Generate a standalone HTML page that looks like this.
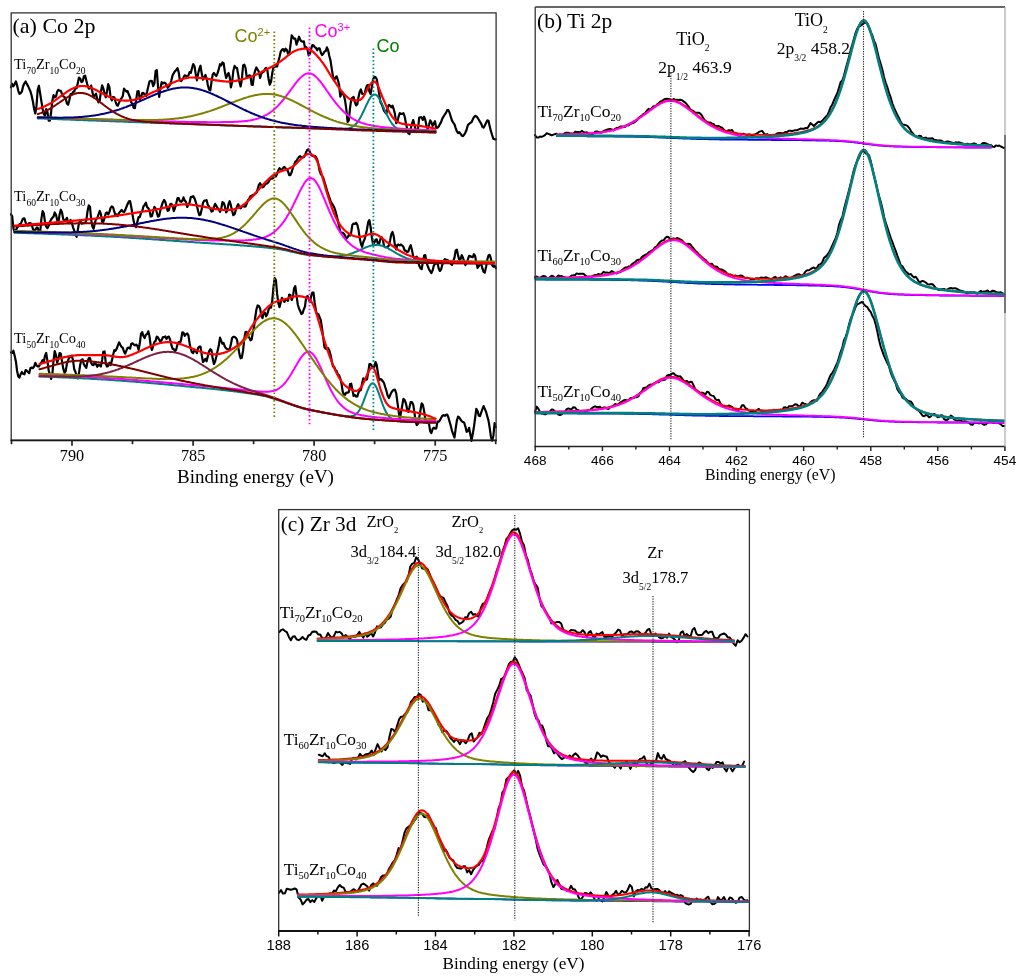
<!DOCTYPE html>
<html><head><meta charset="utf-8"><title>XPS spectra</title>
<style>html,body{margin:0;padding:0;background:#fff;width:1024px;height:980px;overflow:hidden}svg{display:block;will-change:transform}</style>
</head><body>
<svg width="1024" height="980" viewBox="0 0 1024 980">
<rect width="1024" height="980" fill="#fff"/>
<path d="M11,87.4 L12.2,83.7 L13.4,86.3 L14.6,84.3 L15.9,81.4 L17.1,85.4 L18.3,90.8 L19.5,93.8 L20.7,93.2 L21.9,91.5 L23.1,86.2 L24.4,83.3 L25.6,81.5 L26.8,83.9 L28,85.9 L29.2,88.6 L30.4,91.3 L31.7,95.9 L32.9,101.5 L34.1,108.7 L35.3,113.5 L36.5,105.7 L37.7,89.9 L38.9,85.7 L40.2,93.7 L41.4,101.4 L42.6,108.8 L43.8,114 L45,115.8 L46.2,109 L47.4,111.6 L48.7,120.6 L49.9,120.6 L51.1,112.5 L52.3,100.9 L53.5,95.1 L54.7,97.3 L56,96.5 L57.2,91.6 L58.4,89.8 L59.6,90.7 L60.8,90.8 L62,93.8 L63.2,96.1 L64.5,97.1 L65.7,98.4 L66.9,103.4 L68.1,104.6 L69.3,100.2 L70.5,94.2 L71.8,94.4 L73,92.1 L74.2,91.6 L75.4,87.9 L76.6,88.3 L77.8,83 L79,77.5 L80.3,78.8 L81.5,82.1 L82.7,81.3 L83.9,76.3 L85.1,75.6 L86.3,80.6 L87.5,85.2 L88.8,88.6 L90,88.2 L91.2,85.6 L92.4,92.1 L93.6,97.2 L94.8,95.1 L96,93.7 L97.3,99.2 L98.5,102.4 L99.7,100.5 L100.9,91.9 L102.1,85.4 L103.3,88.2 L104.6,93.6 L105.8,97.3 L107,91.7 L108.2,84.2 L109.4,87.1 L110.6,97.3 L111.8,100.4 L113.1,97 L114.3,97.4 L115.5,101.5 L116.7,105 L117.9,105.7 L119.1,102.4 L120.3,100 L121.6,98.2 L122.8,96 L124,88.6 L125.2,90.1 L126.4,91.7 L127.6,91.1 L128.9,94.8 L130.1,97.5 L131.3,102.4 L132.5,104 L133.7,107.9 L134.9,108.1 L136.1,100.2 L137.4,91.4 L138.6,91.2 L139.8,99.3 L141,97.5 L142.2,93 L143.4,92.8 L144.6,94.6 L145.9,96.1 L147.1,91.6 L148.3,86.5 L149.5,81.4 L150.7,80.8 L151.9,81.1 L153.2,86.1 L154.4,83.4 L155.6,71 L156.8,70.1 L158,86.4 L159.2,96.8 L160.4,88.5 L161.7,82.1 L162.9,83.6 L164.1,82.6 L165.3,83 L166.5,84.9 L167.7,87.8 L168.9,86.4 L170.2,84.6 L171.4,80.3 L172.6,75.3 L173.8,73.1 L175,71.2 L176.2,70.1 L177.5,68.1 L178.7,72.2 L179.9,80.6 L181.1,81.1 L182.3,79.4 L183.5,77.6 L184.7,75.3 L186,75.8 L187.2,76.9 L188.4,75.4 L189.6,72.1 L190.8,72.9 L192,68.3 L193.2,64 L194.5,66.2 L195.7,73.9 L196.9,80.3 L198.1,73.8 L199.3,68.9 L200.5,65.7 L201.8,74.1 L203,79.7 L204.2,77.7 L205.4,75 L206.6,78.3 L207.8,84.8 L209,89.6 L210.3,90.4 L211.5,82 L212.7,74.4 L213.9,73 L215.1,74.7 L216.3,76 L217.5,73.4 L218.8,69.2 L220,64.2 L221.2,65.4 L222.4,62.4 L223.6,63.1 L224.8,71.2 L226.1,77.9 L227.3,75.5 L228.5,72.9 L229.7,76.9 L230.9,87.5 L232.1,82.3 L233.3,71 L234.6,65.9 L235.8,67.6 L237,68 L238.2,74.6 L239.4,81.7 L240.6,86.5 L241.8,79.7 L243.1,65.5 L244.3,64.7 L245.5,67.6 L246.7,77 L247.9,76.9 L249.1,75.3 L250.4,75.7 L251.6,84.6 L252.8,85 L254,74.9 L255.2,70.5 L256.4,67.5 L257.6,69.6 L258.9,71.8 L260.1,78 L261.3,73.8 L262.5,72.2 L263.7,71.7 L264.9,68.9 L266.1,67.9 L267.4,70.5 L268.6,79.3 L269.8,84.7 L271,81.8 L272.2,73.3 L273.4,67.7 L274.7,66.8 L275.9,66.4 L277.1,66.5 L278.3,61.6 L279.5,56.9 L280.7,51.7 L281.9,49.7 L283.2,49.1 L284.4,51.4 L285.6,48.7 L286.8,49.8 L288,53.8 L289.2,54.4 L290.4,45.8 L291.7,35.3 L292.9,37.2 L294.1,38.7 L295.3,38.7 L296.5,44.6 L297.7,41.4 L299,36.7 L300.2,39.6 L301.4,41.3 L302.6,41.6 L303.8,41.3 L305,47.7 L306.2,47.1 L307.5,49.5 L308.7,55.5 L309.9,53.7 L311.1,49.1 L312.3,45.1 L313.5,45.4 L314.7,47.1 L316,48 L317.2,50.3 L318.4,48.3 L319.6,48.3 L320.8,52.5 L322,55.1 L323.3,53.8 L324.5,51.5 L325.7,51.2 L326.9,47.4 L328.1,50 L329.3,56 L330.5,60.4 L331.8,69.2 L333,76.5 L334.2,80.3 L335.4,77.5 L336.6,76.3 L337.8,79.8 L339,84.2 L340.3,96.7 L341.5,93.5 L342.7,92.4 L343.9,95.5 L345.1,100.6 L346.3,109.2 L347.6,121.9 L348.8,120.6 L350,108.3 L351.2,99.6 L352.4,97.7 L353.6,97 L354.8,101.8 L356.1,105.4 L357.3,104.3 L358.5,97.2 L359.7,91.8 L360.9,89.4 L362.1,93.7 L363.3,94.2 L364.6,93.7 L365.8,89.1 L367,85.4 L368.2,84.9 L369.4,91.5 L370.6,94.1 L371.9,86.4 L373.1,79.3 L374.3,76.9 L375.5,77 L376.7,79 L377.9,85.7 L379.1,93.4 L380.4,101.9 L381.6,104.3 L382.8,107.2 L384,110.9 L385.2,112.4 L386.4,113.6 L387.6,107.7 L388.9,104.9 L390.1,105.6 L391.3,107.3 L392.5,105.7 L393.7,109.2 L394.9,113.6 L396.2,123.2 L397.4,121.7 L398.6,116.6 L399.8,113.1 L401,113.9 L402.2,113.9 L403.4,113.1 L404.7,116.6 L405.9,123.3 L407.1,128.4 L408.3,133.3 L409.5,134 L410.7,128.8 L411.9,123.9 L413.2,120.1 L414.4,124.8 L415.6,129.4 L416.8,132.1 L418,129 L419.2,117.6 L420.5,117.3 L421.7,117.4 L422.9,119.9 L424.1,116.7 L425.3,120 L426.5,125.8 L427.7,128.8 L429,124.8 L430.2,120.4 L431.4,122.3 L432.6,126 L433.8,123.6 L435,121.2 L436.2,128 L437.5,127.6 L438.7,126.5 L439.9,124.1 L441.1,122.1 L442.3,118.6 L443.5,116.6 L444.8,114.5 L446,112.9 L447.2,110.1 L448.4,110.1 L449.6,112.8 L450.8,116.7 L452,120.6 L453.3,122.7 L454.5,124.4 L455.7,128.1 L456.9,131.4 L458.1,133.1 L459.3,132.2 L460.5,133.6 L461.8,135.7 L463,136.1 L464.2,134.6 L465.4,132.5 L466.6,129.7 L467.8,125.2 L469.1,123.8 L470.3,122.9 L471.5,122.2 L472.7,119.6 L473.9,117.2 L475.1,115.9 L476.3,116.3 L477.6,117.8 L478.8,119.8 L480,121.9 L481.2,123.7 L482.4,126.9 L483.6,127.7 L484.8,125.4 L486.1,122.8 L487.3,120.4 L488.5,120.8 L489.7,126.2 L490.9,131.2 L492.1,135 L493.4,138.8 L494.6,139.3 L495.8,139.3" fill="none" stroke="#000" stroke-width="2.2" stroke-linejoin="round" stroke-linecap="round"/>
<path d="M37.8,118.4 L38.8,118.4 L39.8,118.5 L40.8,118.5 L41.8,118.6 L42.8,118.6 L43.8,118.6 L44.8,118.7 L45.8,118.7 L46.8,118.7 L47.8,118.8 L48.8,118.8 L49.8,118.9 L50.8,118.9 L51.8,118.9 L52.8,119 L53.8,119 L54.8,119.1 L55.8,119.1 L56.8,119.1 L57.8,119.2 L58.8,119.2 L59.8,119.3 L60.8,119.3 L61.8,119.3 L62.8,119.4 L63.8,119.4 L64.8,119.4 L65.8,119.5 L66.8,119.5 L67.8,119.6 L68.8,119.6 L69.8,119.6 L70.8,119.7 L71.8,119.7 L72.8,119.8 L73.8,119.8 L74.8,119.8 L75.8,119.9 L76.8,119.9 L77.8,119.9 L78.8,120 L79.8,120 L80.8,120.1 L81.8,120.1 L82.8,120.1 L83.8,120.2 L84.8,120.2 L85.8,120.3 L86.8,120.3 L87.8,120.3 L88.8,120.4 L89.8,120.4 L90.8,120.4 L91.8,120.5 L92.8,120.5 L93.8,120.6 L94.8,120.6 L95.8,120.6 L96.8,120.7 L97.8,120.7 L98.8,120.7 L99.8,120.8 L100.8,120.8 L101.8,120.9 L102.8,120.9 L103.8,120.9 L104.8,121 L105.8,121 L106.8,121 L107.8,121.1 L108.8,121.1 L109.8,121.2 L110.8,121.2 L111.8,121.2 L112.8,121.3 L113.8,121.3 L114.8,121.3 L115.8,121.4 L116.8,121.4 L117.8,121.5 L118.8,121.5 L119.8,121.5 L120.8,121.6 L121.8,121.6 L122.8,121.6 L123.8,121.7 L124.8,121.7 L125.8,121.8 L126.8,121.8 L127.8,121.8 L128.8,121.9 L129.8,121.9 L130.8,121.9 L131.8,122 L132.8,122 L133.8,122.1 L134.8,122.1 L135.8,122.1 L136.8,122.2 L137.8,122.2 L138.8,122.2 L139.8,122.3 L140.8,122.3 L141.8,122.3 L142.8,122.4 L143.8,122.4 L144.8,122.5 L145.8,122.5 L146.8,122.5 L147.8,122.6 L148.8,122.6 L149.8,122.6 L150.8,122.7 L151.8,122.7 L152.8,122.7 L153.8,122.8 L154.8,122.8 L155.8,122.9 L156.8,122.9 L157.8,122.9 L158.8,123 L159.8,123 L160.8,123 L161.8,123.1 L162.8,123.1 L163.8,123.1 L164.8,123.2 L165.8,123.2 L166.8,123.3 L167.8,123.3 L168.8,123.3 L169.8,123.4 L170.8,123.4 L171.8,123.4 L172.8,123.5 L173.8,123.5 L174.8,123.5 L175.8,123.6 L176.8,123.6 L177.8,123.7 L178.8,123.7 L179.8,123.7 L180.8,123.8 L181.8,123.8 L182.8,123.8 L183.8,123.9 L184.8,123.9 L185.8,123.9 L186.8,124 L187.8,124 L188.8,124.1 L189.8,124.1 L190.8,124.1 L191.8,124.2 L192.8,124.2 L193.8,124.2 L194.8,124.3 L195.8,124.3 L196.8,124.3 L197.8,124.4 L198.8,124.4 L199.8,124.5 L200.8,124.5 L201.8,124.5 L202.8,124.6 L203.8,124.6 L204.8,124.6 L205.8,124.7 L206.8,124.7 L207.8,124.7 L208.8,124.8 L209.8,124.8 L210.8,124.9 L211.8,124.9 L212.8,124.9 L213.8,125 L214.8,125 L215.8,125 L216.8,125.1 L217.8,125.1 L218.8,125.1 L219.8,125.2 L220.8,125.2 L221.8,125.3 L222.8,125.3 L223.8,125.3 L224.8,125.4 L225.8,125.4 L226.8,125.4 L227.8,125.5 L228.8,125.5 L229.8,125.5 L230.8,125.6 L231.8,125.6 L232.8,125.7 L233.8,125.7 L234.8,125.7 L235.8,125.8 L236.8,125.8 L237.8,125.8 L238.8,125.9 L239.8,125.9 L240.8,125.9 L241.8,126 L242.8,126 L243.8,126 L244.8,126.1 L245.8,126.1 L246.8,126.2 L247.8,126.2 L248.8,126.2 L249.8,126.3 L250.8,126.3 L251.8,126.3 L252.8,126.4 L253.8,126.4 L254.8,126.4 L255.8,126.5 L256.8,126.5 L257.8,126.5 L258.8,126.6 L259.8,126.6 L260.8,126.6 L261.8,126.7 L262.8,126.7 L263.8,126.7 L264.8,126.8 L265.8,126.8 L266.8,126.8 L267.8,126.9 L268.8,126.9 L269.8,126.9 L270.8,127 L271.8,127 L272.8,127 L273.8,127.1 L274.8,127.1 L275.8,127.1 L276.8,127.2 L277.8,127.2 L278.8,127.2 L279.8,127.3 L280.8,127.3 L281.8,127.3 L282.8,127.4 L283.8,127.4 L284.8,127.4 L285.8,127.5 L286.8,127.5 L287.8,127.5 L288.8,127.6 L289.8,127.6 L290.8,127.6 L291.8,127.7 L292.8,127.7 L293.8,127.7 L294.8,127.7 L295.8,127.8 L296.8,127.8 L297.8,127.8 L298.8,127.9 L299.8,127.9 L300.8,127.9 L301.8,128 L302.8,128 L303.8,128 L304.8,128.1 L305.8,128.1 L306.8,128.1 L307.8,128.2 L308.8,128.2 L309.8,128.2 L310.8,128.2 L311.8,128.3 L312.8,128.3 L313.8,128.3 L314.8,128.4 L315.8,128.4 L316.8,128.4 L317.8,128.5 L318.8,128.5 L319.8,128.5 L320.8,128.6 L321.8,128.6 L322.8,128.6 L323.8,128.7 L324.8,128.7 L325.8,128.7 L326.8,128.8 L327.8,128.8 L328.8,128.8 L329.8,128.9 L330.8,128.9 L331.8,128.9 L332.8,129 L333.8,129 L334.8,129 L335.8,129 L336.8,129.1 L337.8,129.1 L338.8,129.1 L339.8,129.1 L340.8,129.1 L341.8,129.1 L342.8,129 L343.8,129 L344.8,128.9 L345.8,128.8 L346.8,128.7 L347.8,128.5 L348.8,128.3 L349.8,128 L350.8,127.6 L351.8,127.1 L352.8,126.5 L353.8,125.8 L354.8,125 L355.8,124 L356.8,122.9 L357.8,121.6 L358.8,120.2 L359.8,118.5 L360.8,116.8 L361.8,114.9 L362.8,112.8 L363.8,110.7 L364.8,108.6 L365.8,106.4 L366.8,104.2 L367.8,102.2 L368.8,100.3 L369.8,98.5 L370.8,97 L371.8,95.9 L372.8,95 L373.8,94.5 L374.8,94.4 L375.8,94.7 L376.8,95.4 L377.8,96.5 L378.8,97.9 L379.8,99.5 L380.8,101.4 L381.8,103.5 L382.8,105.6 L383.8,107.9 L384.8,110.1 L385.8,112.3 L386.8,114.5 L387.8,116.5 L388.8,118.4 L389.8,120.2 L390.8,121.8 L391.8,123.3 L392.8,124.6 L393.8,125.7 L394.8,126.7 L395.8,127.5 L396.8,128.3 L397.8,128.9 L398.8,129.4 L399.8,129.8 L400.8,130.1 L401.8,130.4 L402.8,130.6 L403.8,130.8 L404.8,131 L405.8,131.1 L406.8,131.2 L407.8,131.3 L408.8,131.4 L409.8,131.5 L410.8,131.5 L411.8,131.6 L412.8,131.6 L413.8,131.7 L414.8,131.7 L415.8,131.8 L416.8,131.8 L417.8,131.8 L418.8,131.9 L419.8,131.9 L420.8,131.9 L421.8,132 L422.8,132 L423.8,132 L424.8,132.1 L425.8,132.1 L426.8,132.1 L427.8,132.2 L428.8,132.2 L429.8,132.2 L430.8,132.2 L431.8,132.3 L432.8,132.3 L433.8,132.3 L434.8,132.4 L435.5,132.4" fill="none" stroke="#008080" stroke-width="2.0" stroke-linejoin="round" stroke-linecap="round"/>
<path d="M37.8,117.2 L38.8,117.2 L39.8,117.2 L40.8,117.3 L41.8,117.3 L42.8,117.4 L43.8,117.4 L44.8,117.4 L45.8,117.5 L46.8,117.5 L47.8,117.5 L48.8,117.6 L49.8,117.6 L50.8,117.6 L51.8,117.7 L52.8,117.7 L53.8,117.8 L54.8,117.8 L55.8,117.8 L56.8,117.9 L57.8,117.9 L58.8,117.9 L59.8,118 L60.8,118 L61.8,118.1 L62.8,118.1 L63.8,118.1 L64.8,118.2 L65.8,118.2 L66.8,118.2 L67.8,118.3 L68.8,118.3 L69.8,118.3 L70.8,118.4 L71.8,118.4 L72.8,118.5 L73.8,118.5 L74.8,118.5 L75.8,118.6 L76.8,118.6 L77.8,118.6 L78.8,118.7 L79.8,118.7 L80.8,118.7 L81.8,118.8 L82.8,118.8 L83.8,118.8 L84.8,118.9 L85.8,118.9 L86.8,118.9 L87.8,119 L88.8,119 L89.8,119.1 L90.8,119.1 L91.8,119.1 L92.8,119.2 L93.8,119.2 L94.8,119.2 L95.8,119.3 L96.8,119.3 L97.8,119.3 L98.8,119.4 L99.8,119.4 L100.8,119.4 L101.8,119.5 L102.8,119.5 L103.8,119.5 L104.8,119.6 L105.8,119.6 L106.8,119.6 L107.8,119.7 L108.8,119.7 L109.8,119.7 L110.8,119.8 L111.8,119.8 L112.8,119.8 L113.8,119.9 L114.8,119.9 L115.8,119.9 L116.8,120 L117.8,120 L118.8,120 L119.8,120.1 L120.8,120.1 L121.8,120.1 L122.8,120.2 L123.8,120.2 L124.8,120.2 L125.8,120.3 L126.8,120.3 L127.8,120.3 L128.8,120.3 L129.8,120.4 L130.8,120.4 L131.8,120.4 L132.8,120.5 L133.8,120.5 L134.8,120.5 L135.8,120.6 L136.8,120.6 L137.8,120.6 L138.8,120.7 L139.8,120.7 L140.8,120.7 L141.8,120.7 L142.8,120.8 L143.8,120.8 L144.8,120.8 L145.8,120.9 L146.8,120.9 L147.8,120.9 L148.8,120.9 L149.8,121 L150.8,121 L151.8,121 L152.8,121.1 L153.8,121.1 L154.8,121.1 L155.8,121.1 L156.8,121.2 L157.8,121.2 L158.8,121.2 L159.8,121.2 L160.8,121.3 L161.8,121.3 L162.8,121.3 L163.8,121.4 L164.8,121.4 L165.8,121.4 L166.8,121.4 L167.8,121.5 L168.8,121.5 L169.8,121.5 L170.8,121.5 L171.8,121.5 L172.8,121.6 L173.8,121.6 L174.8,121.6 L175.8,121.6 L176.8,121.7 L177.8,121.7 L178.8,121.7 L179.8,121.7 L180.8,121.8 L181.8,121.8 L182.8,121.8 L183.8,121.8 L184.8,121.8 L185.8,121.9 L186.8,121.9 L187.8,121.9 L188.8,121.9 L189.8,121.9 L190.8,121.9 L191.8,122 L192.8,122 L193.8,122 L194.8,122 L195.8,122 L196.8,122 L197.8,122 L198.8,122.1 L199.8,122.1 L200.8,122.1 L201.8,122.1 L202.8,122.1 L203.8,122.1 L204.8,122.1 L205.8,122.1 L206.8,122.1 L207.8,122.2 L208.8,122.2 L209.8,122.2 L210.8,122.2 L211.8,122.2 L212.8,122.2 L213.8,122.2 L214.8,122.2 L215.8,122.2 L216.8,122.2 L217.8,122.2 L218.8,122.2 L219.8,122.2 L220.8,122.2 L221.8,122.1 L222.8,122.1 L223.8,122.1 L224.8,122.1 L225.8,122.1 L226.8,122.1 L227.8,122 L228.8,122 L229.8,122 L230.8,122 L231.8,121.9 L232.8,121.9 L233.8,121.9 L234.8,121.8 L235.8,121.8 L236.8,121.7 L237.8,121.7 L238.8,121.6 L239.8,121.5 L240.8,121.5 L241.8,121.4 L242.8,121.3 L243.8,121.2 L244.8,121.1 L245.8,121 L246.8,120.9 L247.8,120.7 L248.8,120.6 L249.8,120.4 L250.8,120.2 L251.8,120.1 L252.8,119.9 L253.8,119.6 L254.8,119.4 L255.8,119.1 L256.8,118.9 L257.8,118.6 L258.8,118.2 L259.8,117.9 L260.8,117.5 L261.8,117.1 L262.8,116.7 L263.8,116.2 L264.8,115.7 L265.8,115.2 L266.8,114.6 L267.8,114 L268.8,113.4 L269.8,112.7 L270.8,112 L271.8,111.3 L272.8,110.5 L273.8,109.6 L274.8,108.8 L275.8,107.8 L276.8,106.9 L277.8,105.9 L278.8,104.8 L279.8,103.8 L280.8,102.6 L281.8,101.5 L282.8,100.3 L283.8,99.1 L284.8,97.8 L285.8,96.5 L286.8,95.2 L287.8,93.9 L288.8,92.6 L289.8,91.2 L290.8,89.8 L291.8,88.5 L292.8,87.1 L293.8,85.8 L294.8,84.4 L295.8,83.1 L296.8,81.9 L297.8,80.7 L298.8,79.5 L299.8,78.4 L300.8,77.4 L301.8,76.5 L302.8,75.7 L303.8,75 L304.8,74.4 L305.8,73.9 L306.8,73.6 L307.8,73.4 L308.8,73.3 L309.8,73.4 L310.8,73.6 L311.8,73.9 L312.8,74.4 L313.8,75.1 L314.8,75.8 L315.8,76.6 L316.8,77.6 L317.8,78.6 L318.8,79.8 L319.8,81 L320.8,82.2 L321.8,83.5 L322.8,84.9 L323.8,86.3 L324.8,87.7 L325.8,89.1 L326.8,90.6 L327.8,92 L328.8,93.4 L329.8,94.9 L330.8,96.3 L331.8,97.7 L332.8,99 L333.8,100.4 L334.8,101.7 L335.8,103 L336.8,104.2 L337.8,105.4 L338.8,106.6 L339.8,107.7 L340.8,108.8 L341.8,109.8 L342.8,110.8 L343.8,111.8 L344.8,112.7 L345.8,113.6 L346.8,114.5 L347.8,115.3 L348.8,116 L349.8,116.8 L350.8,117.4 L351.8,118.1 L352.8,118.7 L353.8,119.3 L354.8,119.8 L355.8,120.4 L356.8,120.8 L357.8,121.3 L358.8,121.7 L359.8,122.1 L360.8,122.5 L361.8,122.9 L362.8,123.2 L363.8,123.5 L364.8,123.8 L365.8,124.1 L366.8,124.4 L367.8,124.6 L368.8,124.9 L369.8,125.1 L370.8,125.3 L371.8,125.5 L372.8,125.7 L373.8,125.9 L374.8,126 L375.8,126.2 L376.8,126.3 L377.8,126.5 L378.8,126.6 L379.8,126.8 L380.8,126.9 L381.8,127 L382.8,127.1 L383.8,127.2 L384.8,127.3 L385.8,127.4 L386.8,127.5 L387.8,127.6 L388.8,127.7 L389.8,127.8 L390.8,127.9 L391.8,128 L392.8,128.1 L393.8,128.2 L394.8,128.2 L395.8,128.3 L396.8,128.4 L397.8,128.5 L398.8,128.5 L399.8,128.6 L400.8,128.7 L401.8,128.7 L402.8,128.8 L403.8,128.9 L404.8,128.9 L405.8,129 L406.8,129.1 L407.8,129.1 L408.8,129.2 L409.8,129.2 L410.8,129.3 L411.8,129.4 L412.8,129.4 L413.8,129.5 L414.8,129.5 L415.8,129.6 L416.8,129.6 L417.8,129.7 L418.8,129.7 L419.8,129.8 L420.8,129.8 L421.8,129.9 L422.8,129.9 L423.8,130 L424.8,130 L425.8,130 L426.8,130.1 L427.8,130.1 L428.8,130.2 L429.8,130.2 L430.8,130.3 L431.8,130.3 L432.8,130.3 L433.8,130.4 L434.8,130.4 L435.5,130.4" fill="none" stroke="#FF00FF" stroke-width="2.0" stroke-linejoin="round" stroke-linecap="round"/>
<path d="M37.8,117.1 L38.8,117.1 L39.8,117.2 L40.8,117.2 L41.8,117.3 L42.8,117.3 L43.8,117.3 L44.8,117.4 L45.8,117.4 L46.8,117.4 L47.8,117.5 L48.8,117.5 L49.8,117.5 L50.8,117.6 L51.8,117.6 L52.8,117.7 L53.8,117.7 L54.8,117.7 L55.8,117.8 L56.8,117.8 L57.8,117.8 L58.8,117.9 L59.8,117.9 L60.8,117.9 L61.8,118 L62.8,118 L63.8,118 L64.8,118.1 L65.8,118.1 L66.8,118.1 L67.8,118.2 L68.8,118.2 L69.8,118.3 L70.8,118.3 L71.8,118.3 L72.8,118.4 L73.8,118.4 L74.8,118.4 L75.8,118.5 L76.8,118.5 L77.8,118.5 L78.8,118.6 L79.8,118.6 L80.8,118.6 L81.8,118.7 L82.8,118.7 L83.8,118.7 L84.8,118.8 L85.8,118.8 L86.8,118.8 L87.8,118.9 L88.8,118.9 L89.8,118.9 L90.8,119 L91.8,119 L92.8,119 L93.8,119.1 L94.8,119.1 L95.8,119.1 L96.8,119.2 L97.8,119.2 L98.8,119.2 L99.8,119.2 L100.8,119.3 L101.8,119.3 L102.8,119.3 L103.8,119.4 L104.8,119.4 L105.8,119.4 L106.8,119.5 L107.8,119.5 L108.8,119.5 L109.8,119.5 L110.8,119.6 L111.8,119.6 L112.8,119.6 L113.8,119.7 L114.8,119.7 L115.8,119.7 L116.8,119.7 L117.8,119.8 L118.8,119.8 L119.8,119.8 L120.8,119.8 L121.8,119.8 L122.8,119.9 L123.8,119.9 L124.8,119.9 L125.8,119.9 L126.8,120 L127.8,120 L128.8,120 L129.8,120 L130.8,120 L131.8,120 L132.8,120.1 L133.8,120.1 L134.8,120.1 L135.8,120.1 L136.8,120.1 L137.8,120.1 L138.8,120.1 L139.8,120.1 L140.8,120.1 L141.8,120.1 L142.8,120.1 L143.8,120.1 L144.8,120.1 L145.8,120.1 L146.8,120.1 L147.8,120.1 L148.8,120.1 L149.8,120.1 L150.8,120.1 L151.8,120 L152.8,120 L153.8,120 L154.8,120 L155.8,119.9 L156.8,119.9 L157.8,119.9 L158.8,119.8 L159.8,119.8 L160.8,119.8 L161.8,119.7 L162.8,119.7 L163.8,119.6 L164.8,119.5 L165.8,119.5 L166.8,119.4 L167.8,119.3 L168.8,119.3 L169.8,119.2 L170.8,119.1 L171.8,119 L172.8,118.9 L173.8,118.8 L174.8,118.7 L175.8,118.6 L176.8,118.5 L177.8,118.4 L178.8,118.2 L179.8,118.1 L180.8,118 L181.8,117.8 L182.8,117.7 L183.8,117.5 L184.8,117.3 L185.8,117.2 L186.8,117 L187.8,116.8 L188.8,116.6 L189.8,116.4 L190.8,116.2 L191.8,116 L192.8,115.8 L193.8,115.6 L194.8,115.3 L195.8,115.1 L196.8,114.8 L197.8,114.6 L198.8,114.3 L199.8,114.1 L200.8,113.8 L201.8,113.5 L202.8,113.2 L203.8,112.9 L204.8,112.6 L205.8,112.3 L206.8,112 L207.8,111.7 L208.8,111.4 L209.8,111.1 L210.8,110.7 L211.8,110.4 L212.8,110 L213.8,109.7 L214.8,109.3 L215.8,109 L216.8,108.6 L217.8,108.2 L218.8,107.8 L219.8,107.5 L220.8,107.1 L221.8,106.7 L222.8,106.3 L223.8,105.9 L224.8,105.5 L225.8,105.1 L226.8,104.7 L227.8,104.3 L228.8,103.9 L229.8,103.5 L230.8,103.2 L231.8,102.8 L232.8,102.4 L233.8,102 L234.8,101.6 L235.8,101.2 L236.8,100.8 L237.8,100.5 L238.8,100.1 L239.8,99.7 L240.8,99.4 L241.8,99 L242.8,98.7 L243.8,98.3 L244.8,98 L245.8,97.7 L246.8,97.4 L247.8,97.1 L248.8,96.8 L249.8,96.5 L250.8,96.2 L251.8,96 L252.8,95.7 L253.8,95.5 L254.8,95.3 L255.8,95.1 L256.8,94.9 L257.8,94.7 L258.8,94.6 L259.8,94.4 L260.8,94.3 L261.8,94.2 L262.8,94.1 L263.8,94 L264.8,94 L265.8,93.9 L266.8,93.9 L267.8,93.9 L268.8,94 L269.8,94 L270.8,94.1 L271.8,94.2 L272.8,94.3 L273.8,94.4 L274.8,94.6 L275.8,94.8 L276.8,95 L277.8,95.2 L278.8,95.5 L279.8,95.7 L280.8,96 L281.8,96.4 L282.8,96.7 L283.8,97 L284.8,97.4 L285.8,97.8 L286.8,98.2 L287.8,98.6 L288.8,99.1 L289.8,99.5 L290.8,100 L291.8,100.4 L292.8,100.9 L293.8,101.4 L294.8,101.9 L295.8,102.4 L296.8,102.9 L297.8,103.4 L298.8,103.9 L299.8,104.5 L300.8,105 L301.8,105.5 L302.8,106.1 L303.8,106.6 L304.8,107.1 L305.8,107.7 L306.8,108.2 L307.8,108.7 L308.8,109.3 L309.8,109.8 L310.8,110.3 L311.8,110.8 L312.8,111.3 L313.8,111.9 L314.8,112.4 L315.8,112.9 L316.8,113.4 L317.8,113.8 L318.8,114.3 L319.8,114.8 L320.8,115.3 L321.8,115.7 L322.8,116.2 L323.8,116.6 L324.8,117 L325.8,117.5 L326.8,117.9 L327.8,118.3 L328.8,118.7 L329.8,119.1 L330.8,119.5 L331.8,119.8 L332.8,120.2 L333.8,120.6 L334.8,120.9 L335.8,121.2 L336.8,121.6 L337.8,121.9 L338.8,122.2 L339.8,122.5 L340.8,122.8 L341.8,123 L342.8,123.3 L343.8,123.6 L344.8,123.8 L345.8,124.1 L346.8,124.3 L347.8,124.5 L348.8,124.8 L349.8,125 L350.8,125.2 L351.8,125.4 L352.8,125.6 L353.8,125.8 L354.8,125.9 L355.8,126.1 L356.8,126.3 L357.8,126.4 L358.8,126.6 L359.8,126.7 L360.8,126.9 L361.8,127 L362.8,127.2 L363.8,127.3 L364.8,127.4 L365.8,127.5 L366.8,127.6 L367.8,127.8 L368.8,127.9 L369.8,128 L370.8,128.1 L371.8,128.2 L372.8,128.2 L373.8,128.3 L374.8,128.4 L375.8,128.5 L376.8,128.6 L377.8,128.7 L378.8,128.7 L379.8,128.8 L380.8,128.9 L381.8,128.9 L382.8,129 L383.8,129.1 L384.8,129.1 L385.8,129.2 L386.8,129.2 L387.8,129.3 L388.8,129.4 L389.8,129.4 L390.8,129.5 L391.8,129.5 L392.8,129.6 L393.8,129.6 L394.8,129.7 L395.8,129.7 L396.8,129.7 L397.8,129.8 L398.8,129.8 L399.8,129.9 L400.8,129.9 L401.8,130 L402.8,130 L403.8,130 L404.8,130.1 L405.8,130.1 L406.8,130.2 L407.8,130.2 L408.8,130.2 L409.8,130.3 L410.8,130.3 L411.8,130.3 L412.8,130.4 L413.8,130.4 L414.8,130.4 L415.8,130.5 L416.8,130.5 L417.8,130.6 L418.8,130.6 L419.8,130.6 L420.8,130.6 L421.8,130.7 L422.8,130.7 L423.8,130.7 L424.8,130.8 L425.8,130.8 L426.8,130.8 L427.8,130.9 L428.8,130.9 L429.8,130.9 L430.8,130.9 L431.8,131 L432.8,131 L433.8,131 L434.8,131.1 L435.5,131.1" fill="none" stroke="#808000" stroke-width="2.0" stroke-linejoin="round" stroke-linecap="round"/>
<path d="M37.8,117.4 L38.8,117.4 L39.8,117.4 L40.8,117.5 L41.8,117.5 L42.8,117.5 L43.8,117.5 L44.8,117.5 L45.8,117.6 L46.8,117.6 L47.8,117.6 L48.8,117.6 L49.8,117.6 L50.8,117.6 L51.8,117.6 L52.8,117.7 L53.8,117.7 L54.8,117.7 L55.8,117.7 L56.8,117.7 L57.8,117.7 L58.8,117.7 L59.8,117.7 L60.8,117.7 L61.8,117.7 L62.8,117.7 L63.8,117.6 L64.8,117.6 L65.8,117.6 L66.8,117.6 L67.8,117.6 L68.8,117.5 L69.8,117.5 L70.8,117.5 L71.8,117.4 L72.8,117.4 L73.8,117.4 L74.8,117.3 L75.8,117.3 L76.8,117.2 L77.8,117.2 L78.8,117.1 L79.8,117 L80.8,117 L81.8,116.9 L82.8,116.8 L83.8,116.7 L84.8,116.6 L85.8,116.5 L86.8,116.4 L87.8,116.3 L88.8,116.2 L89.8,116.1 L90.8,115.9 L91.8,115.8 L92.8,115.7 L93.8,115.5 L94.8,115.4 L95.8,115.2 L96.8,115.1 L97.8,114.9 L98.8,114.7 L99.8,114.5 L100.8,114.3 L101.8,114.1 L102.8,113.9 L103.8,113.7 L104.8,113.5 L105.8,113.3 L106.8,113 L107.8,112.8 L108.8,112.5 L109.8,112.3 L110.8,112 L111.8,111.7 L112.8,111.4 L113.8,111.1 L114.8,110.8 L115.8,110.5 L116.8,110.2 L117.8,109.9 L118.8,109.6 L119.8,109.2 L120.8,108.9 L121.8,108.5 L122.8,108.2 L123.8,107.8 L124.8,107.4 L125.8,107.1 L126.8,106.7 L127.8,106.3 L128.8,105.9 L129.8,105.5 L130.8,105.1 L131.8,104.7 L132.8,104.3 L133.8,103.8 L134.8,103.4 L135.8,103 L136.8,102.6 L137.8,102.1 L138.8,101.7 L139.8,101.2 L140.8,100.8 L141.8,100.4 L142.8,99.9 L143.8,99.5 L144.8,99 L145.8,98.6 L146.8,98.1 L147.8,97.7 L148.8,97.3 L149.8,96.8 L150.8,96.4 L151.8,96 L152.8,95.5 L153.8,95.1 L154.8,94.7 L155.8,94.3 L156.8,93.9 L157.8,93.5 L158.8,93.1 L159.8,92.7 L160.8,92.4 L161.8,92 L162.8,91.7 L163.8,91.3 L164.8,91 L165.8,90.7 L166.8,90.4 L167.8,90.1 L168.8,89.8 L169.8,89.5 L170.8,89.3 L171.8,89 L172.8,88.8 L173.8,88.6 L174.8,88.4 L175.8,88.2 L176.8,88.1 L177.8,87.9 L178.8,87.8 L179.8,87.7 L180.8,87.6 L181.8,87.6 L182.8,87.5 L183.8,87.5 L184.8,87.5 L185.8,87.5 L186.8,87.5 L187.8,87.5 L188.8,87.6 L189.8,87.7 L190.8,87.8 L191.8,87.9 L192.8,88 L193.8,88.2 L194.8,88.4 L195.8,88.6 L196.8,88.8 L197.8,89 L198.8,89.2 L199.8,89.5 L200.8,89.8 L201.8,90.1 L202.8,90.4 L203.8,90.7 L204.8,91 L205.8,91.4 L206.8,91.8 L207.8,92.1 L208.8,92.5 L209.8,92.9 L210.8,93.3 L211.8,93.8 L212.8,94.2 L213.8,94.6 L214.8,95.1 L215.8,95.5 L216.8,96 L217.8,96.5 L218.8,97 L219.8,97.4 L220.8,97.9 L221.8,98.4 L222.8,98.9 L223.8,99.4 L224.8,99.9 L225.8,100.5 L226.8,101 L227.8,101.5 L228.8,102 L229.8,102.5 L230.8,103 L231.8,103.5 L232.8,104.1 L233.8,104.6 L234.8,105.1 L235.8,105.6 L236.8,106.1 L237.8,106.6 L238.8,107.1 L239.8,107.6 L240.8,108.1 L241.8,108.6 L242.8,109.1 L243.8,109.6 L244.8,110 L245.8,110.5 L246.8,111 L247.8,111.4 L248.8,111.9 L249.8,112.3 L250.8,112.8 L251.8,113.2 L252.8,113.6 L253.8,114 L254.8,114.5 L255.8,114.9 L256.8,115.3 L257.8,115.6 L258.8,116 L259.8,116.4 L260.8,116.8 L261.8,117.1 L262.8,117.5 L263.8,117.8 L264.8,118.2 L265.8,118.5 L266.8,118.8 L267.8,119.1 L268.8,119.4 L269.8,119.7 L270.8,120 L271.8,120.3 L272.8,120.6 L273.8,120.8 L274.8,121.1 L275.8,121.3 L276.8,121.6 L277.8,121.8 L278.8,122 L279.8,122.3 L280.8,122.5 L281.8,122.7 L282.8,122.9 L283.8,123.1 L284.8,123.3 L285.8,123.5 L286.8,123.6 L287.8,123.8 L288.8,124 L289.8,124.2 L290.8,124.3 L291.8,124.5 L292.8,124.6 L293.8,124.8 L294.8,124.9 L295.8,125 L296.8,125.2 L297.8,125.3 L298.8,125.4 L299.8,125.5 L300.8,125.6 L301.8,125.8 L302.8,125.9 L303.8,126 L304.8,126.1 L305.8,126.2 L306.8,126.3 L307.8,126.4 L308.8,126.5 L309.8,126.5 L310.8,126.6 L311.8,126.7 L312.8,126.8 L313.8,126.9 L314.8,127 L315.8,127 L316.8,127.1 L317.8,127.2 L318.8,127.3 L319.8,127.3 L320.8,127.4 L321.8,127.5 L322.8,127.5 L323.8,127.6 L324.8,127.7 L325.8,127.7 L326.8,127.8 L327.8,127.9 L328.8,127.9 L329.8,128 L330.8,128 L331.8,128.1 L332.8,128.2 L333.8,128.2 L334.8,128.3 L335.8,128.3 L336.8,128.4 L337.8,128.4 L338.8,128.5 L339.8,128.5 L340.8,128.6 L341.8,128.6 L342.8,128.7 L343.8,128.7 L344.8,128.8 L345.8,128.8 L346.8,128.9 L347.8,128.9 L348.8,129 L349.8,129 L350.8,129.1 L351.8,129.1 L352.8,129.2 L353.8,129.2 L354.8,129.3 L355.8,129.3 L356.8,129.4 L357.8,129.4 L358.8,129.4 L359.8,129.5 L360.8,129.5 L361.8,129.6 L362.8,129.6 L363.8,129.6 L364.8,129.7 L365.8,129.7 L366.8,129.8 L367.8,129.8 L368.8,129.8 L369.8,129.9 L370.8,129.9 L371.8,130 L372.8,130 L373.8,130 L374.8,130.1 L375.8,130.1 L376.8,130.1 L377.8,130.2 L378.8,130.2 L379.8,130.2 L380.8,130.3 L381.8,130.3 L382.8,130.3 L383.8,130.4 L384.8,130.4 L385.8,130.4 L386.8,130.5 L387.8,130.5 L388.8,130.5 L389.8,130.6 L390.8,130.6 L391.8,130.6 L392.8,130.7 L393.8,130.7 L394.8,130.7 L395.8,130.8 L396.8,130.8 L397.8,130.8 L398.8,130.8 L399.8,130.9 L400.8,130.9 L401.8,130.9 L402.8,131 L403.8,131 L404.8,131 L405.8,131.1 L406.8,131.1 L407.8,131.1 L408.8,131.1 L409.8,131.2 L410.8,131.2 L411.8,131.2 L412.8,131.3 L413.8,131.3 L414.8,131.3 L415.8,131.3 L416.8,131.4 L417.8,131.4 L418.8,131.4 L419.8,131.5 L420.8,131.5 L421.8,131.5 L422.8,131.5 L423.8,131.6 L424.8,131.6 L425.8,131.6 L426.8,131.6 L427.8,131.7 L428.8,131.7 L429.8,131.7 L430.8,131.7 L431.8,131.8 L432.8,131.8 L433.8,131.8 L434.8,131.8 L435.5,131.8" fill="none" stroke="#000080" stroke-width="2.0" stroke-linejoin="round" stroke-linecap="round"/>
<path d="M37.8,114.1 L38.8,113.8 L39.8,113.4 L40.8,113.1 L41.8,112.7 L42.8,112.3 L43.8,111.9 L44.8,111.4 L45.8,110.9 L46.8,110.4 L47.8,109.9 L48.8,109.4 L49.8,108.8 L50.8,108.2 L51.8,107.6 L52.8,107 L53.8,106.3 L54.8,105.7 L55.8,105 L56.8,104.3 L57.8,103.6 L58.8,103 L59.8,102.3 L60.8,101.6 L61.8,100.9 L62.8,100.2 L63.8,99.5 L64.8,98.9 L65.8,98.2 L66.8,97.6 L67.8,97 L68.8,96.4 L69.8,95.9 L70.8,95.4 L71.8,94.9 L72.8,94.5 L73.8,94.1 L74.8,93.8 L75.8,93.5 L76.8,93.2 L77.8,93.1 L78.8,92.9 L79.8,92.9 L80.8,92.9 L81.8,92.9 L82.8,93 L83.8,93.2 L84.8,93.4 L85.8,93.7 L86.8,94 L87.8,94.4 L88.8,94.8 L89.8,95.3 L90.8,95.8 L91.8,96.4 L92.8,97 L93.8,97.6 L94.8,98.3 L95.8,99 L96.8,99.7 L97.8,100.4 L98.8,101.1 L99.8,101.9 L100.8,102.7 L101.8,103.4 L102.8,104.2 L103.8,105 L104.8,105.7 L105.8,106.5 L106.8,107.2 L107.8,108 L108.8,108.7 L109.8,109.4 L110.8,110.1 L111.8,110.8 L112.8,111.5 L113.8,112.1 L114.8,112.7 L115.8,113.3 L116.8,113.9 L117.8,114.4 L118.8,114.9 L119.8,115.4 L120.8,115.9 L121.8,116.3 L122.8,116.8 L123.8,117.2 L124.8,117.6 L125.8,117.9 L126.8,118.3 L127.8,118.6 L128.8,118.9 L129.8,119.2 L130.8,119.4 L131.8,119.7 L132.8,119.9 L133.8,120.1 L134.8,120.3 L135.8,120.5 L136.8,120.7 L137.8,120.8 L138.8,121 L139.8,121.1 L140.8,121.2 L141.8,121.4 L142.8,121.5 L143.8,121.6 L144.8,121.7 L145.8,121.8 L146.8,121.9 L147.8,122 L148.8,122 L149.8,122.1 L150.8,122.2 L151.8,122.3 L152.8,122.3 L153.8,122.4 L154.8,122.4 L155.8,122.5 L156.8,122.5 L157.8,122.6 L158.8,122.7 L159.8,122.7 L160.8,122.8 L161.8,122.8 L162.8,122.8 L163.8,122.9 L164.8,122.9 L165.8,123 L166.8,123 L167.8,123.1 L168.8,123.1 L169.8,123.2 L170.8,123.2 L171.8,123.2 L172.8,123.3 L173.8,123.3 L174.8,123.4 L175.8,123.4 L176.8,123.4 L177.8,123.5 L178.8,123.5 L179.8,123.6 L180.8,123.6 L181.8,123.6 L182.8,123.7 L183.8,123.7 L184.8,123.8 L185.8,123.8 L186.8,123.8 L187.8,123.9 L188.8,123.9 L189.8,124 L190.8,124 L191.8,124 L192.8,124.1 L193.8,124.1 L194.8,124.2 L195.8,124.2 L196.8,124.2 L197.8,124.3 L198.8,124.3 L199.8,124.3 L200.8,124.4 L201.8,124.4 L202.8,124.5 L203.8,124.5 L204.8,124.5 L205.8,124.6 L206.8,124.6 L207.8,124.7 L208.8,124.7 L209.8,124.7 L210.8,124.8 L211.8,124.8 L212.8,124.8 L213.8,124.9 L214.8,124.9 L215.8,125 L216.8,125 L217.8,125 L218.8,125.1 L219.8,125.1 L220.8,125.2 L221.8,125.2 L222.8,125.2 L223.8,125.3 L224.8,125.3 L225.8,125.3 L226.8,125.4 L227.8,125.4 L228.8,125.5 L229.8,125.5 L230.8,125.5 L231.8,125.6 L232.8,125.6 L233.8,125.6 L234.8,125.7 L235.8,125.7 L236.8,125.7 L237.8,125.8 L238.8,125.8 L239.8,125.9 L240.8,125.9 L241.8,125.9 L242.8,126 L243.8,126 L244.8,126 L245.8,126.1 L246.8,126.1 L247.8,126.2 L248.8,126.2 L249.8,126.2 L250.8,126.3 L251.8,126.3 L252.8,126.3 L253.8,126.4 L254.8,126.4 L255.8,126.4 L256.8,126.5 L257.8,126.5 L258.8,126.6 L259.8,126.6 L260.8,126.6 L261.8,126.7 L262.8,126.7 L263.8,126.7 L264.8,126.8 L265.8,126.8 L266.8,126.8 L267.8,126.9 L268.8,126.9 L269.8,126.9 L270.8,127 L271.8,127 L272.8,127 L273.8,127.1 L274.8,127.1 L275.8,127.1 L276.8,127.2 L277.8,127.2 L278.8,127.2 L279.8,127.3 L280.8,127.3 L281.8,127.3 L282.8,127.4 L283.8,127.4 L284.8,127.4 L285.8,127.5 L286.8,127.5 L287.8,127.5 L288.8,127.6 L289.8,127.6 L290.8,127.6 L291.8,127.7 L292.8,127.7 L293.8,127.7 L294.8,127.8 L295.8,127.8 L296.8,127.8 L297.8,127.9 L298.8,127.9 L299.8,127.9 L300.8,128 L301.8,128 L302.8,128 L303.8,128.1 L304.8,128.1 L305.8,128.2 L306.8,128.2 L307.8,128.2 L308.8,128.3 L309.8,128.3 L310.8,128.3 L311.8,128.4 L312.8,128.4 L313.8,128.4 L314.8,128.5 L315.8,128.5 L316.8,128.6 L317.8,128.6 L318.8,128.6 L319.8,128.7 L320.8,128.7 L321.8,128.7 L322.8,128.8 L323.8,128.8 L324.8,128.9 L325.8,128.9 L326.8,128.9 L327.8,129 L328.8,129 L329.8,129.1 L330.8,129.1 L331.8,129.2 L332.8,129.2 L333.8,129.2 L334.8,129.3 L335.8,129.3 L336.8,129.4 L337.8,129.4 L338.8,129.4 L339.8,129.5 L340.8,129.5 L341.8,129.6 L342.8,129.6 L343.8,129.6 L344.8,129.7 L345.8,129.7 L346.8,129.8 L347.8,129.8 L348.8,129.8 L349.8,129.9 L350.8,129.9 L351.8,130 L352.8,130 L353.8,130 L354.8,130.1 L355.8,130.1 L356.8,130.2 L357.8,130.2 L358.8,130.2 L359.8,130.3 L360.8,130.3 L361.8,130.4 L362.8,130.4 L363.8,130.4 L364.8,130.5 L365.8,130.5 L366.8,130.5 L367.8,130.6 L368.8,130.6 L369.8,130.6 L370.8,130.7 L371.8,130.7 L372.8,130.7 L373.8,130.8 L374.8,130.8 L375.8,130.8 L376.8,130.9 L377.8,130.9 L378.8,130.9 L379.8,131 L380.8,131 L381.8,131 L382.8,131.1 L383.8,131.1 L384.8,131.1 L385.8,131.2 L386.8,131.2 L387.8,131.2 L388.8,131.2 L389.8,131.3 L390.8,131.3 L391.8,131.3 L392.8,131.4 L393.8,131.4 L394.8,131.4 L395.8,131.5 L396.8,131.5 L397.8,131.5 L398.8,131.5 L399.8,131.6 L400.8,131.6 L401.8,131.6 L402.8,131.7 L403.8,131.7 L404.8,131.7 L405.8,131.7 L406.8,131.8 L407.8,131.8 L408.8,131.8 L409.8,131.8 L410.8,131.9 L411.8,131.9 L412.8,131.9 L413.8,132 L414.8,132 L415.8,132 L416.8,132 L417.8,132.1 L418.8,132.1 L419.8,132.1 L420.8,132.1 L421.8,132.2 L422.8,132.2 L423.8,132.2 L424.8,132.2 L425.8,132.3 L426.8,132.3 L427.8,132.3 L428.8,132.3 L429.8,132.4 L430.8,132.4 L431.8,132.4 L432.8,132.4 L433.8,132.4 L434.8,132.5 L435.5,132.5" fill="none" stroke="#800000" stroke-width="2.0" stroke-linejoin="round" stroke-linecap="round"/>
<path d="M37.8,108.9 L38.8,108.6 L39.8,108.3 L40.8,107.9 L41.8,107.6 L42.8,107.2 L43.8,106.7 L44.8,106.3 L45.8,105.8 L46.8,105.3 L47.8,104.8 L48.8,104.2 L49.8,103.7 L50.8,103.1 L51.8,102.4 L52.8,101.8 L53.8,101.1 L54.8,100.5 L55.8,99.8 L56.8,99.1 L57.8,98.4 L58.8,97.7 L59.8,96.9 L60.8,96.2 L61.8,95.5 L62.8,94.7 L63.8,94 L64.8,93.3 L65.8,92.6 L66.8,91.9 L67.8,91.3 L68.8,90.7 L69.8,90 L70.8,89.5 L71.8,88.9 L72.8,88.4 L73.8,88 L74.8,87.5 L75.8,87.2 L76.8,86.8 L77.8,86.6 L78.8,86.3 L79.8,86.2 L80.8,86.1 L81.8,86 L82.8,86 L83.8,86 L84.8,86.1 L85.8,86.3 L86.8,86.5 L87.8,86.7 L88.8,87 L89.8,87.3 L90.8,87.7 L91.8,88.1 L92.8,88.5 L93.8,88.9 L94.8,89.4 L95.8,89.9 L96.8,90.4 L97.8,91 L98.8,91.5 L99.8,92 L100.8,92.6 L101.8,93.1 L102.8,93.6 L103.8,94.2 L104.8,94.7 L105.8,95.2 L106.8,95.7 L107.8,96.2 L108.8,96.7 L109.8,97.1 L110.8,97.5 L111.8,97.9 L112.8,98.3 L113.8,98.7 L114.8,99 L115.8,99.3 L116.8,99.6 L117.8,99.8 L118.8,100 L119.8,100.2 L120.8,100.3 L121.8,100.5 L122.8,100.5 L123.8,100.6 L124.8,100.6 L125.8,100.6 L126.8,100.6 L127.8,100.6 L128.8,100.5 L129.8,100.4 L130.8,100.3 L131.8,100.2 L132.8,100 L133.8,99.9 L134.8,99.7 L135.8,99.4 L136.8,99.2 L137.8,98.9 L138.8,98.5 L139.8,98.2 L140.8,97.8 L141.8,97.4 L142.8,97 L143.8,96.5 L144.8,96.1 L145.8,95.7 L146.8,95.2 L147.8,94.7 L148.8,94.3 L149.8,93.8 L150.8,93.3 L151.8,92.8 L152.8,92.3 L153.8,91.8 L154.8,91.4 L155.8,90.9 L156.8,90.4 L157.8,89.9 L158.8,89.4 L159.8,88.9 L160.8,88.4 L161.8,87.9 L162.8,87.4 L163.8,87 L164.8,86.5 L165.8,86 L166.8,85.5 L167.8,85 L168.8,84.5 L169.8,84.1 L170.8,83.6 L171.8,83.1 L172.8,82.7 L173.8,82.3 L174.8,81.9 L175.8,81.4 L176.8,81 L177.8,80.7 L178.8,80.3 L179.8,80 L180.8,79.6 L181.8,79.3 L182.8,79 L183.8,78.7 L184.8,78.5 L185.8,78.2 L186.8,78 L187.8,77.8 L188.8,77.7 L189.8,77.5 L190.8,77.5 L191.8,77.5 L192.8,77.5 L193.8,77.5 L194.8,77.6 L195.8,77.6 L196.8,77.7 L197.8,77.8 L198.8,77.9 L199.8,78 L200.8,78.1 L201.8,78.1 L202.8,78.3 L203.8,78.4 L204.8,78.5 L205.8,78.6 L206.8,78.8 L207.8,78.9 L208.8,79.1 L209.8,79.2 L210.8,79.4 L211.8,79.6 L212.8,79.8 L213.8,79.9 L214.8,80.1 L215.8,80.3 L216.8,80.4 L217.8,80.6 L218.8,80.7 L219.8,80.9 L220.8,81 L221.8,81.1 L222.8,81.2 L223.8,81.3 L224.8,81.4 L225.8,81.5 L226.8,81.6 L227.8,81.6 L228.8,81.6 L229.8,81.6 L230.8,81.5 L231.8,81.4 L232.8,81.3 L233.8,81.2 L234.8,81 L235.8,80.8 L236.8,80.6 L237.8,80.4 L238.8,80.2 L239.8,79.9 L240.8,79.6 L241.8,79.4 L242.8,79.1 L243.8,78.8 L244.8,78.6 L245.8,78.3 L246.8,78 L247.8,77.8 L248.8,77.5 L249.8,77.1 L250.8,76.8 L251.8,76.4 L252.8,76 L253.8,75.6 L254.8,75.2 L255.8,74.7 L256.8,74.3 L257.8,73.8 L258.8,73.3 L259.8,72.8 L260.8,72.4 L261.8,71.8 L262.8,71.3 L263.8,70.8 L264.8,70.3 L265.8,69.8 L266.8,69.3 L267.8,68.8 L268.8,68.3 L269.8,67.8 L270.8,67.3 L271.8,66.7 L272.8,66.2 L273.8,65.6 L274.8,65.1 L275.8,64.5 L276.8,63.8 L277.8,63.2 L278.8,62.5 L279.8,61.8 L280.8,61.1 L281.8,60.4 L282.8,59.6 L283.8,58.9 L284.8,58.1 L285.8,57.3 L286.8,56.5 L287.8,55.7 L288.8,54.8 L289.8,54 L290.8,53.3 L291.8,52.6 L292.8,52 L293.8,51.5 L294.8,51 L295.8,50.6 L296.8,50.2 L297.8,49.8 L298.8,49.5 L299.8,49.3 L300.8,49.1 L301.8,48.9 L302.8,48.8 L303.8,48.7 L304.8,48.7 L305.8,48.7 L306.8,48.8 L307.8,49 L308.8,49.3 L309.8,49.7 L310.8,50.2 L311.8,50.8 L312.8,51.6 L313.8,52.4 L314.8,53.4 L315.8,54.5 L316.8,55.5 L317.8,56.7 L318.8,57.8 L319.8,59 L320.8,60.3 L321.8,61.6 L322.8,62.9 L323.8,64.4 L324.8,65.8 L325.8,67.4 L326.8,69 L327.8,70.7 L328.8,72.3 L329.8,74 L330.8,75.6 L331.8,77.1 L332.8,78.7 L333.8,80.2 L334.8,81.7 L335.8,83.2 L336.8,84.7 L337.8,86.1 L338.8,87.4 L339.8,88.8 L340.8,90.1 L341.8,91.3 L342.8,92.5 L343.8,93.7 L344.8,94.7 L345.8,95.7 L346.8,96.7 L347.8,97.5 L348.8,98.3 L349.8,99 L350.8,99.5 L351.8,99.9 L352.8,100.2 L353.8,100.3 L354.8,100.3 L355.8,100.3 L356.8,100.3 L357.8,100.3 L358.8,100.2 L359.8,99.9 L360.8,99.4 L361.8,98.6 L362.8,97.5 L363.8,96 L364.8,94.1 L365.8,92.2 L366.8,90.3 L367.8,88.4 L368.8,86.6 L369.8,85 L370.8,83.7 L371.8,82.6 L372.8,81.9 L373.8,81.5 L374.8,81.6 L375.8,82.3 L376.8,83.7 L377.8,85.5 L378.8,87.8 L379.8,90.3 L380.8,92.9 L381.8,95.5 L382.8,98 L383.8,100.3 L384.8,102.7 L385.8,105 L386.8,107.2 L387.8,109.3 L388.8,111.2 L389.8,113 L390.8,114.7 L391.8,116.2 L392.8,117.5 L393.8,118.7 L394.8,119.7 L395.8,120.6 L396.8,121.3 L397.8,121.9 L398.8,122.5 L399.8,122.9 L400.8,123.3 L401.8,123.6 L402.8,123.8 L403.8,124 L404.8,124.2 L405.8,124.3 L406.8,124.5 L407.8,124.6 L408.8,124.7 L409.8,124.8 L410.8,124.9 L411.8,125 L412.8,125.1 L413.8,125.2 L414.8,125.3 L415.8,125.4 L416.8,125.5 L417.8,125.7 L418.8,125.8 L419.8,125.9 L420.8,126 L421.8,126.2 L422.8,126.3 L423.8,126.5 L424.8,126.7 L425.8,126.8 L426.8,127 L427.8,127.2 L428.8,127.3 L429.8,127.5 L430.8,127.7 L431.8,127.9 L432.8,128.1 L433.8,128.3 L434.8,128.5 L435.5,128.6" fill="none" stroke="#FF0000" stroke-width="2.2" stroke-linejoin="round" stroke-linecap="round"/>
<path d="M11,214.2 L12.2,216.3 L13.4,228.2 L14.6,232.5 L15.9,230.1 L17.1,227.9 L18.3,225.9 L19.5,224.2 L20.7,224.4 L21.9,221 L23.1,218.5 L24.4,218.3 L25.6,222.5 L26.8,224.5 L28,225.3 L29.2,223 L30.4,223.2 L31.7,224.3 L32.9,229 L34.1,230.6 L35.3,229.9 L36.5,227.7 L37.7,227.7 L38.9,232.6 L40.2,231.8 L41.4,218.9 L42.6,211.1 L43.8,213.2 L45,222.4 L46.2,226.6 L47.4,228.2 L48.7,225.7 L49.9,221.9 L51.1,219.5 L52.3,217.8 L53.5,216.6 L54.7,212.5 L56,214.7 L57.2,220.1 L58.4,222.3 L59.6,214.4 L60.8,209.7 L62,212.2 L63.2,219.1 L64.5,220.3 L65.7,220.3 L66.9,217.8 L68.1,222.8 L69.3,223.1 L70.5,219.9 L71.8,222.4 L73,227.3 L74.2,230.4 L75.4,234.8 L76.6,236.8 L77.8,229.9 L79,223 L80.3,220.8 L81.5,223.6 L82.7,223.3 L83.9,223.1 L85.1,222.7 L86.3,220.5 L87.5,211.5 L88.8,205.3 L90,207 L91.2,219.6 L92.4,226.6 L93.6,228.8 L94.8,223.3 L96,219.3 L97.3,218.2 L98.5,214.5 L99.7,211 L100.9,214.1 L102.1,221.9 L103.3,221.9 L104.6,217.7 L105.8,213.2 L107,212.5 L108.2,214.4 L109.4,211.9 L110.6,207.9 L111.8,206.3 L113.1,207.4 L114.3,211.7 L115.5,215.3 L116.7,214.5 L117.9,216 L119.1,212.9 L120.3,211.5 L121.6,209.9 L122.8,211.6 L124,212.1 L125.2,210.1 L126.4,207 L127.6,204 L128.9,201.4 L130.1,201.2 L131.3,207.3 L132.5,214.7 L133.7,221.4 L134.9,225.5 L136.1,227.1 L137.4,221.6 L138.6,217.1 L139.8,217.1 L141,212.7 L142.2,211.5 L143.4,206.5 L144.6,204.9 L145.9,202.7 L147.1,207.1 L148.3,208.1 L149.5,210.6 L150.7,216.5 L151.9,216.2 L153.2,211.3 L154.4,206.9 L155.6,208.4 L156.8,212.5 L158,216.7 L159.2,215.8 L160.4,210.2 L161.7,205.6 L162.9,202.2 L164.1,199.9 L165.3,201.8 L166.5,206.8 L167.7,210.9 L168.9,210.2 L170.2,204.2 L171.4,203.9 L172.6,205.9 L173.8,211.1 L175,208 L176.2,203.6 L177.5,198.2 L178.7,198.1 L179.9,201.3 L181.1,201.8 L182.3,200.8 L183.5,197.3 L184.7,200.3 L186,202 L187.2,207 L188.4,204.6 L189.6,202.5 L190.8,196.9 L192,197 L193.2,196.1 L194.5,198.4 L195.7,201.9 L196.9,205.8 L198.1,211 L199.3,215.2 L200.5,214.5 L201.8,208.7 L203,202.8 L204.2,200.7 L205.4,200.7 L206.6,200.1 L207.8,204.9 L209,206.5 L210.3,208.6 L211.5,211.6 L212.7,211.1 L213.9,207.1 L215.1,203.9 L216.3,205.9 L217.5,207.9 L218.8,209.3 L220,211.9 L221.2,209 L222.4,202.2 L223.6,202.7 L224.8,206 L226.1,212.4 L227.3,210.6 L228.5,203.9 L229.7,201.2 L230.9,205.4 L232.1,210.7 L233.3,215.2 L234.6,214.1 L235.8,209.9 L237,206.5 L238.2,204.2 L239.4,207.1 L240.6,208.3 L241.8,206.6 L243.1,205.6 L244.3,206.7 L245.5,206.5 L246.7,203.7 L247.9,200.3 L249.1,198.9 L250.4,196.2 L251.6,195.8 L252.8,194.9 L254,194.8 L255.2,193.5 L256.4,192.9 L257.6,189.4 L258.9,184.9 L260.1,183.2 L261.3,185.3 L262.5,187.4 L263.7,186.5 L264.9,184.8 L266.1,183.6 L267.4,183.4 L268.6,181.8 L269.8,179.8 L271,178.4 L272.2,178.6 L273.4,177.8 L274.7,176.1 L275.9,176.5 L277.1,174 L278.3,170.3 L279.5,168.2 L280.7,169.6 L281.9,169.6 L283.2,167.9 L284.4,166.9 L285.6,168.4 L286.8,169.1 L288,171.4 L289.2,175.1 L290.4,175.1 L291.7,172 L292.9,167.7 L294.1,164.8 L295.3,161.6 L296.5,160.8 L297.7,158.8 L299,156.9 L300.2,156.2 L301.4,157.4 L302.6,157.6 L303.8,157 L305,155.3 L306.2,152 L307.5,149.5 L308.7,149.4 L309.9,152 L311.1,154.9 L312.3,155.8 L313.5,156.2 L314.7,155.8 L316,157 L317.2,159.6 L318.4,164.4 L319.6,170.7 L320.8,174 L322,175.5 L323.3,177.9 L324.5,182 L325.7,185.8 L326.9,190.4 L328.1,193.6 L329.3,197.5 L330.5,200.6 L331.8,203.5 L333,205.2 L334.2,207.4 L335.4,210.9 L336.6,215.3 L337.8,220.3 L339,226.2 L340.3,231.7 L341.5,233.4 L342.7,232.7 L343.9,233.9 L345.1,235.7 L346.3,238.9 L347.6,237.4 L348.8,235 L350,235.5 L351.2,232.3 L352.4,224.7 L353.6,223.6 L354.8,224 L356.1,222.7 L357.3,224.7 L358.5,229.7 L359.7,237.9 L360.9,243.5 L362.1,246.8 L363.3,241.9 L364.6,239.2 L365.8,234.5 L367,229.3 L368.2,222.1 L369.4,220.1 L370.6,227 L371.9,237.7 L373.1,244.2 L374.3,242.8 L375.5,239.8 L376.7,239.3 L377.9,244 L379.1,244.2 L380.4,239.1 L381.6,237.1 L382.8,239.3 L384,245.9 L385.2,247.3 L386.4,247 L387.6,247 L388.9,245.5 L390.1,240.4 L391.3,234.3 L392.5,232 L393.7,236.1 L394.9,245.1 L396.2,249.5 L397.4,244.9 L398.6,244.6 L399.8,245.4 L401,244.5 L402.2,245.5 L403.4,246.8 L404.7,250.7 L405.9,250.6 L407.1,252.1 L408.3,251.6 L409.5,247.7 L410.7,245.2 L411.9,249.7 L413.2,256.4 L414.4,258.1 L415.6,257.4 L416.8,256.7 L418,260.6 L419.2,265.5 L420.5,268.4 L421.7,269.1 L422.9,261.9 L424.1,255.6 L425.3,255.1 L426.5,262.3 L427.7,265.9 L429,269.3 L430.2,271.2 L431.4,273.1 L432.6,270.4 L433.8,265.7 L435,263.9 L436.2,263.7 L437.5,263.1 L438.7,268.4 L439.9,270.9 L441.1,269.6 L442.3,264.8 L443.5,261.8 L444.8,259.1 L446,259.9 L447.2,259.9 L448.4,260.7 L449.6,261.7 L450.8,263.9 L452,264.8 L453.3,260.8 L454.5,257.5 L455.7,250.4 L456.9,249.6 L458.1,255.6 L459.3,260 L460.5,259.3 L461.8,255.2 L463,257.7 L464.2,261.8 L465.4,265.1 L466.6,262.6 L467.8,259.7 L469.1,255.8 L470.3,256.1 L471.5,257 L472.7,257.3 L473.9,254.2 L475.1,255.9 L476.3,262.5 L477.6,267.9 L478.8,266.2 L480,263.8 L481.2,263.8 L482.4,268.5 L483.6,271.8 L484.8,272.6 L486.1,266.8 L487.3,259.7 L488.5,255.5 L489.7,254.8 L490.9,258.6 L492.1,265.1 L493.4,266.7 L494.6,265.7 L495.8,268" fill="none" stroke="#000" stroke-width="2.2" stroke-linejoin="round" stroke-linecap="round"/>
<path d="M14.6,232.8 L15.6,232.8 L16.6,232.8 L17.6,232.9 L18.6,232.9 L19.6,232.9 L20.6,232.9 L21.6,233 L22.6,233 L23.6,233 L24.6,233.1 L25.6,233.1 L26.6,233.1 L27.6,233.2 L28.6,233.2 L29.6,233.2 L30.6,233.2 L31.6,233.3 L32.6,233.3 L33.6,233.3 L34.6,233.4 L35.6,233.4 L36.6,233.4 L37.6,233.5 L38.6,233.5 L39.6,233.5 L40.6,233.6 L41.6,233.6 L42.6,233.6 L43.6,233.7 L44.6,233.7 L45.6,233.7 L46.6,233.8 L47.6,233.8 L48.6,233.9 L49.6,233.9 L50.6,233.9 L51.6,234 L52.6,234 L53.6,234 L54.6,234.1 L55.6,234.1 L56.6,234.2 L57.6,234.2 L58.6,234.2 L59.6,234.3 L60.6,234.3 L61.6,234.4 L62.6,234.4 L63.6,234.4 L64.6,234.5 L65.6,234.5 L66.6,234.6 L67.6,234.6 L68.6,234.7 L69.6,234.7 L70.6,234.7 L71.6,234.8 L72.6,234.8 L73.6,234.9 L74.6,234.9 L75.6,235 L76.6,235 L77.6,235 L78.6,235.1 L79.6,235.1 L80.6,235.2 L81.6,235.2 L82.6,235.3 L83.6,235.3 L84.6,235.4 L85.6,235.4 L86.6,235.4 L87.6,235.5 L88.6,235.5 L89.6,235.6 L90.6,235.6 L91.6,235.7 L92.6,235.7 L93.6,235.8 L94.6,235.8 L95.6,235.9 L96.6,235.9 L97.6,236 L98.6,236 L99.6,236.1 L100.6,236.1 L101.6,236.2 L102.6,236.2 L103.6,236.3 L104.6,236.3 L105.6,236.4 L106.6,236.4 L107.6,236.5 L108.6,236.5 L109.6,236.6 L110.6,236.6 L111.6,236.7 L112.6,236.7 L113.6,236.8 L114.6,236.9 L115.6,236.9 L116.6,237 L117.6,237 L118.6,237.1 L119.6,237.1 L120.6,237.2 L121.6,237.3 L122.6,237.3 L123.6,237.4 L124.6,237.4 L125.6,237.5 L126.6,237.6 L127.6,237.6 L128.6,237.7 L129.6,237.8 L130.6,237.8 L131.6,237.9 L132.6,237.9 L133.6,238 L134.6,238.1 L135.6,238.1 L136.6,238.2 L137.6,238.3 L138.6,238.3 L139.6,238.4 L140.6,238.5 L141.6,238.5 L142.6,238.6 L143.6,238.7 L144.6,238.7 L145.6,238.8 L146.6,238.9 L147.6,238.9 L148.6,239 L149.6,239.1 L150.6,239.1 L151.6,239.2 L152.6,239.3 L153.6,239.4 L154.6,239.4 L155.6,239.5 L156.6,239.6 L157.6,239.6 L158.6,239.7 L159.6,239.8 L160.6,239.9 L161.6,239.9 L162.6,240 L163.6,240.1 L164.6,240.1 L165.6,240.2 L166.6,240.3 L167.6,240.4 L168.6,240.4 L169.6,240.5 L170.6,240.6 L171.6,240.6 L172.6,240.7 L173.6,240.8 L174.6,240.9 L175.6,240.9 L176.6,241 L177.6,241.1 L178.6,241.1 L179.6,241.2 L180.6,241.3 L181.6,241.4 L182.6,241.4 L183.6,241.5 L184.6,241.6 L185.6,241.6 L186.6,241.7 L187.6,241.8 L188.6,241.9 L189.6,241.9 L190.6,242 L191.6,242.1 L192.6,242.1 L193.6,242.2 L194.6,242.3 L195.6,242.4 L196.6,242.4 L197.6,242.5 L198.6,242.6 L199.6,242.6 L200.6,242.7 L201.6,242.8 L202.6,242.8 L203.6,242.9 L204.6,242.9 L205.6,243 L206.6,243.1 L207.6,243.1 L208.6,243.2 L209.6,243.3 L210.6,243.3 L211.6,243.4 L212.6,243.5 L213.6,243.5 L214.6,243.6 L215.6,243.7 L216.6,243.7 L217.6,243.8 L218.6,243.8 L219.6,243.9 L220.6,244 L221.6,244 L222.6,244.1 L223.6,244.2 L224.6,244.2 L225.6,244.3 L226.6,244.4 L227.6,244.4 L228.6,244.5 L229.6,244.6 L230.6,244.6 L231.6,244.7 L232.6,244.8 L233.6,244.8 L234.6,244.9 L235.6,245 L236.6,245.1 L237.6,245.1 L238.6,245.2 L239.6,245.3 L240.6,245.4 L241.6,245.4 L242.6,245.5 L243.6,245.6 L244.6,245.7 L245.6,245.7 L246.6,245.8 L247.6,245.9 L248.6,246 L249.6,246.1 L250.6,246.1 L251.6,246.2 L252.6,246.3 L253.6,246.4 L254.6,246.5 L255.6,246.6 L256.6,246.7 L257.6,246.8 L258.6,246.8 L259.6,246.9 L260.6,247 L261.6,247.1 L262.6,247.2 L263.6,247.3 L264.6,247.4 L265.6,247.5 L266.6,247.6 L267.6,247.7 L268.6,247.8 L269.6,247.9 L270.6,248.1 L271.6,248.2 L272.6,248.3 L273.6,248.4 L274.6,248.5 L275.6,248.6 L276.6,248.7 L277.6,248.9 L278.6,249 L279.6,249.2 L280.6,249.3 L281.6,249.5 L282.6,249.7 L283.6,249.9 L284.6,250.1 L285.6,250.3 L286.6,250.5 L287.6,250.8 L288.6,251 L289.6,251.2 L290.6,251.5 L291.6,251.7 L292.6,251.9 L293.6,252.1 L294.6,252.4 L295.6,252.6 L296.6,252.8 L297.6,253.1 L298.6,253.3 L299.6,253.5 L300.6,253.7 L301.6,253.9 L302.6,254.1 L303.6,254.3 L304.6,254.4 L305.6,254.6 L306.6,254.7 L307.6,254.9 L308.6,255 L309.6,255.1 L310.6,255.2 L311.6,255.3 L312.6,255.4 L313.6,255.5 L314.6,255.6 L315.6,255.7 L316.6,255.8 L317.6,255.9 L318.6,256 L319.6,256 L320.6,256.1 L321.6,256.2 L322.6,256.3 L323.6,256.3 L324.6,256.4 L325.6,256.4 L326.6,256.5 L327.6,256.5 L328.6,256.5 L329.6,256.5 L330.6,256.5 L331.6,256.5 L332.6,256.5 L333.6,256.5 L334.6,256.5 L335.6,256.4 L336.6,256.4 L337.6,256.3 L338.6,256.2 L339.6,256.1 L340.6,256 L341.6,255.9 L342.6,255.7 L343.6,255.6 L344.6,255.4 L345.6,255.1 L346.6,254.9 L347.6,254.7 L348.6,254.4 L349.6,254.1 L350.6,253.8 L351.6,253.4 L352.6,253.1 L353.6,252.7 L354.6,252.3 L355.6,251.9 L356.6,251.5 L357.6,251.1 L358.6,250.6 L359.6,250.2 L360.6,249.7 L361.6,249.3 L362.6,248.8 L363.6,248.4 L364.6,247.9 L365.6,247.5 L366.6,247.1 L367.6,246.7 L368.6,246.4 L369.6,246 L370.6,245.7 L371.6,245.5 L372.6,245.3 L373.6,245.1 L374.6,245 L375.6,244.9 L376.6,244.9 L377.6,244.9 L378.6,245 L379.6,245.2 L380.6,245.4 L381.6,245.7 L382.6,246 L383.6,246.4 L384.6,246.8 L385.6,247.2 L386.6,247.7 L387.6,248.2 L388.6,248.7 L389.6,249.3 L390.6,249.9 L391.6,250.4 L392.6,251 L393.6,251.6 L394.6,252.2 L395.6,252.8 L396.6,253.4 L397.6,253.9 L398.6,254.5 L399.6,255 L400.6,255.5 L401.6,256 L402.6,256.5 L403.6,256.9 L404.6,257.3 L405.6,257.8 L406.6,258.2 L407.6,258.5 L408.6,258.9 L409.6,259.2 L410.6,259.5 L411.6,259.8 L412.6,260.1 L413.6,260.4 L414.6,260.6 L415.6,260.8 L416.6,261 L417.6,261.2 L418.6,261.4 L419.6,261.5 L420.6,261.7 L421.6,261.8 L422.6,261.9 L423.6,262 L424.6,262.1 L425.6,262.2 L426.6,262.3 L427.6,262.4 L428.6,262.4 L429.6,262.5 L430.6,262.5 L431.6,262.6 L432.6,262.6 L433.6,262.7 L434.6,262.7 L435.6,262.8 L436.6,262.8 L437.6,262.8 L438.6,262.9 L439.6,262.9 L440.6,262.9 L441.6,262.9 L442.6,263 L443.6,263 L444.6,263 L445.6,263 L446.6,263 L447.6,263 L448.6,263.1 L449.6,263.1 L450.6,263.1 L451.6,263.1 L452.6,263.1 L453.6,263.1 L454.6,263.1 L455.6,263.2 L456.6,263.2 L457.6,263.2 L458.6,263.2 L459.6,263.2 L460.6,263.2 L461.6,263.2 L462.6,263.2 L463.6,263.2 L464.6,263.3 L465.6,263.3 L466.6,263.3 L467.6,263.3 L468.6,263.3 L469.6,263.3 L470.6,263.3 L471.6,263.3 L472.6,263.3 L473.6,263.3 L474.6,263.3 L475.6,263.3 L476.6,263.3 L477.6,263.3 L478.6,263.3 L479.6,263.4 L480.6,263.4 L481.6,263.4 L482.6,263.4 L483.6,263.4 L484.6,263.4 L485.6,263.4 L486.6,263.4 L487.6,263.4 L488.6,263.4 L489.6,263.4 L490.6,263.4 L491.6,263.4 L492.6,263.4 L493.6,263.4 L494,263.4" fill="none" stroke="#008080" stroke-width="2.0" stroke-linejoin="round" stroke-linecap="round"/>
<path d="M14.6,231.6 L15.6,231.6 L16.6,231.6 L17.6,231.6 L18.6,231.7 L19.6,231.7 L20.6,231.7 L21.6,231.7 L22.6,231.8 L23.6,231.8 L24.6,231.8 L25.6,231.8 L26.6,231.9 L27.6,231.9 L28.6,231.9 L29.6,232 L30.6,232 L31.6,232 L32.6,232 L33.6,232.1 L34.6,232.1 L35.6,232.1 L36.6,232.2 L37.6,232.2 L38.6,232.2 L39.6,232.3 L40.6,232.3 L41.6,232.3 L42.6,232.4 L43.6,232.4 L44.6,232.4 L45.6,232.5 L46.6,232.5 L47.6,232.5 L48.6,232.6 L49.6,232.6 L50.6,232.6 L51.6,232.7 L52.6,232.7 L53.6,232.7 L54.6,232.8 L55.6,232.8 L56.6,232.9 L57.6,232.9 L58.6,232.9 L59.6,233 L60.6,233 L61.6,233 L62.6,233.1 L63.6,233.1 L64.6,233.2 L65.6,233.2 L66.6,233.2 L67.6,233.3 L68.6,233.3 L69.6,233.3 L70.6,233.4 L71.6,233.4 L72.6,233.5 L73.6,233.5 L74.6,233.5 L75.6,233.6 L76.6,233.6 L77.6,233.7 L78.6,233.7 L79.6,233.8 L80.6,233.8 L81.6,233.8 L82.6,233.9 L83.6,233.9 L84.6,234 L85.6,234 L86.6,234 L87.6,234.1 L88.6,234.1 L89.6,234.2 L90.6,234.2 L91.6,234.3 L92.6,234.3 L93.6,234.3 L94.6,234.4 L95.6,234.4 L96.6,234.5 L97.6,234.5 L98.6,234.6 L99.6,234.6 L100.6,234.7 L101.6,234.7 L102.6,234.7 L103.6,234.8 L104.6,234.8 L105.6,234.9 L106.6,234.9 L107.6,235 L108.6,235 L109.6,235.1 L110.6,235.1 L111.6,235.2 L112.6,235.2 L113.6,235.3 L114.6,235.3 L115.6,235.4 L116.6,235.4 L117.6,235.5 L118.6,235.5 L119.6,235.6 L120.6,235.6 L121.6,235.7 L122.6,235.7 L123.6,235.8 L124.6,235.9 L125.6,235.9 L126.6,236 L127.6,236 L128.6,236.1 L129.6,236.1 L130.6,236.2 L131.6,236.3 L132.6,236.3 L133.6,236.4 L134.6,236.4 L135.6,236.5 L136.6,236.5 L137.6,236.6 L138.6,236.7 L139.6,236.7 L140.6,236.8 L141.6,236.8 L142.6,236.9 L143.6,236.9 L144.6,237 L145.6,237.1 L146.6,237.1 L147.6,237.2 L148.6,237.2 L149.6,237.3 L150.6,237.4 L151.6,237.4 L152.6,237.5 L153.6,237.5 L154.6,237.6 L155.6,237.7 L156.6,237.7 L157.6,237.8 L158.6,237.8 L159.6,237.9 L160.6,238 L161.6,238 L162.6,238.1 L163.6,238.1 L164.6,238.2 L165.6,238.3 L166.6,238.3 L167.6,238.4 L168.6,238.4 L169.6,238.5 L170.6,238.5 L171.6,238.6 L172.6,238.7 L173.6,238.7 L174.6,238.8 L175.6,238.8 L176.6,238.9 L177.6,238.9 L178.6,239 L179.6,239.1 L180.6,239.1 L181.6,239.2 L182.6,239.2 L183.6,239.3 L184.6,239.3 L185.6,239.4 L186.6,239.4 L187.6,239.5 L188.6,239.5 L189.6,239.6 L190.6,239.6 L191.6,239.7 L192.6,239.7 L193.6,239.8 L194.6,239.8 L195.6,239.9 L196.6,239.9 L197.6,239.9 L198.6,240 L199.6,240 L200.6,240.1 L201.6,240.1 L202.6,240.1 L203.6,240.2 L204.6,240.2 L205.6,240.2 L206.6,240.3 L207.6,240.3 L208.6,240.3 L209.6,240.3 L210.6,240.4 L211.6,240.4 L212.6,240.4 L213.6,240.5 L214.6,240.5 L215.6,240.5 L216.6,240.5 L217.6,240.5 L218.6,240.6 L219.6,240.6 L220.6,240.6 L221.6,240.6 L222.6,240.6 L223.6,240.6 L224.6,240.6 L225.6,240.6 L226.6,240.6 L227.6,240.6 L228.6,240.6 L229.6,240.6 L230.6,240.6 L231.6,240.6 L232.6,240.6 L233.6,240.6 L234.6,240.6 L235.6,240.6 L236.6,240.6 L237.6,240.6 L238.6,240.6 L239.6,240.5 L240.6,240.5 L241.6,240.5 L242.6,240.4 L243.6,240.4 L244.6,240.4 L245.6,240.3 L246.6,240.2 L247.6,240.2 L248.6,240.1 L249.6,240 L250.6,240 L251.6,239.9 L252.6,239.8 L253.6,239.6 L254.6,239.5 L255.6,239.4 L256.6,239.2 L257.6,239 L258.6,238.9 L259.6,238.7 L260.6,238.4 L261.6,238.2 L262.6,237.9 L263.6,237.6 L264.6,237.3 L265.6,236.9 L266.6,236.5 L267.6,236 L268.6,235.6 L269.6,235 L270.6,234.5 L271.6,233.8 L272.6,233.2 L273.6,232.4 L274.6,231.7 L275.6,230.8 L276.6,229.9 L277.6,228.9 L278.6,227.9 L279.6,226.8 L280.6,225.7 L281.6,224.5 L282.6,223.2 L283.6,221.8 L284.6,220.4 L285.6,218.9 L286.6,217.3 L287.6,215.6 L288.6,213.9 L289.6,212.1 L290.6,210.3 L291.6,208.4 L292.6,206.4 L293.6,204.4 L294.6,202.3 L295.6,200.3 L296.6,198.2 L297.6,196.1 L298.6,194 L299.6,191.9 L300.6,189.9 L301.6,188 L302.6,186.2 L303.6,184.5 L304.6,182.9 L305.6,181.5 L306.6,180.3 L307.6,179.4 L308.6,178.7 L309.6,178.2 L310.6,178 L311.6,178.2 L312.6,178.6 L313.6,179.2 L314.6,180.2 L315.6,181.4 L316.6,182.8 L317.6,184.5 L318.6,186.3 L319.6,188.3 L320.6,190.4 L321.6,192.7 L322.6,195 L323.6,197.3 L324.6,199.7 L325.6,202.2 L326.6,204.6 L327.6,207 L328.6,209.3 L329.6,211.7 L330.6,214 L331.6,216.2 L332.6,218.4 L333.6,220.5 L334.6,222.5 L335.6,224.4 L336.6,226.3 L337.6,228.1 L338.6,229.8 L339.6,231.4 L340.6,233 L341.6,234.5 L342.6,235.8 L343.6,237.2 L344.6,238.4 L345.6,239.6 L346.6,240.7 L347.6,241.7 L348.6,242.7 L349.6,243.6 L350.6,244.5 L351.6,245.3 L352.6,246 L353.6,246.7 L354.6,247.4 L355.6,248 L356.6,248.6 L357.6,249.1 L358.6,249.6 L359.6,250.1 L360.6,250.5 L361.6,250.9 L362.6,251.3 L363.6,251.7 L364.6,252.1 L365.6,252.4 L366.6,252.7 L367.6,253 L368.6,253.3 L369.6,253.6 L370.6,253.9 L371.6,254.1 L372.6,254.4 L373.6,254.6 L374.6,254.9 L375.6,255.1 L376.6,255.3 L377.6,255.5 L378.6,255.8 L379.6,256 L380.6,256.2 L381.6,256.4 L382.6,256.6 L383.6,256.8 L384.6,257 L385.6,257.2 L386.6,257.4 L387.6,257.6 L388.6,257.7 L389.6,257.9 L390.6,258.1 L391.6,258.2 L392.6,258.4 L393.6,258.5 L394.6,258.6 L395.6,258.7 L396.6,258.9 L397.6,259 L398.6,259.1 L399.6,259.1 L400.6,259.2 L401.6,259.3 L402.6,259.3 L403.6,259.4 L404.6,259.5 L405.6,259.5 L406.6,259.6 L407.6,259.7 L408.6,259.7 L409.6,259.8 L410.6,259.8 L411.6,259.9 L412.6,259.9 L413.6,260 L414.6,260 L415.6,260.1 L416.6,260.1 L417.6,260.2 L418.6,260.2 L419.6,260.3 L420.6,260.3 L421.6,260.4 L422.6,260.4 L423.6,260.4 L424.6,260.5 L425.6,260.5 L426.6,260.6 L427.6,260.6 L428.6,260.6 L429.6,260.7 L430.6,260.7 L431.6,260.7 L432.6,260.8 L433.6,260.8 L434.6,260.8 L435.6,260.9 L436.6,260.9 L437.6,260.9 L438.6,261 L439.6,261 L440.6,261 L441.6,261.1 L442.6,261.1 L443.6,261.1 L444.6,261.1 L445.6,261.2 L446.6,261.2 L447.6,261.2 L448.6,261.2 L449.6,261.3 L450.6,261.3 L451.6,261.3 L452.6,261.3 L453.6,261.3 L454.6,261.4 L455.6,261.4 L456.6,261.4 L457.6,261.4 L458.6,261.4 L459.6,261.5 L460.6,261.5 L461.6,261.5 L462.6,261.5 L463.6,261.5 L464.6,261.5 L465.6,261.6 L466.6,261.6 L467.6,261.6 L468.6,261.6 L469.6,261.6 L470.6,261.6 L471.6,261.6 L472.6,261.7 L473.6,261.7 L474.6,261.7 L475.6,261.7 L476.6,261.7 L477.6,261.7 L478.6,261.7 L479.6,261.7 L480.6,261.8 L481.6,261.8 L482.6,261.8 L483.6,261.8 L484.6,261.8 L485.6,261.8 L486.6,261.8 L487.6,261.8 L488.6,261.8 L489.6,261.8 L490.6,261.8 L491.6,261.9 L492.6,261.9 L493.6,261.9 L494,261.9" fill="none" stroke="#FF00FF" stroke-width="2.0" stroke-linejoin="round" stroke-linecap="round"/>
<path d="M14.6,230.9 L15.6,230.9 L16.6,230.9 L17.6,230.9 L18.6,231 L19.6,231 L20.6,231 L21.6,231 L22.6,231.1 L23.6,231.1 L24.6,231.1 L25.6,231.1 L26.6,231.2 L27.6,231.2 L28.6,231.2 L29.6,231.3 L30.6,231.3 L31.6,231.3 L32.6,231.4 L33.6,231.4 L34.6,231.4 L35.6,231.4 L36.6,231.5 L37.6,231.5 L38.6,231.5 L39.6,231.6 L40.6,231.6 L41.6,231.6 L42.6,231.7 L43.6,231.7 L44.6,231.7 L45.6,231.8 L46.6,231.8 L47.6,231.8 L48.6,231.9 L49.6,231.9 L50.6,232 L51.6,232 L52.6,232 L53.6,232.1 L54.6,232.1 L55.6,232.1 L56.6,232.2 L57.6,232.2 L58.6,232.3 L59.6,232.3 L60.6,232.3 L61.6,232.4 L62.6,232.4 L63.6,232.4 L64.6,232.5 L65.6,232.5 L66.6,232.6 L67.6,232.6 L68.6,232.6 L69.6,232.7 L70.6,232.7 L71.6,232.8 L72.6,232.8 L73.6,232.8 L74.6,232.9 L75.6,232.9 L76.6,233 L77.6,233 L78.6,233.1 L79.6,233.1 L80.6,233.1 L81.6,233.2 L82.6,233.2 L83.6,233.3 L84.6,233.3 L85.6,233.4 L86.6,233.4 L87.6,233.4 L88.6,233.5 L89.6,233.5 L90.6,233.6 L91.6,233.6 L92.6,233.7 L93.6,233.7 L94.6,233.7 L95.6,233.8 L96.6,233.8 L97.6,233.9 L98.6,233.9 L99.6,234 L100.6,234 L101.6,234.1 L102.6,234.1 L103.6,234.2 L104.6,234.2 L105.6,234.2 L106.6,234.3 L107.6,234.3 L108.6,234.4 L109.6,234.4 L110.6,234.5 L111.6,234.5 L112.6,234.6 L113.6,234.6 L114.6,234.7 L115.6,234.8 L116.6,234.8 L117.6,234.9 L118.6,234.9 L119.6,235 L120.6,235 L121.6,235.1 L122.6,235.1 L123.6,235.2 L124.6,235.2 L125.6,235.3 L126.6,235.4 L127.6,235.4 L128.6,235.5 L129.6,235.5 L130.6,235.6 L131.6,235.6 L132.6,235.7 L133.6,235.8 L134.6,235.8 L135.6,235.9 L136.6,235.9 L137.6,236 L138.6,236 L139.6,236.1 L140.6,236.2 L141.6,236.2 L142.6,236.3 L143.6,236.3 L144.6,236.4 L145.6,236.5 L146.6,236.5 L147.6,236.6 L148.6,236.6 L149.6,236.7 L150.6,236.8 L151.6,236.8 L152.6,236.9 L153.6,236.9 L154.6,237 L155.6,237.1 L156.6,237.1 L157.6,237.2 L158.6,237.2 L159.6,237.3 L160.6,237.4 L161.6,237.4 L162.6,237.5 L163.6,237.5 L164.6,237.6 L165.6,237.7 L166.6,237.7 L167.6,237.8 L168.6,237.8 L169.6,237.9 L170.6,238 L171.6,238 L172.6,238.1 L173.6,238.1 L174.6,238.2 L175.6,238.2 L176.6,238.3 L177.6,238.3 L178.6,238.4 L179.6,238.4 L180.6,238.5 L181.6,238.6 L182.6,238.6 L183.6,238.7 L184.6,238.7 L185.6,238.7 L186.6,238.8 L187.6,238.8 L188.6,238.9 L189.6,238.9 L190.6,239 L191.6,239 L192.6,239 L193.6,239.1 L194.6,239.1 L195.6,239.1 L196.6,239.2 L197.6,239.2 L198.6,239.2 L199.6,239.2 L200.6,239.2 L201.6,239.3 L202.6,239.3 L203.6,239.3 L204.6,239.3 L205.6,239.2 L206.6,239.2 L207.6,239.2 L208.6,239.2 L209.6,239.1 L210.6,239.1 L211.6,239 L212.6,239 L213.6,238.9 L214.6,238.8 L215.6,238.7 L216.6,238.6 L217.6,238.5 L218.6,238.3 L219.6,238.1 L220.6,238 L221.6,237.8 L222.6,237.5 L223.6,237.3 L224.6,237 L225.6,236.7 L226.6,236.4 L227.6,236 L228.6,235.7 L229.6,235.3 L230.6,234.8 L231.6,234.3 L232.6,233.8 L233.6,233.3 L234.6,232.7 L235.6,232.1 L236.6,231.4 L237.6,230.8 L238.6,230 L239.6,229.3 L240.6,228.5 L241.6,227.6 L242.6,226.7 L243.6,225.8 L244.6,224.9 L245.6,223.9 L246.6,222.9 L247.6,221.8 L248.6,220.8 L249.6,219.7 L250.6,218.5 L251.6,217.4 L252.6,216.3 L253.6,215.1 L254.6,213.9 L255.6,212.8 L256.6,211.6 L257.6,210.4 L258.6,209.3 L259.6,208.2 L260.6,207.1 L261.6,206 L262.6,205 L263.6,204 L264.6,203.1 L265.6,202.2 L266.6,201.4 L267.6,200.7 L268.6,200.1 L269.6,199.6 L270.6,199.1 L271.6,198.8 L272.6,198.6 L273.6,198.5 L274.6,198.5 L275.6,198.6 L276.6,198.8 L277.6,199.1 L278.6,199.6 L279.6,200.2 L280.6,200.9 L281.6,201.7 L282.6,202.6 L283.6,203.6 L284.6,204.7 L285.6,205.8 L286.6,207.1 L287.6,208.4 L288.6,209.7 L289.6,211.1 L290.6,212.5 L291.6,214 L292.6,215.4 L293.6,216.9 L294.6,218.4 L295.6,219.9 L296.6,221.4 L297.6,222.9 L298.6,224.3 L299.6,225.8 L300.6,227.2 L301.6,228.6 L302.6,229.9 L303.6,231.3 L304.6,232.5 L305.6,233.8 L306.6,235 L307.6,236.1 L308.6,237.2 L309.6,238.2 L310.6,239.3 L311.6,240.2 L312.6,241.1 L313.6,242 L314.6,242.9 L315.6,243.7 L316.6,244.4 L317.6,245.1 L318.6,245.8 L319.6,246.5 L320.6,247.1 L321.6,247.7 L322.6,248.2 L323.6,248.7 L324.6,249.2 L325.6,249.7 L326.6,250.1 L327.6,250.5 L328.6,250.9 L329.6,251.2 L330.6,251.6 L331.6,251.9 L332.6,252.2 L333.6,252.5 L334.6,252.7 L335.6,253 L336.6,253.2 L337.6,253.4 L338.6,253.6 L339.6,253.8 L340.6,254 L341.6,254.2 L342.6,254.3 L343.6,254.5 L344.6,254.7 L345.6,254.8 L346.6,254.9 L347.6,255.1 L348.6,255.2 L349.6,255.3 L350.6,255.5 L351.6,255.6 L352.6,255.7 L353.6,255.8 L354.6,255.9 L355.6,256 L356.6,256.1 L357.6,256.2 L358.6,256.3 L359.6,256.4 L360.6,256.5 L361.6,256.6 L362.6,256.7 L363.6,256.8 L364.6,256.9 L365.6,257 L366.6,257.1 L367.6,257.2 L368.6,257.3 L369.6,257.4 L370.6,257.5 L371.6,257.6 L372.6,257.7 L373.6,257.8 L374.6,257.9 L375.6,258 L376.6,258.1 L377.6,258.3 L378.6,258.4 L379.6,258.5 L380.6,258.6 L381.6,258.7 L382.6,258.8 L383.6,258.9 L384.6,259.1 L385.6,259.2 L386.6,259.3 L387.6,259.4 L388.6,259.5 L389.6,259.6 L390.6,259.7 L391.6,259.8 L392.6,259.9 L393.6,259.9 L394.6,260 L395.6,260.1 L396.6,260.2 L397.6,260.2 L398.6,260.2 L399.6,260.3 L400.6,260.3 L401.6,260.3 L402.6,260.4 L403.6,260.4 L404.6,260.4 L405.6,260.4 L406.6,260.5 L407.6,260.5 L408.6,260.5 L409.6,260.5 L410.6,260.6 L411.6,260.6 L412.6,260.6 L413.6,260.6 L414.6,260.7 L415.6,260.7 L416.6,260.7 L417.6,260.7 L418.6,260.7 L419.6,260.8 L420.6,260.8 L421.6,260.8 L422.6,260.8 L423.6,260.8 L424.6,260.9 L425.6,260.9 L426.6,260.9 L427.6,260.9 L428.6,260.9 L429.6,260.9 L430.6,261 L431.6,261 L432.6,261 L433.6,261 L434.6,261 L435.6,261 L436.6,261 L437.6,261.1 L438.6,261.1 L439.6,261.1 L440.6,261.1 L441.6,261.1 L442.6,261.1 L443.6,261.1 L444.6,261.2 L445.6,261.2 L446.6,261.2 L447.6,261.2 L448.6,261.2 L449.6,261.2 L450.6,261.2 L451.6,261.2 L452.6,261.3 L453.6,261.3 L454.6,261.3 L455.6,261.3 L456.6,261.3 L457.6,261.3 L458.6,261.3 L459.6,261.3 L460.6,261.3 L461.6,261.3 L462.6,261.3 L463.6,261.4 L464.6,261.4 L465.6,261.4 L466.6,261.4 L467.6,261.4 L468.6,261.4 L469.6,261.4 L470.6,261.4 L471.6,261.4 L472.6,261.4 L473.6,261.4 L474.6,261.4 L475.6,261.4 L476.6,261.4 L477.6,261.4 L478.6,261.4 L479.6,261.5 L480.6,261.5 L481.6,261.5 L482.6,261.5 L483.6,261.5 L484.6,261.5 L485.6,261.5 L486.6,261.5 L487.6,261.5 L488.6,261.5 L489.6,261.5 L490.6,261.5 L491.6,261.5 L492.6,261.5 L493.6,261.5 L494,261.5" fill="none" stroke="#808000" stroke-width="2.0" stroke-linejoin="round" stroke-linecap="round"/>
<path d="M14.6,232 L15.6,232 L16.6,232 L17.6,232.1 L18.6,232.1 L19.6,232.1 L20.6,232.1 L21.6,232.1 L22.6,232.2 L23.6,232.2 L24.6,232.2 L25.6,232.2 L26.6,232.2 L27.6,232.2 L28.6,232.3 L29.6,232.3 L30.6,232.3 L31.6,232.3 L32.6,232.3 L33.6,232.4 L34.6,232.4 L35.6,232.4 L36.6,232.4 L37.6,232.4 L38.6,232.4 L39.6,232.5 L40.6,232.5 L41.6,232.5 L42.6,232.5 L43.6,232.5 L44.6,232.5 L45.6,232.5 L46.6,232.5 L47.6,232.5 L48.6,232.6 L49.6,232.6 L50.6,232.6 L51.6,232.6 L52.6,232.6 L53.6,232.6 L54.6,232.6 L55.6,232.6 L56.6,232.6 L57.6,232.6 L58.6,232.6 L59.6,232.6 L60.6,232.6 L61.6,232.6 L62.6,232.6 L63.6,232.5 L64.6,232.5 L65.6,232.5 L66.6,232.5 L67.6,232.5 L68.6,232.5 L69.6,232.4 L70.6,232.4 L71.6,232.4 L72.6,232.3 L73.6,232.3 L74.6,232.3 L75.6,232.2 L76.6,232.2 L77.6,232.2 L78.6,232.1 L79.6,232.1 L80.6,232 L81.6,232 L82.6,231.9 L83.6,231.8 L84.6,231.8 L85.6,231.7 L86.6,231.7 L87.6,231.6 L88.6,231.5 L89.6,231.4 L90.6,231.3 L91.6,231.3 L92.6,231.2 L93.6,231.1 L94.6,231 L95.6,230.9 L96.6,230.8 L97.6,230.7 L98.6,230.6 L99.6,230.4 L100.6,230.3 L101.6,230.2 L102.6,230.1 L103.6,230 L104.6,229.8 L105.6,229.7 L106.6,229.6 L107.6,229.4 L108.6,229.3 L109.6,229.1 L110.6,229 L111.6,228.8 L112.6,228.7 L113.6,228.5 L114.6,228.3 L115.6,228.2 L116.6,228 L117.6,227.8 L118.6,227.7 L119.6,227.5 L120.6,227.3 L121.6,227.1 L122.6,226.9 L123.6,226.7 L124.6,226.6 L125.6,226.4 L126.6,226.2 L127.6,226 L128.6,225.8 L129.6,225.6 L130.6,225.4 L131.6,225.2 L132.6,225 L133.6,224.8 L134.6,224.6 L135.6,224.4 L136.6,224.1 L137.6,223.9 L138.6,223.7 L139.6,223.5 L140.6,223.3 L141.6,223.1 L142.6,222.9 L143.6,222.7 L144.6,222.5 L145.6,222.3 L146.6,222.1 L147.6,221.9 L148.6,221.7 L149.6,221.5 L150.6,221.3 L151.6,221.1 L152.6,220.9 L153.6,220.7 L154.6,220.5 L155.6,220.4 L156.6,220.2 L157.6,220 L158.6,219.9 L159.6,219.7 L160.6,219.5 L161.6,219.4 L162.6,219.2 L163.6,219.1 L164.6,219 L165.6,218.8 L166.6,218.7 L167.6,218.6 L168.6,218.5 L169.6,218.4 L170.6,218.3 L171.6,218.2 L172.6,218.1 L173.6,218 L174.6,217.9 L175.6,217.9 L176.6,217.8 L177.6,217.8 L178.6,217.8 L179.6,217.7 L180.6,217.7 L181.6,217.7 L182.6,217.7 L183.6,217.7 L184.6,217.7 L185.6,217.8 L186.6,217.8 L187.6,217.9 L188.6,217.9 L189.6,218 L190.6,218 L191.6,218.1 L192.6,218.2 L193.6,218.3 L194.6,218.4 L195.6,218.6 L196.6,218.7 L197.6,218.8 L198.6,219 L199.6,219.1 L200.6,219.3 L201.6,219.4 L202.6,219.6 L203.6,219.8 L204.6,220 L205.6,220.2 L206.6,220.4 L207.6,220.6 L208.6,220.9 L209.6,221.1 L210.6,221.3 L211.6,221.6 L212.6,221.8 L213.6,222.1 L214.6,222.3 L215.6,222.6 L216.6,222.9 L217.6,223.2 L218.6,223.5 L219.6,223.8 L220.6,224.1 L221.6,224.4 L222.6,224.7 L223.6,225 L224.6,225.3 L225.6,225.6 L226.6,225.9 L227.6,226.3 L228.6,226.6 L229.6,226.9 L230.6,227.2 L231.6,227.6 L232.6,227.9 L233.6,228.3 L234.6,228.6 L235.6,229 L236.6,229.3 L237.6,229.6 L238.6,230 L239.6,230.3 L240.6,230.7 L241.6,231 L242.6,231.4 L243.6,231.7 L244.6,232.1 L245.6,232.4 L246.6,232.8 L247.6,233.1 L248.6,233.5 L249.6,233.8 L250.6,234.2 L251.6,234.5 L252.6,234.9 L253.6,235.2 L254.6,235.6 L255.6,235.9 L256.6,236.2 L257.6,236.6 L258.6,236.9 L259.6,237.3 L260.6,237.6 L261.6,237.9 L262.6,238.3 L263.6,238.6 L264.6,238.9 L265.6,239.2 L266.6,239.6 L267.6,239.9 L268.6,240.2 L269.6,240.5 L270.6,240.8 L271.6,241.1 L272.6,241.4 L273.6,241.7 L274.6,242.1 L275.6,242.4 L276.6,242.7 L277.6,243 L278.6,243.3 L279.6,243.6 L280.6,244 L281.6,244.3 L282.6,244.6 L283.6,245 L284.6,245.4 L285.6,245.7 L286.6,246.1 L287.6,246.4 L288.6,246.8 L289.6,247.2 L290.6,247.5 L291.6,247.9 L292.6,248.2 L293.6,248.6 L294.6,248.9 L295.6,249.3 L296.6,249.6 L297.6,249.9 L298.6,250.3 L299.6,250.6 L300.6,250.9 L301.6,251.2 L302.6,251.5 L303.6,251.7 L304.6,252 L305.6,252.2 L306.6,252.5 L307.6,252.7 L308.6,252.9 L309.6,253.1 L310.6,253.3 L311.6,253.5 L312.6,253.6 L313.6,253.8 L314.6,254 L315.6,254.1 L316.6,254.3 L317.6,254.4 L318.6,254.6 L319.6,254.7 L320.6,254.9 L321.6,255 L322.6,255.1 L323.6,255.3 L324.6,255.4 L325.6,255.5 L326.6,255.7 L327.6,255.8 L328.6,255.9 L329.6,256 L330.6,256.1 L331.6,256.2 L332.6,256.3 L333.6,256.4 L334.6,256.5 L335.6,256.6 L336.6,256.7 L337.6,256.8 L338.6,256.9 L339.6,257 L340.6,257.1 L341.6,257.2 L342.6,257.3 L343.6,257.4 L344.6,257.5 L345.6,257.6 L346.6,257.6 L347.6,257.7 L348.6,257.8 L349.6,257.9 L350.6,258 L351.6,258 L352.6,258.1 L353.6,258.2 L354.6,258.3 L355.6,258.4 L356.6,258.4 L357.6,258.5 L358.6,258.6 L359.6,258.7 L360.6,258.7 L361.6,258.8 L362.6,258.9 L363.6,259 L364.6,259.1 L365.6,259.1 L366.6,259.2 L367.6,259.3 L368.6,259.4 L369.6,259.5 L370.6,259.6 L371.6,259.6 L372.6,259.7 L373.6,259.8 L374.6,259.9 L375.6,260 L376.6,260.1 L377.6,260.2 L378.6,260.3 L379.6,260.4 L380.6,260.5 L381.6,260.6 L382.6,260.7 L383.6,260.8 L384.6,260.9 L385.6,261 L386.6,261.1 L387.6,261.2 L388.6,261.3 L389.6,261.4 L390.6,261.5 L391.6,261.6 L392.6,261.7 L393.6,261.7 L394.6,261.8 L395.6,261.8 L396.6,261.9 L397.6,261.9 L398.6,262 L399.6,262 L400.6,262 L401.6,262.1 L402.6,262.1 L403.6,262.1 L404.6,262.1 L405.6,262.1 L406.6,262.1 L407.6,262.2 L408.6,262.2 L409.6,262.2 L410.6,262.2 L411.6,262.2 L412.6,262.2 L413.6,262.3 L414.6,262.3 L415.6,262.3 L416.6,262.3 L417.6,262.3 L418.6,262.3 L419.6,262.4 L420.6,262.4 L421.6,262.4 L422.6,262.4 L423.6,262.4 L424.6,262.4 L425.6,262.4 L426.6,262.5 L427.6,262.5 L428.6,262.5 L429.6,262.5 L430.6,262.5 L431.6,262.5 L432.6,262.5 L433.6,262.6 L434.6,262.6 L435.6,262.6 L436.6,262.6 L437.6,262.6 L438.6,262.6 L439.6,262.6 L440.6,262.6 L441.6,262.6 L442.6,262.6 L443.6,262.7 L444.6,262.7 L445.6,262.7 L446.6,262.7 L447.6,262.7 L448.6,262.7 L449.6,262.7 L450.6,262.7 L451.6,262.7 L452.6,262.7 L453.6,262.7 L454.6,262.8 L455.6,262.8 L456.6,262.8 L457.6,262.8 L458.6,262.8 L459.6,262.8 L460.6,262.8 L461.6,262.8 L462.6,262.8 L463.6,262.8 L464.6,262.8 L465.6,262.8 L466.6,262.8 L467.6,262.8 L468.6,262.8 L469.6,262.8 L470.6,262.9 L471.6,262.9 L472.6,262.9 L473.6,262.9 L474.6,262.9 L475.6,262.9 L476.6,262.9 L477.6,262.9 L478.6,262.9 L479.6,262.9 L480.6,262.9 L481.6,262.9 L482.6,262.9 L483.6,262.9 L484.6,262.9 L485.6,262.9 L486.6,262.9 L487.6,262.9 L488.6,262.9 L489.6,262.9 L490.6,262.9 L491.6,262.9 L492.6,262.9 L493.6,262.9 L494,262.9" fill="none" stroke="#000080" stroke-width="2.0" stroke-linejoin="round" stroke-linecap="round"/>
<path d="M14.6,226.4 L15.6,226.4 L16.6,226.3 L17.6,226.2 L18.6,226.2 L19.6,226.1 L20.6,226 L21.6,226 L22.6,225.9 L23.6,225.9 L24.6,225.8 L25.6,225.7 L26.6,225.7 L27.6,225.6 L28.6,225.5 L29.6,225.5 L30.6,225.4 L31.6,225.3 L32.6,225.3 L33.6,225.2 L34.6,225.1 L35.6,225.1 L36.6,225 L37.6,225 L38.6,224.9 L39.6,224.8 L40.6,224.8 L41.6,224.7 L42.6,224.7 L43.6,224.6 L44.6,224.6 L45.6,224.5 L46.6,224.4 L47.6,224.4 L48.6,224.3 L49.6,224.3 L50.6,224.2 L51.6,224.2 L52.6,224.1 L53.6,224.1 L54.6,224 L55.6,224 L56.6,224 L57.6,223.9 L58.6,223.9 L59.6,223.8 L60.6,223.8 L61.6,223.7 L62.6,223.7 L63.6,223.7 L64.6,223.6 L65.6,223.6 L66.6,223.6 L67.6,223.5 L68.6,223.5 L69.6,223.5 L70.6,223.5 L71.6,223.4 L72.6,223.4 L73.6,223.4 L74.6,223.4 L75.6,223.4 L76.6,223.3 L77.6,223.3 L78.6,223.3 L79.6,223.3 L80.6,223.3 L81.6,223.3 L82.6,223.3 L83.6,223.3 L84.6,223.3 L85.6,223.3 L86.6,223.3 L87.6,223.3 L88.6,223.3 L89.6,223.3 L90.6,223.3 L91.6,223.3 L92.6,223.4 L93.6,223.4 L94.6,223.4 L95.6,223.4 L96.6,223.4 L97.6,223.5 L98.6,223.5 L99.6,223.5 L100.6,223.6 L101.6,223.6 L102.6,223.6 L103.6,223.7 L104.6,223.7 L105.6,223.8 L106.6,223.8 L107.6,223.9 L108.6,223.9 L109.6,224 L110.6,224.1 L111.6,224.1 L112.6,224.2 L113.6,224.3 L114.6,224.3 L115.6,224.4 L116.6,224.5 L117.6,224.6 L118.6,224.6 L119.6,224.7 L120.6,224.8 L121.6,224.9 L122.6,225 L123.6,225.1 L124.6,225.2 L125.6,225.3 L126.6,225.4 L127.6,225.5 L128.6,225.6 L129.6,225.7 L130.6,225.8 L131.6,225.9 L132.6,226 L133.6,226.1 L134.6,226.3 L135.6,226.4 L136.6,226.5 L137.6,226.6 L138.6,226.8 L139.6,226.9 L140.6,227 L141.6,227.1 L142.6,227.3 L143.6,227.4 L144.6,227.6 L145.6,227.7 L146.6,227.8 L147.6,228 L148.6,228.1 L149.6,228.3 L150.6,228.4 L151.6,228.6 L152.6,228.7 L153.6,228.8 L154.6,229 L155.6,229.2 L156.6,229.3 L157.6,229.5 L158.6,229.6 L159.6,229.8 L160.6,229.9 L161.6,230.1 L162.6,230.2 L163.6,230.4 L164.6,230.6 L165.6,230.7 L166.6,230.9 L167.6,231 L168.6,231.2 L169.6,231.4 L170.6,231.5 L171.6,231.7 L172.6,231.9 L173.6,232 L174.6,232.2 L175.6,232.4 L176.6,232.5 L177.6,232.7 L178.6,232.9 L179.6,233 L180.6,233.2 L181.6,233.4 L182.6,233.5 L183.6,233.7 L184.6,233.9 L185.6,234 L186.6,234.2 L187.6,234.4 L188.6,234.5 L189.6,234.7 L190.6,234.9 L191.6,235 L192.6,235.2 L193.6,235.4 L194.6,235.5 L195.6,235.7 L196.6,235.8 L197.6,236 L198.6,236.2 L199.6,236.3 L200.6,236.5 L201.6,236.6 L202.6,236.8 L203.6,237 L204.6,237.1 L205.6,237.3 L206.6,237.4 L207.6,237.6 L208.6,237.7 L209.6,237.9 L210.6,238 L211.6,238.2 L212.6,238.3 L213.6,238.5 L214.6,238.6 L215.6,238.8 L216.6,238.9 L217.6,239.1 L218.6,239.2 L219.6,239.4 L220.6,239.5 L221.6,239.6 L222.6,239.8 L223.6,239.9 L224.6,240.1 L225.6,240.2 L226.6,240.4 L227.6,240.5 L228.6,240.6 L229.6,240.8 L230.6,240.9 L231.6,241.1 L232.6,241.2 L233.6,241.3 L234.6,241.5 L235.6,241.6 L236.6,241.8 L237.6,241.9 L238.6,242 L239.6,242.2 L240.6,242.3 L241.6,242.4 L242.6,242.6 L243.6,242.7 L244.6,242.9 L245.6,243 L246.6,243.1 L247.6,243.3 L248.6,243.4 L249.6,243.5 L250.6,243.7 L251.6,243.8 L252.6,244 L253.6,244.1 L254.6,244.2 L255.6,244.4 L256.6,244.5 L257.6,244.7 L258.6,244.8 L259.6,244.9 L260.6,245.1 L261.6,245.2 L262.6,245.4 L263.6,245.5 L264.6,245.7 L265.6,245.8 L266.6,245.9 L267.6,246.1 L268.6,246.2 L269.6,246.4 L270.6,246.5 L271.6,246.7 L272.6,246.8 L273.6,247 L274.6,247.1 L275.6,247.3 L276.6,247.5 L277.6,247.6 L278.6,247.8 L279.6,248 L280.6,248.2 L281.6,248.4 L282.6,248.6 L283.6,248.9 L284.6,249.1 L285.6,249.3 L286.6,249.6 L287.6,249.8 L288.6,250.1 L289.6,250.3 L290.6,250.6 L291.6,250.9 L292.6,251.1 L293.6,251.4 L294.6,251.6 L295.6,251.9 L296.6,252.2 L297.6,252.4 L298.6,252.6 L299.6,252.9 L300.6,253.1 L301.6,253.3 L302.6,253.6 L303.6,253.8 L304.6,254 L305.6,254.1 L306.6,254.3 L307.6,254.5 L308.6,254.6 L309.6,254.8 L310.6,254.9 L311.6,255 L312.6,255.1 L313.6,255.3 L314.6,255.4 L315.6,255.5 L316.6,255.6 L317.6,255.7 L318.6,255.9 L319.6,256 L320.6,256.1 L321.6,256.2 L322.6,256.3 L323.6,256.4 L324.6,256.5 L325.6,256.6 L326.6,256.7 L327.6,256.8 L328.6,256.9 L329.6,257 L330.6,257.1 L331.6,257.1 L332.6,257.2 L333.6,257.3 L334.6,257.4 L335.6,257.5 L336.6,257.6 L337.6,257.6 L338.6,257.7 L339.6,257.8 L340.6,257.9 L341.6,258 L342.6,258 L343.6,258.1 L344.6,258.2 L345.6,258.3 L346.6,258.3 L347.6,258.4 L348.6,258.5 L349.6,258.6 L350.6,258.6 L351.6,258.7 L352.6,258.8 L353.6,258.9 L354.6,258.9 L355.6,259 L356.6,259.1 L357.6,259.1 L358.6,259.2 L359.6,259.3 L360.6,259.4 L361.6,259.4 L362.6,259.5 L363.6,259.6 L364.6,259.7 L365.6,259.7 L366.6,259.8 L367.6,259.9 L368.6,260 L369.6,260.1 L370.6,260.1 L371.6,260.2 L372.6,260.3 L373.6,260.4 L374.6,260.5 L375.6,260.6 L376.6,260.7 L377.6,260.8 L378.6,260.9 L379.6,261 L380.6,261.1 L381.6,261.2 L382.6,261.3 L383.6,261.4 L384.6,261.5 L385.6,261.6 L386.6,261.7 L387.6,261.8 L388.6,261.9 L389.6,262 L390.6,262.1 L391.6,262.1 L392.6,262.2 L393.6,262.3 L394.6,262.3 L395.6,262.4 L396.6,262.5 L397.6,262.5 L398.6,262.5 L399.6,262.6 L400.6,262.6 L401.6,262.6 L402.6,262.6 L403.6,262.6 L404.6,262.7 L405.6,262.7 L406.6,262.7 L407.6,262.7 L408.6,262.7 L409.6,262.7 L410.6,262.8 L411.6,262.8 L412.6,262.8 L413.6,262.8 L414.6,262.8 L415.6,262.8 L416.6,262.9 L417.6,262.9 L418.6,262.9 L419.6,262.9 L420.6,262.9 L421.6,262.9 L422.6,262.9 L423.6,263 L424.6,263 L425.6,263 L426.6,263 L427.6,263 L428.6,263 L429.6,263 L430.6,263.1 L431.6,263.1 L432.6,263.1 L433.6,263.1 L434.6,263.1 L435.6,263.1 L436.6,263.1 L437.6,263.1 L438.6,263.1 L439.6,263.2 L440.6,263.2 L441.6,263.2 L442.6,263.2 L443.6,263.2 L444.6,263.2 L445.6,263.2 L446.6,263.2 L447.6,263.2 L448.6,263.2 L449.6,263.2 L450.6,263.3 L451.6,263.3 L452.6,263.3 L453.6,263.3 L454.6,263.3 L455.6,263.3 L456.6,263.3 L457.6,263.3 L458.6,263.3 L459.6,263.3 L460.6,263.3 L461.6,263.3 L462.6,263.3 L463.6,263.3 L464.6,263.3 L465.6,263.4 L466.6,263.4 L467.6,263.4 L468.6,263.4 L469.6,263.4 L470.6,263.4 L471.6,263.4 L472.6,263.4 L473.6,263.4 L474.6,263.4 L475.6,263.4 L476.6,263.4 L477.6,263.4 L478.6,263.4 L479.6,263.4 L480.6,263.4 L481.6,263.4 L482.6,263.4 L483.6,263.4 L484.6,263.4 L485.6,263.4 L486.6,263.4 L487.6,263.4 L488.6,263.4 L489.6,263.4 L490.6,263.4 L491.6,263.4 L492.6,263.4 L493.6,263.4 L494,263.4" fill="none" stroke="#800000" stroke-width="2.0" stroke-linejoin="round" stroke-linecap="round"/>
<path d="M14.6,225.7 L15.6,225.6 L16.6,225.5 L17.6,225.5 L18.6,225.4 L19.6,225.3 L20.6,225.2 L21.6,225.2 L22.6,225.1 L23.6,225 L24.6,224.9 L25.6,224.8 L26.6,224.7 L27.6,224.7 L28.6,224.6 L29.6,224.5 L30.6,224.4 L31.6,224.3 L32.6,224.3 L33.6,224.2 L34.6,224.1 L35.6,224 L36.6,223.9 L37.6,223.9 L38.6,223.8 L39.6,223.7 L40.6,223.6 L41.6,223.5 L42.6,223.4 L43.6,223.4 L44.6,223.3 L45.6,223.2 L46.6,223.1 L47.6,223 L48.6,222.9 L49.6,222.8 L50.6,222.8 L51.6,222.7 L52.6,222.6 L53.6,222.5 L54.6,222.4 L55.6,222.3 L56.6,222.2 L57.6,222.1 L58.6,222 L59.6,222 L60.6,221.9 L61.6,221.8 L62.6,221.7 L63.6,221.6 L64.6,221.5 L65.6,221.4 L66.6,221.4 L67.6,221.3 L68.6,221.2 L69.6,221.1 L70.6,221 L71.6,220.9 L72.6,220.8 L73.6,220.7 L74.6,220.6 L75.6,220.6 L76.6,220.5 L77.6,220.4 L78.6,220.3 L79.6,220.2 L80.6,220.1 L81.6,220 L82.6,219.9 L83.6,219.8 L84.6,219.7 L85.6,219.6 L86.6,219.5 L87.6,219.4 L88.6,219.3 L89.6,219.2 L90.6,219.1 L91.6,219 L92.6,218.9 L93.6,218.8 L94.6,218.6 L95.6,218.5 L96.6,218.4 L97.6,218.3 L98.6,218.2 L99.6,218 L100.6,217.9 L101.6,217.8 L102.6,217.6 L103.6,217.5 L104.6,217.4 L105.6,217.2 L106.6,217.1 L107.6,217 L108.6,216.8 L109.6,216.7 L110.6,216.5 L111.6,216.4 L112.6,216.3 L113.6,216.1 L114.6,216 L115.6,215.8 L116.6,215.7 L117.6,215.5 L118.6,215.4 L119.6,215.2 L120.6,215.1 L121.6,214.9 L122.6,214.8 L123.6,214.6 L124.6,214.5 L125.6,214.3 L126.6,214.2 L127.6,214 L128.6,213.8 L129.6,213.7 L130.6,213.5 L131.6,213.4 L132.6,213.2 L133.6,213.1 L134.6,212.9 L135.6,212.7 L136.6,212.6 L137.6,212.4 L138.6,212.3 L139.6,212.1 L140.6,212 L141.6,211.8 L142.6,211.7 L143.6,211.5 L144.6,211.4 L145.6,211.2 L146.6,211.1 L147.6,210.9 L148.6,210.8 L149.6,210.6 L150.6,210.5 L151.6,210.4 L152.6,210.2 L153.6,210 L154.6,209.8 L155.6,209.7 L156.6,209.4 L157.6,209.2 L158.6,209 L159.6,208.8 L160.6,208.6 L161.6,208.3 L162.6,208.1 L163.6,207.8 L164.6,207.6 L165.6,207.4 L166.6,207.1 L167.6,206.9 L168.6,206.7 L169.6,206.4 L170.6,206.2 L171.6,206 L172.6,205.8 L173.6,205.6 L174.6,205.4 L175.6,205.2 L176.6,205.1 L177.6,204.9 L178.6,204.8 L179.6,204.7 L180.6,204.6 L181.6,204.5 L182.6,204.4 L183.6,204.4 L184.6,204.3 L185.6,204.3 L186.6,204.3 L187.6,204.4 L188.6,204.4 L189.6,204.5 L190.6,204.6 L191.6,204.7 L192.6,204.9 L193.6,205 L194.6,205.2 L195.6,205.3 L196.6,205.5 L197.6,205.6 L198.6,205.8 L199.6,206 L200.6,206.2 L201.6,206.4 L202.6,206.5 L203.6,206.7 L204.6,206.9 L205.6,207.1 L206.6,207.3 L207.6,207.5 L208.6,207.7 L209.6,208 L210.6,208.1 L211.6,208.3 L212.6,208.5 L213.6,208.7 L214.6,208.9 L215.6,209.1 L216.6,209.2 L217.6,209.4 L218.6,209.5 L219.6,209.6 L220.6,209.7 L221.6,209.8 L222.6,209.9 L223.6,210 L224.6,210 L225.6,210 L226.6,210 L227.6,210 L228.6,209.9 L229.6,209.9 L230.6,209.8 L231.6,209.7 L232.6,209.6 L233.6,209.4 L234.6,209.1 L235.6,208.9 L236.6,208.6 L237.6,208.2 L238.6,207.7 L239.6,207.2 L240.6,206.7 L241.6,206 L242.6,205.4 L243.6,204.6 L244.6,203.9 L245.6,203.1 L246.6,202.2 L247.6,201.3 L248.6,200.4 L249.6,199.4 L250.6,198.4 L251.6,197.4 L252.6,196.4 L253.6,195.3 L254.6,194.2 L255.6,193.1 L256.6,192 L257.6,190.9 L258.6,189.7 L259.6,188.6 L260.6,187.5 L261.6,186.3 L262.6,185.2 L263.6,184.1 L264.6,183 L265.6,182 L266.6,181 L267.6,180 L268.6,179 L269.6,178.1 L270.6,177.2 L271.6,176.4 L272.6,175.7 L273.6,174.9 L274.6,174.3 L275.6,173.7 L276.6,173.1 L277.6,172.6 L278.6,172.2 L279.6,171.8 L280.6,171.4 L281.6,171.1 L282.6,170.8 L283.6,170.5 L284.6,170.2 L285.6,169.9 L286.6,169.5 L287.6,169.2 L288.6,168.8 L289.6,168.3 L290.6,167.8 L291.6,167.3 L292.6,166.7 L293.6,166 L294.6,165.2 L295.6,164.3 L296.6,163.3 L297.6,162.3 L298.6,161.3 L299.6,160.2 L300.6,159.2 L301.6,158.2 L302.6,157.2 L303.6,156.3 L304.6,155.5 L305.6,154.9 L306.6,154.4 L307.6,154.1 L308.6,154 L309.6,154 L310.6,154.2 L311.6,154.5 L312.6,155 L313.6,155.8 L314.6,156.9 L315.6,158.4 L316.6,160.1 L317.6,162.2 L318.6,164.7 L319.6,167.5 L320.6,170.7 L321.6,174 L322.6,177.6 L323.6,181.2 L324.6,184.8 L325.6,188.4 L326.6,191.8 L327.6,195 L328.6,198.1 L329.6,201.2 L330.6,204.2 L331.6,207.1 L332.6,209.8 L333.6,212.4 L334.6,214.9 L335.6,217.1 L336.6,219.1 L337.6,221 L338.6,222.6 L339.6,224.2 L340.6,225.6 L341.6,226.9 L342.6,228.1 L343.6,229.2 L344.6,230.2 L345.6,231.1 L346.6,231.9 L347.6,232.6 L348.6,233.3 L349.6,233.9 L350.6,234.5 L351.6,235 L352.6,235.5 L353.6,235.9 L354.6,236.2 L355.6,236.5 L356.6,236.7 L357.6,236.8 L358.6,236.9 L359.6,236.9 L360.6,236.8 L361.6,236.6 L362.6,236.4 L363.6,236.1 L364.6,235.8 L365.6,235.4 L366.6,235.1 L367.6,234.8 L368.6,234.5 L369.6,234.2 L370.6,234 L371.6,233.9 L372.6,233.8 L373.6,233.8 L374.6,234 L375.6,234.3 L376.6,234.7 L377.6,235.1 L378.6,235.7 L379.6,236.3 L380.6,237 L381.6,237.8 L382.6,238.6 L383.6,239.4 L384.6,240.2 L385.6,241 L386.6,241.8 L387.6,242.5 L388.6,243.2 L389.6,243.9 L390.6,244.6 L391.6,245.3 L392.6,246 L393.6,246.7 L394.6,247.4 L395.6,248.1 L396.6,248.8 L397.6,249.4 L398.6,250.1 L399.6,250.7 L400.6,251.3 L401.6,251.8 L402.6,252.4 L403.6,252.9 L404.6,253.4 L405.6,253.9 L406.6,254.4 L407.6,254.9 L408.6,255.3 L409.6,255.7 L410.6,256.1 L411.6,256.4 L412.6,256.8 L413.6,257.1 L414.6,257.4 L415.6,257.7 L416.6,258 L417.6,258.2 L418.6,258.4 L419.6,258.7 L420.6,258.9 L421.6,259.1 L422.6,259.2 L423.6,259.4 L424.6,259.5 L425.6,259.7 L426.6,259.8 L427.6,260 L428.6,260.1 L429.6,260.2 L430.6,260.3 L431.6,260.4 L432.6,260.5 L433.6,260.6 L434.6,260.7 L435.6,260.8 L436.6,260.8 L437.6,260.9 L438.6,261 L439.6,261.1 L440.6,261.1 L441.6,261.2 L442.6,261.3 L443.6,261.3 L444.6,261.4 L445.6,261.4 L446.6,261.5 L447.6,261.5 L448.6,261.6 L449.6,261.7 L450.6,261.7 L451.6,261.8 L452.6,261.8 L453.6,261.9 L454.6,261.9 L455.6,262 L456.6,262 L457.6,262 L458.6,262.1 L459.6,262.1 L460.6,262.2 L461.6,262.2 L462.6,262.3 L463.6,262.3 L464.6,262.3 L465.6,262.4 L466.6,262.4 L467.6,262.5 L468.6,262.5 L469.6,262.5 L470.6,262.6 L471.6,262.6 L472.6,262.6 L473.6,262.7 L474.6,262.7 L475.6,262.7 L476.6,262.8 L477.6,262.8 L478.6,262.8 L479.6,262.9 L480.6,262.9 L481.6,262.9 L482.6,262.9 L483.6,263 L484.6,263 L485.6,263 L486.6,263 L487.6,263.1 L488.6,263.1 L489.6,263.1 L490.6,263.1 L491.6,263.2 L492.6,263.2 L493.6,263.2 L494,263.2" fill="none" stroke="#FF0000" stroke-width="2.2" stroke-linejoin="round" stroke-linecap="round"/>
<path d="M11,352.4 L12.2,352.9 L13.4,350.7 L14.6,355.5 L15.9,361.4 L17.1,371 L18.3,376.6 L19.5,377.5 L20.7,374 L21.9,372 L23.1,373.8 L24.4,374.3 L25.6,370 L26.8,370.7 L28,372 L29.2,373.2 L30.4,368.2 L31.7,367.5 L32.9,368.2 L34.1,366.6 L35.3,362.8 L36.5,365.4 L37.7,366.4 L38.9,366.4 L40.2,364 L41.4,362.3 L42.6,360.1 L43.8,362.2 L45,355.7 L46.2,352.9 L47.4,360.6 L48.7,370.6 L49.9,374.6 L51.1,379 L52.3,374.7 L53.5,360.8 L54.7,351.2 L56,355.4 L57.2,362.8 L58.4,358.7 L59.6,353 L60.8,353.7 L62,361.3 L63.2,368.4 L64.5,372.8 L65.7,371.1 L66.9,363.8 L68.1,360.1 L69.3,357.5 L70.5,357 L71.8,355.7 L73,360.1 L74.2,369.2 L75.4,371.8 L76.6,375.5 L77.8,378.4 L79,372.9 L80.3,364.2 L81.5,359.8 L82.7,359.4 L83.9,364.4 L85.1,366.2 L86.3,367.8 L87.5,361.6 L88.8,358 L90,358.1 L91.2,362.9 L92.4,365 L93.6,365.2 L94.8,362.1 L96,364 L97.3,366.8 L98.5,364.6 L99.7,365.5 L100.9,366.5 L102.1,360 L103.3,351.9 L104.6,351.5 L105.8,363.7 L107,366.5 L108.2,365.9 L109.4,362.7 L110.6,365.1 L111.8,360.9 L113.1,355 L114.3,350.2 L115.5,350.8 L116.7,348.6 L117.9,345.4 L119.1,342.3 L120.3,344.7 L121.6,347.1 L122.8,347.7 L124,351.6 L125.2,353.7 L126.4,350.6 L127.6,347.8 L128.9,347.7 L130.1,348.7 L131.3,343.7 L132.5,343.4 L133.7,344.5 L134.9,345.4 L136.1,344.7 L137.4,345.8 L138.6,349.9 L139.8,343.3 L141,333.9 L142.2,332.2 L143.4,336 L144.6,338 L145.9,334.7 L147.1,334.1 L148.3,331.3 L149.5,336.3 L150.7,345.5 L151.9,350 L153.2,345.9 L154.4,342 L155.6,340.9 L156.8,336.6 L158,337.5 L159.2,339.8 L160.4,342 L161.7,339.9 L162.9,337.2 L164.1,337.1 L165.3,336.4 L166.5,338.9 L167.7,337 L168.9,336.6 L170.2,340 L171.4,345.2 L172.6,348.7 L173.8,349.2 L175,351.1 L176.2,349.5 L177.5,344.5 L178.7,342.1 L179.9,343.8 L181.1,339.6 L182.3,332.4 L183.5,332.6 L184.7,335.9 L186,334.1 L187.2,333.4 L188.4,335.3 L189.6,343.2 L190.8,348.9 L192,352.3 L193.2,353 L194.5,350.3 L195.7,350.5 L196.9,353.2 L198.1,348 L199.3,346.6 L200.5,346.6 L201.8,355.4 L203,362 L204.2,360.7 L205.4,358.8 L206.6,361.3 L207.8,356.2 L209,351.6 L210.3,349.2 L211.5,350.3 L212.7,358.8 L213.9,363.9 L215.1,361.5 L216.3,356.7 L217.5,351.3 L218.8,345.6 L220,337.6 L221.2,340.9 L222.4,343.7 L223.6,343 L224.8,346.6 L226.1,348.3 L227.3,349.2 L228.5,349.4 L229.7,348.8 L230.9,344.4 L232.1,338 L233.3,336.8 L234.6,336.9 L235.8,337.8 L237,339.8 L238.2,347.1 L239.4,353.9 L240.6,358.3 L241.8,357.8 L243.1,350.4 L244.3,338.4 L245.5,332 L246.7,331.8 L247.9,335 L249.1,337.4 L250.4,340.3 L251.6,339.5 L252.8,332.7 L254,327 L255.2,317.5 L256.4,309.6 L257.6,305.5 L258.9,306.1 L260.1,308.3 L261.3,315.9 L262.5,318 L263.7,312.6 L264.9,312.5 L266.1,316.3 L267.4,314 L268.6,309.5 L269.8,307.3 L271,307.7 L272.2,301.1 L273.4,287.9 L274.7,278 L275.9,280 L277.1,293.7 L278.3,302.9 L279.5,307.2 L280.7,302.5 L281.9,297.8 L283.2,300.1 L284.4,301.9 L285.6,299.5 L286.8,299.9 L288,300.9 L289.2,294.6 L290.4,295.1 L291.7,300 L292.9,296.9 L294.1,288.2 L295.3,286.1 L296.5,295.1 L297.7,304.2 L299,308.5 L300.2,311 L301.4,314 L302.6,313.2 L303.8,309.3 L305,306.3 L306.2,297.1 L307.5,296 L308.7,298.7 L309.9,302.1 L311.1,296.4 L312.3,292.5 L313.5,292.7 L314.7,302.9 L316,311 L317.2,314.8 L318.4,314.1 L319.6,317.1 L320.8,320.2 L322,328.1 L323.3,338.2 L324.5,347.4 L325.7,348.6 L326.9,349 L328.1,348.2 L329.3,350.3 L330.5,354.8 L331.8,361.2 L333,366.4 L334.2,366.8 L335.4,370.2 L336.6,371 L337.8,374.4 L339,375.1 L340.3,378.4 L341.5,383.6 L342.7,391.5 L343.9,394.5 L345.1,394.8 L346.3,392.5 L347.6,392.6 L348.8,392.2 L350,384.1 L351.2,383.7 L352.4,389.5 L353.6,396 L354.8,394.9 L356.1,396.7 L357.3,396.5 L358.5,392.5 L359.7,390.7 L360.9,390.1 L362.1,383.3 L363.3,378.3 L364.6,379.5 L365.8,379.8 L367,379.4 L368.2,372.3 L369.4,364.1 L370.6,364.2 L371.9,366.3 L373.1,367.2 L374.3,367.1 L375.5,362 L376.7,364.8 L377.9,372.8 L379.1,380 L380.4,379 L381.6,379.7 L382.8,381.2 L384,383 L385.2,387 L386.4,390.7 L387.6,395.6 L388.9,398 L390.1,395.2 L391.3,392.6 L392.5,390.9 L393.7,389.9 L394.9,389.6 L396.2,393.1 L397.4,402.2 L398.6,410.8 L399.8,419.7 L401,412.4 L402.2,405.8 L403.4,398.9 L404.7,400.1 L405.9,403.3 L407.1,409 L408.3,411.9 L409.5,407.3 L410.7,402.1 L411.9,402.1 L413.2,404.5 L414.4,412.2 L415.6,421.6 L416.8,425.1 L418,423.8 L419.2,417.8 L420.5,410 L421.7,403.3 L422.9,404.9 L424.1,410.9 L425.3,419.3 L426.5,422.7 L427.7,422.4 L429,423.7 L430.2,431.4 L431.4,433 L432.6,429 L433.8,427.7 L435,428.6 L436.2,428.5 L437.5,421.7 L438.7,421.7 L439.9,420.2 L441.1,418 L442.3,415.8 L443.5,415.2 L444.8,415.8 L446,414.8 L447.2,414.5 L448.4,417.5 L449.6,421.8 L450.8,425.9 L452,430.8 L453.3,434.5 L454.5,437.5 L455.7,428.4 L456.9,420.3 L458.1,416.6 L459.3,417.5 L460.5,419.5 L461.8,421.3 L463,422.1 L464.2,422.7 L465.4,426.6 L466.6,431.8 L467.8,431.2 L469.1,427.8 L470.3,434 L471.5,440.8 L472.7,434.2 L473.9,427.3 L475.1,418.1 L476.3,408.9 L477.6,411 L478.8,415.7 L480,416.1 L481.2,412.5 L482.4,409.1 L483.6,406.1 L484.8,408.9 L486.1,412 L487.3,416.4 L488.5,420.6 L489.7,427.9 L490.9,436.7 L492.1,440.7 L493.4,435.7 L494.6,423.1 L495.8,427.2" fill="none" stroke="#000" stroke-width="2.2" stroke-linejoin="round" stroke-linecap="round"/>
<path d="M39.5,376.5 L40.5,376.5 L41.5,376.6 L42.5,376.6 L43.5,376.6 L44.5,376.7 L45.5,376.7 L46.5,376.7 L47.5,376.8 L48.5,376.8 L49.5,376.8 L50.5,376.9 L51.5,376.9 L52.5,377 L53.5,377 L54.5,377 L55.5,377.1 L56.5,377.1 L57.5,377.2 L58.5,377.2 L59.5,377.2 L60.5,377.3 L61.5,377.3 L62.5,377.4 L63.5,377.4 L64.5,377.5 L65.5,377.5 L66.5,377.5 L67.5,377.6 L68.5,377.6 L69.5,377.7 L70.5,377.7 L71.5,377.8 L72.5,377.8 L73.5,377.9 L74.5,377.9 L75.5,378 L76.5,378 L77.5,378.1 L78.5,378.1 L79.5,378.2 L80.5,378.2 L81.5,378.3 L82.5,378.3 L83.5,378.4 L84.5,378.4 L85.5,378.5 L86.5,378.5 L87.5,378.6 L88.5,378.6 L89.5,378.7 L90.5,378.8 L91.5,378.8 L92.5,378.9 L93.5,378.9 L94.5,379 L95.5,379 L96.5,379.1 L97.5,379.2 L98.5,379.2 L99.5,379.3 L100.5,379.3 L101.5,379.4 L102.5,379.4 L103.5,379.5 L104.5,379.6 L105.5,379.6 L106.5,379.7 L107.5,379.8 L108.5,379.8 L109.5,379.9 L110.5,379.9 L111.5,380 L112.5,380.1 L113.5,380.1 L114.5,380.2 L115.5,380.3 L116.5,380.4 L117.5,380.4 L118.5,380.5 L119.5,380.6 L120.5,380.6 L121.5,380.7 L122.5,380.8 L123.5,380.9 L124.5,380.9 L125.5,381 L126.5,381.1 L127.5,381.2 L128.5,381.2 L129.5,381.3 L130.5,381.4 L131.5,381.5 L132.5,381.6 L133.5,381.6 L134.5,381.7 L135.5,381.8 L136.5,381.9 L137.5,382 L138.5,382 L139.5,382.1 L140.5,382.2 L141.5,382.3 L142.5,382.4 L143.5,382.5 L144.5,382.5 L145.5,382.6 L146.5,382.7 L147.5,382.8 L148.5,382.9 L149.5,383 L150.5,383.1 L151.5,383.2 L152.5,383.2 L153.5,383.3 L154.5,383.4 L155.5,383.5 L156.5,383.6 L157.5,383.7 L158.5,383.8 L159.5,383.9 L160.5,384 L161.5,384.1 L162.5,384.1 L163.5,384.2 L164.5,384.3 L165.5,384.4 L166.5,384.5 L167.5,384.6 L168.5,384.7 L169.5,384.8 L170.5,384.9 L171.5,385 L172.5,385.1 L173.5,385.2 L174.5,385.3 L175.5,385.4 L176.5,385.5 L177.5,385.6 L178.5,385.6 L179.5,385.7 L180.5,385.8 L181.5,385.9 L182.5,386 L183.5,386.1 L184.5,386.2 L185.5,386.3 L186.5,386.4 L187.5,386.5 L188.5,386.6 L189.5,386.7 L190.5,386.8 L191.5,386.9 L192.5,387 L193.5,387.1 L194.5,387.2 L195.5,387.3 L196.5,387.4 L197.5,387.4 L198.5,387.5 L199.5,387.6 L200.5,387.7 L201.5,387.8 L202.5,387.9 L203.5,388 L204.5,388.1 L205.5,388.2 L206.5,388.3 L207.5,388.4 L208.5,388.5 L209.5,388.6 L210.5,388.7 L211.5,388.8 L212.5,388.9 L213.5,389 L214.5,389.1 L215.5,389.2 L216.5,389.3 L217.5,389.4 L218.5,389.5 L219.5,389.6 L220.5,389.8 L221.5,389.9 L222.5,390 L223.5,390.1 L224.5,390.2 L225.5,390.3 L226.5,390.4 L227.5,390.5 L228.5,390.7 L229.5,390.8 L230.5,390.9 L231.5,391 L232.5,391.1 L233.5,391.3 L234.5,391.4 L235.5,391.5 L236.5,391.6 L237.5,391.8 L238.5,391.9 L239.5,392 L240.5,392.2 L241.5,392.3 L242.5,392.5 L243.5,392.6 L244.5,392.7 L245.5,392.9 L246.5,393 L247.5,393.2 L248.5,393.3 L249.5,393.5 L250.5,393.6 L251.5,393.8 L252.5,393.9 L253.5,394.1 L254.5,394.3 L255.5,394.4 L256.5,394.6 L257.5,394.7 L258.5,394.9 L259.5,395.1 L260.5,395.3 L261.5,395.5 L262.5,395.7 L263.5,395.9 L264.5,396.1 L265.5,396.3 L266.5,396.6 L267.5,396.8 L268.5,397.1 L269.5,397.4 L270.5,397.7 L271.5,398 L272.5,398.3 L273.5,398.6 L274.5,398.9 L275.5,399.2 L276.5,399.5 L277.5,399.9 L278.5,400.2 L279.5,400.5 L280.5,400.9 L281.5,401.2 L282.5,401.6 L283.5,401.9 L284.5,402.3 L285.5,402.6 L286.5,403 L287.5,403.3 L288.5,403.7 L289.5,404 L290.5,404.4 L291.5,404.7 L292.5,405.1 L293.5,405.4 L294.5,405.7 L295.5,406.1 L296.5,406.4 L297.5,406.7 L298.5,407 L299.5,407.3 L300.5,407.6 L301.5,407.9 L302.5,408.2 L303.5,408.5 L304.5,408.7 L305.5,409 L306.5,409.2 L307.5,409.4 L308.5,409.7 L309.5,409.9 L310.5,410.1 L311.5,410.3 L312.5,410.5 L313.5,410.7 L314.5,410.9 L315.5,411.1 L316.5,411.3 L317.5,411.5 L318.5,411.6 L319.5,411.8 L320.5,412 L321.5,412.2 L322.5,412.4 L323.5,412.6 L324.5,412.8 L325.5,413 L326.5,413.1 L327.5,413.3 L328.5,413.5 L329.5,413.7 L330.5,413.8 L331.5,414 L332.5,414.2 L333.5,414.4 L334.5,414.5 L335.5,414.7 L336.5,414.8 L337.5,415 L338.5,415.1 L339.5,415.3 L340.5,415.4 L341.5,415.6 L342.5,415.7 L343.5,415.8 L344.5,416 L345.5,416.1 L346.5,416.2 L347.5,416.2 L348.5,416.3 L349.5,416.3 L350.5,416.2 L351.5,416.1 L352.5,415.9 L353.5,415.6 L354.5,415.2 L355.5,414.6 L356.5,413.8 L357.5,412.8 L358.5,411.5 L359.5,410 L360.5,408.2 L361.5,406.2 L362.5,403.9 L363.5,401.4 L364.5,398.7 L365.5,396 L366.5,393.3 L367.5,390.7 L368.5,388.3 L369.5,386.3 L370.5,384.7 L371.5,383.6 L372.5,383.2 L373.5,383.4 L374.5,384.2 L375.5,385.7 L376.5,387.6 L377.5,390 L378.5,392.6 L379.5,395.4 L380.5,398.3 L381.5,401.2 L382.5,404 L383.5,406.6 L384.5,408.9 L385.5,411.1 L386.5,412.9 L387.5,414.5 L388.5,415.8 L389.5,417 L390.5,417.9 L391.5,418.6 L392.5,419.2 L393.5,419.6 L394.5,420 L395.5,420.3 L396.5,420.5 L397.5,420.7 L398.5,420.8 L399.5,421 L400.5,421.1 L401.5,421.2 L402.5,421.3 L403.5,421.3 L404.5,421.4 L405.5,421.5 L406.5,421.6 L407.5,421.6 L408.5,421.7 L409.5,421.7 L410.5,421.8 L411.5,421.8 L412.5,421.9 L413.5,422 L414.5,422 L415.5,422 L416.5,422.1 L417.5,422.1 L418.5,422.2 L419.5,422.2 L420.5,422.2 L421.5,422.3 L422.5,422.3 L423.5,422.3 L424.5,422.4 L425.5,422.4 L426.5,422.4 L427.5,422.4 L428.5,422.5 L429.5,422.5 L430.5,422.5 L431.5,422.5 L432.5,422.5 L433.5,422.5 L434.5,422.5 L435.5,422.5" fill="none" stroke="#008080" stroke-width="2.0" stroke-linejoin="round" stroke-linecap="round"/>
<path d="M39.5,374.8 L40.5,374.9 L41.5,374.9 L42.5,374.9 L43.5,375 L44.5,375 L45.5,375 L46.5,375.1 L47.5,375.1 L48.5,375.1 L49.5,375.2 L50.5,375.2 L51.5,375.2 L52.5,375.3 L53.5,375.3 L54.5,375.4 L55.5,375.4 L56.5,375.4 L57.5,375.5 L58.5,375.5 L59.5,375.6 L60.5,375.6 L61.5,375.6 L62.5,375.7 L63.5,375.7 L64.5,375.8 L65.5,375.8 L66.5,375.9 L67.5,375.9 L68.5,376 L69.5,376 L70.5,376 L71.5,376.1 L72.5,376.1 L73.5,376.2 L74.5,376.2 L75.5,376.3 L76.5,376.3 L77.5,376.4 L78.5,376.4 L79.5,376.5 L80.5,376.5 L81.5,376.6 L82.5,376.6 L83.5,376.7 L84.5,376.7 L85.5,376.8 L86.5,376.8 L87.5,376.9 L88.5,377 L89.5,377 L90.5,377.1 L91.5,377.1 L92.5,377.2 L93.5,377.2 L94.5,377.3 L95.5,377.3 L96.5,377.4 L97.5,377.4 L98.5,377.5 L99.5,377.6 L100.5,377.6 L101.5,377.7 L102.5,377.7 L103.5,377.8 L104.5,377.9 L105.5,377.9 L106.5,378 L107.5,378 L108.5,378.1 L109.5,378.2 L110.5,378.2 L111.5,378.3 L112.5,378.4 L113.5,378.4 L114.5,378.5 L115.5,378.6 L116.5,378.6 L117.5,378.7 L118.5,378.8 L119.5,378.8 L120.5,378.9 L121.5,379 L122.5,379.1 L123.5,379.1 L124.5,379.2 L125.5,379.3 L126.5,379.4 L127.5,379.4 L128.5,379.5 L129.5,379.6 L130.5,379.7 L131.5,379.7 L132.5,379.8 L133.5,379.9 L134.5,380 L135.5,380 L136.5,380.1 L137.5,380.2 L138.5,380.3 L139.5,380.4 L140.5,380.4 L141.5,380.5 L142.5,380.6 L143.5,380.7 L144.5,380.8 L145.5,380.9 L146.5,380.9 L147.5,381 L148.5,381.1 L149.5,381.2 L150.5,381.3 L151.5,381.4 L152.5,381.5 L153.5,381.5 L154.5,381.6 L155.5,381.7 L156.5,381.8 L157.5,381.9 L158.5,382 L159.5,382.1 L160.5,382.2 L161.5,382.2 L162.5,382.3 L163.5,382.4 L164.5,382.5 L165.5,382.6 L166.5,382.7 L167.5,382.8 L168.5,382.9 L169.5,383 L170.5,383 L171.5,383.1 L172.5,383.2 L173.5,383.3 L174.5,383.4 L175.5,383.5 L176.5,383.6 L177.5,383.7 L178.5,383.8 L179.5,383.9 L180.5,384 L181.5,384.1 L182.5,384.1 L183.5,384.2 L184.5,384.3 L185.5,384.4 L186.5,384.5 L187.5,384.6 L188.5,384.7 L189.5,384.8 L190.5,384.9 L191.5,384.9 L192.5,385 L193.5,385.1 L194.5,385.2 L195.5,385.3 L196.5,385.4 L197.5,385.5 L198.5,385.6 L199.5,385.7 L200.5,385.7 L201.5,385.8 L202.5,385.9 L203.5,386 L204.5,386.1 L205.5,386.2 L206.5,386.3 L207.5,386.4 L208.5,386.5 L209.5,386.6 L210.5,386.6 L211.5,386.7 L212.5,386.8 L213.5,386.9 L214.5,387 L215.5,387.1 L216.5,387.2 L217.5,387.3 L218.5,387.4 L219.5,387.5 L220.5,387.6 L221.5,387.7 L222.5,387.8 L223.5,387.9 L224.5,388 L225.5,388.1 L226.5,388.2 L227.5,388.3 L228.5,388.4 L229.5,388.5 L230.5,388.6 L231.5,388.7 L232.5,388.8 L233.5,388.9 L234.5,389 L235.5,389.1 L236.5,389.2 L237.5,389.3 L238.5,389.4 L239.5,389.5 L240.5,389.6 L241.5,389.7 L242.5,389.9 L243.5,390 L244.5,390.1 L245.5,390.2 L246.5,390.3 L247.5,390.4 L248.5,390.5 L249.5,390.6 L250.5,390.7 L251.5,390.8 L252.5,390.9 L253.5,391 L254.5,391.1 L255.5,391.2 L256.5,391.3 L257.5,391.4 L258.5,391.5 L259.5,391.5 L260.5,391.6 L261.5,391.6 L262.5,391.7 L263.5,391.7 L264.5,391.7 L265.5,391.7 L266.5,391.7 L267.5,391.7 L268.5,391.7 L269.5,391.6 L270.5,391.5 L271.5,391.3 L272.5,391.1 L273.5,390.9 L274.5,390.6 L275.5,390.2 L276.5,389.8 L277.5,389.3 L278.5,388.7 L279.5,388 L280.5,387.3 L281.5,386.5 L282.5,385.6 L283.5,384.6 L284.5,383.5 L285.5,382.3 L286.5,381 L287.5,379.7 L288.5,378.2 L289.5,376.7 L290.5,375.2 L291.5,373.5 L292.5,371.8 L293.5,370.1 L294.5,368.4 L295.5,366.6 L296.5,364.9 L297.5,363.2 L298.5,361.5 L299.5,359.9 L300.5,358.3 L301.5,356.9 L302.5,355.6 L303.5,354.5 L304.5,353.5 L305.5,352.7 L306.5,352.2 L307.5,351.8 L308.5,351.7 L309.5,351.8 L310.5,352.2 L311.5,352.9 L312.5,353.7 L313.5,354.8 L314.5,356.1 L315.5,357.7 L316.5,359.3 L317.5,361.2 L318.5,363.1 L319.5,365.2 L320.5,367.3 L321.5,369.5 L322.5,371.8 L323.5,374.1 L324.5,376.3 L325.5,378.6 L326.5,380.8 L327.5,383 L328.5,385.2 L329.5,387.2 L330.5,389.2 L331.5,391.2 L332.5,393 L333.5,394.8 L334.5,396.5 L335.5,398 L336.5,399.5 L337.5,400.9 L338.5,402.2 L339.5,403.4 L340.5,404.5 L341.5,405.6 L342.5,406.5 L343.5,407.4 L344.5,408.2 L345.5,409 L346.5,409.7 L347.5,410.3 L348.5,410.9 L349.5,411.4 L350.5,411.9 L351.5,412.3 L352.5,412.7 L353.5,413.1 L354.5,413.4 L355.5,413.8 L356.5,414 L357.5,414.3 L358.5,414.6 L359.5,414.8 L360.5,415 L361.5,415.2 L362.5,415.4 L363.5,415.6 L364.5,415.8 L365.5,415.9 L366.5,416.1 L367.5,416.2 L368.5,416.4 L369.5,416.5 L370.5,416.6 L371.5,416.7 L372.5,416.9 L373.5,417 L374.5,417.1 L375.5,417.2 L376.5,417.3 L377.5,417.4 L378.5,417.5 L379.5,417.6 L380.5,417.7 L381.5,417.8 L382.5,417.9 L383.5,417.9 L384.5,418 L385.5,418.1 L386.5,418.2 L387.5,418.3 L388.5,418.4 L389.5,418.5 L390.5,418.6 L391.5,418.6 L392.5,418.7 L393.5,418.8 L394.5,418.9 L395.5,418.9 L396.5,419 L397.5,419.1 L398.5,419.2 L399.5,419.2 L400.5,419.3 L401.5,419.4 L402.5,419.4 L403.5,419.5 L404.5,419.6 L405.5,419.6 L406.5,419.7 L407.5,419.8 L408.5,419.8 L409.5,419.9 L410.5,419.9 L411.5,420 L412.5,420 L413.5,420.1 L414.5,420.1 L415.5,420.2 L416.5,420.2 L417.5,420.3 L418.5,420.3 L419.5,420.4 L420.5,420.4 L421.5,420.4 L422.5,420.5 L423.5,420.5 L424.5,420.5 L425.5,420.5 L426.5,420.6 L427.5,420.6 L428.5,420.6 L429.5,420.6 L430.5,420.7 L431.5,420.7 L432.5,420.7 L433.5,420.7 L434.5,420.7 L435.5,420.7" fill="none" stroke="#FF00FF" stroke-width="2.0" stroke-linejoin="round" stroke-linecap="round"/>
<path d="M39.5,373.8 L40.5,373.8 L41.5,373.8 L42.5,373.8 L43.5,373.9 L44.5,373.9 L45.5,373.9 L46.5,374 L47.5,374 L48.5,374 L49.5,374 L50.5,374.1 L51.5,374.1 L52.5,374.1 L53.5,374.2 L54.5,374.2 L55.5,374.2 L56.5,374.3 L57.5,374.3 L58.5,374.3 L59.5,374.4 L60.5,374.4 L61.5,374.4 L62.5,374.5 L63.5,374.5 L64.5,374.6 L65.5,374.6 L66.5,374.6 L67.5,374.7 L68.5,374.7 L69.5,374.7 L70.5,374.8 L71.5,374.8 L72.5,374.9 L73.5,374.9 L74.5,374.9 L75.5,375 L76.5,375 L77.5,375.1 L78.5,375.1 L79.5,375.1 L80.5,375.2 L81.5,375.2 L82.5,375.3 L83.5,375.3 L84.5,375.3 L85.5,375.4 L86.5,375.4 L87.5,375.5 L88.5,375.5 L89.5,375.6 L90.5,375.6 L91.5,375.6 L92.5,375.7 L93.5,375.7 L94.5,375.8 L95.5,375.8 L96.5,375.9 L97.5,375.9 L98.5,376 L99.5,376 L100.5,376 L101.5,376.1 L102.5,376.1 L103.5,376.2 L104.5,376.2 L105.5,376.3 L106.5,376.3 L107.5,376.4 L108.5,376.4 L109.5,376.5 L110.5,376.5 L111.5,376.6 L112.5,376.6 L113.5,376.7 L114.5,376.7 L115.5,376.8 L116.5,376.8 L117.5,376.9 L118.5,376.9 L119.5,377 L120.5,377 L121.5,377.1 L122.5,377.1 L123.5,377.2 L124.5,377.2 L125.5,377.3 L126.5,377.4 L127.5,377.4 L128.5,377.5 L129.5,377.5 L130.5,377.6 L131.5,377.6 L132.5,377.7 L133.5,377.7 L134.5,377.8 L135.5,377.8 L136.5,377.9 L137.5,377.9 L138.5,378 L139.5,378.1 L140.5,378.1 L141.5,378.2 L142.5,378.2 L143.5,378.3 L144.5,378.3 L145.5,378.4 L146.5,378.4 L147.5,378.5 L148.5,378.5 L149.5,378.5 L150.5,378.6 L151.5,378.6 L152.5,378.7 L153.5,378.7 L154.5,378.8 L155.5,378.8 L156.5,378.8 L157.5,378.9 L158.5,378.9 L159.5,378.9 L160.5,378.9 L161.5,379 L162.5,379 L163.5,379 L164.5,379 L165.5,379 L166.5,379 L167.5,379.1 L168.5,379.1 L169.5,379 L170.5,379 L171.5,379 L172.5,379 L173.5,379 L174.5,378.9 L175.5,378.9 L176.5,378.9 L177.5,378.8 L178.5,378.8 L179.5,378.7 L180.5,378.6 L181.5,378.5 L182.5,378.5 L183.5,378.4 L184.5,378.2 L185.5,378.1 L186.5,378 L187.5,377.8 L188.5,377.7 L189.5,377.5 L190.5,377.3 L191.5,377.1 L192.5,376.9 L193.5,376.7 L194.5,376.5 L195.5,376.2 L196.5,376 L197.5,375.7 L198.5,375.4 L199.5,375.1 L200.5,374.7 L201.5,374.4 L202.5,374 L203.5,373.6 L204.5,373.2 L205.5,372.8 L206.5,372.4 L207.5,371.9 L208.5,371.4 L209.5,370.9 L210.5,370.4 L211.5,369.8 L212.5,369.2 L213.5,368.6 L214.5,368 L215.5,367.4 L216.5,366.7 L217.5,366 L218.5,365.3 L219.5,364.6 L220.5,363.8 L221.5,363.1 L222.5,362.3 L223.5,361.5 L224.5,360.6 L225.5,359.7 L226.5,358.9 L227.5,358 L228.5,357 L229.5,356.1 L230.5,355.1 L231.5,354.1 L232.5,353.1 L233.5,352.1 L234.5,351.1 L235.5,350 L236.5,349 L237.5,347.9 L238.5,346.8 L239.5,345.7 L240.5,344.6 L241.5,343.5 L242.5,342.4 L243.5,341.3 L244.5,340.2 L245.5,339.1 L246.5,338 L247.5,336.8 L248.5,335.7 L249.5,334.6 L250.5,333.6 L251.5,332.5 L252.5,331.4 L253.5,330.4 L254.5,329.4 L255.5,328.4 L256.5,327.4 L257.5,326.5 L258.5,325.6 L259.5,324.7 L260.5,323.9 L261.5,323.1 L262.5,322.3 L263.5,321.6 L264.5,321 L265.5,320.5 L266.5,320 L267.5,319.5 L268.5,319.1 L269.5,318.8 L270.5,318.6 L271.5,318.4 L272.5,318.3 L273.5,318.3 L274.5,318.3 L275.5,318.4 L276.5,318.6 L277.5,318.9 L278.5,319.2 L279.5,319.6 L280.5,320.1 L281.5,320.7 L282.5,321.3 L283.5,322 L284.5,322.7 L285.5,323.6 L286.5,324.4 L287.5,325.4 L288.5,326.4 L289.5,327.4 L290.5,328.5 L291.5,329.7 L292.5,330.9 L293.5,332.1 L294.5,333.4 L295.5,334.7 L296.5,336 L297.5,337.4 L298.5,338.8 L299.5,340.2 L300.5,341.6 L301.5,343.1 L302.5,344.5 L303.5,346 L304.5,347.5 L305.5,349 L306.5,350.4 L307.5,351.9 L308.5,353.4 L309.5,354.9 L310.5,356.3 L311.5,357.8 L312.5,359.2 L313.5,360.7 L314.5,362.1 L315.5,363.6 L316.5,365 L317.5,366.4 L318.5,367.9 L319.5,369.3 L320.5,370.6 L321.5,372 L322.5,373.4 L323.5,374.7 L324.5,376 L325.5,377.3 L326.5,378.6 L327.5,379.8 L328.5,381 L329.5,382.2 L330.5,383.4 L331.5,384.6 L332.5,385.7 L333.5,386.8 L334.5,387.9 L335.5,389 L336.5,390 L337.5,391 L338.5,392 L339.5,392.9 L340.5,393.9 L341.5,394.8 L342.5,395.6 L343.5,396.5 L344.5,397.3 L345.5,398.1 L346.5,398.9 L347.5,399.7 L348.5,400.4 L349.5,401.1 L350.5,401.8 L351.5,402.4 L352.5,403.1 L353.5,403.7 L354.5,404.3 L355.5,404.9 L356.5,405.4 L357.5,406 L358.5,406.5 L359.5,407 L360.5,407.4 L361.5,407.9 L362.5,408.3 L363.5,408.7 L364.5,409.1 L365.5,409.5 L366.5,409.9 L367.5,410.2 L368.5,410.6 L369.5,410.9 L370.5,411.2 L371.5,411.5 L372.5,411.8 L373.5,412.1 L374.5,412.3 L375.5,412.6 L376.5,412.8 L377.5,413 L378.5,413.3 L379.5,413.5 L380.5,413.7 L381.5,413.9 L382.5,414.1 L383.5,414.3 L384.5,414.5 L385.5,414.7 L386.5,414.8 L387.5,415 L388.5,415.2 L389.5,415.3 L390.5,415.5 L391.5,415.6 L392.5,415.7 L393.5,415.9 L394.5,416 L395.5,416.2 L396.5,416.3 L397.5,416.4 L398.5,416.5 L399.5,416.6 L400.5,416.8 L401.5,416.9 L402.5,417 L403.5,417.1 L404.5,417.2 L405.5,417.3 L406.5,417.4 L407.5,417.5 L408.5,417.5 L409.5,417.6 L410.5,417.7 L411.5,417.8 L412.5,417.9 L413.5,417.9 L414.5,418 L415.5,418.1 L416.5,418.2 L417.5,418.2 L418.5,418.3 L419.5,418.4 L420.5,418.4 L421.5,418.5 L422.5,418.5 L423.5,418.6 L424.5,418.6 L425.5,418.7 L426.5,418.7 L427.5,418.8 L428.5,418.8 L429.5,418.8 L430.5,418.9 L431.5,418.9 L432.5,418.9 L433.5,418.9 L434.5,419 L435.5,419" fill="none" stroke="#808000" stroke-width="2.0" stroke-linejoin="round" stroke-linecap="round"/>
<path d="M39.5,376.2 L40.5,376.2 L41.5,376.2 L42.5,376.2 L43.5,376.2 L44.5,376.3 L45.5,376.3 L46.5,376.3 L47.5,376.3 L48.5,376.4 L49.5,376.4 L50.5,376.4 L51.5,376.4 L52.5,376.5 L53.5,376.5 L54.5,376.5 L55.5,376.5 L56.5,376.5 L57.5,376.6 L58.5,376.6 L59.5,376.6 L60.5,376.6 L61.5,376.6 L62.5,376.6 L63.5,376.6 L64.5,376.6 L65.5,376.7 L66.5,376.7 L67.5,376.7 L68.5,376.7 L69.5,376.7 L70.5,376.7 L71.5,376.6 L72.5,376.6 L73.5,376.6 L74.5,376.6 L75.5,376.6 L76.5,376.6 L77.5,376.5 L78.5,376.5 L79.5,376.5 L80.5,376.4 L81.5,376.4 L82.5,376.3 L83.5,376.3 L84.5,376.2 L85.5,376.1 L86.5,376.1 L87.5,376 L88.5,375.9 L89.5,375.8 L90.5,375.7 L91.5,375.6 L92.5,375.5 L93.5,375.3 L94.5,375.2 L95.5,375.1 L96.5,374.9 L97.5,374.7 L98.5,374.6 L99.5,374.4 L100.5,374.2 L101.5,374 L102.5,373.8 L103.5,373.6 L104.5,373.4 L105.5,373.1 L106.5,372.9 L107.5,372.6 L108.5,372.4 L109.5,372.1 L110.5,371.8 L111.5,371.5 L112.5,371.2 L113.5,370.9 L114.5,370.6 L115.5,370.3 L116.5,369.9 L117.5,369.6 L118.5,369.2 L119.5,368.8 L120.5,368.4 L121.5,368 L122.5,367.7 L123.5,367.2 L124.5,366.8 L125.5,366.4 L126.5,366 L127.5,365.6 L128.5,365.1 L129.5,364.7 L130.5,364.2 L131.5,363.8 L132.5,363.3 L133.5,362.8 L134.5,362.4 L135.5,361.9 L136.5,361.5 L137.5,361 L138.5,360.5 L139.5,360.1 L140.5,359.6 L141.5,359.2 L142.5,358.7 L143.5,358.3 L144.5,357.9 L145.5,357.4 L146.5,357 L147.5,356.6 L148.5,356.2 L149.5,355.8 L150.5,355.4 L151.5,355.1 L152.5,354.7 L153.5,354.4 L154.5,354.1 L155.5,353.8 L156.5,353.5 L157.5,353.2 L158.5,353 L159.5,352.8 L160.5,352.6 L161.5,352.4 L162.5,352.2 L163.5,352.1 L164.5,352 L165.5,351.9 L166.5,351.9 L167.5,351.8 L168.5,351.8 L169.5,351.9 L170.5,351.9 L171.5,352 L172.5,352.1 L173.5,352.2 L174.5,352.4 L175.5,352.6 L176.5,352.8 L177.5,353 L178.5,353.3 L179.5,353.5 L180.5,353.9 L181.5,354.2 L182.5,354.5 L183.5,354.9 L184.5,355.3 L185.5,355.7 L186.5,356.2 L187.5,356.6 L188.5,357.1 L189.5,357.6 L190.5,358.1 L191.5,358.6 L192.5,359.2 L193.5,359.7 L194.5,360.3 L195.5,360.9 L196.5,361.4 L197.5,362 L198.5,362.6 L199.5,363.3 L200.5,363.9 L201.5,364.5 L202.5,365.1 L203.5,365.8 L204.5,366.4 L205.5,367 L206.5,367.7 L207.5,368.3 L208.5,369 L209.5,369.6 L210.5,370.3 L211.5,370.9 L212.5,371.5 L213.5,372.2 L214.5,372.8 L215.5,373.4 L216.5,374 L217.5,374.6 L218.5,375.2 L219.5,375.8 L220.5,376.4 L221.5,377 L222.5,377.6 L223.5,378.2 L224.5,378.7 L225.5,379.3 L226.5,379.8 L227.5,380.4 L228.5,380.9 L229.5,381.4 L230.5,381.9 L231.5,382.4 L232.5,382.9 L233.5,383.4 L234.5,383.8 L235.5,384.3 L236.5,384.7 L237.5,385.2 L238.5,385.6 L239.5,386 L240.5,386.5 L241.5,386.9 L242.5,387.3 L243.5,387.6 L244.5,388 L245.5,388.4 L246.5,388.8 L247.5,389.1 L248.5,389.5 L249.5,389.8 L250.5,390.2 L251.5,390.5 L252.5,390.8 L253.5,391.1 L254.5,391.4 L255.5,391.8 L256.5,392.1 L257.5,392.4 L258.5,392.7 L259.5,392.9 L260.5,393.2 L261.5,393.5 L262.5,393.8 L263.5,394.1 L264.5,394.5 L265.5,394.8 L266.5,395.1 L267.5,395.4 L268.5,395.8 L269.5,396.1 L270.5,396.5 L271.5,396.8 L272.5,397.2 L273.5,397.5 L274.5,397.9 L275.5,398.3 L276.5,398.7 L277.5,399 L278.5,399.4 L279.5,399.8 L280.5,400.2 L281.5,400.5 L282.5,400.9 L283.5,401.3 L284.5,401.7 L285.5,402.1 L286.5,402.4 L287.5,402.8 L288.5,403.2 L289.5,403.5 L290.5,403.9 L291.5,404.3 L292.5,404.6 L293.5,405 L294.5,405.3 L295.5,405.7 L296.5,406 L297.5,406.3 L298.5,406.7 L299.5,407 L300.5,407.3 L301.5,407.6 L302.5,407.9 L303.5,408.2 L304.5,408.4 L305.5,408.7 L306.5,409 L307.5,409.2 L308.5,409.4 L309.5,409.6 L310.5,409.8 L311.5,410.1 L312.5,410.3 L313.5,410.5 L314.5,410.7 L315.5,410.9 L316.5,411.1 L317.5,411.3 L318.5,411.5 L319.5,411.7 L320.5,411.9 L321.5,412.1 L322.5,412.3 L323.5,412.5 L324.5,412.7 L325.5,412.9 L326.5,413 L327.5,413.2 L328.5,413.4 L329.5,413.6 L330.5,413.8 L331.5,414 L332.5,414.1 L333.5,414.3 L334.5,414.5 L335.5,414.7 L336.5,414.8 L337.5,415 L338.5,415.2 L339.5,415.3 L340.5,415.5 L341.5,415.7 L342.5,415.8 L343.5,416 L344.5,416.1 L345.5,416.3 L346.5,416.5 L347.5,416.6 L348.5,416.7 L349.5,416.9 L350.5,417 L351.5,417.2 L352.5,417.3 L353.5,417.4 L354.5,417.6 L355.5,417.7 L356.5,417.8 L357.5,417.9 L358.5,418.1 L359.5,418.2 L360.5,418.3 L361.5,418.4 L362.5,418.5 L363.5,418.6 L364.5,418.7 L365.5,418.8 L366.5,418.9 L367.5,419 L368.5,419.1 L369.5,419.2 L370.5,419.3 L371.5,419.4 L372.5,419.4 L373.5,419.5 L374.5,419.6 L375.5,419.7 L376.5,419.7 L377.5,419.8 L378.5,419.9 L379.5,420 L380.5,420 L381.5,420.1 L382.5,420.2 L383.5,420.2 L384.5,420.3 L385.5,420.4 L386.5,420.5 L387.5,420.5 L388.5,420.6 L389.5,420.7 L390.5,420.7 L391.5,420.8 L392.5,420.9 L393.5,420.9 L394.5,421 L395.5,421.1 L396.5,421.1 L397.5,421.2 L398.5,421.2 L399.5,421.3 L400.5,421.4 L401.5,421.4 L402.5,421.5 L403.5,421.5 L404.5,421.6 L405.5,421.6 L406.5,421.7 L407.5,421.7 L408.5,421.8 L409.5,421.8 L410.5,421.9 L411.5,421.9 L412.5,422 L413.5,422 L414.5,422.1 L415.5,422.1 L416.5,422.1 L417.5,422.2 L418.5,422.2 L419.5,422.2 L420.5,422.3 L421.5,422.3 L422.5,422.3 L423.5,422.4 L424.5,422.4 L425.5,422.4 L426.5,422.4 L427.5,422.4 L428.5,422.5 L429.5,422.5 L430.5,422.5 L431.5,422.5 L432.5,422.5 L433.5,422.5 L434.5,422.5 L435.5,422.5" fill="none" stroke="#7F2040" stroke-width="2.0" stroke-linejoin="round" stroke-linecap="round"/>
<path d="M39.5,369.3 L40.5,369 L41.5,368.7 L42.5,368.5 L43.5,368.2 L44.5,367.9 L45.5,367.6 L46.5,367.3 L47.5,367.1 L48.5,366.8 L49.5,366.5 L50.5,366.2 L51.5,365.9 L52.5,365.6 L53.5,365.3 L54.5,365 L55.5,364.8 L56.5,364.5 L57.5,364.2 L58.5,363.9 L59.5,363.7 L60.5,363.4 L61.5,363.2 L62.5,362.9 L63.5,362.7 L64.5,362.5 L65.5,362.3 L66.5,362.1 L67.5,361.9 L68.5,361.7 L69.5,361.5 L70.5,361.4 L71.5,361.2 L72.5,361.1 L73.5,361 L74.5,360.9 L75.5,360.8 L76.5,360.8 L77.5,360.8 L78.5,360.7 L79.5,360.7 L80.5,360.7 L81.5,360.8 L82.5,360.8 L83.5,360.9 L84.5,360.9 L85.5,361 L86.5,361.1 L87.5,361.2 L88.5,361.2 L89.5,361.3 L90.5,361.4 L91.5,361.5 L92.5,361.6 L93.5,361.7 L94.5,361.8 L95.5,361.9 L96.5,362.1 L97.5,362.2 L98.5,362.3 L99.5,362.4 L100.5,362.6 L101.5,362.7 L102.5,362.9 L103.5,363 L104.5,363.2 L105.5,363.3 L106.5,363.5 L107.5,363.7 L108.5,363.8 L109.5,364 L110.5,364.2 L111.5,364.4 L112.5,364.5 L113.5,364.7 L114.5,364.9 L115.5,365.1 L116.5,365.3 L117.5,365.5 L118.5,365.7 L119.5,365.9 L120.5,366.1 L121.5,366.4 L122.5,366.6 L123.5,366.8 L124.5,367 L125.5,367.2 L126.5,367.5 L127.5,367.7 L128.5,367.9 L129.5,368.1 L130.5,368.4 L131.5,368.6 L132.5,368.9 L133.5,369.1 L134.5,369.3 L135.5,369.6 L136.5,369.8 L137.5,370.1 L138.5,370.3 L139.5,370.5 L140.5,370.8 L141.5,371 L142.5,371.3 L143.5,371.5 L144.5,371.8 L145.5,372 L146.5,372.3 L147.5,372.5 L148.5,372.8 L149.5,373 L150.5,373.3 L151.5,373.5 L152.5,373.8 L153.5,374 L154.5,374.3 L155.5,374.5 L156.5,374.8 L157.5,375 L158.5,375.3 L159.5,375.5 L160.5,375.8 L161.5,376 L162.5,376.3 L163.5,376.5 L164.5,376.7 L165.5,377 L166.5,377.2 L167.5,377.5 L168.5,377.7 L169.5,377.9 L170.5,378.2 L171.5,378.4 L172.5,378.6 L173.5,378.9 L174.5,379.1 L175.5,379.3 L176.5,379.5 L177.5,379.8 L178.5,380 L179.5,380.2 L180.5,380.4 L181.5,380.7 L182.5,380.9 L183.5,381.1 L184.5,381.3 L185.5,381.5 L186.5,381.7 L187.5,381.9 L188.5,382.1 L189.5,382.3 L190.5,382.5 L191.5,382.7 L192.5,382.9 L193.5,383.1 L194.5,383.3 L195.5,383.5 L196.5,383.7 L197.5,383.9 L198.5,384.1 L199.5,384.3 L200.5,384.5 L201.5,384.6 L202.5,384.8 L203.5,385 L204.5,385.2 L205.5,385.4 L206.5,385.5 L207.5,385.7 L208.5,385.9 L209.5,386 L210.5,386.2 L211.5,386.4 L212.5,386.6 L213.5,386.7 L214.5,386.9 L215.5,387.1 L216.5,387.2 L217.5,387.4 L218.5,387.6 L219.5,387.7 L220.5,387.9 L221.5,388.1 L222.5,388.2 L223.5,388.4 L224.5,388.5 L225.5,388.7 L226.5,388.9 L227.5,389 L228.5,389.2 L229.5,389.4 L230.5,389.5 L231.5,389.7 L232.5,389.8 L233.5,390 L234.5,390.2 L235.5,390.3 L236.5,390.5 L237.5,390.7 L238.5,390.8 L239.5,391 L240.5,391.2 L241.5,391.3 L242.5,391.5 L243.5,391.7 L244.5,391.8 L245.5,392 L246.5,392.2 L247.5,392.4 L248.5,392.5 L249.5,392.7 L250.5,392.9 L251.5,393.1 L252.5,393.2 L253.5,393.4 L254.5,393.6 L255.5,393.8 L256.5,394 L257.5,394.1 L258.5,394.3 L259.5,394.5 L260.5,394.7 L261.5,394.9 L262.5,395.1 L263.5,395.4 L264.5,395.6 L265.5,395.9 L266.5,396.1 L267.5,396.4 L268.5,396.7 L269.5,397 L270.5,397.3 L271.5,397.6 L272.5,397.9 L273.5,398.2 L274.5,398.5 L275.5,398.8 L276.5,399.2 L277.5,399.5 L278.5,399.9 L279.5,400.2 L280.5,400.6 L281.5,400.9 L282.5,401.3 L283.5,401.6 L284.5,402 L285.5,402.4 L286.5,402.7 L287.5,403.1 L288.5,403.4 L289.5,403.8 L290.5,404.1 L291.5,404.5 L292.5,404.8 L293.5,405.2 L294.5,405.5 L295.5,405.9 L296.5,406.2 L297.5,406.5 L298.5,406.8 L299.5,407.1 L300.5,407.4 L301.5,407.7 L302.5,408 L303.5,408.3 L304.5,408.6 L305.5,408.8 L306.5,409.1 L307.5,409.3 L308.5,409.5 L309.5,409.7 L310.5,409.9 L311.5,410.2 L312.5,410.4 L313.5,410.6 L314.5,410.8 L315.5,411 L316.5,411.2 L317.5,411.4 L318.5,411.6 L319.5,411.8 L320.5,412 L321.5,412.2 L322.5,412.4 L323.5,412.5 L324.5,412.7 L325.5,412.9 L326.5,413.1 L327.5,413.3 L328.5,413.5 L329.5,413.7 L330.5,413.9 L331.5,414 L332.5,414.2 L333.5,414.4 L334.5,414.6 L335.5,414.7 L336.5,414.9 L337.5,415.1 L338.5,415.2 L339.5,415.4 L340.5,415.6 L341.5,415.7 L342.5,415.9 L343.5,416 L344.5,416.2 L345.5,416.4 L346.5,416.5 L347.5,416.6 L348.5,416.8 L349.5,416.9 L350.5,417.1 L351.5,417.2 L352.5,417.4 L353.5,417.5 L354.5,417.6 L355.5,417.7 L356.5,417.9 L357.5,418 L358.5,418.1 L359.5,418.2 L360.5,418.3 L361.5,418.5 L362.5,418.6 L363.5,418.7 L364.5,418.8 L365.5,418.9 L366.5,419 L367.5,419.1 L368.5,419.1 L369.5,419.2 L370.5,419.3 L371.5,419.4 L372.5,419.5 L373.5,419.5 L374.5,419.6 L375.5,419.7 L376.5,419.8 L377.5,419.8 L378.5,419.9 L379.5,420 L380.5,420.1 L381.5,420.1 L382.5,420.2 L383.5,420.3 L384.5,420.3 L385.5,420.4 L386.5,420.5 L387.5,420.5 L388.5,420.6 L389.5,420.7 L390.5,420.8 L391.5,420.8 L392.5,420.9 L393.5,420.9 L394.5,421 L395.5,421.1 L396.5,421.1 L397.5,421.2 L398.5,421.3 L399.5,421.3 L400.5,421.4 L401.5,421.4 L402.5,421.5 L403.5,421.5 L404.5,421.6 L405.5,421.7 L406.5,421.7 L407.5,421.8 L408.5,421.8 L409.5,421.9 L410.5,421.9 L411.5,421.9 L412.5,422 L413.5,422 L414.5,422.1 L415.5,422.1 L416.5,422.2 L417.5,422.2 L418.5,422.2 L419.5,422.3 L420.5,422.3 L421.5,422.3 L422.5,422.3 L423.5,422.4 L424.5,422.4 L425.5,422.4 L426.5,422.4 L427.5,422.5 L428.5,422.5 L429.5,422.5 L430.5,422.5 L431.5,422.5 L432.5,422.5 L433.5,422.5 L434.5,422.5 L435.5,422.5" fill="none" stroke="#800000" stroke-width="2.0" stroke-linejoin="round" stroke-linecap="round"/>
<path d="M39.5,364.1 L40.5,363.8 L41.5,363.5 L42.5,363.3 L43.5,363 L44.5,362.7 L45.5,362.4 L46.5,362.1 L47.5,361.8 L48.5,361.5 L49.5,361.2 L50.5,361 L51.5,360.7 L52.5,360.4 L53.5,360.1 L54.5,359.8 L55.5,359.5 L56.5,359.2 L57.5,359 L58.5,358.7 L59.5,358.4 L60.5,358.2 L61.5,357.9 L62.5,357.7 L63.5,357.4 L64.5,357.2 L65.5,357 L66.5,356.8 L67.5,356.6 L68.5,356.4 L69.5,356.2 L70.5,356 L71.5,355.9 L72.5,355.7 L73.5,355.6 L74.5,355.5 L75.5,355.3 L76.5,355.3 L77.5,355.2 L78.5,355.1 L79.5,355.1 L80.5,355 L81.5,355 L82.5,355 L83.5,355 L84.5,355.1 L85.5,355.1 L86.5,355.1 L87.5,355.1 L88.5,355.1 L89.5,355.1 L90.5,355.1 L91.5,355.1 L92.5,355.2 L93.5,355.2 L94.5,355.2 L95.5,355.2 L96.5,355.2 L97.5,355.2 L98.5,355.2 L99.5,355.2 L100.5,355.2 L101.5,355.2 L102.5,355.2 L103.5,355.2 L104.5,355.2 L105.5,355.2 L106.5,355.3 L107.5,355.4 L108.5,355.5 L109.5,355.7 L110.5,355.8 L111.5,356 L112.5,356.2 L113.5,356.3 L114.5,356.5 L115.5,356.7 L116.5,356.8 L117.5,356.9 L118.5,357 L119.5,357.1 L120.5,357.1 L121.5,357.1 L122.5,357.1 L123.5,357 L124.5,356.9 L125.5,356.7 L126.5,356.5 L127.5,356.2 L128.5,355.9 L129.5,355.5 L130.5,355.2 L131.5,354.8 L132.5,354.4 L133.5,354 L134.5,353.6 L135.5,353.2 L136.5,352.7 L137.5,352.3 L138.5,351.8 L139.5,351.4 L140.5,350.9 L141.5,350.5 L142.5,350 L143.5,349.5 L144.5,349.1 L145.5,348.6 L146.5,348.1 L147.5,347.7 L148.5,347.2 L149.5,346.8 L150.5,346.4 L151.5,346 L152.5,345.6 L153.5,345.2 L154.5,344.8 L155.5,344.5 L156.5,344.1 L157.5,343.8 L158.5,343.5 L159.5,343.3 L160.5,343 L161.5,342.8 L162.5,342.6 L163.5,342.5 L164.5,342.3 L165.5,342.2 L166.5,342.1 L167.5,342.1 L168.5,342.1 L169.5,342.1 L170.5,342.2 L171.5,342.3 L172.5,342.4 L173.5,342.5 L174.5,342.7 L175.5,342.9 L176.5,343.1 L177.5,343.4 L178.5,343.6 L179.5,343.9 L180.5,344.2 L181.5,344.5 L182.5,344.8 L183.5,345.2 L184.5,345.5 L185.5,345.9 L186.5,346.3 L187.5,346.7 L188.5,347.1 L189.5,347.5 L190.5,347.9 L191.5,348.3 L192.5,348.7 L193.5,349.1 L194.5,349.4 L195.5,349.8 L196.5,350.2 L197.5,350.6 L198.5,351 L199.5,351.3 L200.5,351.7 L201.5,352 L202.5,352.3 L203.5,352.6 L204.5,352.9 L205.5,353.1 L206.5,353.4 L207.5,353.6 L208.5,353.8 L209.5,353.9 L210.5,354.1 L211.5,354.2 L212.5,354.2 L213.5,354.3 L214.5,354.3 L215.5,354.3 L216.5,354.2 L217.5,354.1 L218.5,354 L219.5,353.9 L220.5,353.7 L221.5,353.4 L222.5,353.2 L223.5,352.9 L224.5,352.6 L225.5,352.2 L226.5,351.9 L227.5,351.4 L228.5,351 L229.5,350.5 L230.5,350 L231.5,349.4 L232.5,348.8 L233.5,348.2 L234.5,347.6 L235.5,346.9 L236.5,346.2 L237.5,345.5 L238.5,344.7 L239.5,343.9 L240.5,343.1 L241.5,342.1 L242.5,341 L243.5,339.7 L244.5,338.3 L245.5,336.8 L246.5,335.3 L247.5,333.7 L248.5,332 L249.5,330.4 L250.5,328.7 L251.5,327.1 L252.5,325.5 L253.5,323.9 L254.5,322.5 L255.5,321.1 L256.5,319.8 L257.5,318.6 L258.5,317.3 L259.5,316 L260.5,314.8 L261.5,313.6 L262.5,312.4 L263.5,311.3 L264.5,310.2 L265.5,309.2 L266.5,308.2 L267.5,307.3 L268.5,306.4 L269.5,305.6 L270.5,304.8 L271.5,304.1 L272.5,303.5 L273.5,302.9 L274.5,302.3 L275.5,301.9 L276.5,301.5 L277.5,301.2 L278.5,300.9 L279.5,300.6 L280.5,300.4 L281.5,300.1 L282.5,299.9 L283.5,299.7 L284.5,299.4 L285.5,299.1 L286.5,298.8 L287.5,298.5 L288.5,298.1 L289.5,297.7 L290.5,297.4 L291.5,297.1 L292.5,296.9 L293.5,296.7 L294.5,296.5 L295.5,296.4 L296.5,296.3 L297.5,296.2 L298.5,296.2 L299.5,296.2 L300.5,296.3 L301.5,296.4 L302.5,296.6 L303.5,296.9 L304.5,297.2 L305.5,297.5 L306.5,297.9 L307.5,298.3 L308.5,298.8 L309.5,299.5 L310.5,300.5 L311.5,301.8 L312.5,303.5 L313.5,305.6 L314.5,308.1 L315.5,310.9 L316.5,314 L317.5,317.2 L318.5,320.6 L319.5,324 L320.5,327.5 L321.5,331 L322.5,334.4 L323.5,337.7 L324.5,341 L325.5,344.1 L326.5,347.2 L327.5,350.2 L328.5,353.1 L329.5,355.9 L330.5,358.6 L331.5,361.2 L332.5,363.8 L333.5,366.2 L334.5,368.6 L335.5,370.8 L336.5,372.9 L337.5,374.8 L338.5,376.7 L339.5,378.4 L340.5,380 L341.5,381.5 L342.5,382.8 L343.5,384 L344.5,385 L345.5,385.9 L346.5,386.7 L347.5,387.5 L348.5,388.1 L349.5,388.7 L350.5,389.2 L351.5,389.7 L352.5,390.1 L353.5,390.5 L354.5,390.8 L355.5,390.9 L356.5,390.8 L357.5,390.5 L358.5,390 L359.5,389.2 L360.5,388.1 L361.5,386.6 L362.5,384.9 L363.5,383 L364.5,380.8 L365.5,378.4 L366.5,376.1 L367.5,373.8 L368.5,371.7 L369.5,370 L370.5,368.7 L371.5,367.9 L372.5,367.8 L373.5,368.3 L374.5,369.9 L375.5,372.2 L376.5,375.2 L377.5,378.6 L378.5,382.2 L379.5,385.8 L380.5,389.1 L381.5,392.1 L382.5,394.9 L383.5,397.4 L384.5,399.6 L385.5,401.6 L386.5,403.2 L387.5,404.5 L388.5,405.6 L389.5,406.4 L390.5,407.1 L391.5,407.5 L392.5,407.9 L393.5,408.2 L394.5,408.4 L395.5,408.7 L396.5,409 L397.5,409.2 L398.5,409.4 L399.5,409.7 L400.5,409.8 L401.5,410 L402.5,410.2 L403.5,410.3 L404.5,410.5 L405.5,410.6 L406.5,410.8 L407.5,410.9 L408.5,411.1 L409.5,411.3 L410.5,411.4 L411.5,411.6 L412.5,411.8 L413.5,412 L414.5,412.1 L415.5,412.3 L416.5,412.5 L417.5,412.8 L418.5,413 L419.5,413.2 L420.5,413.5 L421.5,413.7 L422.5,414 L423.5,414.3 L424.5,414.6 L425.5,414.9 L426.5,415.2 L427.5,415.5 L428.5,415.9 L429.5,416.2 L430.5,416.6 L431.5,417 L432.5,417.4 L433.5,417.9 L434.5,418.3 L435.5,418.7" fill="none" stroke="#FF0000" stroke-width="2.2" stroke-linejoin="round" stroke-linecap="round"/>
<line x1="274.3" y1="31.5" x2="274.3" y2="417.5" stroke="#808000" stroke-width="1.8" stroke-dasharray="1.6,2.2"/>
<line x1="309.5" y1="27.5" x2="309.5" y2="425.5" stroke="#FF00FF" stroke-width="1.8" stroke-dasharray="1.6,2.2"/>
<line x1="373.4" y1="48.5" x2="373.4" y2="431" stroke="#008B8B" stroke-width="1.8" stroke-dasharray="1.6,2.2"/>
<rect x="11.2" y="12.9" width="484.9" height="427.5" fill="none" stroke="#333" stroke-width="1.3"/>
<line x1="10.5" y1="440.4" x2="496.8" y2="440.4" stroke="#1a1a1a" stroke-width="1.6"/>
<line x1="72" y1="440.4" x2="72" y2="445.7" stroke="#222" stroke-width="1.7"/>
<line x1="193.1" y1="440.4" x2="193.1" y2="445.7" stroke="#222" stroke-width="1.7"/>
<line x1="314.1" y1="440.4" x2="314.1" y2="445.7" stroke="#222" stroke-width="1.7"/>
<line x1="435.2" y1="440.4" x2="435.2" y2="445.7" stroke="#222" stroke-width="1.7"/>
<line x1="11.5" y1="440.4" x2="11.5" y2="444.2" stroke="#222" stroke-width="1.7"/>
<line x1="132.5" y1="440.4" x2="132.5" y2="444.2" stroke="#222" stroke-width="1.7"/>
<line x1="253.6" y1="440.4" x2="253.6" y2="444.2" stroke="#222" stroke-width="1.7"/>
<line x1="374.6" y1="440.4" x2="374.6" y2="444.2" stroke="#222" stroke-width="1.7"/>
<line x1="495.7" y1="440.4" x2="495.7" y2="444.2" stroke="#222" stroke-width="1.7"/>
<text x="72" y="461.2" font-family='"Liberation Serif", serif' font-size="16.2" fill="#000" text-anchor="middle" >790</text>
<text x="193.1" y="461.2" font-family='"Liberation Serif", serif' font-size="16.2" fill="#000" text-anchor="middle" >785</text>
<text x="314.1" y="461.2" font-family='"Liberation Serif", serif' font-size="16.2" fill="#000" text-anchor="middle" >780</text>
<text x="435.2" y="461.2" font-family='"Liberation Serif", serif' font-size="16.2" fill="#000" text-anchor="middle" >775</text>
<text x="255.5" y="483.3" font-family='"Liberation Serif", serif' font-size="19" fill="#000" text-anchor="middle" >Binding energy (eV)</text>
<text x="12.5" y="32.9" font-family='"Liberation Serif", serif' font-size="22" fill="#000" text-anchor="start" >(a) Co 2p</text>
<text x="14" y="69" font-family='"Liberation Serif", serif' font-size="14.5" fill="#000" text-anchor="start" >Ti<tspan font-size="9.5" dy="5">70</tspan><tspan dy="-5">Zr</tspan><tspan font-size="9.5" dy="5">10</tspan><tspan dy="-5">Co</tspan><tspan font-size="9.5" dy="5">20</tspan></text>
<text x="14" y="200.5" font-family='"Liberation Serif", serif' font-size="14.5" fill="#000" text-anchor="start" >Ti<tspan font-size="9.5" dy="5">60</tspan><tspan dy="-5">Zr</tspan><tspan font-size="9.5" dy="5">10</tspan><tspan dy="-5">Co</tspan><tspan font-size="9.5" dy="5">30</tspan></text>
<text x="14" y="342.8" font-family='"Liberation Serif", serif' font-size="14.5" fill="#000" text-anchor="start" >Ti<tspan font-size="9.5" dy="5">50</tspan><tspan dy="-5">Zr</tspan><tspan font-size="9.5" dy="5">10</tspan><tspan dy="-5">Co</tspan><tspan font-size="9.5" dy="5">40</tspan></text>
<text x="234.5" y="41.7" font-family='"Liberation Sans", sans-serif' font-size="18" fill="#808000" text-anchor="start" >Co<tspan font-size="11" dy="-6">2+</tspan></text>
<text x="314.5" y="37" font-family='"Liberation Sans", sans-serif' font-size="18" fill="#FF00FF" text-anchor="start" >Co<tspan font-size="11" dy="-6">3+</tspan></text>
<text x="376.5" y="51.9" font-family='"Liberation Sans", sans-serif' font-size="18" fill="#008000" text-anchor="start" >Co</text>
<path d="M535,135.1 L536.7,137.5 L538.3,137.6 L540,136.5 L541.7,136.9 L543.3,136.2 L545,135.1 L546.7,133.3 L548.4,133.9 L550,134.5 L551.7,135.3 L553.4,134.6 L555,134.1 L556.7,133.8 L558.4,135.8 L560,134.3 L561.7,135.3 L563.4,134.2 L565.1,133 L566.7,132.7 L568.4,132.8 L570.1,133.5 L571.7,133.6 L573.4,133.8 L575.1,131.7 L576.7,132 L578.4,131.9 L580.1,132.3 L581.8,130.9 L583.4,132 L585.1,132.7 L586.8,132.3 L588.4,133.8 L590.1,133.9 L591.8,134.2 L593.4,133.6 L595.1,131.8 L596.8,131.4 L598.5,132 L600.1,132.7 L601.8,132.5 L603.5,131.1 L605.1,130.4 L606.8,129.8 L608.5,129.3 L610.1,129 L611.8,129.4 L613.5,130.5 L615.2,128.8 L616.8,128 L618.5,127.8 L620.2,126.5 L621.8,126.4 L623.5,126.9 L625.2,126.8 L626.8,125.1 L628.5,125.5 L630.2,124 L631.9,123.3 L633.5,123 L635.2,121.8 L636.9,120.3 L638.5,118.1 L640.2,116.7 L641.9,115.6 L643.5,113.9 L645.2,113.3 L646.9,110.4 L648.6,108.9 L650.2,110 L651.9,108 L653.6,106.3 L655.2,106.7 L656.9,104.5 L658.6,103.4 L660.2,101.6 L661.9,100.9 L663.6,99.7 L665.3,98.9 L666.9,98.8 L668.6,99 L670.3,99.7 L671.9,100.5 L673.6,98.9 L675.3,99.9 L676.9,99.7 L678.6,100 L680.3,99.7 L682,100.2 L683.6,101.4 L685.3,102.6 L687,104.7 L688.6,106.6 L690.3,109.4 L692,110.3 L693.6,111.2 L695.3,112.7 L697,112.7 L698.7,112.7 L700.3,113.6 L702,115.7 L703.7,118.9 L705.3,120.8 L707,121.9 L708.7,122.5 L710.3,122.5 L712,123.6 L713.7,124 L715.4,126.3 L717,126.1 L718.7,126.1 L720.4,126.9 L722,127.8 L723.7,129.5 L725.4,131.6 L727,131.2 L728.7,130.2 L730.4,130.4 L732.1,130 L733.7,132.5 L735.4,132.8 L737.1,133.7 L738.7,135.8 L740.4,135.6 L742.1,133.9 L743.7,133.8 L745.4,134.6 L747.1,135.1 L748.8,134.3 L750.4,134.7 L752.1,135.5 L753.8,134.7 L755.4,134.3 L757.1,133.4 L758.8,131.9 L760.4,131.4 L762.1,130.9 L763.8,133.1 L765.5,134.8 L767.1,134.1 L768.8,135.5 L770.5,135.8 L772.1,135.1 L773.8,135 L775.5,134.6 L777.1,133.5 L778.8,133 L780.5,132.9 L782.2,133.3 L783.8,133.1 L785.5,131.9 L787.2,132 L788.8,130.7 L790.5,130.7 L792.2,131 L793.8,130.6 L795.5,130.3 L797.2,130.2 L798.9,129.3 L800.5,128.6 L802.2,128.7 L803.9,128.8 L805.5,128 L807.2,128.3 L808.9,125.9 L810.5,123 L812.2,124.4 L813.9,126 L815.6,124.3 L817.2,122.7 L818.9,121.7 L820.6,122.1 L822.2,120.8 L823.9,118.9 L825.6,117 L827.2,115.4 L828.9,111.9 L830.6,107.2 L832.3,104.5 L833.9,100.6 L835.6,96.7 L837.3,93.3 L838.9,88.1 L840.6,82.3 L842.3,80.5 L843.9,75.8 L845.6,69 L847.3,62.9 L849,57.1 L850.6,50.1 L852.3,44.6 L854,38.4 L855.6,32.8 L857.3,28.5 L859,26.2 L860.6,25.7 L862.3,24.6 L864,23 L865.7,22.5 L867.3,23.9 L869,28.1 L870.7,32.4 L872.3,35.1 L874,40.7 L875.7,44.5 L877.3,51.3 L879,58.4 L880.7,63.7 L882.4,69.8 L884,77 L885.7,82.8 L887.4,87.3 L889,92.9 L890.7,97.4 L892.4,103.6 L894,107.6 L895.7,111.4 L897.4,115.1 L899.1,118.2 L900.7,121.9 L902.4,124.4 L904.1,124.7 L905.7,125.1 L907.4,125.8 L909.1,127.8 L910.7,130.6 L912.4,133 L914.1,135 L915.8,136.5 L917.4,137 L919.1,135.7 L920.8,136 L922.4,137.9 L924.1,138 L925.8,137.6 L927.4,138.8 L929.1,138.4 L930.8,138.4 L932.5,138.2 L934.1,139.9 L935.8,140 L937.5,140.6 L939.1,140.6 L940.8,140.5 L942.5,141.4 L944.1,142.5 L945.8,141.8 L947.5,141.5 L949.2,141.7 L950.8,142.3 L952.5,142.8 L954.2,143.1 L955.8,142.3 L957.5,142.8 L959.2,142.3 L960.8,143 L962.5,143.4 L964.2,144.6 L965.9,144.2 L967.5,143.7 L969.2,144.4 L970.9,144.3 L972.5,143.8 L974.2,143.4 L975.9,143.9 L977.5,146.1 L979.2,145 L980.9,144.7 L982.6,143.3 L984.2,142.9 L985.9,143.5 L987.6,144.1 L989.2,145.1 L990.9,145 L992.6,146.6 L994.2,147 L995.9,145.4 L997.6,145.9 L999.3,145.6 L1000.9,146.5 L1002.6,147.4 L1004.3,148" fill="none" stroke="#000" stroke-width="2.0" stroke-linejoin="round" stroke-linecap="round"/>
<path d="M557,136.1 L558,136.1 L559,136.1 L560,136.1 L561,136.1 L562,136.1 L563,136.1 L564,136.1 L565,136.1 L566,136.1 L567,136.1 L568,136.2 L569,136.2 L570,136.2 L571,136.2 L572,136.2 L573,136.2 L574,136.2 L575,136.2 L576,136.2 L577,136.2 L578,136.2 L579,136.2 L580,136.2 L581,136.2 L582,136.2 L583,136.2 L584,136.2 L585,136.2 L586,136.2 L587,136.3 L588,136.3 L589,136.3 L590,136.3 L591,136.3 L592,136.3 L593,136.3 L594,136.3 L595,136.3 L596,136.3 L597,136.3 L598,136.3 L599,136.3 L600,136.3 L601,136.3 L602,136.3 L603,136.4 L604,136.4 L605,136.4 L606,136.4 L607,136.4 L608,136.4 L609,136.4 L610,136.4 L611,136.4 L612,136.4 L613,136.4 L614,136.5 L615,136.5 L616,136.5 L617,136.5 L618,136.5 L619,136.5 L620,136.5 L621,136.5 L622,136.5 L623,136.6 L624,136.6 L625,136.6 L626,136.6 L627,136.6 L628,136.6 L629,136.6 L630,136.7 L631,136.7 L632,136.7 L633,136.7 L634,136.7 L635,136.8 L636,136.8 L637,136.8 L638,136.8 L639,136.8 L640,136.9 L641,136.9 L642,136.9 L643,136.9 L644,137 L645,137 L646,137 L647,137 L648,137.1 L649,137.1 L650,137.1 L651,137.2 L652,137.2 L653,137.2 L654,137.3 L655,137.3 L656,137.3 L657,137.4 L658,137.4 L659,137.5 L660,137.5 L661,137.5 L662,137.6 L663,137.6 L664,137.7 L665,137.7 L666,137.8 L667,137.8 L668,137.8 L669,137.9 L670,137.9 L671,138 L672,138 L673,138.1 L674,138.1 L675,138.1 L676,138.2 L677,138.2 L678,138.3 L679,138.3 L680,138.4 L681,138.4 L682,138.4 L683,138.5 L684,138.5 L685,138.6 L686,138.6 L687,138.6 L688,138.7 L689,138.7 L690,138.7 L691,138.8 L692,138.8 L693,138.9 L694,138.9 L695,138.9 L696,138.9 L697,139 L698,139 L699,139 L700,139.1 L701,139.1 L702,139.1 L703,139.1 L704,139.2 L705,139.2 L706,139.2 L707,139.2 L708,139.2 L709,139.3 L710,139.3 L711,139.3 L712,139.3 L713,139.3 L714,139.4 L715,139.4 L716,139.4 L717,139.4 L718,139.4 L719,139.4 L720,139.5 L721,139.5 L722,139.5 L723,139.5 L724,139.5 L725,139.5 L726,139.5 L727,139.6 L728,139.6 L729,139.6 L730,139.6 L731,139.6 L732,139.6 L733,139.6 L734,139.6 L735,139.6 L736,139.6 L737,139.7 L738,139.7 L739,139.7 L740,139.7 L741,139.7 L742,139.7 L743,139.7 L744,139.7 L745,139.7 L746,139.7 L747,139.7 L748,139.8 L749,139.8 L750,139.8 L751,139.8 L752,139.8 L753,139.8 L754,139.8 L755,139.8 L756,139.8 L757,139.8 L758,139.8 L759,139.8 L760,139.9 L761,139.9 L762,139.9 L763,139.9 L764,139.9 L765,139.9 L766,139.9 L767,139.9 L768,139.9 L769,139.9 L770,139.9 L771,139.9 L772,140 L773,140 L774,140 L775,140 L776,140 L777,140 L778,140 L779,140 L780,140 L781,140 L782,140 L783,140 L784,140.1 L785,140.1 L786,140.1 L787,140.1 L788,140.1 L789,140.1 L790,140.1 L791,140.1 L792,140.1 L793,140.1 L794,140.2 L795,140.2 L796,140.2 L797,140.2 L798,140.2 L799,140.2 L800,140.2 L801,140.2 L802,140.2 L803,140.3 L804,140.3 L805,140.3 L806,140.3 L807,140.3 L808,140.3 L809,140.3 L810,140.3 L811,140.4 L812,140.4 L813,140.4 L814,140.4 L815,140.4 L816,140.4 L817,140.5 L818,140.5 L819,140.5 L820,140.5 L821,140.5 L822,140.5 L823,140.6 L824,140.6 L825,140.6 L826,140.6 L827,140.7 L828,140.7 L829,140.7 L830,140.8 L831,140.8 L832,140.8 L833,140.9 L834,140.9 L835,140.9 L836,141 L837,141 L838,141.1 L839,141.1 L840,141.2 L841,141.2 L842,141.3 L843,141.4 L844,141.4 L845,141.5 L846,141.6 L847,141.7 L848,141.8 L849,141.8 L850,141.9 L851,142 L852,142.1 L853,142.2 L854,142.4 L855,142.5 L856,142.6 L857,142.7 L858,142.8 L859,143 L860,143.1 L861,143.2 L862,143.4 L863,143.5 L864,143.6 L865,143.8 L866,143.9 L867,144 L868,144.2 L869,144.3 L870,144.4 L871,144.6 L872,144.7 L873,144.8 L874,144.9 L875,145.1 L876,145.2 L877,145.3 L878,145.4 L879,145.5 L880,145.6 L881,145.7 L882,145.7 L883,145.8 L884,145.9 L885,146 L886,146 L887,146.1 L888,146.2 L889,146.2 L890,146.3 L891,146.3 L892,146.4 L893,146.4 L894,146.5 L895,146.5 L896,146.5 L897,146.6 L898,146.6 L899,146.7 L900,146.7 L901,146.7 L902,146.7 L903,146.8 L904,146.8 L905,146.8 L906,146.8 L907,146.9 L908,146.9 L909,146.9 L910,146.9 L911,146.9 L912,147 L913,147 L914,147 L915,147 L916,147 L917,147 L918,147 L919,147.1 L920,147.1 L921,147.1 L922,147.1 L923,147.1 L924,147.1 L925,147.1 L926,147.1 L927,147.2 L928,147.2 L929,147.2 L930,147.2 L931,147.2 L932,147.2 L933,147.2 L934,147.2 L935,147.2 L936,147.2 L937,147.3 L938,147.3 L939,147.3 L940,147.3 L941,147.3 L942,147.3 L943,147.3 L944,147.3 L945,147.3 L946,147.3 L947,147.3 L948,147.3 L949,147.3 L950,147.4 L951,147.4 L952,147.4 L953,147.4 L954,147.4 L955,147.4 L956,147.4 L957,147.4 L958,147.4 L959,147.4 L960,147.4 L961,147.4 L962,147.4 L963,147.4 L964,147.4 L965,147.5 L966,147.5 L967,147.5 L968,147.5 L969,147.5 L970,147.5 L971,147.5 L972,147.5 L973,147.5 L974,147.5 L975,147.5 L976,147.5 L977,147.5 L978,147.5 L979,147.5 L980,147.5 L981,147.5 L982,147.6 L983,147.6 L984,147.6 L985,147.6 L986,147.6 L987,147.6 L988,147.6 L989,147.6 L990,147.6 L991,147.6" fill="none" stroke="#0000FF" stroke-width="1.8" stroke-linejoin="round" stroke-linecap="round"/>
<path d="M557,134.4 L558,134.4 L559,134.4 L560,134.4 L561,134.3 L562,134.3 L563,134.3 L564,134.3 L565,134.3 L566,134.2 L567,134.2 L568,134.2 L569,134.1 L570,134.1 L571,134.1 L572,134.1 L573,134 L574,134 L575,134 L576,133.9 L577,133.9 L578,133.8 L579,133.8 L580,133.7 L581,133.7 L582,133.7 L583,133.6 L584,133.6 L585,133.5 L586,133.4 L587,133.4 L588,133.3 L589,133.2 L590,133.2 L591,133.1 L592,133 L593,132.9 L594,132.9 L595,132.8 L596,132.7 L597,132.6 L598,132.4 L599,132.3 L600,132.2 L601,132.1 L602,131.9 L603,131.8 L604,131.6 L605,131.5 L606,131.3 L607,131.1 L608,130.9 L609,130.7 L610,130.5 L611,130.3 L612,130.1 L613,129.8 L614,129.6 L615,129.3 L616,129 L617,128.7 L618,128.4 L619,128.1 L620,127.7 L621,127.4 L622,127 L623,126.6 L624,126.2 L625,125.7 L626,125.3 L627,124.8 L628,124.3 L629,123.8 L630,123.3 L631,122.8 L632,122.2 L633,121.7 L634,121.1 L635,120.5 L636,119.9 L637,119.2 L638,118.6 L639,117.9 L640,117.2 L641,116.5 L642,115.8 L643,115.1 L644,114.4 L645,113.7 L646,112.9 L647,112.2 L648,111.5 L649,110.7 L650,110 L651,109.2 L652,108.5 L653,107.8 L654,107.1 L655,106.4 L656,105.7 L657,105.1 L658,104.4 L659,103.8 L660,103.3 L661,102.7 L662,102.3 L663,101.8 L664,101.4 L665,101.1 L666,100.8 L667,100.5 L668,100.3 L669,100.2 L670,100.2 L671,100.2 L672,100.2 L673,100.3 L674,100.5 L675,100.7 L676,101 L677,101.4 L678,101.8 L679,102.3 L680,102.8 L681,103.3 L682,103.9 L683,104.5 L684,105.2 L685,105.8 L686,106.5 L687,107.3 L688,108 L689,108.8 L690,109.5 L691,110.3 L692,111.1 L693,111.9 L694,112.7 L695,113.5 L696,114.2 L697,115 L698,115.8 L699,116.5 L700,117.3 L701,118 L702,118.8 L703,119.5 L704,120.2 L705,120.8 L706,121.5 L707,122.1 L708,122.8 L709,123.4 L710,124 L711,124.5 L712,125.1 L713,125.6 L714,126.2 L715,126.7 L716,127.1 L717,127.6 L718,128 L719,128.4 L720,128.9 L721,129.2 L722,129.6 L723,130 L724,130.3 L725,130.6 L726,130.9 L727,131.2 L728,131.5 L729,131.7 L730,132 L731,132.2 L732,132.4 L733,132.6 L734,132.8 L735,133 L736,133.2 L737,133.3 L738,133.5 L739,133.6 L740,133.7 L741,133.9 L742,134 L743,134.1 L744,134.2 L745,134.3 L746,134.3 L747,134.4 L748,134.5 L749,134.6 L750,134.6 L751,134.7 L752,134.7 L753,134.7 L754,134.8 L755,134.8 L756,134.8 L757,134.9 L758,134.9 L759,134.9 L760,134.9 L761,134.9 L762,134.9 L763,134.9 L764,134.9 L765,134.9 L766,134.9 L767,134.9 L768,134.9 L769,134.9 L770,134.8 L771,134.8 L772,134.8 L773,134.7 L774,134.7 L775,134.7 L776,134.6 L777,134.6 L778,134.5 L779,134.5 L780,134.4 L781,134.4 L782,134.3 L783,134.2 L784,134.2 L785,134.1 L786,134 L787,133.9 L788,133.8 L789,133.7 L790,133.6 L791,133.5 L792,133.4 L793,133.3 L794,133.2 L795,133 L796,132.9 L797,132.8 L798,132.6 L799,132.4 L800,132.3 L801,132.1 L802,131.9 L803,131.7 L804,131.5 L805,131.2 L806,131 L807,130.7 L808,130.4 L809,130.1 L810,129.8 L811,129.4 L812,129 L813,128.6 L814,128.2 L815,127.7 L816,127.2 L817,126.6 L818,126 L819,125.3 L820,124.6 L821,123.8 L822,123 L823,122.1 L824,121.1 L825,120 L826,118.8 L827,117.6 L828,116.2 L829,114.8 L830,113.2 L831,111.5 L832,109.7 L833,107.8 L834,105.8 L835,103.6 L836,101.3 L837,98.8 L838,96.2 L839,93.5 L840,90.6 L841,87.6 L842,84.5 L843,81.2 L844,77.8 L845,74.4 L846,70.8 L847,67.1 L848,63.3 L849,59.5 L850,55.7 L851,51.8 L852,48 L853,44.3 L854,40.7 L855,37.2 L856,33.9 L857,30.9 L858,28.1 L859,25.7 L860,23.7 L861,22.1 L862,20.9 L863,20.3 L864,20.1 L865,20.5 L866,21.4 L867,22.8 L868,24.6 L869,26.9 L870,29.6 L871,32.6 L872,35.8 L873,39.4 L874,43.1 L875,46.9 L876,50.9 L877,54.9 L878,58.9 L879,63 L880,67 L881,70.9 L882,74.8 L883,78.6 L884,82.2 L885,85.8 L886,89.2 L887,92.5 L888,95.6 L889,98.6 L890,101.5 L891,104.2 L892,106.8 L893,109.2 L894,111.5 L895,113.6 L896,115.6 L897,117.5 L898,119.3 L899,121 L900,122.5 L901,123.9 L902,125.2 L903,126.5 L904,127.6 L905,128.7 L906,129.6 L907,130.6 L908,131.4 L909,132.2 L910,132.9 L911,133.6 L912,134.2 L913,134.7 L914,135.3 L915,135.8 L916,136.2 L917,136.7 L918,137.1 L919,137.4 L920,137.8 L921,138.1 L922,138.4 L923,138.7 L924,139 L925,139.3 L926,139.5 L927,139.7 L928,140 L929,140.2 L930,140.4 L931,140.6 L932,140.8 L933,141 L934,141.1 L935,141.3 L936,141.4 L937,141.6 L938,141.7 L939,141.9 L940,142 L941,142.2 L942,142.3 L943,142.4 L944,142.5 L945,142.6 L946,142.7 L947,142.9 L948,143 L949,143.1 L950,143.2 L951,143.3 L952,143.3 L953,143.4 L954,143.5 L955,143.6 L956,143.7 L957,143.8 L958,143.8 L959,143.9 L960,144 L961,144.1 L962,144.1 L963,144.2 L964,144.3 L965,144.3 L966,144.4 L967,144.5 L968,144.5 L969,144.6 L970,144.6 L971,144.7 L972,144.7 L973,144.8 L974,144.8 L975,144.9 L976,144.9 L977,145 L978,145 L979,145.1 L980,145.1 L981,145.2 L982,145.2 L983,145.2 L984,145.3 L985,145.3 L986,145.4 L987,145.4 L988,145.4 L989,145.5 L990,145.5 L991,145.5" fill="none" stroke="#FF0000" stroke-width="1.8" stroke-linejoin="round" stroke-linecap="round"/>
<path d="M557,134.8 L558,134.7 L559,134.7 L560,134.7 L561,134.7 L562,134.7 L563,134.6 L564,134.6 L565,134.6 L566,134.6 L567,134.5 L568,134.5 L569,134.5 L570,134.5 L571,134.4 L572,134.4 L573,134.4 L574,134.4 L575,134.3 L576,134.3 L577,134.2 L578,134.2 L579,134.2 L580,134.1 L581,134.1 L582,134 L583,134 L584,133.9 L585,133.9 L586,133.8 L587,133.8 L588,133.7 L589,133.7 L590,133.6 L591,133.5 L592,133.4 L593,133.4 L594,133.3 L595,133.2 L596,133.1 L597,133 L598,132.9 L599,132.8 L600,132.7 L601,132.5 L602,132.4 L603,132.3 L604,132.1 L605,131.9 L606,131.8 L607,131.6 L608,131.4 L609,131.2 L610,131 L611,130.8 L612,130.6 L613,130.3 L614,130.1 L615,129.8 L616,129.5 L617,129.2 L618,128.9 L619,128.6 L620,128.2 L621,127.9 L622,127.5 L623,127.1 L624,126.7 L625,126.3 L626,125.8 L627,125.4 L628,124.9 L629,124.4 L630,123.9 L631,123.4 L632,122.8 L633,122.2 L634,121.7 L635,121.1 L636,120.4 L637,119.8 L638,119.2 L639,118.5 L640,117.8 L641,117.2 L642,116.5 L643,115.8 L644,115 L645,114.3 L646,113.6 L647,112.9 L648,112.1 L649,111.4 L650,110.6 L651,109.9 L652,109.2 L653,108.5 L654,107.8 L655,107.1 L656,106.4 L657,105.8 L658,105.2 L659,104.6 L660,104 L661,103.5 L662,103 L663,102.6 L664,102.2 L665,101.8 L666,101.5 L667,101.3 L668,101.1 L669,101 L670,101 L671,101 L672,101 L673,101.2 L674,101.4 L675,101.6 L676,101.9 L677,102.3 L678,102.7 L679,103.1 L680,103.7 L681,104.2 L682,104.8 L683,105.4 L684,106.1 L685,106.8 L686,107.5 L687,108.2 L688,109 L689,109.8 L690,110.5 L691,111.3 L692,112.1 L693,112.9 L694,113.7 L695,114.5 L696,115.3 L697,116.1 L698,116.9 L699,117.7 L700,118.4 L701,119.2 L702,119.9 L703,120.6 L704,121.3 L705,122 L706,122.7 L707,123.4 L708,124 L709,124.6 L710,125.3 L711,125.8 L712,126.4 L713,127 L714,127.5 L715,128 L716,128.5 L717,129 L718,129.4 L719,129.9 L720,130.3 L721,130.7 L722,131.1 L723,131.5 L724,131.8 L725,132.2 L726,132.5 L727,132.8 L728,133.1 L729,133.4 L730,133.7 L731,133.9 L732,134.2 L733,134.4 L734,134.6 L735,134.8 L736,135 L737,135.2 L738,135.4 L739,135.5 L740,135.7 L741,135.8 L742,136 L743,136.1 L744,136.3 L745,136.4 L746,136.5 L747,136.6 L748,136.7 L749,136.8 L750,136.9 L751,137 L752,137.1 L753,137.2 L754,137.3 L755,137.3 L756,137.4 L757,137.5 L758,137.5 L759,137.6 L760,137.7 L761,137.7 L762,137.8 L763,137.8 L764,137.9 L765,137.9 L766,138 L767,138 L768,138.1 L769,138.1 L770,138.2 L771,138.2 L772,138.3 L773,138.3 L774,138.3 L775,138.4 L776,138.4 L777,138.5 L778,138.5 L779,138.5 L780,138.6 L781,138.6 L782,138.6 L783,138.7 L784,138.7 L785,138.7 L786,138.8 L787,138.8 L788,138.8 L789,138.8 L790,138.9 L791,138.9 L792,138.9 L793,139 L794,139 L795,139 L796,139 L797,139.1 L798,139.1 L799,139.1 L800,139.2 L801,139.2 L802,139.2 L803,139.2 L804,139.3 L805,139.3 L806,139.3 L807,139.3 L808,139.4 L809,139.4 L810,139.4 L811,139.4 L812,139.5 L813,139.5 L814,139.5 L815,139.6 L816,139.6 L817,139.6 L818,139.6 L819,139.7 L820,139.7 L821,139.7 L822,139.8 L823,139.8 L824,139.8 L825,139.9 L826,139.9 L827,139.9 L828,140 L829,140 L830,140 L831,140.1 L832,140.1 L833,140.2 L834,140.2 L835,140.3 L836,140.3 L837,140.4 L838,140.4 L839,140.5 L840,140.6 L841,140.6 L842,140.7 L843,140.8 L844,140.8 L845,140.9 L846,141 L847,141.1 L848,141.2 L849,141.3 L850,141.4 L851,141.5 L852,141.6 L853,141.7 L854,141.8 L855,141.9 L856,142.1 L857,142.2 L858,142.3 L859,142.4 L860,142.6 L861,142.7 L862,142.9 L863,143 L864,143.1 L865,143.3 L866,143.4 L867,143.6 L868,143.7 L869,143.8 L870,144 L871,144.1 L872,144.2 L873,144.4 L874,144.5 L875,144.6 L876,144.7 L877,144.8 L878,144.9 L879,145 L880,145.1 L881,145.2 L882,145.3 L883,145.4 L884,145.5 L885,145.6 L886,145.6 L887,145.7 L888,145.8 L889,145.8 L890,145.9 L891,145.9 L892,146 L893,146 L894,146.1 L895,146.1 L896,146.2 L897,146.2 L898,146.3 L899,146.3 L900,146.3 L901,146.4 L902,146.4 L903,146.4 L904,146.4 L905,146.5 L906,146.5 L907,146.5 L908,146.5 L909,146.6 L910,146.6 L911,146.6 L912,146.6 L913,146.7 L914,146.7 L915,146.7 L916,146.7 L917,146.7 L918,146.7 L919,146.8 L920,146.8 L921,146.8 L922,146.8 L923,146.8 L924,146.8 L925,146.8 L926,146.9 L927,146.9 L928,146.9 L929,146.9 L930,146.9 L931,146.9 L932,146.9 L933,146.9 L934,147 L935,147 L936,147 L937,147 L938,147 L939,147 L940,147 L941,147 L942,147 L943,147.1 L944,147.1 L945,147.1 L946,147.1 L947,147.1 L948,147.1 L949,147.1 L950,147.1 L951,147.1 L952,147.1 L953,147.1 L954,147.2 L955,147.2 L956,147.2 L957,147.2 L958,147.2 L959,147.2 L960,147.2 L961,147.2 L962,147.2 L963,147.2 L964,147.2 L965,147.2 L966,147.2 L967,147.3 L968,147.3 L969,147.3 L970,147.3 L971,147.3 L972,147.3 L973,147.3 L974,147.3 L975,147.3 L976,147.3 L977,147.3 L978,147.3 L979,147.3 L980,147.3 L981,147.4 L982,147.4 L983,147.4 L984,147.4 L985,147.4 L986,147.4 L987,147.4 L988,147.4 L989,147.4 L990,147.4 L991,147.4" fill="none" stroke="#FF00FF" stroke-width="1.9" stroke-linejoin="round" stroke-linecap="round"/>
<path d="M557,135.8 L558,135.8 L559,135.8 L560,135.8 L561,135.8 L562,135.8 L563,135.8 L564,135.8 L565,135.8 L566,135.8 L567,135.8 L568,135.8 L569,135.8 L570,135.8 L571,135.8 L572,135.8 L573,135.8 L574,135.8 L575,135.8 L576,135.8 L577,135.8 L578,135.8 L579,135.8 L580,135.8 L581,135.8 L582,135.8 L583,135.8 L584,135.8 L585,135.8 L586,135.8 L587,135.8 L588,135.9 L589,135.9 L590,135.9 L591,135.9 L592,135.9 L593,135.9 L594,135.9 L595,135.9 L596,135.9 L597,135.9 L598,135.9 L599,135.9 L600,135.9 L601,135.9 L602,135.9 L603,135.9 L604,135.9 L605,135.9 L606,135.9 L607,135.9 L608,135.9 L609,135.9 L610,135.9 L611,135.9 L612,135.9 L613,136 L614,136 L615,136 L616,136 L617,136 L618,136 L619,136 L620,136 L621,136 L622,136 L623,136 L624,136 L625,136 L626,136.1 L627,136.1 L628,136.1 L629,136.1 L630,136.1 L631,136.1 L632,136.1 L633,136.1 L634,136.2 L635,136.2 L636,136.2 L637,136.2 L638,136.2 L639,136.2 L640,136.3 L641,136.3 L642,136.3 L643,136.3 L644,136.3 L645,136.4 L646,136.4 L647,136.4 L648,136.4 L649,136.4 L650,136.5 L651,136.5 L652,136.5 L653,136.6 L654,136.6 L655,136.6 L656,136.6 L657,136.7 L658,136.7 L659,136.7 L660,136.8 L661,136.8 L662,136.8 L663,136.9 L664,136.9 L665,136.9 L666,137 L667,137 L668,137 L669,137.1 L670,137.1 L671,137.1 L672,137.2 L673,137.2 L674,137.3 L675,137.3 L676,137.3 L677,137.4 L678,137.4 L679,137.4 L680,137.5 L681,137.5 L682,137.5 L683,137.6 L684,137.6 L685,137.6 L686,137.6 L687,137.7 L688,137.7 L689,137.7 L690,137.7 L691,137.8 L692,137.8 L693,137.8 L694,137.8 L695,137.8 L696,137.9 L697,137.9 L698,137.9 L699,137.9 L700,137.9 L701,137.9 L702,138 L703,138 L704,138 L705,138 L706,138 L707,138 L708,138 L709,138 L710,138 L711,138 L712,138 L713,138 L714,138 L715,138 L716,138 L717,138 L718,138 L719,138 L720,138 L721,138 L722,138 L723,138 L724,138 L725,138 L726,138 L727,137.9 L728,137.9 L729,137.9 L730,137.9 L731,137.9 L732,137.9 L733,137.9 L734,137.8 L735,137.8 L736,137.8 L737,137.8 L738,137.8 L739,137.8 L740,137.7 L741,137.7 L742,137.7 L743,137.7 L744,137.6 L745,137.6 L746,137.6 L747,137.6 L748,137.5 L749,137.5 L750,137.5 L751,137.4 L752,137.4 L753,137.4 L754,137.3 L755,137.3 L756,137.3 L757,137.2 L758,137.2 L759,137.1 L760,137.1 L761,137.1 L762,137 L763,137 L764,136.9 L765,136.9 L766,136.8 L767,136.8 L768,136.7 L769,136.7 L770,136.6 L771,136.5 L772,136.5 L773,136.4 L774,136.3 L775,136.3 L776,136.2 L777,136.1 L778,136.1 L779,136 L780,135.9 L781,135.8 L782,135.7 L783,135.6 L784,135.5 L785,135.4 L786,135.3 L787,135.2 L788,135.1 L789,135 L790,134.9 L791,134.7 L792,134.6 L793,134.5 L794,134.3 L795,134.2 L796,134 L797,133.9 L798,133.7 L799,133.5 L800,133.3 L801,133.1 L802,132.9 L803,132.7 L804,132.5 L805,132.2 L806,131.9 L807,131.7 L808,131.4 L809,131 L810,130.7 L811,130.3 L812,129.9 L813,129.5 L814,129 L815,128.6 L816,128 L817,127.4 L818,126.8 L819,126.1 L820,125.4 L821,124.6 L822,123.8 L823,122.8 L824,121.8 L825,120.8 L826,119.6 L827,118.3 L828,117 L829,115.5 L830,113.9 L831,112.2 L832,110.4 L833,108.5 L834,106.5 L835,104.3 L836,101.9 L837,99.5 L838,96.9 L839,94.1 L840,91.3 L841,88.3 L842,85.1 L843,81.8 L844,78.5 L845,75 L846,71.3 L847,67.7 L848,63.9 L849,60.1 L850,56.3 L851,52.4 L852,48.6 L853,44.9 L854,41.2 L855,37.7 L856,34.4 L857,31.4 L858,28.6 L859,26.2 L860,24.2 L861,22.6 L862,21.4 L863,20.8 L864,20.6 L865,21 L866,21.9 L867,23.3 L868,25.1 L869,27.4 L870,30 L871,33 L872,36.3 L873,39.8 L874,43.5 L875,47.4 L876,51.3 L877,55.3 L878,59.4 L879,63.4 L880,67.4 L881,71.3 L882,75.2 L883,79 L884,82.6 L885,86.2 L886,89.6 L887,92.9 L888,96 L889,99 L890,101.9 L891,104.6 L892,107.1 L893,109.6 L894,111.8 L895,114 L896,116 L897,117.9 L898,119.7 L899,121.3 L900,122.8 L901,124.3 L902,125.6 L903,126.8 L904,128 L905,129 L906,130 L907,130.9 L908,131.7 L909,132.5 L910,133.2 L911,133.9 L912,134.5 L913,135.1 L914,135.6 L915,136.1 L916,136.5 L917,137 L918,137.4 L919,137.7 L920,138.1 L921,138.4 L922,138.7 L923,139 L924,139.3 L925,139.6 L926,139.8 L927,140 L928,140.3 L929,140.5 L930,140.7 L931,140.9 L932,141 L933,141.2 L934,141.4 L935,141.6 L936,141.7 L937,141.9 L938,142 L939,142.1 L940,142.3 L941,142.4 L942,142.5 L943,142.7 L944,142.8 L945,142.9 L946,143 L947,143.1 L948,143.2 L949,143.3 L950,143.4 L951,143.5 L952,143.6 L953,143.7 L954,143.8 L955,143.8 L956,143.9 L957,144 L958,144.1 L959,144.1 L960,144.2 L961,144.3 L962,144.4 L963,144.4 L964,144.5 L965,144.5 L966,144.6 L967,144.7 L968,144.7 L969,144.8 L970,144.8 L971,144.9 L972,144.9 L973,145 L974,145 L975,145.1 L976,145.1 L977,145.2 L978,145.2 L979,145.3 L980,145.3 L981,145.4 L982,145.4 L983,145.4 L984,145.5 L985,145.5 L986,145.6 L987,145.6 L988,145.6 L989,145.7 L990,145.7 L991,145.7" fill="none" stroke="#008080" stroke-width="2.6" stroke-linejoin="round" stroke-linecap="round"/>
<path d="M535,277.2 L536.7,276.6 L538.3,277.4 L540,277.7 L541.7,276.8 L543.3,276 L545,276.3 L546.7,277.8 L548.4,278.5 L550,277.1 L551.7,275.7 L553.4,276.5 L555,278.4 L556.7,277.2 L558.4,275.5 L560,276.2 L561.7,276.1 L563.4,276.9 L565.1,277.6 L566.7,277.8 L568.4,278.2 L570.1,276.9 L571.7,275.4 L573.4,275.3 L575.1,275 L576.7,273.4 L578.4,273.9 L580.1,273.7 L581.8,273.8 L583.4,273.7 L585.1,275.3 L586.8,276.4 L588.4,276.8 L590.1,276.7 L591.8,276.7 L593.4,275.7 L595.1,275 L596.8,275 L598.5,273.9 L600.1,274.6 L601.8,273.8 L603.5,271.8 L605.1,272.7 L606.8,272.4 L608.5,272.9 L610.1,272.5 L611.8,271.1 L613.5,272.1 L615.2,272.9 L616.8,273.5 L618.5,272.3 L620.2,272.3 L621.8,270.3 L623.5,268.9 L625.2,267.6 L626.8,267.6 L628.5,266.6 L630.2,266.3 L631.9,264.2 L633.5,263 L635.2,262 L636.9,260.2 L638.5,259.7 L640.2,259.4 L641.9,257.1 L643.5,255.9 L645.2,254.9 L646.9,254.1 L648.6,252.4 L650.2,251.5 L651.9,250.7 L653.6,249.2 L655.2,247.2 L656.9,246.3 L658.6,243.6 L660.2,241.8 L661.9,240.6 L663.6,240.3 L665.3,238.1 L666.9,236.7 L668.6,237.3 L670.3,239 L671.9,238.7 L673.6,238.5 L675.3,239.1 L676.9,238 L678.6,238.4 L680.3,239.5 L682,240.4 L683.6,242.2 L685.3,244.2 L687,244 L688.6,243.8 L690.3,244.3 L692,246.6 L693.6,248.5 L695.3,250.7 L697,252.3 L698.7,254.1 L700.3,255.7 L702,257.3 L703.7,258.9 L705.3,259.8 L707,261.6 L708.7,264.1 L710.3,264 L712,263.7 L713.7,266.3 L715.4,266.5 L717,266.7 L718.7,268.8 L720.4,269.4 L722,269.6 L723.7,270.5 L725.4,271.6 L727,273.6 L728.7,275 L730.4,274.4 L732.1,275.2 L733.7,276.4 L735.4,275.4 L737.1,276.3 L738.7,276.3 L740.4,275.5 L742.1,275.7 L743.7,277.1 L745.4,277.9 L747.1,277.7 L748.8,278.2 L750.4,278.9 L752.1,279 L753.8,279.2 L755.4,278.6 L757.1,278.3 L758.8,278.7 L760.4,277.8 L762.1,277.6 L763.8,278 L765.5,277.3 L767.1,277.7 L768.8,278.6 L770.5,278.8 L772.1,278.9 L773.8,277.5 L775.5,276.8 L777.1,279 L778.8,278.5 L780.5,277.2 L782.2,278.5 L783.8,277.6 L785.5,276.2 L787.2,277.1 L788.8,278.1 L790.5,279.1 L792.2,277.2 L793.8,276.1 L795.5,275.3 L797.2,274.5 L798.9,274.2 L800.5,275.1 L802.2,275.5 L803.9,274 L805.5,271.5 L807.2,270.3 L808.9,270.3 L810.5,269.2 L812.2,268.1 L813.9,267.5 L815.6,269.1 L817.2,267.5 L818.9,264.6 L820.6,264.1 L822.2,262.4 L823.9,258.1 L825.6,256.6 L827.2,254.8 L828.9,252.7 L830.6,249.1 L832.3,245.4 L833.9,241.8 L835.6,238.5 L837.3,233 L838.9,225.4 L840.6,220.2 L842.3,217.1 L843.9,209.6 L845.6,202.9 L847.3,196.7 L849,190.3 L850.6,183.9 L852.3,176.6 L854,169.6 L855.6,164.9 L857.3,160.8 L859,157.9 L860.6,153.7 L862.3,150.9 L864,151.2 L865.7,153.5 L867.3,153.8 L869,155.3 L870.7,160.9 L872.3,168.3 L874,176 L875.7,182 L877.3,189.5 L879,196.1 L880.7,201.5 L882.4,208.4 L884,216.4 L885.7,222.7 L887.4,227.6 L889,232.5 L890.7,237.9 L892.4,242.1 L894,246.5 L895.7,250.9 L897.4,255.8 L899.1,260.3 L900.7,265 L902.4,266.3 L904.1,269.1 L905.7,271.4 L907.4,272.8 L909.1,274.6 L910.7,273.9 L912.4,276 L914.1,277.5 L915.8,276.7 L917.4,279.1 L919.1,282.2 L920.8,281.8 L922.4,280.9 L924.1,281.5 L925.8,282.5 L927.4,284.1 L929.1,284.5 L930.8,284.1 L932.5,284.2 L934.1,285.8 L935.8,288.1 L937.5,289.1 L939.1,290.1 L940.8,289.9 L942.5,288.9 L944.1,289 L945.8,289.8 L947.5,289.4 L949.2,288.4 L950.8,287.9 L952.5,288.5 L954.2,288.2 L955.8,288.3 L957.5,289.2 L959.2,290.3 L960.8,290.7 L962.5,291.2 L964.2,291.8 L965.9,292.9 L967.5,293.2 L969.2,292.5 L970.9,292.3 L972.5,292.4 L974.2,292.2 L975.9,293.3 L977.5,293.8 L979.2,292.1 L980.9,290.9 L982.6,292 L984.2,291.5 L985.9,291.1 L987.6,290.4 L989.2,292.3 L990.9,291.8 L992.6,290.7 L994.2,290.9 L995.9,292 L997.6,292.6 L999.3,292.5 L1000.9,292.2 L1002.6,293.4 L1004.3,294.2" fill="none" stroke="#000" stroke-width="2.0" stroke-linejoin="round" stroke-linecap="round"/>
<path d="M535.7,279.4 L536.7,279.4 L537.7,279.4 L538.7,279.4 L539.7,279.4 L540.7,279.4 L541.7,279.4 L542.7,279.4 L543.7,279.4 L544.7,279.4 L545.7,279.5 L546.7,279.5 L547.7,279.5 L548.7,279.5 L549.7,279.5 L550.7,279.5 L551.7,279.5 L552.7,279.5 L553.7,279.5 L554.7,279.5 L555.7,279.5 L556.7,279.5 L557.7,279.5 L558.7,279.5 L559.7,279.5 L560.7,279.5 L561.7,279.6 L562.7,279.6 L563.7,279.6 L564.7,279.6 L565.7,279.6 L566.7,279.6 L567.7,279.6 L568.7,279.6 L569.7,279.6 L570.7,279.6 L571.7,279.6 L572.7,279.6 L573.7,279.6 L574.7,279.6 L575.7,279.6 L576.7,279.6 L577.7,279.7 L578.7,279.7 L579.7,279.7 L580.7,279.7 L581.7,279.7 L582.7,279.7 L583.7,279.7 L584.7,279.7 L585.7,279.7 L586.7,279.7 L587.7,279.7 L588.7,279.7 L589.7,279.7 L590.7,279.8 L591.7,279.8 L592.7,279.8 L593.7,279.8 L594.7,279.8 L595.7,279.8 L596.7,279.8 L597.7,279.8 L598.7,279.8 L599.7,279.8 L600.7,279.8 L601.7,279.8 L602.7,279.9 L603.7,279.9 L604.7,279.9 L605.7,279.9 L606.7,279.9 L607.7,279.9 L608.7,279.9 L609.7,279.9 L610.7,279.9 L611.7,280 L612.7,280 L613.7,280 L614.7,280 L615.7,280 L616.7,280 L617.7,280 L618.7,280 L619.7,280.1 L620.7,280.1 L621.7,280.1 L622.7,280.1 L623.7,280.1 L624.7,280.1 L625.7,280.2 L626.7,280.2 L627.7,280.2 L628.7,280.2 L629.7,280.2 L630.7,280.3 L631.7,280.3 L632.7,280.3 L633.7,280.3 L634.7,280.4 L635.7,280.4 L636.7,280.4 L637.7,280.4 L638.7,280.5 L639.7,280.5 L640.7,280.5 L641.7,280.6 L642.7,280.6 L643.7,280.6 L644.7,280.7 L645.7,280.7 L646.7,280.7 L647.7,280.8 L648.7,280.8 L649.7,280.8 L650.7,280.9 L651.7,280.9 L652.7,281 L653.7,281 L654.7,281.1 L655.7,281.1 L656.7,281.2 L657.7,281.2 L658.7,281.3 L659.7,281.3 L660.7,281.4 L661.7,281.4 L662.7,281.5 L663.7,281.5 L664.7,281.6 L665.7,281.6 L666.7,281.7 L667.7,281.8 L668.7,281.8 L669.7,281.9 L670.7,281.9 L671.7,282 L672.7,282.1 L673.7,282.1 L674.7,282.2 L675.7,282.2 L676.7,282.3 L677.7,282.4 L678.7,282.4 L679.7,282.5 L680.7,282.6 L681.7,282.6 L682.7,282.7 L683.7,282.7 L684.7,282.8 L685.7,282.8 L686.7,282.9 L687.7,283 L688.7,283 L689.7,283.1 L690.7,283.1 L691.7,283.2 L692.7,283.2 L693.7,283.3 L694.7,283.3 L695.7,283.4 L696.7,283.4 L697.7,283.5 L698.7,283.5 L699.7,283.5 L700.7,283.6 L701.7,283.6 L702.7,283.7 L703.7,283.7 L704.7,283.7 L705.7,283.8 L706.7,283.8 L707.7,283.8 L708.7,283.9 L709.7,283.9 L710.7,283.9 L711.7,284 L712.7,284 L713.7,284 L714.7,284.1 L715.7,284.1 L716.7,284.1 L717.7,284.1 L718.7,284.2 L719.7,284.2 L720.7,284.2 L721.7,284.2 L722.7,284.2 L723.7,284.3 L724.7,284.3 L725.7,284.3 L726.7,284.3 L727.7,284.3 L728.7,284.4 L729.7,284.4 L730.7,284.4 L731.7,284.4 L732.7,284.4 L733.7,284.4 L734.7,284.5 L735.7,284.5 L736.7,284.5 L737.7,284.5 L738.7,284.5 L739.7,284.5 L740.7,284.5 L741.7,284.6 L742.7,284.6 L743.7,284.6 L744.7,284.6 L745.7,284.6 L746.7,284.6 L747.7,284.6 L748.7,284.7 L749.7,284.7 L750.7,284.7 L751.7,284.7 L752.7,284.7 L753.7,284.7 L754.7,284.7 L755.7,284.7 L756.7,284.7 L757.7,284.8 L758.7,284.8 L759.7,284.8 L760.7,284.8 L761.7,284.8 L762.7,284.8 L763.7,284.8 L764.7,284.8 L765.7,284.9 L766.7,284.9 L767.7,284.9 L768.7,284.9 L769.7,284.9 L770.7,284.9 L771.7,284.9 L772.7,284.9 L773.7,284.9 L774.7,285 L775.7,285 L776.7,285 L777.7,285 L778.7,285 L779.7,285 L780.7,285 L781.7,285 L782.7,285.1 L783.7,285.1 L784.7,285.1 L785.7,285.1 L786.7,285.1 L787.7,285.1 L788.7,285.1 L789.7,285.2 L790.7,285.2 L791.7,285.2 L792.7,285.2 L793.7,285.2 L794.7,285.2 L795.7,285.2 L796.7,285.3 L797.7,285.3 L798.7,285.3 L799.7,285.3 L800.7,285.3 L801.7,285.3 L802.7,285.4 L803.7,285.4 L804.7,285.4 L805.7,285.4 L806.7,285.4 L807.7,285.4 L808.7,285.5 L809.7,285.5 L810.7,285.5 L811.7,285.5 L812.7,285.5 L813.7,285.6 L814.7,285.6 L815.7,285.6 L816.7,285.6 L817.7,285.7 L818.7,285.7 L819.7,285.7 L820.7,285.8 L821.7,285.8 L822.7,285.8 L823.7,285.8 L824.7,285.9 L825.7,285.9 L826.7,286 L827.7,286 L828.7,286 L829.7,286.1 L830.7,286.1 L831.7,286.2 L832.7,286.2 L833.7,286.3 L834.7,286.4 L835.7,286.4 L836.7,286.5 L837.7,286.6 L838.7,286.6 L839.7,286.7 L840.7,286.8 L841.7,286.9 L842.7,287 L843.7,287.1 L844.7,287.2 L845.7,287.3 L846.7,287.4 L847.7,287.5 L848.7,287.6 L849.7,287.8 L850.7,287.9 L851.7,288.1 L852.7,288.2 L853.7,288.4 L854.7,288.5 L855.7,288.7 L856.7,288.9 L857.7,289 L858.7,289.2 L859.7,289.4 L860.7,289.6 L861.7,289.8 L862.7,290 L863.7,290.2 L864.7,290.4 L865.7,290.6 L866.7,290.7 L867.7,290.9 L868.7,291.1 L869.7,291.3 L870.7,291.5 L871.7,291.7 L872.7,291.9 L873.7,292 L874.7,292.2 L875.7,292.3 L876.7,292.5 L877.7,292.6 L878.7,292.8 L879.7,292.9 L880.7,293.1 L881.7,293.2 L882.7,293.3 L883.7,293.4 L884.7,293.5 L885.7,293.6 L886.7,293.7 L887.7,293.8 L888.7,293.9 L889.7,294 L890.7,294 L891.7,294.1 L892.7,294.2 L893.7,294.3 L894.7,294.3 L895.7,294.4 L896.7,294.4 L897.7,294.5 L898.7,294.5 L899.7,294.6 L900.7,294.6 L901.7,294.7 L902.7,294.7 L903.7,294.7 L904.7,294.8 L905.7,294.8 L906.7,294.8 L907.7,294.9 L908.7,294.9 L909.7,294.9 L910.7,294.9 L911.7,295 L912.7,295 L913.7,295 L914.7,295 L915.7,295.1 L916.7,295.1 L917.7,295.1 L918.7,295.1 L919.7,295.1 L920.7,295.2 L921.7,295.2 L922.7,295.2 L923.7,295.2 L924.7,295.2 L925.7,295.3 L926.7,295.3 L927.7,295.3 L928.7,295.3 L929.7,295.3 L930.7,295.3 L931.7,295.3 L932.7,295.4 L933.7,295.4 L934.7,295.4 L935.7,295.4 L936.7,295.4 L937.7,295.4 L938.7,295.4 L939.7,295.5 L940.7,295.5 L941.7,295.5 L942.7,295.5 L943.7,295.5 L944.7,295.5 L945.7,295.5 L946.7,295.5 L947.7,295.5 L948.7,295.6 L949.7,295.6 L950.7,295.6 L951.7,295.6 L952.7,295.6 L953.7,295.6 L954.7,295.6 L955.7,295.6 L956.7,295.6 L957.7,295.6 L958.7,295.7 L959.7,295.7 L960.7,295.7 L961.7,295.7 L962.7,295.7 L963.7,295.7 L964.7,295.7 L965.7,295.7 L966.7,295.7 L967.7,295.7 L968.7,295.7 L969.7,295.7 L970.7,295.8 L971.7,295.8 L972.7,295.8 L973.7,295.8 L974.7,295.8 L975.7,295.8 L976.7,295.8 L977.7,295.8 L978.7,295.8 L979.7,295.8 L980.7,295.8 L981.7,295.8 L982.7,295.9 L983.7,295.9 L984.7,295.9 L985.7,295.9 L986.7,295.9 L987.7,295.9 L988.7,295.9 L989.7,295.9 L990.7,295.9 L991.7,295.9 L992.7,295.9 L993.7,295.9 L994.7,295.9 L995.7,295.9 L996.7,295.9 L997.7,296 L998.7,296 L999.7,296 L1000.7,296 L1001.7,296 L1002.7,296 L1003.7,296 L1004,296" fill="none" stroke="#0000FF" stroke-width="1.8" stroke-linejoin="round" stroke-linecap="round"/>
<path d="M535.7,278 L536.7,278 L537.7,278 L538.7,278 L539.7,278 L540.7,277.9 L541.7,277.9 L542.7,277.9 L543.7,277.9 L544.7,277.9 L545.7,277.9 L546.7,277.9 L547.7,277.9 L548.7,277.8 L549.7,277.8 L550.7,277.8 L551.7,277.8 L552.7,277.8 L553.7,277.8 L554.7,277.7 L555.7,277.7 L556.7,277.7 L557.7,277.7 L558.7,277.7 L559.7,277.6 L560.7,277.6 L561.7,277.6 L562.7,277.6 L563.7,277.5 L564.7,277.5 L565.7,277.5 L566.7,277.5 L567.7,277.4 L568.7,277.4 L569.7,277.4 L570.7,277.4 L571.7,277.3 L572.7,277.3 L573.7,277.3 L574.7,277.2 L575.7,277.2 L576.7,277.2 L577.7,277.1 L578.7,277.1 L579.7,277 L580.7,277 L581.7,276.9 L582.7,276.9 L583.7,276.9 L584.7,276.8 L585.7,276.7 L586.7,276.7 L587.7,276.6 L588.7,276.6 L589.7,276.5 L590.7,276.4 L591.7,276.4 L592.7,276.3 L593.7,276.2 L594.7,276.1 L595.7,276 L596.7,275.9 L597.7,275.8 L598.7,275.7 L599.7,275.6 L600.7,275.5 L601.7,275.4 L602.7,275.2 L603.7,275.1 L604.7,274.9 L605.7,274.8 L606.7,274.6 L607.7,274.5 L608.7,274.3 L609.7,274.1 L610.7,273.9 L611.7,273.6 L612.7,273.4 L613.7,273.2 L614.7,272.9 L615.7,272.7 L616.7,272.4 L617.7,272.1 L618.7,271.8 L619.7,271.4 L620.7,271.1 L621.7,270.7 L622.7,270.3 L623.7,269.9 L624.7,269.5 L625.7,269.1 L626.7,268.6 L627.7,268.2 L628.7,267.7 L629.7,267.2 L630.7,266.6 L631.7,266.1 L632.7,265.5 L633.7,264.9 L634.7,264.3 L635.7,263.7 L636.7,263 L637.7,262.4 L638.7,261.7 L639.7,261 L640.7,260.3 L641.7,259.5 L642.7,258.8 L643.7,258 L644.7,257.2 L645.7,256.4 L646.7,255.6 L647.7,254.8 L648.7,254 L649.7,253.1 L650.7,252.3 L651.7,251.5 L652.7,250.6 L653.7,249.8 L654.7,249 L655.7,248.2 L656.7,247.4 L657.7,246.6 L658.7,245.8 L659.7,245.1 L660.7,244.3 L661.7,243.6 L662.7,243 L663.7,242.4 L664.7,241.8 L665.7,241.3 L666.7,240.8 L667.7,240.4 L668.7,240 L669.7,239.7 L670.7,239.5 L671.7,239.3 L672.7,239.2 L673.7,239.1 L674.7,239.2 L675.7,239.3 L676.7,239.4 L677.7,239.7 L678.7,240 L679.7,240.4 L680.7,240.8 L681.7,241.3 L682.7,241.8 L683.7,242.4 L684.7,243.1 L685.7,243.7 L686.7,244.5 L687.7,245.2 L688.7,246 L689.7,246.8 L690.7,247.7 L691.7,248.5 L692.7,249.4 L693.7,250.3 L694.7,251.2 L695.7,252.1 L696.7,253 L697.7,253.9 L698.7,254.8 L699.7,255.7 L700.7,256.6 L701.7,257.4 L702.7,258.3 L703.7,259.2 L704.7,260 L705.7,260.8 L706.7,261.6 L707.7,262.4 L708.7,263.2 L709.7,263.9 L710.7,264.7 L711.7,265.4 L712.7,266.1 L713.7,266.7 L714.7,267.4 L715.7,268 L716.7,268.6 L717.7,269.2 L718.7,269.7 L719.7,270.3 L720.7,270.8 L721.7,271.3 L722.7,271.8 L723.7,272.2 L724.7,272.6 L725.7,273.1 L726.7,273.4 L727.7,273.8 L728.7,274.2 L729.7,274.5 L730.7,274.8 L731.7,275.1 L732.7,275.4 L733.7,275.7 L734.7,275.9 L735.7,276.2 L736.7,276.4 L737.7,276.6 L738.7,276.8 L739.7,277 L740.7,277.2 L741.7,277.3 L742.7,277.5 L743.7,277.6 L744.7,277.8 L745.7,277.9 L746.7,278 L747.7,278.1 L748.7,278.2 L749.7,278.3 L750.7,278.4 L751.7,278.4 L752.7,278.5 L753.7,278.6 L754.7,278.6 L755.7,278.7 L756.7,278.7 L757.7,278.7 L758.7,278.8 L759.7,278.8 L760.7,278.8 L761.7,278.8 L762.7,278.8 L763.7,278.8 L764.7,278.8 L765.7,278.8 L766.7,278.8 L767.7,278.8 L768.7,278.8 L769.7,278.8 L770.7,278.8 L771.7,278.7 L772.7,278.7 L773.7,278.7 L774.7,278.6 L775.7,278.6 L776.7,278.5 L777.7,278.5 L778.7,278.4 L779.7,278.4 L780.7,278.3 L781.7,278.2 L782.7,278.1 L783.7,278.1 L784.7,278 L785.7,277.9 L786.7,277.8 L787.7,277.7 L788.7,277.6 L789.7,277.5 L790.7,277.3 L791.7,277.2 L792.7,277.1 L793.7,276.9 L794.7,276.8 L795.7,276.6 L796.7,276.4 L797.7,276.3 L798.7,276.1 L799.7,275.9 L800.7,275.7 L801.7,275.4 L802.7,275.2 L803.7,274.9 L804.7,274.7 L805.7,274.4 L806.7,274 L807.7,273.7 L808.7,273.3 L809.7,273 L810.7,272.5 L811.7,272.1 L812.7,271.6 L813.7,271.1 L814.7,270.5 L815.7,269.9 L816.7,269.2 L817.7,268.5 L818.7,267.7 L819.7,266.9 L820.7,266 L821.7,265 L822.7,263.9 L823.7,262.8 L824.7,261.5 L825.7,260.2 L826.7,258.7 L827.7,257.2 L828.7,255.5 L829.7,253.7 L830.7,251.8 L831.7,249.7 L832.7,247.5 L833.7,245.2 L834.7,242.7 L835.7,240.1 L836.7,237.4 L837.7,234.4 L838.7,231.4 L839.7,228.2 L840.7,224.8 L841.7,221.3 L842.7,217.7 L843.7,213.9 L844.7,210 L845.7,206 L846.7,202 L847.7,197.8 L848.7,193.6 L849.7,189.4 L850.7,185.1 L851.7,181 L852.7,176.8 L853.7,172.8 L854.7,169 L855.7,165.3 L856.7,162 L857.7,158.9 L858.7,156.2 L859.7,153.9 L860.7,152 L861.7,150.7 L862.7,149.9 L863.7,149.6 L864.7,149.9 L865.7,150.8 L866.7,152.1 L867.7,154 L868.7,156.4 L869.7,159.2 L870.7,162.4 L871.7,166 L872.7,169.8 L873.7,173.9 L874.7,178.1 L875.7,182.5 L876.7,186.9 L877.7,191.4 L878.7,196 L879.7,200.5 L880.7,204.9 L881.7,209.3 L882.7,213.6 L883.7,217.8 L884.7,221.8 L885.7,225.8 L886.7,229.6 L887.7,233.2 L888.7,236.7 L889.7,240 L890.7,243.2 L891.7,246.3 L892.7,249.1 L893.7,251.8 L894.7,254.4 L895.7,256.8 L896.7,259.1 L897.7,261.2 L898.7,263.2 L899.7,265 L900.7,266.8 L901.7,268.4 L902.7,269.9 L903.7,271.3 L904.7,272.6 L905.7,273.8 L906.7,274.9 L907.7,276 L908.7,276.9 L909.7,277.8 L910.7,278.7 L911.7,279.4 L912.7,280.1 L913.7,280.8 L914.7,281.4 L915.7,282 L916.7,282.5 L917.7,283 L918.7,283.5 L919.7,283.9 L920.7,284.3 L921.7,284.7 L922.7,285.1 L923.7,285.4 L924.7,285.8 L925.7,286.1 L926.7,286.4 L927.7,286.6 L928.7,286.9 L929.7,287.2 L930.7,287.4 L931.7,287.6 L932.7,287.8 L933.7,288.1 L934.7,288.3 L935.7,288.5 L936.7,288.6 L937.7,288.8 L938.7,289 L939.7,289.2 L940.7,289.3 L941.7,289.5 L942.7,289.6 L943.7,289.8 L944.7,289.9 L945.7,290 L946.7,290.2 L947.7,290.3 L948.7,290.4 L949.7,290.5 L950.7,290.7 L951.7,290.8 L952.7,290.9 L953.7,291 L954.7,291.1 L955.7,291.2 L956.7,291.3 L957.7,291.4 L958.7,291.5 L959.7,291.6 L960.7,291.6 L961.7,291.7 L962.7,291.8 L963.7,291.9 L964.7,292 L965.7,292 L966.7,292.1 L967.7,292.2 L968.7,292.3 L969.7,292.3 L970.7,292.4 L971.7,292.5 L972.7,292.5 L973.7,292.6 L974.7,292.6 L975.7,292.7 L976.7,292.8 L977.7,292.8 L978.7,292.9 L979.7,292.9 L980.7,293 L981.7,293 L982.7,293.1 L983.7,293.1 L984.7,293.2 L985.7,293.2 L986.7,293.3 L987.7,293.3 L988.7,293.4 L989.7,293.4 L990.7,293.5 L991.7,293.5 L992.7,293.5 L993.7,293.6 L994.7,293.6 L995.7,293.7 L996.7,293.7 L997.7,293.7 L998.7,293.8 L999.7,293.8 L1000.7,293.8 L1001.7,293.9 L1002.7,293.9 L1003.7,293.9 L1004,294" fill="none" stroke="#FF0000" stroke-width="1.8" stroke-linejoin="round" stroke-linecap="round"/>
<path d="M535.7,278.3 L536.7,278.3 L537.7,278.3 L538.7,278.3 L539.7,278.3 L540.7,278.3 L541.7,278.3 L542.7,278.3 L543.7,278.3 L544.7,278.3 L545.7,278.2 L546.7,278.2 L547.7,278.2 L548.7,278.2 L549.7,278.2 L550.7,278.2 L551.7,278.2 L552.7,278.1 L553.7,278.1 L554.7,278.1 L555.7,278.1 L556.7,278.1 L557.7,278.1 L558.7,278.1 L559.7,278 L560.7,278 L561.7,278 L562.7,278 L563.7,278 L564.7,277.9 L565.7,277.9 L566.7,277.9 L567.7,277.9 L568.7,277.8 L569.7,277.8 L570.7,277.8 L571.7,277.8 L572.7,277.7 L573.7,277.7 L574.7,277.7 L575.7,277.6 L576.7,277.6 L577.7,277.6 L578.7,277.5 L579.7,277.5 L580.7,277.4 L581.7,277.4 L582.7,277.4 L583.7,277.3 L584.7,277.3 L585.7,277.2 L586.7,277.2 L587.7,277.1 L588.7,277.1 L589.7,277 L590.7,276.9 L591.7,276.9 L592.7,276.8 L593.7,276.7 L594.7,276.6 L595.7,276.5 L596.7,276.4 L597.7,276.3 L598.7,276.2 L599.7,276.1 L600.7,276 L601.7,275.9 L602.7,275.8 L603.7,275.6 L604.7,275.5 L605.7,275.3 L606.7,275.2 L607.7,275 L608.7,274.8 L609.7,274.6 L610.7,274.4 L611.7,274.2 L612.7,274 L613.7,273.8 L614.7,273.5 L615.7,273.2 L616.7,273 L617.7,272.7 L618.7,272.4 L619.7,272 L620.7,271.7 L621.7,271.3 L622.7,271 L623.7,270.6 L624.7,270.2 L625.7,269.7 L626.7,269.3 L627.7,268.8 L628.7,268.3 L629.7,267.8 L630.7,267.3 L631.7,266.8 L632.7,266.2 L633.7,265.6 L634.7,265 L635.7,264.4 L636.7,263.7 L637.7,263.1 L638.7,262.4 L639.7,261.7 L640.7,261 L641.7,260.3 L642.7,259.5 L643.7,258.8 L644.7,258 L645.7,257.2 L646.7,256.4 L647.7,255.6 L648.7,254.8 L649.7,253.9 L650.7,253.1 L651.7,252.3 L652.7,251.5 L653.7,250.6 L654.7,249.8 L655.7,249 L656.7,248.2 L657.7,247.4 L658.7,246.7 L659.7,245.9 L660.7,245.2 L661.7,244.5 L662.7,243.9 L663.7,243.3 L664.7,242.7 L665.7,242.2 L666.7,241.7 L667.7,241.3 L668.7,241 L669.7,240.7 L670.7,240.4 L671.7,240.3 L672.7,240.2 L673.7,240.1 L674.7,240.2 L675.7,240.3 L676.7,240.5 L677.7,240.7 L678.7,241 L679.7,241.4 L680.7,241.9 L681.7,242.4 L682.7,242.9 L683.7,243.5 L684.7,244.2 L685.7,244.9 L686.7,245.6 L687.7,246.4 L688.7,247.2 L689.7,248 L690.7,248.9 L691.7,249.8 L692.7,250.7 L693.7,251.6 L694.7,252.5 L695.7,253.4 L696.7,254.3 L697.7,255.2 L698.7,256.1 L699.7,257 L700.7,257.9 L701.7,258.8 L702.7,259.7 L703.7,260.6 L704.7,261.4 L705.7,262.3 L706.7,263.1 L707.7,263.9 L708.7,264.7 L709.7,265.4 L710.7,266.2 L711.7,266.9 L712.7,267.6 L713.7,268.3 L714.7,269 L715.7,269.6 L716.7,270.3 L717.7,270.9 L718.7,271.4 L719.7,272 L720.7,272.5 L721.7,273.1 L722.7,273.6 L723.7,274 L724.7,274.5 L725.7,274.9 L726.7,275.4 L727.7,275.8 L728.7,276.1 L729.7,276.5 L730.7,276.9 L731.7,277.2 L732.7,277.5 L733.7,277.8 L734.7,278.1 L735.7,278.4 L736.7,278.6 L737.7,278.9 L738.7,279.1 L739.7,279.3 L740.7,279.5 L741.7,279.7 L742.7,279.9 L743.7,280.1 L744.7,280.3 L745.7,280.4 L746.7,280.6 L747.7,280.8 L748.7,280.9 L749.7,281 L750.7,281.2 L751.7,281.3 L752.7,281.4 L753.7,281.5 L754.7,281.6 L755.7,281.7 L756.7,281.8 L757.7,281.9 L758.7,282 L759.7,282.1 L760.7,282.1 L761.7,282.2 L762.7,282.3 L763.7,282.4 L764.7,282.4 L765.7,282.5 L766.7,282.6 L767.7,282.6 L768.7,282.7 L769.7,282.7 L770.7,282.8 L771.7,282.9 L772.7,282.9 L773.7,283 L774.7,283 L775.7,283.1 L776.7,283.1 L777.7,283.2 L778.7,283.2 L779.7,283.2 L780.7,283.3 L781.7,283.3 L782.7,283.4 L783.7,283.4 L784.7,283.5 L785.7,283.5 L786.7,283.5 L787.7,283.6 L788.7,283.6 L789.7,283.7 L790.7,283.7 L791.7,283.7 L792.7,283.8 L793.7,283.8 L794.7,283.8 L795.7,283.9 L796.7,283.9 L797.7,284 L798.7,284 L799.7,284 L800.7,284.1 L801.7,284.1 L802.7,284.1 L803.7,284.2 L804.7,284.2 L805.7,284.2 L806.7,284.3 L807.7,284.3 L808.7,284.3 L809.7,284.4 L810.7,284.4 L811.7,284.5 L812.7,284.5 L813.7,284.5 L814.7,284.6 L815.7,284.6 L816.7,284.6 L817.7,284.7 L818.7,284.7 L819.7,284.8 L820.7,284.8 L821.7,284.8 L822.7,284.9 L823.7,284.9 L824.7,285 L825.7,285 L826.7,285.1 L827.7,285.1 L828.7,285.2 L829.7,285.2 L830.7,285.3 L831.7,285.4 L832.7,285.4 L833.7,285.5 L834.7,285.6 L835.7,285.6 L836.7,285.7 L837.7,285.8 L838.7,285.9 L839.7,286 L840.7,286 L841.7,286.1 L842.7,286.2 L843.7,286.3 L844.7,286.5 L845.7,286.6 L846.7,286.7 L847.7,286.8 L848.7,287 L849.7,287.1 L850.7,287.2 L851.7,287.4 L852.7,287.6 L853.7,287.7 L854.7,287.9 L855.7,288.1 L856.7,288.2 L857.7,288.4 L858.7,288.6 L859.7,288.8 L860.7,289 L861.7,289.2 L862.7,289.4 L863.7,289.6 L864.7,289.8 L865.7,290 L866.7,290.2 L867.7,290.4 L868.7,290.6 L869.7,290.8 L870.7,291 L871.7,291.1 L872.7,291.3 L873.7,291.5 L874.7,291.7 L875.7,291.8 L876.7,292 L877.7,292.1 L878.7,292.3 L879.7,292.4 L880.7,292.6 L881.7,292.7 L882.7,292.8 L883.7,292.9 L884.7,293 L885.7,293.1 L886.7,293.2 L887.7,293.3 L888.7,293.4 L889.7,293.5 L890.7,293.6 L891.7,293.7 L892.7,293.7 L893.7,293.8 L894.7,293.9 L895.7,293.9 L896.7,294 L897.7,294.1 L898.7,294.1 L899.7,294.2 L900.7,294.2 L901.7,294.3 L902.7,294.3 L903.7,294.3 L904.7,294.4 L905.7,294.4 L906.7,294.4 L907.7,294.5 L908.7,294.5 L909.7,294.5 L910.7,294.6 L911.7,294.6 L912.7,294.6 L913.7,294.7 L914.7,294.7 L915.7,294.7 L916.7,294.7 L917.7,294.8 L918.7,294.8 L919.7,294.8 L920.7,294.8 L921.7,294.8 L922.7,294.9 L923.7,294.9 L924.7,294.9 L925.7,294.9 L926.7,294.9 L927.7,295 L928.7,295 L929.7,295 L930.7,295 L931.7,295 L932.7,295 L933.7,295.1 L934.7,295.1 L935.7,295.1 L936.7,295.1 L937.7,295.1 L938.7,295.1 L939.7,295.2 L940.7,295.2 L941.7,295.2 L942.7,295.2 L943.7,295.2 L944.7,295.2 L945.7,295.2 L946.7,295.2 L947.7,295.3 L948.7,295.3 L949.7,295.3 L950.7,295.3 L951.7,295.3 L952.7,295.3 L953.7,295.3 L954.7,295.3 L955.7,295.4 L956.7,295.4 L957.7,295.4 L958.7,295.4 L959.7,295.4 L960.7,295.4 L961.7,295.4 L962.7,295.4 L963.7,295.4 L964.7,295.5 L965.7,295.5 L966.7,295.5 L967.7,295.5 L968.7,295.5 L969.7,295.5 L970.7,295.5 L971.7,295.5 L972.7,295.5 L973.7,295.5 L974.7,295.6 L975.7,295.6 L976.7,295.6 L977.7,295.6 L978.7,295.6 L979.7,295.6 L980.7,295.6 L981.7,295.6 L982.7,295.6 L983.7,295.6 L984.7,295.6 L985.7,295.7 L986.7,295.7 L987.7,295.7 L988.7,295.7 L989.7,295.7 L990.7,295.7 L991.7,295.7 L992.7,295.7 L993.7,295.7 L994.7,295.7 L995.7,295.7 L996.7,295.7 L997.7,295.8 L998.7,295.8 L999.7,295.8 L1000.7,295.8 L1001.7,295.8 L1002.7,295.8 L1003.7,295.8 L1004,295.8" fill="none" stroke="#FF00FF" stroke-width="1.9" stroke-linejoin="round" stroke-linecap="round"/>
<path d="M535.7,279.1 L536.7,279.1 L537.7,279.1 L538.7,279.1 L539.7,279.1 L540.7,279.1 L541.7,279.1 L542.7,279.1 L543.7,279.1 L544.7,279.1 L545.7,279.1 L546.7,279.1 L547.7,279.1 L548.7,279.1 L549.7,279.1 L550.7,279.1 L551.7,279.1 L552.7,279.1 L553.7,279.1 L554.7,279.1 L555.7,279.1 L556.7,279.1 L557.7,279.1 L558.7,279.1 L559.7,279.1 L560.7,279.1 L561.7,279.1 L562.7,279.2 L563.7,279.2 L564.7,279.2 L565.7,279.2 L566.7,279.2 L567.7,279.2 L568.7,279.2 L569.7,279.2 L570.7,279.2 L571.7,279.2 L572.7,279.2 L573.7,279.2 L574.7,279.2 L575.7,279.2 L576.7,279.2 L577.7,279.2 L578.7,279.2 L579.7,279.2 L580.7,279.2 L581.7,279.2 L582.7,279.2 L583.7,279.2 L584.7,279.2 L585.7,279.2 L586.7,279.2 L587.7,279.2 L588.7,279.3 L589.7,279.3 L590.7,279.3 L591.7,279.3 L592.7,279.3 L593.7,279.3 L594.7,279.3 L595.7,279.3 L596.7,279.3 L597.7,279.3 L598.7,279.3 L599.7,279.3 L600.7,279.3 L601.7,279.3 L602.7,279.3 L603.7,279.3 L604.7,279.3 L605.7,279.3 L606.7,279.3 L607.7,279.4 L608.7,279.4 L609.7,279.4 L610.7,279.4 L611.7,279.4 L612.7,279.4 L613.7,279.4 L614.7,279.4 L615.7,279.4 L616.7,279.4 L617.7,279.4 L618.7,279.4 L619.7,279.4 L620.7,279.5 L621.7,279.5 L622.7,279.5 L623.7,279.5 L624.7,279.5 L625.7,279.5 L626.7,279.5 L627.7,279.5 L628.7,279.6 L629.7,279.6 L630.7,279.6 L631.7,279.6 L632.7,279.6 L633.7,279.6 L634.7,279.7 L635.7,279.7 L636.7,279.7 L637.7,279.7 L638.7,279.7 L639.7,279.8 L640.7,279.8 L641.7,279.8 L642.7,279.8 L643.7,279.9 L644.7,279.9 L645.7,279.9 L646.7,279.9 L647.7,280 L648.7,280 L649.7,280 L650.7,280.1 L651.7,280.1 L652.7,280.1 L653.7,280.2 L654.7,280.2 L655.7,280.3 L656.7,280.3 L657.7,280.3 L658.7,280.4 L659.7,280.4 L660.7,280.5 L661.7,280.5 L662.7,280.6 L663.7,280.6 L664.7,280.7 L665.7,280.7 L666.7,280.8 L667.7,280.8 L668.7,280.9 L669.7,280.9 L670.7,281 L671.7,281 L672.7,281.1 L673.7,281.1 L674.7,281.2 L675.7,281.2 L676.7,281.3 L677.7,281.3 L678.7,281.4 L679.7,281.4 L680.7,281.5 L681.7,281.5 L682.7,281.6 L683.7,281.6 L684.7,281.7 L685.7,281.7 L686.7,281.7 L687.7,281.8 L688.7,281.8 L689.7,281.9 L690.7,281.9 L691.7,282 L692.7,282 L693.7,282 L694.7,282.1 L695.7,282.1 L696.7,282.1 L697.7,282.1 L698.7,282.2 L699.7,282.2 L700.7,282.2 L701.7,282.3 L702.7,282.3 L703.7,282.3 L704.7,282.3 L705.7,282.3 L706.7,282.3 L707.7,282.4 L708.7,282.4 L709.7,282.4 L710.7,282.4 L711.7,282.4 L712.7,282.4 L713.7,282.4 L714.7,282.4 L715.7,282.4 L716.7,282.4 L717.7,282.4 L718.7,282.4 L719.7,282.4 L720.7,282.4 L721.7,282.4 L722.7,282.4 L723.7,282.4 L724.7,282.4 L725.7,282.4 L726.7,282.4 L727.7,282.4 L728.7,282.4 L729.7,282.4 L730.7,282.4 L731.7,282.4 L732.7,282.3 L733.7,282.3 L734.7,282.3 L735.7,282.3 L736.7,282.3 L737.7,282.3 L738.7,282.2 L739.7,282.2 L740.7,282.2 L741.7,282.2 L742.7,282.1 L743.7,282.1 L744.7,282.1 L745.7,282.1 L746.7,282 L747.7,282 L748.7,282 L749.7,281.9 L750.7,281.9 L751.7,281.9 L752.7,281.8 L753.7,281.8 L754.7,281.7 L755.7,281.7 L756.7,281.7 L757.7,281.6 L758.7,281.6 L759.7,281.5 L760.7,281.5 L761.7,281.4 L762.7,281.4 L763.7,281.3 L764.7,281.3 L765.7,281.2 L766.7,281.1 L767.7,281.1 L768.7,281 L769.7,280.9 L770.7,280.9 L771.7,280.8 L772.7,280.7 L773.7,280.7 L774.7,280.6 L775.7,280.5 L776.7,280.4 L777.7,280.3 L778.7,280.2 L779.7,280.1 L780.7,280 L781.7,279.9 L782.7,279.8 L783.7,279.7 L784.7,279.6 L785.7,279.5 L786.7,279.4 L787.7,279.2 L788.7,279.1 L789.7,279 L790.7,278.8 L791.7,278.7 L792.7,278.5 L793.7,278.3 L794.7,278.2 L795.7,278 L796.7,277.8 L797.7,277.6 L798.7,277.4 L799.7,277.2 L800.7,276.9 L801.7,276.7 L802.7,276.4 L803.7,276.1 L804.7,275.8 L805.7,275.5 L806.7,275.2 L807.7,274.8 L808.7,274.5 L809.7,274.1 L810.7,273.6 L811.7,273.2 L812.7,272.7 L813.7,272.1 L814.7,271.5 L815.7,270.9 L816.7,270.2 L817.7,269.5 L818.7,268.7 L819.7,267.8 L820.7,266.9 L821.7,265.9 L822.7,264.8 L823.7,263.7 L824.7,262.4 L825.7,261.1 L826.7,259.6 L827.7,258 L828.7,256.4 L829.7,254.5 L830.7,252.6 L831.7,250.6 L832.7,248.4 L833.7,246 L834.7,243.5 L835.7,240.9 L836.7,238.1 L837.7,235.2 L838.7,232.1 L839.7,228.9 L840.7,225.5 L841.7,222 L842.7,218.4 L843.7,214.6 L844.7,210.7 L845.7,206.7 L846.7,202.6 L847.7,198.5 L848.7,194.3 L849.7,190 L850.7,185.8 L851.7,181.6 L852.7,177.5 L853.7,173.5 L854.7,169.6 L855.7,166 L856.7,162.6 L857.7,159.5 L858.7,156.8 L859.7,154.5 L860.7,152.6 L861.7,151.3 L862.7,150.5 L863.7,150.2 L864.7,150.5 L865.7,151.3 L866.7,152.7 L867.7,154.6 L868.7,157 L869.7,159.8 L870.7,163 L871.7,166.5 L872.7,170.3 L873.7,174.4 L874.7,178.6 L875.7,183 L876.7,187.4 L877.7,191.9 L878.7,196.5 L879.7,201 L880.7,205.4 L881.7,209.8 L882.7,214.1 L883.7,218.3 L884.7,222.3 L885.7,226.2 L886.7,230 L887.7,233.7 L888.7,237.2 L889.7,240.5 L890.7,243.7 L891.7,246.7 L892.7,249.6 L893.7,252.3 L894.7,254.8 L895.7,257.2 L896.7,259.5 L897.7,261.6 L898.7,263.6 L899.7,265.4 L900.7,267.2 L901.7,268.8 L902.7,270.3 L903.7,271.7 L904.7,273 L905.7,274.2 L906.7,275.3 L907.7,276.3 L908.7,277.3 L909.7,278.2 L910.7,279 L911.7,279.8 L912.7,280.5 L913.7,281.2 L914.7,281.8 L915.7,282.4 L916.7,282.9 L917.7,283.4 L918.7,283.9 L919.7,284.3 L920.7,284.7 L921.7,285.1 L922.7,285.4 L923.7,285.8 L924.7,286.1 L925.7,286.4 L926.7,286.7 L927.7,287 L928.7,287.2 L929.7,287.5 L930.7,287.7 L931.7,287.9 L932.7,288.2 L933.7,288.4 L934.7,288.6 L935.7,288.8 L936.7,288.9 L937.7,289.1 L938.7,289.3 L939.7,289.5 L940.7,289.6 L941.7,289.8 L942.7,289.9 L943.7,290.1 L944.7,290.2 L945.7,290.3 L946.7,290.5 L947.7,290.6 L948.7,290.7 L949.7,290.8 L950.7,290.9 L951.7,291 L952.7,291.1 L953.7,291.2 L954.7,291.3 L955.7,291.4 L956.7,291.5 L957.7,291.6 L958.7,291.7 L959.7,291.8 L960.7,291.9 L961.7,292 L962.7,292.1 L963.7,292.1 L964.7,292.2 L965.7,292.3 L966.7,292.4 L967.7,292.4 L968.7,292.5 L969.7,292.6 L970.7,292.6 L971.7,292.7 L972.7,292.8 L973.7,292.8 L974.7,292.9 L975.7,292.9 L976.7,293 L977.7,293 L978.7,293.1 L979.7,293.2 L980.7,293.2 L981.7,293.3 L982.7,293.3 L983.7,293.4 L984.7,293.4 L985.7,293.4 L986.7,293.5 L987.7,293.5 L988.7,293.6 L989.7,293.6 L990.7,293.7 L991.7,293.7 L992.7,293.7 L993.7,293.8 L994.7,293.8 L995.7,293.9 L996.7,293.9 L997.7,293.9 L998.7,294 L999.7,294 L1000.7,294 L1001.7,294.1 L1002.7,294.1 L1003.7,294.1 L1004,294.2" fill="none" stroke="#008080" stroke-width="2.6" stroke-linejoin="round" stroke-linecap="round"/>
<path d="M535,412 L536.7,406.6 L538.3,408.6 L540,411.9 L541.7,413.4 L543.3,413.7 L545,414.4 L546.7,413.5 L548.4,412.7 L550,411.3 L551.7,409.5 L553.4,409.8 L555,411.6 L556.7,412.4 L558.4,414.6 L560,415.1 L561.7,414.4 L563.4,412.2 L565.1,411.6 L566.7,409.1 L568.4,408.4 L570.1,409.2 L571.7,409 L573.4,407.2 L575.1,407.5 L576.7,409.6 L578.4,410.1 L580.1,412.6 L581.8,413 L583.4,412.6 L585.1,411.9 L586.8,411.2 L588.4,409.9 L590.1,410 L591.8,408.3 L593.4,407.1 L595.1,406.3 L596.8,407.2 L598.5,406.9 L600.1,406.8 L601.8,408.9 L603.5,407.5 L605.1,407.4 L606.8,408.5 L608.5,409.1 L610.1,407.1 L611.8,406.8 L613.5,405.6 L615.2,403.9 L616.8,404.8 L618.5,404.2 L620.2,402.4 L621.8,401.8 L623.5,400.4 L625.2,399.9 L626.8,400.5 L628.5,400.3 L630.2,398.3 L631.9,398 L633.5,398.1 L635.2,397.2 L636.9,397.2 L638.5,396.4 L640.2,392.8 L641.9,391.4 L643.5,387.9 L645.2,387.8 L646.9,387.1 L648.6,385.5 L650.2,384.5 L651.9,384.8 L653.6,384.1 L655.2,383.1 L656.9,381.9 L658.6,382.2 L660.2,380.6 L661.9,380.2 L663.6,380.1 L665.3,379.6 L666.9,375.6 L668.6,374.8 L670.3,375.3 L671.9,373.6 L673.6,373.3 L675.3,375.1 L676.9,375.7 L678.6,376.6 L680.3,376.3 L682,378.3 L683.6,380.6 L685.3,381.4 L687,380.9 L688.6,382.9 L690.3,381.8 L692,382.1 L693.6,385.4 L695.3,389.3 L697,391.1 L698.7,392.6 L700.3,392.9 L702,392.6 L703.7,393.1 L705.3,394.7 L707,391.8 L708.7,392.3 L710.3,394.9 L712,395.6 L713.7,396 L715.4,399.1 L717,400.1 L718.7,399.7 L720.4,403.4 L722,406 L723.7,406.8 L725.4,406.3 L727,406.5 L728.7,405.5 L730.4,406.2 L732.1,406.9 L733.7,408.9 L735.4,409.6 L737.1,410.5 L738.7,409.8 L740.4,408.4 L742.1,405.3 L743.7,405.3 L745.4,408.1 L747.1,408.9 L748.8,410.4 L750.4,411.2 L752.1,411.7 L753.8,412.4 L755.4,411.5 L757.1,410.1 L758.8,408.9 L760.4,410.7 L762.1,410.4 L763.8,411.2 L765.5,411.5 L767.1,412.3 L768.8,411.6 L770.5,411.3 L772.1,410.8 L773.8,409.8 L775.5,409.9 L777.1,410.6 L778.8,410.2 L780.5,409.6 L782.2,410.9 L783.8,407.5 L785.5,407.3 L787.2,408.9 L788.8,406.3 L790.5,406.3 L792.2,406.3 L793.8,405.2 L795.5,404.2 L797.2,404.7 L798.9,406.5 L800.5,405.8 L802.2,402.7 L803.9,403.6 L805.5,404 L807.2,405.2 L808.9,404.3 L810.5,402.2 L812.2,400.9 L813.9,400.2 L815.6,400.8 L817.2,400.5 L818.9,396.1 L820.6,393.4 L822.2,391.9 L823.9,389.3 L825.6,386.8 L827.2,383.3 L828.9,379 L830.6,375.1 L832.3,372.9 L833.9,370.4 L835.6,366.3 L837.3,362.9 L838.9,357.7 L840.6,352.1 L842.3,347.7 L843.9,340.5 L845.6,336.8 L847.3,332 L849,324.5 L850.6,318.9 L852.3,315.2 L854,311.3 L855.6,306.9 L857.3,304.2 L859,303.6 L860.6,302.7 L862.3,302 L864,304.3 L865.7,306.2 L867.3,307.1 L869,310 L870.7,311.9 L872.3,315.8 L874,318.7 L875.7,324.4 L877.3,331.2 L879,340.1 L880.7,346.5 L882.4,351.4 L884,355.8 L885.7,359.6 L887.4,363.3 L889,366.4 L890.7,372.6 L892.4,376.8 L894,380.1 L895.7,383.5 L897.4,389.3 L899.1,392 L900.7,393.7 L902.4,397.4 L904.1,398.6 L905.7,398.8 L907.4,400.4 L909.1,401.3 L910.7,401.4 L912.4,403.7 L914.1,407.1 L915.8,408.8 L917.4,410 L919.1,410.8 L920.8,413.2 L922.4,415.5 L924.1,416.3 L925.8,415 L927.4,415.3 L929.1,417.3 L930.8,416.3 L932.5,414.8 L934.1,414 L935.8,414.8 L937.5,417.3 L939.1,417.1 L940.8,415.2 L942.5,415.4 L944.1,419.1 L945.8,420.2 L947.5,419.7 L949.2,418.2 L950.8,415.5 L952.5,416.6 L954.2,419.5 L955.8,420.2 L957.5,420.7 L959.2,420.3 L960.8,420.6 L962.5,421.7 L964.2,421.3 L965.9,421.6 L967.5,422.1 L969.2,422.9 L970.9,424.6 L972.5,424.8 L974.2,422.7 L975.9,422.9 L977.5,423 L979.2,423.4 L980.9,422.3 L982.6,423.9 L984.2,424.8 L985.9,424.3 L987.6,422.6 L989.2,422 L990.9,421.1 L992.6,422.2 L994.2,422.8 L995.9,421.2 L997.6,422 L999.3,423.5 L1000.9,424.4 L1002.6,426.1 L1004.3,426.1" fill="none" stroke="#000" stroke-width="2.0" stroke-linejoin="round" stroke-linecap="round"/>
<path d="M535.7,413.3 L536.7,413.3 L537.7,413.3 L538.7,413.3 L539.7,413.3 L540.7,413.3 L541.7,413.3 L542.7,413.3 L543.7,413.3 L544.7,413.3 L545.7,413.3 L546.7,413.3 L547.7,413.3 L548.7,413.3 L549.7,413.3 L550.7,413.3 L551.7,413.4 L552.7,413.4 L553.7,413.4 L554.7,413.4 L555.7,413.4 L556.7,413.4 L557.7,413.4 L558.7,413.4 L559.7,413.4 L560.7,413.4 L561.7,413.4 L562.7,413.4 L563.7,413.4 L564.7,413.4 L565.7,413.4 L566.7,413.4 L567.7,413.4 L568.7,413.4 L569.7,413.4 L570.7,413.4 L571.7,413.4 L572.7,413.4 L573.7,413.4 L574.7,413.4 L575.7,413.4 L576.7,413.4 L577.7,413.5 L578.7,413.5 L579.7,413.5 L580.7,413.5 L581.7,413.5 L582.7,413.5 L583.7,413.5 L584.7,413.5 L585.7,413.5 L586.7,413.5 L587.7,413.5 L588.7,413.5 L589.7,413.5 L590.7,413.5 L591.7,413.5 L592.7,413.5 L593.7,413.5 L594.7,413.5 L595.7,413.5 L596.7,413.5 L597.7,413.5 L598.7,413.6 L599.7,413.6 L600.7,413.6 L601.7,413.6 L602.7,413.6 L603.7,413.6 L604.7,413.6 L605.7,413.6 L606.7,413.6 L607.7,413.6 L608.7,413.6 L609.7,413.6 L610.7,413.6 L611.7,413.6 L612.7,413.6 L613.7,413.7 L614.7,413.7 L615.7,413.7 L616.7,413.7 L617.7,413.7 L618.7,413.7 L619.7,413.7 L620.7,413.7 L621.7,413.7 L622.7,413.7 L623.7,413.7 L624.7,413.8 L625.7,413.8 L626.7,413.8 L627.7,413.8 L628.7,413.8 L629.7,413.8 L630.7,413.8 L631.7,413.8 L632.7,413.9 L633.7,413.9 L634.7,413.9 L635.7,413.9 L636.7,413.9 L637.7,413.9 L638.7,414 L639.7,414 L640.7,414 L641.7,414 L642.7,414 L643.7,414.1 L644.7,414.1 L645.7,414.1 L646.7,414.1 L647.7,414.1 L648.7,414.2 L649.7,414.2 L650.7,414.2 L651.7,414.2 L652.7,414.3 L653.7,414.3 L654.7,414.3 L655.7,414.3 L656.7,414.4 L657.7,414.4 L658.7,414.4 L659.7,414.5 L660.7,414.5 L661.7,414.5 L662.7,414.6 L663.7,414.6 L664.7,414.6 L665.7,414.6 L666.7,414.7 L667.7,414.7 L668.7,414.7 L669.7,414.8 L670.7,414.8 L671.7,414.8 L672.7,414.9 L673.7,414.9 L674.7,414.9 L675.7,415 L676.7,415 L677.7,415 L678.7,415.1 L679.7,415.1 L680.7,415.1 L681.7,415.2 L682.7,415.2 L683.7,415.2 L684.7,415.3 L685.7,415.3 L686.7,415.3 L687.7,415.3 L688.7,415.4 L689.7,415.4 L690.7,415.4 L691.7,415.4 L692.7,415.5 L693.7,415.5 L694.7,415.5 L695.7,415.5 L696.7,415.6 L697.7,415.6 L698.7,415.6 L699.7,415.6 L700.7,415.7 L701.7,415.7 L702.7,415.7 L703.7,415.7 L704.7,415.7 L705.7,415.8 L706.7,415.8 L707.7,415.8 L708.7,415.8 L709.7,415.8 L710.7,415.8 L711.7,415.9 L712.7,415.9 L713.7,415.9 L714.7,415.9 L715.7,415.9 L716.7,415.9 L717.7,415.9 L718.7,415.9 L719.7,416 L720.7,416 L721.7,416 L722.7,416 L723.7,416 L724.7,416 L725.7,416 L726.7,416 L727.7,416 L728.7,416.1 L729.7,416.1 L730.7,416.1 L731.7,416.1 L732.7,416.1 L733.7,416.1 L734.7,416.1 L735.7,416.1 L736.7,416.1 L737.7,416.1 L738.7,416.1 L739.7,416.1 L740.7,416.2 L741.7,416.2 L742.7,416.2 L743.7,416.2 L744.7,416.2 L745.7,416.2 L746.7,416.2 L747.7,416.2 L748.7,416.2 L749.7,416.2 L750.7,416.2 L751.7,416.2 L752.7,416.2 L753.7,416.3 L754.7,416.3 L755.7,416.3 L756.7,416.3 L757.7,416.3 L758.7,416.3 L759.7,416.3 L760.7,416.3 L761.7,416.3 L762.7,416.3 L763.7,416.3 L764.7,416.3 L765.7,416.3 L766.7,416.3 L767.7,416.3 L768.7,416.4 L769.7,416.4 L770.7,416.4 L771.7,416.4 L772.7,416.4 L773.7,416.4 L774.7,416.4 L775.7,416.4 L776.7,416.4 L777.7,416.4 L778.7,416.4 L779.7,416.4 L780.7,416.4 L781.7,416.4 L782.7,416.5 L783.7,416.5 L784.7,416.5 L785.7,416.5 L786.7,416.5 L787.7,416.5 L788.7,416.5 L789.7,416.5 L790.7,416.5 L791.7,416.5 L792.7,416.5 L793.7,416.5 L794.7,416.6 L795.7,416.6 L796.7,416.6 L797.7,416.6 L798.7,416.6 L799.7,416.6 L800.7,416.6 L801.7,416.6 L802.7,416.6 L803.7,416.6 L804.7,416.7 L805.7,416.7 L806.7,416.7 L807.7,416.7 L808.7,416.7 L809.7,416.7 L810.7,416.7 L811.7,416.7 L812.7,416.8 L813.7,416.8 L814.7,416.8 L815.7,416.8 L816.7,416.8 L817.7,416.8 L818.7,416.8 L819.7,416.9 L820.7,416.9 L821.7,416.9 L822.7,416.9 L823.7,416.9 L824.7,417 L825.7,417 L826.7,417 L827.7,417 L828.7,417.1 L829.7,417.1 L830.7,417.1 L831.7,417.2 L832.7,417.2 L833.7,417.2 L834.7,417.3 L835.7,417.3 L836.7,417.3 L837.7,417.4 L838.7,417.4 L839.7,417.5 L840.7,417.5 L841.7,417.6 L842.7,417.6 L843.7,417.7 L844.7,417.7 L845.7,417.8 L846.7,417.9 L847.7,417.9 L848.7,418 L849.7,418.1 L850.7,418.2 L851.7,418.3 L852.7,418.3 L853.7,418.4 L854.7,418.5 L855.7,418.6 L856.7,418.7 L857.7,418.8 L858.7,418.9 L859.7,419 L860.7,419.1 L861.7,419.2 L862.7,419.3 L863.7,419.4 L864.7,419.5 L865.7,419.6 L866.7,419.7 L867.7,419.8 L868.7,419.9 L869.7,420 L870.7,420.1 L871.7,420.2 L872.7,420.3 L873.7,420.4 L874.7,420.5 L875.7,420.6 L876.7,420.7 L877.7,420.8 L878.7,420.9 L879.7,420.9 L880.7,421 L881.7,421.1 L882.7,421.1 L883.7,421.2 L884.7,421.3 L885.7,421.3 L886.7,421.4 L887.7,421.4 L888.7,421.5 L889.7,421.5 L890.7,421.6 L891.7,421.6 L892.7,421.7 L893.7,421.7 L894.7,421.8 L895.7,421.8 L896.7,421.8 L897.7,421.9 L898.7,421.9 L899.7,421.9 L900.7,421.9 L901.7,422 L902.7,422 L903.7,422 L904.7,422 L905.7,422.1 L906.7,422.1 L907.7,422.1 L908.7,422.1 L909.7,422.1 L910.7,422.2 L911.7,422.2 L912.7,422.2 L913.7,422.2 L914.7,422.2 L915.7,422.2 L916.7,422.2 L917.7,422.3 L918.7,422.3 L919.7,422.3 L920.7,422.3 L921.7,422.3 L922.7,422.3 L923.7,422.3 L924.7,422.3 L925.7,422.3 L926.7,422.4 L927.7,422.4 L928.7,422.4 L929.7,422.4 L930.7,422.4 L931.7,422.4 L932.7,422.4 L933.7,422.4 L934.7,422.4 L935.7,422.4 L936.7,422.4 L937.7,422.5 L938.7,422.5 L939.7,422.5 L940.7,422.5 L941.7,422.5 L942.7,422.5 L943.7,422.5 L944.7,422.5 L945.7,422.5 L946.7,422.5 L947.7,422.5 L948.7,422.5 L949.7,422.5 L950.7,422.5 L951.7,422.6 L952.7,422.6 L953.7,422.6 L954.7,422.6 L955.7,422.6 L956.7,422.6 L957.7,422.6 L958.7,422.6 L959.7,422.6 L960.7,422.6 L961.7,422.6 L962.7,422.6 L963.7,422.6 L964.7,422.6 L965.7,422.6 L966.7,422.6 L967.7,422.6 L968.7,422.6 L969.7,422.6 L970.7,422.7 L971.7,422.7 L972.7,422.7 L973.7,422.7 L974.7,422.7 L975.7,422.7 L976.7,422.7 L977.7,422.7 L978.7,422.7 L979.7,422.7 L980.7,422.7 L981.7,422.7 L982.7,422.7 L983.7,422.7 L984.7,422.7 L985.7,422.7 L986.7,422.7 L987.7,422.7 L988.7,422.7 L989.7,422.7 L990.7,422.7 L991.7,422.7 L992.7,422.8 L993.7,422.8 L994.7,422.8 L995.7,422.8 L996.7,422.8 L997.7,422.8 L998.7,422.8 L999.7,422.8 L1000.7,422.8 L1001.7,422.8 L1002.7,422.8 L1003.7,422.8 L1004,422.8" fill="none" stroke="#0000FF" stroke-width="1.8" stroke-linejoin="round" stroke-linecap="round"/>
<path d="M535.7,411.9 L536.7,411.9 L537.7,411.8 L538.7,411.8 L539.7,411.8 L540.7,411.8 L541.7,411.8 L542.7,411.8 L543.7,411.7 L544.7,411.7 L545.7,411.7 L546.7,411.7 L547.7,411.7 L548.7,411.7 L549.7,411.6 L550.7,411.6 L551.7,411.6 L552.7,411.6 L553.7,411.6 L554.7,411.5 L555.7,411.5 L556.7,411.5 L557.7,411.5 L558.7,411.4 L559.7,411.4 L560.7,411.4 L561.7,411.4 L562.7,411.3 L563.7,411.3 L564.7,411.3 L565.7,411.2 L566.7,411.2 L567.7,411.2 L568.7,411.1 L569.7,411.1 L570.7,411.1 L571.7,411 L572.7,411 L573.7,411 L574.7,410.9 L575.7,410.9 L576.7,410.8 L577.7,410.8 L578.7,410.7 L579.7,410.7 L580.7,410.6 L581.7,410.6 L582.7,410.5 L583.7,410.4 L584.7,410.4 L585.7,410.3 L586.7,410.2 L587.7,410.2 L588.7,410.1 L589.7,410 L590.7,409.9 L591.7,409.8 L592.7,409.7 L593.7,409.6 L594.7,409.5 L595.7,409.4 L596.7,409.3 L597.7,409.1 L598.7,409 L599.7,408.9 L600.7,408.7 L601.7,408.5 L602.7,408.4 L603.7,408.2 L604.7,408 L605.7,407.8 L606.7,407.6 L607.7,407.4 L608.7,407.2 L609.7,407 L610.7,406.7 L611.7,406.4 L612.7,406.2 L613.7,405.9 L614.7,405.6 L615.7,405.3 L616.7,405 L617.7,404.6 L618.7,404.3 L619.7,403.9 L620.7,403.5 L621.7,403.1 L622.7,402.7 L623.7,402.3 L624.7,401.8 L625.7,401.4 L626.7,400.9 L627.7,400.4 L628.7,399.9 L629.7,399.4 L630.7,398.8 L631.7,398.3 L632.7,397.7 L633.7,397.1 L634.7,396.5 L635.7,395.9 L636.7,395.2 L637.7,394.6 L638.7,393.9 L639.7,393.3 L640.7,392.6 L641.7,391.9 L642.7,391.2 L643.7,390.5 L644.7,389.8 L645.7,389.1 L646.7,388.4 L647.7,387.7 L648.7,387 L649.7,386.3 L650.7,385.6 L651.7,384.9 L652.7,384.2 L653.7,383.5 L654.7,382.8 L655.7,382.2 L656.7,381.6 L657.7,381 L658.7,380.4 L659.7,379.9 L660.7,379.4 L661.7,378.9 L662.7,378.5 L663.7,378.1 L664.7,377.8 L665.7,377.5 L666.7,377.2 L667.7,377 L668.7,376.9 L669.7,376.8 L670.7,376.8 L671.7,376.8 L672.7,376.9 L673.7,377 L674.7,377.2 L675.7,377.5 L676.7,377.7 L677.7,378.1 L678.7,378.5 L679.7,378.9 L680.7,379.4 L681.7,379.9 L682.7,380.4 L683.7,381 L684.7,381.6 L685.7,382.3 L686.7,382.9 L687.7,383.6 L688.7,384.3 L689.7,385 L690.7,385.7 L691.7,386.4 L692.7,387.2 L693.7,387.9 L694.7,388.6 L695.7,389.4 L696.7,390.1 L697.7,390.8 L698.7,391.6 L699.7,392.3 L700.7,393 L701.7,393.7 L702.7,394.4 L703.7,395.1 L704.7,395.7 L705.7,396.4 L706.7,397 L707.7,397.6 L708.7,398.2 L709.7,398.8 L710.7,399.4 L711.7,400 L712.7,400.5 L713.7,401 L714.7,401.5 L715.7,402 L716.7,402.5 L717.7,403 L718.7,403.4 L719.7,403.8 L720.7,404.2 L721.7,404.6 L722.7,405 L723.7,405.3 L724.7,405.7 L725.7,406 L726.7,406.3 L727.7,406.6 L728.7,406.9 L729.7,407.1 L730.7,407.4 L731.7,407.6 L732.7,407.8 L733.7,408.1 L734.7,408.3 L735.7,408.4 L736.7,408.6 L737.7,408.8 L738.7,408.9 L739.7,409.1 L740.7,409.2 L741.7,409.3 L742.7,409.5 L743.7,409.6 L744.7,409.7 L745.7,409.8 L746.7,409.8 L747.7,409.9 L748.7,410 L749.7,410.1 L750.7,410.1 L751.7,410.2 L752.7,410.2 L753.7,410.2 L754.7,410.3 L755.7,410.3 L756.7,410.3 L757.7,410.3 L758.7,410.4 L759.7,410.4 L760.7,410.4 L761.7,410.4 L762.7,410.4 L763.7,410.4 L764.7,410.3 L765.7,410.3 L766.7,410.3 L767.7,410.3 L768.7,410.2 L769.7,410.2 L770.7,410.2 L771.7,410.1 L772.7,410.1 L773.7,410 L774.7,410 L775.7,409.9 L776.7,409.9 L777.7,409.8 L778.7,409.7 L779.7,409.6 L780.7,409.6 L781.7,409.5 L782.7,409.4 L783.7,409.3 L784.7,409.2 L785.7,409.1 L786.7,409 L787.7,408.8 L788.7,408.7 L789.7,408.6 L790.7,408.4 L791.7,408.3 L792.7,408.1 L793.7,408 L794.7,407.8 L795.7,407.6 L796.7,407.4 L797.7,407.2 L798.7,407 L799.7,406.8 L800.7,406.5 L801.7,406.3 L802.7,406 L803.7,405.7 L804.7,405.4 L805.7,405 L806.7,404.6 L807.7,404.3 L808.7,403.8 L809.7,403.4 L810.7,402.9 L811.7,402.4 L812.7,401.8 L813.7,401.2 L814.7,400.6 L815.7,399.9 L816.7,399.1 L817.7,398.3 L818.7,397.4 L819.7,396.5 L820.7,395.5 L821.7,394.4 L822.7,393.2 L823.7,392 L824.7,390.7 L825.7,389.3 L826.7,387.8 L827.7,386.2 L828.7,384.4 L829.7,382.6 L830.7,380.7 L831.7,378.7 L832.7,376.5 L833.7,374.2 L834.7,371.8 L835.7,369.3 L836.7,366.7 L837.7,364 L838.7,361.1 L839.7,358.1 L840.7,355.1 L841.7,351.9 L842.7,348.6 L843.7,345.2 L844.7,341.8 L845.7,338.3 L846.7,334.7 L847.7,331.1 L848.7,327.5 L849.7,323.9 L850.7,320.3 L851.7,316.7 L852.7,313.3 L853.7,310 L854.7,306.8 L855.7,303.8 L856.7,301 L857.7,298.5 L858.7,296.3 L859.7,294.4 L860.7,292.9 L861.7,291.8 L862.7,291.2 L863.7,290.9 L864.7,291.1 L865.7,291.7 L866.7,292.7 L867.7,294.2 L868.7,296 L869.7,298.2 L870.7,300.7 L871.7,303.5 L872.7,306.6 L873.7,309.8 L874.7,313.3 L875.7,316.8 L876.7,320.5 L877.7,324.2 L878.7,328 L879.7,331.8 L880.7,335.5 L881.7,339.3 L882.7,343 L883.7,346.6 L884.7,350.2 L885.7,353.6 L886.7,357 L887.7,360.3 L888.7,363.4 L889.7,366.5 L890.7,369.4 L891.7,372.2 L892.7,374.9 L893.7,377.4 L894.7,379.9 L895.7,382.2 L896.7,384.4 L897.7,386.5 L898.7,388.4 L899.7,390.3 L900.7,392 L901.7,393.7 L902.7,395.2 L903.7,396.7 L904.7,398 L905.7,399.3 L906.7,400.5 L907.7,401.6 L908.7,402.6 L909.7,403.6 L910.7,404.5 L911.7,405.3 L912.7,406.1 L913.7,406.8 L914.7,407.5 L915.7,408.1 L916.7,408.7 L917.7,409.3 L918.7,409.8 L919.7,410.3 L920.7,410.7 L921.7,411.1 L922.7,411.5 L923.7,411.9 L924.7,412.3 L925.7,412.6 L926.7,412.9 L927.7,413.2 L928.7,413.5 L929.7,413.8 L930.7,414 L931.7,414.3 L932.7,414.5 L933.7,414.7 L934.7,414.9 L935.7,415.1 L936.7,415.3 L937.7,415.5 L938.7,415.7 L939.7,415.8 L940.7,416 L941.7,416.2 L942.7,416.3 L943.7,416.5 L944.7,416.6 L945.7,416.7 L946.7,416.9 L947.7,417 L948.7,417.1 L949.7,417.3 L950.7,417.4 L951.7,417.5 L952.7,417.6 L953.7,417.7 L954.7,417.8 L955.7,417.9 L956.7,418 L957.7,418.1 L958.7,418.2 L959.7,418.3 L960.7,418.4 L961.7,418.4 L962.7,418.5 L963.7,418.6 L964.7,418.7 L965.7,418.8 L966.7,418.8 L967.7,418.9 L968.7,419 L969.7,419 L970.7,419.1 L971.7,419.2 L972.7,419.2 L973.7,419.3 L974.7,419.4 L975.7,419.4 L976.7,419.5 L977.7,419.5 L978.7,419.6 L979.7,419.6 L980.7,419.7 L981.7,419.7 L982.7,419.8 L983.7,419.8 L984.7,419.9 L985.7,419.9 L986.7,420 L987.7,420 L988.7,420.1 L989.7,420.1 L990.7,420.2 L991.7,420.2 L992.7,420.2 L993.7,420.3 L994.7,420.3 L995.7,420.4 L996.7,420.4 L997.7,420.4 L998.7,420.5 L999.7,420.5 L1000.7,420.5 L1001.7,420.6 L1002.7,420.6 L1003.7,420.6 L1004,420.7" fill="none" stroke="#FF0000" stroke-width="1.8" stroke-linejoin="round" stroke-linecap="round"/>
<path d="M535.7,412.2 L536.7,412.2 L537.7,412.2 L538.7,412.2 L539.7,412.2 L540.7,412.2 L541.7,412.2 L542.7,412.1 L543.7,412.1 L544.7,412.1 L545.7,412.1 L546.7,412.1 L547.7,412.1 L548.7,412 L549.7,412 L550.7,412 L551.7,412 L552.7,412 L553.7,412 L554.7,411.9 L555.7,411.9 L556.7,411.9 L557.7,411.9 L558.7,411.9 L559.7,411.8 L560.7,411.8 L561.7,411.8 L562.7,411.8 L563.7,411.7 L564.7,411.7 L565.7,411.7 L566.7,411.7 L567.7,411.6 L568.7,411.6 L569.7,411.6 L570.7,411.5 L571.7,411.5 L572.7,411.5 L573.7,411.4 L574.7,411.4 L575.7,411.3 L576.7,411.3 L577.7,411.3 L578.7,411.2 L579.7,411.2 L580.7,411.1 L581.7,411.1 L582.7,411 L583.7,410.9 L584.7,410.9 L585.7,410.8 L586.7,410.7 L587.7,410.7 L588.7,410.6 L589.7,410.5 L590.7,410.4 L591.7,410.3 L592.7,410.2 L593.7,410.1 L594.7,410 L595.7,409.9 L596.7,409.8 L597.7,409.7 L598.7,409.6 L599.7,409.4 L600.7,409.3 L601.7,409.1 L602.7,409 L603.7,408.8 L604.7,408.6 L605.7,408.4 L606.7,408.2 L607.7,408 L608.7,407.8 L609.7,407.6 L610.7,407.3 L611.7,407.1 L612.7,406.8 L613.7,406.5 L614.7,406.2 L615.7,405.9 L616.7,405.6 L617.7,405.3 L618.7,404.9 L619.7,404.6 L620.7,404.2 L621.7,403.8 L622.7,403.4 L623.7,402.9 L624.7,402.5 L625.7,402.1 L626.7,401.6 L627.7,401.1 L628.7,400.6 L629.7,400.1 L630.7,399.5 L631.7,399 L632.7,398.4 L633.7,397.8 L634.7,397.2 L635.7,396.6 L636.7,396 L637.7,395.4 L638.7,394.7 L639.7,394.1 L640.7,393.4 L641.7,392.7 L642.7,392 L643.7,391.3 L644.7,390.6 L645.7,389.9 L646.7,389.2 L647.7,388.5 L648.7,387.8 L649.7,387.1 L650.7,386.4 L651.7,385.7 L652.7,385 L653.7,384.4 L654.7,383.7 L655.7,383.1 L656.7,382.5 L657.7,381.9 L658.7,381.3 L659.7,380.8 L660.7,380.3 L661.7,379.9 L662.7,379.4 L663.7,379.1 L664.7,378.7 L665.7,378.5 L666.7,378.2 L667.7,378 L668.7,377.9 L669.7,377.8 L670.7,377.8 L671.7,377.9 L672.7,377.9 L673.7,378.1 L674.7,378.3 L675.7,378.5 L676.7,378.9 L677.7,379.2 L678.7,379.6 L679.7,380.1 L680.7,380.5 L681.7,381.1 L682.7,381.6 L683.7,382.2 L684.7,382.8 L685.7,383.5 L686.7,384.2 L687.7,384.8 L688.7,385.6 L689.7,386.3 L690.7,387 L691.7,387.7 L692.7,388.5 L693.7,389.2 L694.7,390 L695.7,390.8 L696.7,391.5 L697.7,392.2 L698.7,393 L699.7,393.7 L700.7,394.4 L701.7,395.2 L702.7,395.9 L703.7,396.6 L704.7,397.2 L705.7,397.9 L706.7,398.6 L707.7,399.2 L708.7,399.8 L709.7,400.5 L710.7,401 L711.7,401.6 L712.7,402.2 L713.7,402.7 L714.7,403.3 L715.7,403.8 L716.7,404.3 L717.7,404.7 L718.7,405.2 L719.7,405.7 L720.7,406.1 L721.7,406.5 L722.7,406.9 L723.7,407.3 L724.7,407.6 L725.7,408 L726.7,408.3 L727.7,408.7 L728.7,409 L729.7,409.3 L730.7,409.5 L731.7,409.8 L732.7,410.1 L733.7,410.3 L734.7,410.5 L735.7,410.8 L736.7,411 L737.7,411.2 L738.7,411.4 L739.7,411.6 L740.7,411.7 L741.7,411.9 L742.7,412.1 L743.7,412.2 L744.7,412.3 L745.7,412.5 L746.7,412.6 L747.7,412.7 L748.7,412.8 L749.7,413 L750.7,413.1 L751.7,413.2 L752.7,413.3 L753.7,413.4 L754.7,413.4 L755.7,413.5 L756.7,413.6 L757.7,413.7 L758.7,413.8 L759.7,413.8 L760.7,413.9 L761.7,414 L762.7,414 L763.7,414.1 L764.7,414.1 L765.7,414.2 L766.7,414.2 L767.7,414.3 L768.7,414.3 L769.7,414.4 L770.7,414.4 L771.7,414.5 L772.7,414.5 L773.7,414.6 L774.7,414.6 L775.7,414.7 L776.7,414.7 L777.7,414.7 L778.7,414.8 L779.7,414.8 L780.7,414.8 L781.7,414.9 L782.7,414.9 L783.7,414.9 L784.7,415 L785.7,415 L786.7,415 L787.7,415.1 L788.7,415.1 L789.7,415.1 L790.7,415.2 L791.7,415.2 L792.7,415.2 L793.7,415.3 L794.7,415.3 L795.7,415.3 L796.7,415.3 L797.7,415.4 L798.7,415.4 L799.7,415.4 L800.7,415.4 L801.7,415.5 L802.7,415.5 L803.7,415.5 L804.7,415.6 L805.7,415.6 L806.7,415.6 L807.7,415.6 L808.7,415.7 L809.7,415.7 L810.7,415.7 L811.7,415.7 L812.7,415.8 L813.7,415.8 L814.7,415.8 L815.7,415.9 L816.7,415.9 L817.7,415.9 L818.7,415.9 L819.7,416 L820.7,416 L821.7,416 L822.7,416.1 L823.7,416.1 L824.7,416.1 L825.7,416.2 L826.7,416.2 L827.7,416.2 L828.7,416.3 L829.7,416.3 L830.7,416.3 L831.7,416.4 L832.7,416.4 L833.7,416.5 L834.7,416.5 L835.7,416.6 L836.7,416.6 L837.7,416.7 L838.7,416.7 L839.7,416.8 L840.7,416.8 L841.7,416.9 L842.7,416.9 L843.7,417 L844.7,417.1 L845.7,417.2 L846.7,417.2 L847.7,417.3 L848.7,417.4 L849.7,417.5 L850.7,417.5 L851.7,417.6 L852.7,417.7 L853.7,417.8 L854.7,417.9 L855.7,418 L856.7,418.1 L857.7,418.2 L858.7,418.3 L859.7,418.4 L860.7,418.5 L861.7,418.6 L862.7,418.8 L863.7,418.9 L864.7,419 L865.7,419.1 L866.7,419.2 L867.7,419.3 L868.7,419.4 L869.7,419.5 L870.7,419.6 L871.7,419.7 L872.7,419.8 L873.7,419.9 L874.7,420 L875.7,420.1 L876.7,420.2 L877.7,420.3 L878.7,420.4 L879.7,420.5 L880.7,420.5 L881.7,420.6 L882.7,420.7 L883.7,420.8 L884.7,420.8 L885.7,420.9 L886.7,421 L887.7,421 L888.7,421.1 L889.7,421.1 L890.7,421.2 L891.7,421.2 L892.7,421.3 L893.7,421.3 L894.7,421.3 L895.7,421.4 L896.7,421.4 L897.7,421.5 L898.7,421.5 L899.7,421.5 L900.7,421.6 L901.7,421.6 L902.7,421.6 L903.7,421.6 L904.7,421.7 L905.7,421.7 L906.7,421.7 L907.7,421.7 L908.7,421.8 L909.7,421.8 L910.7,421.8 L911.7,421.8 L912.7,421.8 L913.7,421.9 L914.7,421.9 L915.7,421.9 L916.7,421.9 L917.7,421.9 L918.7,421.9 L919.7,422 L920.7,422 L921.7,422 L922.7,422 L923.7,422 L924.7,422 L925.7,422 L926.7,422 L927.7,422.1 L928.7,422.1 L929.7,422.1 L930.7,422.1 L931.7,422.1 L932.7,422.1 L933.7,422.1 L934.7,422.1 L935.7,422.1 L936.7,422.2 L937.7,422.2 L938.7,422.2 L939.7,422.2 L940.7,422.2 L941.7,422.2 L942.7,422.2 L943.7,422.2 L944.7,422.2 L945.7,422.2 L946.7,422.2 L947.7,422.3 L948.7,422.3 L949.7,422.3 L950.7,422.3 L951.7,422.3 L952.7,422.3 L953.7,422.3 L954.7,422.3 L955.7,422.3 L956.7,422.3 L957.7,422.3 L958.7,422.3 L959.7,422.4 L960.7,422.4 L961.7,422.4 L962.7,422.4 L963.7,422.4 L964.7,422.4 L965.7,422.4 L966.7,422.4 L967.7,422.4 L968.7,422.4 L969.7,422.4 L970.7,422.4 L971.7,422.4 L972.7,422.4 L973.7,422.4 L974.7,422.5 L975.7,422.5 L976.7,422.5 L977.7,422.5 L978.7,422.5 L979.7,422.5 L980.7,422.5 L981.7,422.5 L982.7,422.5 L983.7,422.5 L984.7,422.5 L985.7,422.5 L986.7,422.5 L987.7,422.5 L988.7,422.5 L989.7,422.5 L990.7,422.5 L991.7,422.5 L992.7,422.6 L993.7,422.6 L994.7,422.6 L995.7,422.6 L996.7,422.6 L997.7,422.6 L998.7,422.6 L999.7,422.6 L1000.7,422.6 L1001.7,422.6 L1002.7,422.6 L1003.7,422.6 L1004,422.6" fill="none" stroke="#FF00FF" stroke-width="1.9" stroke-linejoin="round" stroke-linecap="round"/>
<path d="M535.7,412.9 L536.7,412.9 L537.7,412.9 L538.7,412.9 L539.7,412.9 L540.7,412.9 L541.7,412.9 L542.7,412.9 L543.7,412.9 L544.7,412.9 L545.7,412.9 L546.7,412.9 L547.7,412.9 L548.7,412.9 L549.7,412.9 L550.7,413 L551.7,413 L552.7,413 L553.7,413 L554.7,413 L555.7,413 L556.7,413 L557.7,413 L558.7,413 L559.7,413 L560.7,413 L561.7,413 L562.7,413 L563.7,413 L564.7,413 L565.7,413 L566.7,413 L567.7,413 L568.7,413 L569.7,413 L570.7,413 L571.7,413 L572.7,413 L573.7,413 L574.7,413 L575.7,413 L576.7,413 L577.7,413 L578.7,413 L579.7,413 L580.7,413 L581.7,413 L582.7,413 L583.7,413 L584.7,413 L585.7,413 L586.7,413 L587.7,413 L588.7,413 L589.7,413 L590.7,413 L591.7,413 L592.7,413 L593.7,413 L594.7,413 L595.7,413 L596.7,413 L597.7,413 L598.7,413 L599.7,413 L600.7,413 L601.7,413 L602.7,413 L603.7,413 L604.7,413 L605.7,413 L606.7,413 L607.7,413 L608.7,413 L609.7,413 L610.7,413 L611.7,413 L612.7,413 L613.7,413 L614.7,413 L615.7,413 L616.7,413 L617.7,413 L618.7,413 L619.7,413.1 L620.7,413.1 L621.7,413.1 L622.7,413.1 L623.7,413.1 L624.7,413.1 L625.7,413.1 L626.7,413.1 L627.7,413.1 L628.7,413.1 L629.7,413.1 L630.7,413.1 L631.7,413.1 L632.7,413.1 L633.7,413.1 L634.7,413.2 L635.7,413.2 L636.7,413.2 L637.7,413.2 L638.7,413.2 L639.7,413.2 L640.7,413.2 L641.7,413.2 L642.7,413.2 L643.7,413.3 L644.7,413.3 L645.7,413.3 L646.7,413.3 L647.7,413.3 L648.7,413.3 L649.7,413.3 L650.7,413.4 L651.7,413.4 L652.7,413.4 L653.7,413.4 L654.7,413.4 L655.7,413.5 L656.7,413.5 L657.7,413.5 L658.7,413.5 L659.7,413.5 L660.7,413.6 L661.7,413.6 L662.7,413.6 L663.7,413.6 L664.7,413.6 L665.7,413.7 L666.7,413.7 L667.7,413.7 L668.7,413.7 L669.7,413.8 L670.7,413.8 L671.7,413.8 L672.7,413.8 L673.7,413.8 L674.7,413.9 L675.7,413.9 L676.7,413.9 L677.7,413.9 L678.7,413.9 L679.7,414 L680.7,414 L681.7,414 L682.7,414 L683.7,414 L684.7,414 L685.7,414.1 L686.7,414.1 L687.7,414.1 L688.7,414.1 L689.7,414.1 L690.7,414.1 L691.7,414.1 L692.7,414.2 L693.7,414.2 L694.7,414.2 L695.7,414.2 L696.7,414.2 L697.7,414.2 L698.7,414.2 L699.7,414.2 L700.7,414.2 L701.7,414.2 L702.7,414.2 L703.7,414.2 L704.7,414.2 L705.7,414.2 L706.7,414.2 L707.7,414.2 L708.7,414.2 L709.7,414.2 L710.7,414.2 L711.7,414.2 L712.7,414.2 L713.7,414.2 L714.7,414.2 L715.7,414.2 L716.7,414.1 L717.7,414.1 L718.7,414.1 L719.7,414.1 L720.7,414.1 L721.7,414.1 L722.7,414.1 L723.7,414.1 L724.7,414 L725.7,414 L726.7,414 L727.7,414 L728.7,414 L729.7,413.9 L730.7,413.9 L731.7,413.9 L732.7,413.9 L733.7,413.8 L734.7,413.8 L735.7,413.8 L736.7,413.8 L737.7,413.7 L738.7,413.7 L739.7,413.7 L740.7,413.7 L741.7,413.6 L742.7,413.6 L743.7,413.6 L744.7,413.5 L745.7,413.5 L746.7,413.4 L747.7,413.4 L748.7,413.4 L749.7,413.3 L750.7,413.3 L751.7,413.2 L752.7,413.2 L753.7,413.1 L754.7,413.1 L755.7,413 L756.7,413 L757.7,412.9 L758.7,412.9 L759.7,412.8 L760.7,412.8 L761.7,412.7 L762.7,412.7 L763.7,412.6 L764.7,412.5 L765.7,412.5 L766.7,412.4 L767.7,412.3 L768.7,412.3 L769.7,412.2 L770.7,412.1 L771.7,412 L772.7,411.9 L773.7,411.8 L774.7,411.8 L775.7,411.7 L776.7,411.6 L777.7,411.5 L778.7,411.4 L779.7,411.3 L780.7,411.2 L781.7,411 L782.7,410.9 L783.7,410.8 L784.7,410.7 L785.7,410.5 L786.7,410.4 L787.7,410.3 L788.7,410.1 L789.7,410 L790.7,409.8 L791.7,409.6 L792.7,409.5 L793.7,409.3 L794.7,409.1 L795.7,408.9 L796.7,408.7 L797.7,408.4 L798.7,408.2 L799.7,407.9 L800.7,407.7 L801.7,407.4 L802.7,407.1 L803.7,406.8 L804.7,406.5 L805.7,406.1 L806.7,405.7 L807.7,405.3 L808.7,404.9 L809.7,404.4 L810.7,403.9 L811.7,403.4 L812.7,402.8 L813.7,402.2 L814.7,401.5 L815.7,400.8 L816.7,400 L817.7,399.2 L818.7,398.3 L819.7,397.4 L820.7,396.4 L821.7,395.3 L822.7,394.1 L823.7,392.9 L824.7,391.5 L825.7,390.1 L826.7,388.6 L827.7,387 L828.7,385.2 L829.7,383.4 L830.7,381.5 L831.7,379.4 L832.7,377.3 L833.7,375 L834.7,372.6 L835.7,370.1 L836.7,367.4 L837.7,364.7 L838.7,361.8 L839.7,358.8 L840.7,355.8 L841.7,352.6 L842.7,349.3 L843.7,345.9 L844.7,342.5 L845.7,338.9 L846.7,335.4 L847.7,331.8 L848.7,328.1 L849.7,324.5 L850.7,320.9 L851.7,317.4 L852.7,313.9 L853.7,310.6 L854.7,307.4 L855.7,304.4 L856.7,301.6 L857.7,299.1 L858.7,296.9 L859.7,295 L860.7,293.5 L861.7,292.4 L862.7,291.7 L863.7,291.4 L864.7,291.6 L865.7,292.2 L866.7,293.3 L867.7,294.7 L868.7,296.5 L869.7,298.7 L870.7,301.2 L871.7,304 L872.7,307.1 L873.7,310.3 L874.7,313.7 L875.7,317.3 L876.7,321 L877.7,324.7 L878.7,328.4 L879.7,332.2 L880.7,336 L881.7,339.7 L882.7,343.4 L883.7,347.1 L884.7,350.6 L885.7,354.1 L886.7,357.4 L887.7,360.7 L888.7,363.9 L889.7,366.9 L890.7,369.8 L891.7,372.6 L892.7,375.3 L893.7,377.8 L894.7,380.3 L895.7,382.6 L896.7,384.8 L897.7,386.9 L898.7,388.8 L899.7,390.7 L900.7,392.4 L901.7,394 L902.7,395.6 L903.7,397 L904.7,398.4 L905.7,399.6 L906.7,400.8 L907.7,401.9 L908.7,403 L909.7,403.9 L910.7,404.8 L911.7,405.7 L912.7,406.4 L913.7,407.2 L914.7,407.8 L915.7,408.5 L916.7,409.1 L917.7,409.6 L918.7,410.1 L919.7,410.6 L920.7,411 L921.7,411.5 L922.7,411.9 L923.7,412.2 L924.7,412.6 L925.7,412.9 L926.7,413.2 L927.7,413.5 L928.7,413.8 L929.7,414.1 L930.7,414.3 L931.7,414.6 L932.7,414.8 L933.7,415 L934.7,415.2 L935.7,415.4 L936.7,415.6 L937.7,415.8 L938.7,416 L939.7,416.1 L940.7,416.3 L941.7,416.5 L942.7,416.6 L943.7,416.7 L944.7,416.9 L945.7,417 L946.7,417.2 L947.7,417.3 L948.7,417.4 L949.7,417.5 L950.7,417.6 L951.7,417.7 L952.7,417.9 L953.7,418 L954.7,418.1 L955.7,418.2 L956.7,418.3 L957.7,418.3 L958.7,418.4 L959.7,418.5 L960.7,418.6 L961.7,418.7 L962.7,418.8 L963.7,418.8 L964.7,418.9 L965.7,419 L966.7,419.1 L967.7,419.1 L968.7,419.2 L969.7,419.3 L970.7,419.3 L971.7,419.4 L972.7,419.5 L973.7,419.5 L974.7,419.6 L975.7,419.6 L976.7,419.7 L977.7,419.8 L978.7,419.8 L979.7,419.9 L980.7,419.9 L981.7,420 L982.7,420 L983.7,420.1 L984.7,420.1 L985.7,420.2 L986.7,420.2 L987.7,420.2 L988.7,420.3 L989.7,420.3 L990.7,420.4 L991.7,420.4 L992.7,420.4 L993.7,420.5 L994.7,420.5 L995.7,420.6 L996.7,420.6 L997.7,420.6 L998.7,420.7 L999.7,420.7 L1000.7,420.7 L1001.7,420.8 L1002.7,420.8 L1003.7,420.8 L1004,420.8" fill="none" stroke="#008080" stroke-width="2.6" stroke-linejoin="round" stroke-linecap="round"/>
<line x1="670.9" y1="73" x2="670.9" y2="440" stroke="#222" stroke-width="1.1" stroke-dasharray="1.2,1.3"/>
<line x1="863.5" y1="11" x2="863.5" y2="437.5" stroke="#222" stroke-width="1.1" stroke-dasharray="1.2,1.3"/>
<line x1="535.2" y1="446.5" x2="535.2" y2="7" stroke="#333" stroke-width="1.3"/>
<line x1="535.2" y1="7" x2="1005" y2="7" stroke="#333" stroke-width="1.3"/>
<line x1="534.5" y1="446.5" x2="1005.2" y2="446.5" stroke="#222" stroke-width="1.5"/>
<line x1="1005" y1="7" x2="1005" y2="451" stroke="#aaa" stroke-width="1.2"/>
<line x1="1005" y1="135" x2="1005" y2="313" stroke="#222" stroke-width="1"/>
<line x1="535.2" y1="446.5" x2="535.2" y2="451" stroke="#222" stroke-width="1.4"/>
<line x1="602.4" y1="446.5" x2="602.4" y2="451" stroke="#222" stroke-width="1.4"/>
<line x1="669.5" y1="446.5" x2="669.5" y2="451" stroke="#222" stroke-width="1.4"/>
<line x1="736.5" y1="446.5" x2="736.5" y2="451" stroke="#222" stroke-width="1.4"/>
<line x1="803.6" y1="446.5" x2="803.6" y2="451" stroke="#222" stroke-width="1.4"/>
<line x1="870.8" y1="446.5" x2="870.8" y2="451" stroke="#222" stroke-width="1.4"/>
<line x1="937.8" y1="446.5" x2="937.8" y2="451" stroke="#222" stroke-width="1.4"/>
<line x1="1004.9" y1="446.5" x2="1004.9" y2="451" stroke="#222" stroke-width="1.4"/>
<line x1="568.8" y1="446.5" x2="568.8" y2="449.5" stroke="#222" stroke-width="1.4"/>
<line x1="635.9" y1="446.5" x2="635.9" y2="449.5" stroke="#222" stroke-width="1.4"/>
<line x1="703" y1="446.5" x2="703" y2="449.5" stroke="#222" stroke-width="1.4"/>
<line x1="770.1" y1="446.5" x2="770.1" y2="449.5" stroke="#222" stroke-width="1.4"/>
<line x1="837.2" y1="446.5" x2="837.2" y2="449.5" stroke="#222" stroke-width="1.4"/>
<line x1="904.3" y1="446.5" x2="904.3" y2="449.5" stroke="#222" stroke-width="1.4"/>
<line x1="971.4" y1="446.5" x2="971.4" y2="449.5" stroke="#222" stroke-width="1.4"/>
<text x="535.2" y="464.6" font-family='"Liberation Sans", sans-serif' font-size="13.6" fill="#000" text-anchor="middle" >468</text>
<text x="602.4" y="464.6" font-family='"Liberation Sans", sans-serif' font-size="13.6" fill="#000" text-anchor="middle" >466</text>
<text x="669.5" y="464.6" font-family='"Liberation Sans", sans-serif' font-size="13.6" fill="#000" text-anchor="middle" >464</text>
<text x="736.5" y="464.6" font-family='"Liberation Sans", sans-serif' font-size="13.6" fill="#000" text-anchor="middle" >462</text>
<text x="803.6" y="464.6" font-family='"Liberation Sans", sans-serif' font-size="13.6" fill="#000" text-anchor="middle" >460</text>
<text x="870.8" y="464.6" font-family='"Liberation Sans", sans-serif' font-size="13.6" fill="#000" text-anchor="middle" >458</text>
<text x="937.8" y="464.6" font-family='"Liberation Sans", sans-serif' font-size="13.6" fill="#000" text-anchor="middle" >456</text>
<text x="1004.9" y="464.6" font-family='"Liberation Sans", sans-serif' font-size="13.6" fill="#000" text-anchor="middle" >454</text>
<text x="770.3" y="480" font-family='"Liberation Serif", serif' font-size="15.8" fill="#000" text-anchor="middle" >Binding energy (eV)</text>
<text x="537" y="28.1" font-family='"Liberation Serif", serif' font-size="21.5" fill="#000" text-anchor="start" >(b) Ti 2p</text>
<text x="537.5" y="116.7" font-family='"Liberation Serif", serif' font-size="17.5" fill="#000" text-anchor="start" >Ti<tspan font-size="10.5" dy="4">70</tspan><tspan dy="-4">Zr</tspan><tspan font-size="10.5" dy="4">10</tspan><tspan dy="-4">Co</tspan><tspan font-size="10.5" dy="4">20</tspan></text>
<text x="537.5" y="260.6" font-family='"Liberation Serif", serif' font-size="17.5" fill="#000" text-anchor="start" >Ti<tspan font-size="10.5" dy="4">60</tspan><tspan dy="-4">Zr</tspan><tspan font-size="10.5" dy="4">10</tspan><tspan dy="-4">Co</tspan><tspan font-size="10.5" dy="4">30</tspan></text>
<text x="537.5" y="397.4" font-family='"Liberation Serif", serif' font-size="17.5" fill="#000" text-anchor="start" >Ti<tspan font-size="10.5" dy="4">50</tspan><tspan dy="-4">Zr</tspan><tspan font-size="10.5" dy="4">10</tspan><tspan dy="-4">Co</tspan><tspan font-size="10.5" dy="4">40</tspan></text>
<text x="676.3" y="44.8" font-family='"Liberation Serif", serif' font-size="18" fill="#000" text-anchor="start" >TiO<tspan font-size="9.5" dy="6.5">2</tspan></text>
<text x="658.3" y="72.5" font-family='"Liberation Serif", serif' font-size="17.5" fill="#000" text-anchor="start" >2p<tspan font-size="9.5" dy="7">1/2</tspan><tspan dy="-7"> 463.9</tspan></text>
<text x="794.7" y="26.4" font-family='"Liberation Serif", serif' font-size="18" fill="#000" text-anchor="start" >TiO<tspan font-size="9.5" dy="6.5">2</tspan></text>
<text x="776.7" y="54.2" font-family='"Liberation Serif", serif' font-size="17.5" fill="#000" text-anchor="start" >2p<tspan font-size="9.5" dy="7">3/2</tspan><tspan dy="-7"> 458.2</tspan></text>
<path d="M279,632.3 L281,630.2 L282.9,629.3 L284.9,631 L286.8,632.2 L288.8,636.7 L290.8,640.3 L292.7,636.8 L294.7,636.2 L296.6,639.3 L298.6,640.2 L300.6,639 L302.5,637 L304.5,639 L306.4,639.8 L308.4,635.5 L310.4,634.7 L312.3,631.8 L314.3,631.6 L316.2,631.7 L318.2,634.5 L320.2,634.4 L322.1,637.9 L324.1,639.4 L326,637.4 L328,633 L330,636.1 L331.9,637.9 L333.9,636.1 L335.8,631.8 L337.8,632.4 L339.8,631.9 L341.7,633.5 L343.7,637.5 L345.6,635.1 L347.6,636.9 L349.6,639.4 L351.5,637 L353.5,636.9 L355.4,636.7 L357.4,634.8 L359.4,631.9 L361.3,635.2 L363.3,637.7 L365.2,633.4 L367.2,636.7 L369.2,635.1 L371.1,632.9 L373.1,636.5 L375,632.5 L377,626.4 L379,627.4 L380.9,627.5 L382.9,624.4 L384.8,623 L386.8,619.6 L388.8,618.7 L390.7,616.6 L392.7,608.9 L394.6,605 L396.6,600 L398.6,595.4 L400.5,588.6 L402.5,585.2 L404.4,583.2 L406.4,581.8 L408.4,576.7 L410.3,566.5 L412.3,563.6 L414.2,563.1 L416.2,557.4 L418.2,559.5 L420.1,563.6 L422.1,568.3 L424,568.9 L426,568 L428,569.8 L429.9,574.7 L431.9,582 L433.8,583.2 L435.8,587.2 L437.8,592.8 L439.7,595.6 L441.7,597.2 L443.6,598 L445.6,602.4 L447.6,606.2 L449.5,612.8 L451.5,615.4 L453.4,616.8 L455.4,619.8 L457.4,620.8 L459.3,623.9 L461.3,622.9 L463.2,621.5 L465.2,617.3 L467.2,617.8 L469.1,613.2 L471.1,611.7 L473,614.8 L475,614.1 L477,615.9 L478.9,616.9 L480.9,607.8 L482.8,603.7 L484.8,603.1 L486.8,600.1 L488.7,594.1 L490.7,589.1 L492.6,586 L494.6,579.8 L496.6,571.1 L498.5,566.7 L500.5,560.5 L502.4,551.9 L504.4,546.4 L506.4,539.1 L508.3,537 L510.3,533.1 L512.2,530.4 L514.2,529.1 L516.2,529.7 L518.1,528.3 L520.1,533.9 L522,541.7 L524,545.2 L526,556 L527.9,560.2 L529.9,569.5 L531.8,573.9 L533.8,581.4 L535.8,584.9 L537.7,587.6 L539.7,599.4 L541.6,606.5 L543.6,608 L545.6,611.4 L547.5,615 L549.5,617.8 L551.4,623.4 L553.4,622.5 L555.4,622.7 L557.3,621.9 L559.3,622.1 L561.2,623.5 L563.2,629.9 L565.2,630.8 L567.1,633.2 L569.1,631.9 L571,629.9 L573,630.2 L575,630.6 L576.9,632.3 L578.9,632.7 L580.8,632.4 L582.8,630.2 L584.8,632.5 L586.7,637.2 L588.7,632.6 L590.6,631.1 L592.6,635.9 L594.6,638.5 L596.5,633.6 L598.5,634.5 L600.4,633.4 L602.4,632 L604.4,636.9 L606.3,637.1 L608.3,636.5 L610.2,635.5 L612.2,636.6 L614.2,634.2 L616.1,632.5 L618.1,629.6 L620,630.5 L622,636 L624,634.2 L625.9,634.6 L627.9,633.7 L629.8,631.7 L631.8,631.6 L633.8,633.3 L635.7,631.6 L637.7,631.2 L639.6,632.3 L641.6,634.8 L643.6,634.2 L645.5,632.7 L647.5,629.7 L649.4,629 L651.4,634.5 L653.4,635.6 L655.3,633.6 L657.3,635.3 L659.2,637.3 L661.2,638.4 L663.2,637.9 L665.1,636 L667.1,637.6 L669,633.6 L671,636.8 L673,638 L674.9,639.7 L676.9,642.3 L678.8,640 L680.8,632.6 L682.8,631.2 L684.7,636 L686.7,634 L688.6,635.7 L690.6,636.2 L692.6,629.5 L694.5,628 L696.5,633.8 L698.4,635.3 L700.4,634.9 L702.4,634.7 L704.3,632.1 L706.3,630.8 L708.2,633.1 L710.2,631.8 L712.2,631.8 L714.1,637.2 L716.1,638.3 L718,638.3 L720,635.1 L722,634.2 L723.9,633.5 L725.9,634.6 L727.8,637.4 L729.8,637.5 L731.8,640.6 L733.7,643.6 L735.7,645.8 L737.6,640.2 L739.6,642.3 L741.6,640.7 L743.5,637.9 L745.5,634.2 L747.4,636.4" fill="none" stroke="#000" stroke-width="2.0" stroke-linejoin="round" stroke-linecap="round"/>
<path d="M317.6,641 L318.6,641 L319.6,641 L320.6,641 L321.6,641 L322.6,641 L323.6,641 L324.6,641 L325.6,641 L326.6,641 L327.6,641 L328.6,641 L329.6,641 L330.6,641 L331.6,641 L332.6,641 L333.6,641 L334.6,641 L335.6,641 L336.6,641 L337.6,641 L338.6,641 L339.6,641 L340.6,641 L341.6,641 L342.6,641 L343.6,641 L344.6,641 L345.6,641 L346.6,641.1 L347.6,641.1 L348.6,641.1 L349.6,641.1 L350.6,641.1 L351.6,641.1 L352.6,641.1 L353.6,641.1 L354.6,641.1 L355.6,641.1 L356.6,641.1 L357.6,641.1 L358.6,641.1 L359.6,641.1 L360.6,641.1 L361.6,641.1 L362.6,641.1 L363.6,641.1 L364.6,641.1 L365.6,641.1 L366.6,641.1 L367.6,641.1 L368.6,641.1 L369.6,641.1 L370.6,641.1 L371.6,641.1 L372.6,641.1 L373.6,641.1 L374.6,641.1 L375.6,641.1 L376.6,641.1 L377.6,641.1 L378.6,641.1 L379.6,641.1 L380.6,641.1 L381.6,641.1 L382.6,641.1 L383.6,641.1 L384.6,641.1 L385.6,641.1 L386.6,641.1 L387.6,641.1 L388.6,641.1 L389.6,641.1 L390.6,641.1 L391.6,641.1 L392.6,641.1 L393.6,641.1 L394.6,641.1 L395.6,641.2 L396.6,641.2 L397.6,641.2 L398.6,641.2 L399.6,641.2 L400.6,641.2 L401.6,641.2 L402.6,641.2 L403.6,641.2 L404.6,641.2 L405.6,641.2 L406.6,641.2 L407.6,641.2 L408.6,641.2 L409.6,641.2 L410.6,641.2 L411.6,641.2 L412.6,641.2 L413.6,641.2 L414.6,641.2 L415.6,641.2 L416.6,641.2 L417.6,641.2 L418.6,641.2 L419.6,641.2 L420.6,641.2 L421.6,641.2 L422.6,641.2 L423.6,641.2 L424.6,641.3 L425.6,641.3 L426.6,641.3 L427.6,641.3 L428.6,641.3 L429.6,641.3 L430.6,641.3 L431.6,641.3 L432.6,641.3 L433.6,641.3 L434.6,641.3 L435.6,641.3 L436.6,641.3 L437.6,641.3 L438.6,641.3 L439.6,641.3 L440.6,641.3 L441.6,641.3 L442.6,641.3 L443.6,641.3 L444.6,641.3 L445.6,641.3 L446.6,641.3 L447.6,641.3 L448.6,641.3 L449.6,641.3 L450.6,641.3 L451.6,641.3 L452.6,641.3 L453.6,641.3 L454.6,641.3 L455.6,641.3 L456.6,641.3 L457.6,641.4 L458.6,641.4 L459.6,641.4 L460.6,641.4 L461.6,641.4 L462.6,641.4 L463.6,641.4 L464.6,641.4 L465.6,641.4 L466.6,641.4 L467.6,641.4 L468.6,641.4 L469.6,641.4 L470.6,641.4 L471.6,641.4 L472.6,641.4 L473.6,641.4 L474.6,641.4 L475.6,641.4 L476.6,641.4 L477.6,641.4 L478.6,641.4 L479.6,641.4 L480.6,641.4 L481.6,641.4 L482.6,641.4 L483.6,641.4 L484.6,641.4 L485.6,641.4 L486.6,641.4 L487.6,641.4 L488.6,641.4 L489.6,641.4 L490.6,641.4 L491.6,641.4 L492.6,641.4 L493.6,641.4 L494.6,641.4 L495.6,641.4 L496.6,641.5 L497.6,641.5 L498.6,641.5 L499.6,641.5 L500.6,641.5 L501.6,641.5 L502.6,641.5 L503.6,641.5 L504.6,641.5 L505.6,641.5 L506.6,641.5 L507.6,641.5 L508.6,641.5 L509.6,641.5 L510.6,641.5 L511.6,641.5 L512.6,641.5 L513.6,641.5 L514.6,641.5 L515.6,641.5 L516.6,641.5 L517.6,641.5 L518.6,641.5 L519.6,641.6 L520.6,641.6 L521.6,641.6 L522.6,641.6 L523.6,641.6 L524.6,641.6 L525.6,641.6 L526.6,641.6 L527.6,641.6 L528.6,641.6 L529.6,641.6 L530.6,641.6 L531.6,641.6 L532.6,641.6 L533.6,641.6 L534.6,641.6 L535.6,641.6 L536.6,641.6 L537.6,641.6 L538.6,641.6 L539.6,641.6 L540.6,641.6 L541.6,641.6 L542.6,641.6 L543.6,641.6 L544.6,641.6 L545.6,641.6 L546.6,641.6 L547.6,641.6 L548.6,641.7 L549.6,641.7 L550.6,641.7 L551.6,641.7 L552.6,641.7 L553.6,641.7 L554.6,641.7 L555.6,641.7 L556.6,641.7 L557.6,641.7 L558.6,641.7 L559.6,641.7 L560.6,641.7 L561.6,641.7 L562.6,641.7 L563.6,641.7 L564.6,641.7 L565.6,641.7 L566.6,641.7 L567.6,641.7 L568.6,641.7 L569.6,641.7 L570.6,641.7 L571.6,641.7 L572.6,641.7 L573.6,641.7 L574.6,641.7 L575.6,641.7 L576.6,641.7 L577.6,641.7 L578.6,641.7 L579.6,641.7 L580.6,641.7 L581.6,641.7 L582.6,641.7 L583.6,641.7 L584.6,641.7 L585.6,641.7 L586.6,641.7 L587.6,641.7 L588.6,641.7 L589.6,641.7 L590.6,641.7 L591.6,641.7 L592.6,641.7 L593.6,641.7 L594.6,641.7 L595.6,641.7 L596.6,641.7 L597.6,641.7 L598.6,641.8 L599.6,641.8 L600.6,641.8 L601.6,641.8 L602.6,641.8 L603.6,641.8 L604.6,641.8 L605.6,641.8 L606.6,641.8 L607.6,641.8 L608.6,641.8 L609.6,641.8 L610.6,641.8 L611.6,641.8 L612.6,641.8 L613.6,641.8 L614.6,641.8 L615.6,641.8 L616.6,641.8 L617.6,641.8 L618.6,641.8 L619.6,641.8 L620.6,641.8 L621.6,641.8 L622.6,641.8 L623.6,641.8 L624.6,641.8 L625.6,641.8 L626.6,641.8 L627.6,641.8 L628.6,641.8 L629.6,641.8 L630.6,641.8 L631.6,641.8 L632.6,641.8 L633.6,641.8 L634.6,641.8 L635.6,641.8 L636.6,641.8 L637.6,641.8 L638.6,641.8 L639.6,641.8 L640.6,641.8 L641.6,641.8 L642.6,641.8 L643.6,641.8 L644.6,641.8 L645.6,641.8 L646.6,641.8 L647.6,641.8 L648.6,641.8 L649.6,641.8 L650.6,641.8 L651.6,641.9 L652.6,641.9 L653.6,641.9 L654.6,641.9 L655.6,641.9 L656.6,641.9 L657.6,641.9 L658.6,641.9 L659.6,641.9 L660.6,641.9 L661.6,641.9 L662.6,641.9 L663.6,641.9 L664.6,641.9 L665.6,641.9 L666.6,641.9 L667.6,641.9 L668.6,641.9 L669.6,641.9 L670.6,641.9 L671.6,641.9 L672.6,641.9 L673.6,641.9 L674.6,641.9 L675.6,641.9 L676.6,641.9 L677.6,641.9 L678.6,641.9 L679.6,641.9 L680.6,641.9 L681.6,641.9 L682.6,641.9 L683.6,641.9 L684.6,641.9 L685.6,641.9 L686.6,641.9 L687.6,641.9 L688.6,641.9 L689.6,641.9 L690.6,641.9 L691.6,641.9 L692.6,641.9 L693.6,641.9 L694.6,641.9 L695.6,641.9 L696.6,641.9 L697.6,641.9 L698.6,641.9 L699.6,641.9 L700.6,641.9 L701.6,641.9 L702.6,641.9 L703.6,641.9 L704.6,641.9 L705.6,642 L706.6,642 L707.6,642 L708.6,642 L709.6,642 L710.6,642 L711.6,642 L712.6,642 L713.6,642 L714.6,642 L715.6,642 L716.6,642 L717.6,642 L718.6,642 L719.6,642 L720.6,642 L721.6,642 L722.6,642 L723.6,642 L724.6,642 L725.6,642 L726.6,642 L727.6,642 L728.6,642 L729.6,642 L730.6,642 L731.6,642 L732.6,642 L733.6,642 L733.8,642" fill="none" stroke="#0000FF" stroke-width="1.6" stroke-linejoin="round" stroke-linecap="round"/>
<path d="M317.6,638.5 L318.6,638.5 L319.6,638.5 L320.6,638.4 L321.6,638.4 L322.6,638.3 L323.6,638.3 L324.6,638.2 L325.6,638.2 L326.6,638.1 L327.6,638.1 L328.6,638 L329.6,638 L330.6,637.9 L331.6,637.9 L332.6,637.8 L333.6,637.8 L334.6,637.7 L335.6,637.6 L336.6,637.6 L337.6,637.5 L338.6,637.4 L339.6,637.4 L340.6,637.3 L341.6,637.2 L342.6,637.1 L343.6,637 L344.6,636.9 L345.6,636.8 L346.6,636.7 L347.6,636.6 L348.6,636.5 L349.6,636.4 L350.6,636.3 L351.6,636.2 L352.6,636.1 L353.6,635.9 L354.6,635.8 L355.6,635.6 L356.6,635.5 L357.6,635.3 L358.6,635.1 L359.6,634.9 L360.6,634.7 L361.6,634.5 L362.6,634.2 L363.6,634 L364.6,633.7 L365.6,633.4 L366.6,633.1 L367.6,632.8 L368.6,632.4 L369.6,632 L370.6,631.5 L371.6,631.1 L372.6,630.6 L373.6,630 L374.6,629.5 L375.6,628.8 L376.6,628.1 L377.6,627.4 L378.6,626.6 L379.6,625.8 L380.6,624.9 L381.6,624 L382.6,622.9 L383.6,621.8 L384.6,620.7 L385.6,619.5 L386.6,618.2 L387.6,616.8 L388.6,615.3 L389.6,613.8 L390.6,612.2 L391.6,610.5 L392.6,608.8 L393.6,607 L394.6,605.1 L395.6,603.1 L396.6,601.1 L397.6,599.1 L398.6,596.9 L399.6,594.8 L400.6,592.6 L401.6,590.3 L402.6,588.1 L403.6,585.8 L404.6,583.6 L405.6,581.3 L406.6,579.1 L407.6,577 L408.6,574.9 L409.6,572.9 L410.6,571.1 L411.6,569.3 L412.6,567.8 L413.6,566.4 L414.6,565.2 L415.6,564.2 L416.6,563.4 L417.6,562.9 L418.6,562.6 L419.6,562.5 L420.6,562.8 L421.6,563.2 L422.6,563.9 L423.6,564.8 L424.6,566 L425.6,567.3 L426.6,568.8 L427.6,570.4 L428.6,572.2 L429.6,574.1 L430.6,576.1 L431.6,578.1 L432.6,580.2 L433.6,582.3 L434.6,584.5 L435.6,586.6 L436.6,588.7 L437.6,590.8 L438.6,592.9 L439.6,594.9 L440.6,596.9 L441.6,598.8 L442.6,600.6 L443.6,602.4 L444.6,604 L445.6,605.6 L446.6,607.1 L447.6,608.5 L448.6,609.8 L449.6,611 L450.6,612.1 L451.6,613.1 L452.6,614 L453.6,614.8 L454.6,615.5 L455.6,616.2 L456.6,616.7 L457.6,617.2 L458.6,617.6 L459.6,618 L460.6,618.3 L461.6,618.6 L462.6,618.8 L463.6,619 L464.6,619.1 L465.6,619.1 L466.6,619.2 L467.6,619.1 L468.6,619 L469.6,618.8 L470.6,618.6 L471.6,618.2 L472.6,617.8 L473.6,617.3 L474.6,616.6 L475.6,615.9 L476.6,615 L477.6,614 L478.6,612.9 L479.6,611.6 L480.6,610.2 L481.6,608.7 L482.6,607.1 L483.6,605.3 L484.6,603.4 L485.6,601.3 L486.6,599.2 L487.6,596.9 L488.6,594.5 L489.6,592 L490.6,589.3 L491.6,586.6 L492.6,583.7 L493.6,580.8 L494.6,577.8 L495.6,574.7 L496.6,571.5 L497.6,568.3 L498.6,565.1 L499.6,561.9 L500.6,558.7 L501.6,555.6 L502.6,552.5 L503.6,549.5 L504.6,546.7 L505.6,544 L506.6,541.5 L507.6,539.3 L508.6,537.3 L509.6,535.6 L510.6,534.2 L511.6,533.2 L512.6,532.5 L513.6,532.3 L514.6,532.4 L515.6,532.9 L516.6,533.8 L517.6,535 L518.6,536.6 L519.6,538.5 L520.6,540.7 L521.6,543.1 L522.6,545.8 L523.6,548.6 L524.6,551.6 L525.6,554.7 L526.6,557.9 L527.6,561.2 L528.6,564.5 L529.6,567.8 L530.6,571.1 L531.6,574.3 L532.6,577.5 L533.6,580.7 L534.6,583.8 L535.6,586.8 L536.6,589.7 L537.6,592.5 L538.6,595.2 L539.6,597.9 L540.6,600.4 L541.6,602.7 L542.6,605 L543.6,607.2 L544.6,609.2 L545.6,611.1 L546.6,612.9 L547.6,614.6 L548.6,616.2 L549.6,617.7 L550.6,619.1 L551.6,620.4 L552.6,621.6 L553.6,622.7 L554.6,623.7 L555.6,624.7 L556.6,625.6 L557.6,626.4 L558.6,627.1 L559.6,627.8 L560.6,628.5 L561.6,629 L562.6,629.6 L563.6,630.1 L564.6,630.5 L565.6,630.9 L566.6,631.3 L567.6,631.7 L568.6,632 L569.6,632.3 L570.6,632.5 L571.6,632.8 L572.6,633 L573.6,633.2 L574.6,633.4 L575.6,633.6 L576.6,633.7 L577.6,633.9 L578.6,634 L579.6,634.2 L580.6,634.3 L581.6,634.4 L582.6,634.5 L583.6,634.6 L584.6,634.6 L585.6,634.7 L586.6,634.8 L587.6,634.8 L588.6,634.9 L589.6,634.9 L590.6,635 L591.6,635 L592.6,635.1 L593.6,635.1 L594.6,635.1 L595.6,635.1 L596.6,635.2 L597.6,635.2 L598.6,635.2 L599.6,635.2 L600.6,635.2 L601.6,635.2 L602.6,635.2 L603.6,635.2 L604.6,635.2 L605.6,635.1 L606.6,635.1 L607.6,635.1 L608.6,635.1 L609.6,635.1 L610.6,635 L611.6,635 L612.6,635 L613.6,635 L614.6,634.9 L615.6,634.9 L616.6,634.9 L617.6,634.8 L618.6,634.8 L619.6,634.8 L620.6,634.7 L621.6,634.7 L622.6,634.6 L623.6,634.6 L624.6,634.6 L625.6,634.5 L626.6,634.5 L627.6,634.5 L628.6,634.4 L629.6,634.4 L630.6,634.4 L631.6,634.3 L632.6,634.3 L633.6,634.3 L634.6,634.3 L635.6,634.2 L636.6,634.2 L637.6,634.2 L638.6,634.2 L639.6,634.2 L640.6,634.1 L641.6,634.1 L642.6,634.1 L643.6,634.1 L644.6,634.1 L645.6,634.1 L646.6,634.1 L647.6,634.1 L648.6,634.2 L649.6,634.2 L650.6,634.2 L651.6,634.2 L652.6,634.2 L653.6,634.3 L654.6,634.3 L655.6,634.3 L656.6,634.4 L657.6,634.4 L658.6,634.5 L659.6,634.5 L660.6,634.6 L661.6,634.6 L662.6,634.7 L663.6,634.8 L664.6,634.8 L665.6,634.9 L666.6,635 L667.6,635 L668.6,635.1 L669.6,635.2 L670.6,635.3 L671.6,635.4 L672.6,635.4 L673.6,635.5 L674.6,635.6 L675.6,635.7 L676.6,635.8 L677.6,635.9 L678.6,636 L679.6,636.1 L680.6,636.2 L681.6,636.3 L682.6,636.3 L683.6,636.4 L684.6,636.5 L685.6,636.6 L686.6,636.7 L687.6,636.8 L688.6,636.9 L689.6,637 L690.6,637.1 L691.6,637.2 L692.6,637.3 L693.6,637.4 L694.6,637.5 L695.6,637.6 L696.6,637.7 L697.6,637.8 L698.6,637.9 L699.6,637.9 L700.6,638 L701.6,638.1 L702.6,638.2 L703.6,638.3 L704.6,638.4 L705.6,638.5 L706.6,638.5 L707.6,638.6 L708.6,638.7 L709.6,638.8 L710.6,638.9 L711.6,638.9 L712.6,639 L713.6,639.1 L714.6,639.2 L715.6,639.2 L716.6,639.3 L717.6,639.4 L718.6,639.4 L719.6,639.5 L720.6,639.6 L721.6,639.6 L722.6,639.7 L723.6,639.7 L724.6,639.8 L725.6,639.8 L726.6,639.9 L727.6,639.9 L728.6,640 L729.6,640.1 L730.6,640.1 L731.6,640.1 L732.6,640.2 L733.6,640.2 L733.8,640.2" fill="none" stroke="#FF0000" stroke-width="2.0" stroke-linejoin="round" stroke-linecap="round"/>
<path d="M317.6,639.2 L318.6,639.2 L319.6,639.1 L320.6,639.1 L321.6,639.1 L322.6,639 L323.6,639 L324.6,639 L325.6,638.9 L326.6,638.9 L327.6,638.8 L328.6,638.8 L329.6,638.8 L330.6,638.7 L331.6,638.7 L332.6,638.6 L333.6,638.6 L334.6,638.5 L335.6,638.4 L336.6,638.4 L337.6,638.3 L338.6,638.3 L339.6,638.2 L340.6,638.1 L341.6,638.1 L342.6,638 L343.6,637.9 L344.6,637.8 L345.6,637.8 L346.6,637.7 L347.6,637.6 L348.6,637.5 L349.6,637.4 L350.6,637.3 L351.6,637.2 L352.6,637 L353.6,636.9 L354.6,636.8 L355.6,636.7 L356.6,636.5 L357.6,636.3 L358.6,636.2 L359.6,636 L360.6,635.8 L361.6,635.6 L362.6,635.4 L363.6,635.1 L364.6,634.9 L365.6,634.6 L366.6,634.3 L367.6,633.9 L368.6,633.6 L369.6,633.2 L370.6,632.8 L371.6,632.3 L372.6,631.8 L373.6,631.3 L374.6,630.8 L375.6,630.1 L376.6,629.5 L377.6,628.8 L378.6,628 L379.6,627.2 L380.6,626.3 L381.6,625.4 L382.6,624.4 L383.6,623.3 L384.6,622.2 L385.6,621 L386.6,619.7 L387.6,618.4 L388.6,616.9 L389.6,615.4 L390.6,613.9 L391.6,612.2 L392.6,610.5 L393.6,608.7 L394.6,606.9 L395.6,604.9 L396.6,602.9 L397.6,600.9 L398.6,598.8 L399.6,596.7 L400.6,594.5 L401.6,592.3 L402.6,590.1 L403.6,587.9 L404.6,585.6 L405.6,583.4 L406.6,581.3 L407.6,579.2 L408.6,577.1 L409.6,575.2 L410.6,573.4 L411.6,571.7 L412.6,570.2 L413.6,568.8 L414.6,567.6 L415.6,566.7 L416.6,566 L417.6,565.5 L418.6,565.3 L419.6,565.3 L420.6,565.5 L421.6,566.1 L422.6,566.8 L423.6,567.8 L424.6,569 L425.6,570.4 L426.6,572 L427.6,573.7 L428.6,575.5 L429.6,577.5 L430.6,579.5 L431.6,581.6 L432.6,583.8 L433.6,586 L434.6,588.3 L435.6,590.5 L436.6,592.7 L437.6,594.9 L438.6,597.1 L439.6,599.2 L440.6,601.3 L441.6,603.4 L442.6,605.3 L443.6,607.3 L444.6,609.1 L445.6,610.9 L446.6,612.6 L447.6,614.3 L448.6,615.8 L449.6,617.3 L450.6,618.7 L451.6,620.1 L452.6,621.4 L453.6,622.6 L454.6,623.7 L455.6,624.7 L456.6,625.7 L457.6,626.7 L458.6,627.6 L459.6,628.4 L460.6,629.1 L461.6,629.8 L462.6,630.5 L463.6,631.1 L464.6,631.7 L465.6,632.2 L466.6,632.7 L467.6,633.1 L468.6,633.5 L469.6,633.9 L470.6,634.3 L471.6,634.6 L472.6,634.9 L473.6,635.2 L474.6,635.5 L475.6,635.7 L476.6,635.9 L477.6,636.1 L478.6,636.3 L479.6,636.5 L480.6,636.7 L481.6,636.9 L482.6,637 L483.6,637.2 L484.6,637.3 L485.6,637.4 L486.6,637.5 L487.6,637.7 L488.6,637.8 L489.6,637.9 L490.6,638 L491.6,638.1 L492.6,638.2 L493.6,638.2 L494.6,638.3 L495.6,638.4 L496.6,638.5 L497.6,638.6 L498.6,638.6 L499.6,638.7 L500.6,638.8 L501.6,638.8 L502.6,638.9 L503.6,639 L504.6,639 L505.6,639.1 L506.6,639.1 L507.6,639.2 L508.6,639.2 L509.6,639.3 L510.6,639.3 L511.6,639.4 L512.6,639.4 L513.6,639.5 L514.6,639.5 L515.6,639.6 L516.6,639.6 L517.6,639.7 L518.6,639.7 L519.6,639.7 L520.6,639.8 L521.6,639.8 L522.6,639.8 L523.6,639.9 L524.6,639.9 L525.6,640 L526.6,640 L527.6,640 L528.6,640 L529.6,640.1 L530.6,640.1 L531.6,640.1 L532.6,640.2 L533.6,640.2 L534.6,640.2 L535.6,640.2 L536.6,640.3 L537.6,640.3 L538.6,640.3 L539.6,640.3 L540.6,640.4 L541.6,640.4 L542.6,640.4 L543.6,640.4 L544.6,640.5 L545.6,640.5 L546.6,640.5 L547.6,640.5 L548.6,640.5 L549.6,640.6 L550.6,640.6 L551.6,640.6 L552.6,640.6 L553.6,640.6 L554.6,640.6 L555.6,640.7 L556.6,640.7 L557.6,640.7 L558.6,640.7 L559.6,640.7 L560.6,640.7 L561.6,640.8 L562.6,640.8 L563.6,640.8 L564.6,640.8 L565.6,640.8 L566.6,640.8 L567.6,640.8 L568.6,640.9 L569.6,640.9 L570.6,640.9 L571.6,640.9 L572.6,640.9 L573.6,640.9 L574.6,640.9 L575.6,640.9 L576.6,640.9 L577.6,641 L578.6,641 L579.6,641 L580.6,641 L581.6,641 L582.6,641 L583.6,641 L584.6,641 L585.6,641 L586.6,641.1 L587.6,641.1 L588.6,641.1 L589.6,641.1 L590.6,641.1 L591.6,641.1 L592.6,641.1 L593.6,641.1 L594.6,641.1 L595.6,641.1 L596.6,641.1 L597.6,641.2 L598.6,641.2 L599.6,641.2 L600.6,641.2 L601.6,641.2 L602.6,641.2 L603.6,641.2 L604.6,641.2 L605.6,641.2 L606.6,641.2 L607.6,641.2 L608.6,641.2 L609.6,641.2 L610.6,641.3 L611.6,641.3 L612.6,641.3 L613.6,641.3 L614.6,641.3 L615.6,641.3 L616.6,641.3 L617.6,641.3 L618.6,641.3 L619.6,641.3 L620.6,641.3 L621.6,641.3 L622.6,641.3 L623.6,641.3 L624.6,641.3 L625.6,641.4 L626.6,641.4 L627.6,641.4 L628.6,641.4 L629.6,641.4 L630.6,641.4 L631.6,641.4 L632.6,641.4 L633.6,641.4 L634.6,641.4 L635.6,641.4 L636.6,641.4 L637.6,641.4 L638.6,641.4 L639.6,641.4 L640.6,641.4 L641.6,641.4 L642.6,641.5 L643.6,641.5 L644.6,641.5 L645.6,641.5 L646.6,641.5 L647.6,641.5 L648.6,641.5 L649.6,641.5 L650.6,641.5 L651.6,641.5 L652.6,641.5 L653.6,641.5 L654.6,641.5 L655.6,641.5 L656.6,641.5 L657.6,641.5 L658.6,641.5 L659.6,641.5 L660.6,641.5 L661.6,641.5 L662.6,641.5 L663.6,641.6 L664.6,641.6 L665.6,641.6 L666.6,641.6 L667.6,641.6 L668.6,641.6 L669.6,641.6 L670.6,641.6 L671.6,641.6 L672.6,641.6 L673.6,641.6 L674.6,641.6 L675.6,641.6 L676.6,641.6 L677.6,641.6 L678.6,641.6 L679.6,641.6 L680.6,641.6 L681.6,641.6 L682.6,641.6 L683.6,641.6 L684.6,641.6 L685.6,641.6 L686.6,641.6 L687.6,641.7 L688.6,641.7 L689.6,641.7 L690.6,641.7 L691.6,641.7 L692.6,641.7 L693.6,641.7 L694.6,641.7 L695.6,641.7 L696.6,641.7 L697.6,641.7 L698.6,641.7 L699.6,641.7 L700.6,641.7 L701.6,641.7 L702.6,641.7 L703.6,641.7 L704.6,641.7 L705.6,641.7 L706.6,641.7 L707.6,641.7 L708.6,641.7 L709.6,641.7 L710.6,641.7 L711.6,641.7 L712.6,641.7 L713.6,641.7 L714.6,641.7 L715.6,641.7 L716.6,641.8 L717.6,641.8 L718.6,641.8 L719.6,641.8 L720.6,641.8 L721.6,641.8 L722.6,641.8 L723.6,641.8 L724.6,641.8 L725.6,641.8 L726.6,641.8 L727.6,641.8 L728.6,641.8 L729.6,641.8 L730.6,641.8 L731.6,641.8 L732.6,641.8 L733.6,641.8 L733.8,641.8" fill="none" stroke="#808000" stroke-width="2.0" stroke-linejoin="round" stroke-linecap="round"/>
<path d="M317.6,640.4 L318.6,640.4 L319.6,640.4 L320.6,640.3 L321.6,640.3 L322.6,640.3 L323.6,640.3 L324.6,640.3 L325.6,640.3 L326.6,640.3 L327.6,640.3 L328.6,640.3 L329.6,640.3 L330.6,640.3 L331.6,640.3 L332.6,640.3 L333.6,640.3 L334.6,640.3 L335.6,640.3 L336.6,640.3 L337.6,640.2 L338.6,640.2 L339.6,640.2 L340.6,640.2 L341.6,640.2 L342.6,640.2 L343.6,640.2 L344.6,640.2 L345.6,640.2 L346.6,640.2 L347.6,640.2 L348.6,640.2 L349.6,640.2 L350.6,640.1 L351.6,640.1 L352.6,640.1 L353.6,640.1 L354.6,640.1 L355.6,640.1 L356.6,640.1 L357.6,640.1 L358.6,640.1 L359.6,640.1 L360.6,640 L361.6,640 L362.6,640 L363.6,640 L364.6,640 L365.6,640 L366.6,640 L367.6,640 L368.6,639.9 L369.6,639.9 L370.6,639.9 L371.6,639.9 L372.6,639.9 L373.6,639.9 L374.6,639.9 L375.6,639.8 L376.6,639.8 L377.6,639.8 L378.6,639.8 L379.6,639.8 L380.6,639.8 L381.6,639.7 L382.6,639.7 L383.6,639.7 L384.6,639.7 L385.6,639.7 L386.6,639.6 L387.6,639.6 L388.6,639.6 L389.6,639.6 L390.6,639.6 L391.6,639.5 L392.6,639.5 L393.6,639.5 L394.6,639.5 L395.6,639.4 L396.6,639.4 L397.6,639.4 L398.6,639.4 L399.6,639.3 L400.6,639.3 L401.6,639.3 L402.6,639.2 L403.6,639.2 L404.6,639.2 L405.6,639.1 L406.6,639.1 L407.6,639.1 L408.6,639 L409.6,639 L410.6,639 L411.6,638.9 L412.6,638.9 L413.6,638.8 L414.6,638.8 L415.6,638.8 L416.6,638.7 L417.6,638.7 L418.6,638.6 L419.6,638.6 L420.6,638.5 L421.6,638.5 L422.6,638.4 L423.6,638.4 L424.6,638.3 L425.6,638.2 L426.6,638.2 L427.6,638.1 L428.6,638.1 L429.6,638 L430.6,637.9 L431.6,637.8 L432.6,637.8 L433.6,637.7 L434.6,637.6 L435.6,637.5 L436.6,637.4 L437.6,637.3 L438.6,637.2 L439.6,637.1 L440.6,637 L441.6,636.9 L442.6,636.8 L443.6,636.7 L444.6,636.6 L445.6,636.4 L446.6,636.3 L447.6,636.1 L448.6,636 L449.6,635.8 L450.6,635.6 L451.6,635.5 L452.6,635.3 L453.6,635 L454.6,634.8 L455.6,634.6 L456.6,634.3 L457.6,634 L458.6,633.7 L459.6,633.4 L460.6,633.1 L461.6,632.7 L462.6,632.3 L463.6,631.8 L464.6,631.4 L465.6,630.8 L466.6,630.3 L467.6,629.7 L468.6,629 L469.6,628.3 L470.6,627.5 L471.6,626.6 L472.6,625.7 L473.6,624.7 L474.6,623.7 L475.6,622.5 L476.6,621.3 L477.6,619.9 L478.6,618.5 L479.6,617 L480.6,615.4 L481.6,613.6 L482.6,611.8 L483.6,609.8 L484.6,607.7 L485.6,605.6 L486.6,603.3 L487.6,600.8 L488.6,598.3 L489.6,595.7 L490.6,592.9 L491.6,590.1 L492.6,587.2 L493.6,584.1 L494.6,581 L495.6,577.9 L496.6,574.7 L497.6,571.4 L498.6,568.1 L499.6,564.9 L500.6,561.6 L501.6,558.4 L502.6,555.3 L503.6,552.2 L504.6,549.3 L505.6,546.6 L506.6,544.1 L507.6,541.8 L508.6,539.7 L509.6,538 L510.6,536.6 L511.6,535.5 L512.6,534.8 L513.6,534.5 L514.6,534.6 L515.6,535.1 L516.6,535.9 L517.6,537.2 L518.6,538.7 L519.6,540.6 L520.6,542.7 L521.6,545.1 L522.6,547.8 L523.6,550.6 L524.6,553.5 L525.6,556.6 L526.6,559.8 L527.6,563 L528.6,566.3 L529.6,569.6 L530.6,572.9 L531.6,576.1 L532.6,579.3 L533.6,582.5 L534.6,585.5 L535.6,588.5 L536.6,591.4 L537.6,594.2 L538.6,596.9 L539.6,599.5 L540.6,602 L541.6,604.4 L542.6,606.7 L543.6,608.8 L544.6,610.8 L545.6,612.8 L546.6,614.6 L547.6,616.3 L548.6,617.9 L549.6,619.4 L550.6,620.8 L551.6,622 L552.6,623.3 L553.6,624.4 L554.6,625.4 L555.6,626.4 L556.6,627.3 L557.6,628.1 L558.6,628.9 L559.6,629.6 L560.6,630.2 L561.6,630.8 L562.6,631.4 L563.6,631.9 L564.6,632.3 L565.6,632.8 L566.6,633.2 L567.6,633.5 L568.6,633.9 L569.6,634.2 L570.6,634.5 L571.6,634.8 L572.6,635 L573.6,635.3 L574.6,635.5 L575.6,635.7 L576.6,635.9 L577.6,636.1 L578.6,636.3 L579.6,636.4 L580.6,636.6 L581.6,636.7 L582.6,636.9 L583.6,637 L584.6,637.1 L585.6,637.3 L586.6,637.4 L587.6,637.5 L588.6,637.6 L589.6,637.7 L590.6,637.8 L591.6,637.9 L592.6,638 L593.6,638.1 L594.6,638.2 L595.6,638.3 L596.6,638.3 L597.6,638.4 L598.6,638.5 L599.6,638.6 L600.6,638.6 L601.6,638.7 L602.6,638.8 L603.6,638.8 L604.6,638.9 L605.6,639 L606.6,639 L607.6,639.1 L608.6,639.1 L609.6,639.2 L610.6,639.2 L611.6,639.3 L612.6,639.3 L613.6,639.4 L614.6,639.4 L615.6,639.5 L616.6,639.5 L617.6,639.6 L618.6,639.6 L619.6,639.7 L620.6,639.7 L621.6,639.7 L622.6,639.8 L623.6,639.8 L624.6,639.8 L625.6,639.9 L626.6,639.9 L627.6,639.9 L628.6,640 L629.6,640 L630.6,640 L631.6,640.1 L632.6,640.1 L633.6,640.1 L634.6,640.2 L635.6,640.2 L636.6,640.2 L637.6,640.2 L638.6,640.3 L639.6,640.3 L640.6,640.3 L641.6,640.3 L642.6,640.4 L643.6,640.4 L644.6,640.4 L645.6,640.4 L646.6,640.5 L647.6,640.5 L648.6,640.5 L649.6,640.5 L650.6,640.6 L651.6,640.6 L652.6,640.6 L653.6,640.6 L654.6,640.6 L655.6,640.6 L656.6,640.7 L657.6,640.7 L658.6,640.7 L659.6,640.7 L660.6,640.7 L661.6,640.8 L662.6,640.8 L663.6,640.8 L664.6,640.8 L665.6,640.8 L666.6,640.8 L667.6,640.8 L668.6,640.9 L669.6,640.9 L670.6,640.9 L671.6,640.9 L672.6,640.9 L673.6,640.9 L674.6,640.9 L675.6,641 L676.6,641 L677.6,641 L678.6,641 L679.6,641 L680.6,641 L681.6,641 L682.6,641 L683.6,641.1 L684.6,641.1 L685.6,641.1 L686.6,641.1 L687.6,641.1 L688.6,641.1 L689.6,641.1 L690.6,641.1 L691.6,641.1 L692.6,641.2 L693.6,641.2 L694.6,641.2 L695.6,641.2 L696.6,641.2 L697.6,641.2 L698.6,641.2 L699.6,641.2 L700.6,641.2 L701.6,641.2 L702.6,641.3 L703.6,641.3 L704.6,641.3 L705.6,641.3 L706.6,641.3 L707.6,641.3 L708.6,641.3 L709.6,641.3 L710.6,641.3 L711.6,641.3 L712.6,641.3 L713.6,641.3 L714.6,641.4 L715.6,641.4 L716.6,641.4 L717.6,641.4 L718.6,641.4 L719.6,641.4 L720.6,641.4 L721.6,641.4 L722.6,641.4 L723.6,641.4 L724.6,641.4 L725.6,641.4 L726.6,641.4 L727.6,641.5 L728.6,641.5 L729.6,641.5 L730.6,641.5 L731.6,641.5 L732.6,641.5 L733.6,641.5 L733.8,641.5" fill="none" stroke="#FF00FF" stroke-width="2.0" stroke-linejoin="round" stroke-linecap="round"/>
<path d="M317.6,641 L318.6,641 L319.6,641 L320.6,641 L321.6,641 L322.6,641 L323.6,641 L324.6,641 L325.6,641 L326.6,641 L327.6,641 L328.6,641 L329.6,641 L330.6,641 L331.6,641 L332.6,641 L333.6,641 L334.6,641 L335.6,641 L336.6,641 L337.6,641 L338.6,641 L339.6,641 L340.6,641 L341.6,641 L342.6,641 L343.6,641 L344.6,641 L345.6,641 L346.6,641 L347.6,641 L348.6,641 L349.6,641 L350.6,641 L351.6,641 L352.6,641 L353.6,641 L354.6,641 L355.6,641 L356.6,641 L357.6,641 L358.6,641 L359.6,641 L360.6,641 L361.6,641 L362.6,641 L363.6,641 L364.6,641 L365.6,641 L366.6,641 L367.6,641 L368.6,641 L369.6,641 L370.6,641 L371.6,641 L372.6,641 L373.6,641 L374.6,641 L375.6,641.1 L376.6,641.1 L377.6,641.1 L378.6,641.1 L379.6,641.1 L380.6,641.1 L381.6,641.1 L382.6,641.1 L383.6,641.1 L384.6,641.1 L385.6,641.1 L386.6,641.1 L387.6,641.1 L388.6,641.1 L389.6,641.1 L390.6,641.1 L391.6,641.1 L392.6,641.1 L393.6,641.1 L394.6,641.1 L395.6,641.1 L396.6,641.1 L397.6,641.1 L398.6,641.1 L399.6,641.1 L400.6,641.1 L401.6,641.1 L402.6,641.1 L403.6,641.1 L404.6,641.1 L405.6,641.1 L406.6,641.1 L407.6,641.1 L408.6,641.1 L409.6,641.1 L410.6,641.1 L411.6,641.1 L412.6,641.1 L413.6,641.1 L414.6,641.1 L415.6,641.1 L416.6,641.1 L417.6,641.1 L418.6,641.2 L419.6,641.2 L420.6,641.2 L421.6,641.2 L422.6,641.2 L423.6,641.2 L424.6,641.2 L425.6,641.2 L426.6,641.2 L427.6,641.2 L428.6,641.2 L429.6,641.2 L430.6,641.2 L431.6,641.2 L432.6,641.2 L433.6,641.2 L434.6,641.2 L435.6,641.2 L436.6,641.2 L437.6,641.2 L438.6,641.2 L439.6,641.2 L440.6,641.2 L441.6,641.2 L442.6,641.2 L443.6,641.2 L444.6,641.2 L445.6,641.2 L446.6,641.2 L447.6,641.2 L448.6,641.2 L449.6,641.2 L450.6,641.2 L451.6,641.2 L452.6,641.2 L453.6,641.2 L454.6,641.2 L455.6,641.2 L456.6,641.2 L457.6,641.2 L458.6,641.2 L459.6,641.2 L460.6,641.2 L461.6,641.2 L462.6,641.2 L463.6,641.2 L464.6,641.3 L465.6,641.3 L466.6,641.3 L467.6,641.3 L468.6,641.3 L469.6,641.3 L470.6,641.3 L471.6,641.3 L472.6,641.3 L473.6,641.3 L474.6,641.3 L475.6,641.3 L476.6,641.3 L477.6,641.3 L478.6,641.3 L479.6,641.3 L480.6,641.3 L481.6,641.3 L482.6,641.3 L483.6,641.3 L484.6,641.3 L485.6,641.3 L486.6,641.3 L487.6,641.3 L488.6,641.3 L489.6,641.3 L490.6,641.3 L491.6,641.3 L492.6,641.3 L493.6,641.3 L494.6,641.3 L495.6,641.3 L496.6,641.3 L497.6,641.3 L498.6,641.3 L499.6,641.3 L500.6,641.3 L501.6,641.3 L502.6,641.3 L503.6,641.3 L504.6,641.3 L505.6,641.3 L506.6,641.3 L507.6,641.3 L508.6,641.3 L509.6,641.3 L510.6,641.3 L511.6,641.3 L512.6,641.3 L513.6,641.3 L514.6,641.3 L515.6,641.3 L516.6,641.3 L517.6,641.3 L518.6,641.3 L519.6,641.3 L520.6,641.3 L521.6,641.3 L522.6,641.3 L523.6,641.3 L524.6,641.3 L525.6,641.3 L526.6,641.3 L527.6,641.3 L528.6,641.3 L529.6,641.3 L530.6,641.3 L531.6,641.3 L532.6,641.3 L533.6,641.3 L534.6,641.3 L535.6,641.3 L536.6,641.2 L537.6,641.2 L538.6,641.2 L539.6,641.2 L540.6,641.2 L541.6,641.2 L542.6,641.2 L543.6,641.2 L544.6,641.2 L545.6,641.2 L546.6,641.1 L547.6,641.1 L548.6,641.1 L549.6,641.1 L550.6,641.1 L551.6,641.1 L552.6,641 L553.6,641 L554.6,641 L555.6,641 L556.6,641 L557.6,640.9 L558.6,640.9 L559.6,640.9 L560.6,640.9 L561.6,640.8 L562.6,640.8 L563.6,640.8 L564.6,640.8 L565.6,640.7 L566.6,640.7 L567.6,640.7 L568.6,640.6 L569.6,640.6 L570.6,640.6 L571.6,640.5 L572.6,640.5 L573.6,640.4 L574.6,640.4 L575.6,640.4 L576.6,640.3 L577.6,640.3 L578.6,640.2 L579.6,640.2 L580.6,640.1 L581.6,640.1 L582.6,640 L583.6,640 L584.6,639.9 L585.6,639.9 L586.6,639.8 L587.6,639.7 L588.6,639.7 L589.6,639.6 L590.6,639.6 L591.6,639.5 L592.6,639.4 L593.6,639.4 L594.6,639.3 L595.6,639.2 L596.6,639.2 L597.6,639.1 L598.6,639 L599.6,638.9 L600.6,638.9 L601.6,638.8 L602.6,638.7 L603.6,638.6 L604.6,638.6 L605.6,638.5 L606.6,638.4 L607.6,638.3 L608.6,638.2 L609.6,638.2 L610.6,638.1 L611.6,638 L612.6,637.9 L613.6,637.8 L614.6,637.8 L615.6,637.7 L616.6,637.6 L617.6,637.5 L618.6,637.4 L619.6,637.4 L620.6,637.3 L621.6,637.2 L622.6,637.1 L623.6,637.1 L624.6,637 L625.6,636.9 L626.6,636.8 L627.6,636.8 L628.6,636.7 L629.6,636.6 L630.6,636.6 L631.6,636.5 L632.6,636.4 L633.6,636.4 L634.6,636.3 L635.6,636.3 L636.6,636.2 L637.6,636.2 L638.6,636.1 L639.6,636.1 L640.6,636 L641.6,636 L642.6,636 L643.6,635.9 L644.6,635.9 L645.6,635.9 L646.6,635.9 L647.6,635.9 L648.6,635.9 L649.6,635.9 L650.6,635.8 L651.6,635.9 L652.6,635.9 L653.6,635.9 L654.6,635.9 L655.6,635.9 L656.6,635.9 L657.6,635.9 L658.6,636 L659.6,636 L660.6,636 L661.6,636.1 L662.6,636.1 L663.6,636.2 L664.6,636.2 L665.6,636.3 L666.6,636.3 L667.6,636.4 L668.6,636.4 L669.6,636.5 L670.6,636.6 L671.6,636.6 L672.6,636.7 L673.6,636.8 L674.6,636.8 L675.6,636.9 L676.6,637 L677.6,637.1 L678.6,637.2 L679.6,637.2 L680.6,637.3 L681.6,637.4 L682.6,637.5 L683.6,637.6 L684.6,637.6 L685.6,637.7 L686.6,637.8 L687.6,637.9 L688.6,638 L689.6,638.1 L690.6,638.2 L691.6,638.2 L692.6,638.3 L693.6,638.4 L694.6,638.5 L695.6,638.6 L696.6,638.7 L697.6,638.7 L698.6,638.8 L699.6,638.9 L700.6,639 L701.6,639.1 L702.6,639.1 L703.6,639.2 L704.6,639.3 L705.6,639.4 L706.6,639.4 L707.6,639.5 L708.6,639.6 L709.6,639.7 L710.6,639.7 L711.6,639.8 L712.6,639.9 L713.6,639.9 L714.6,640 L715.6,640 L716.6,640.1 L717.6,640.2 L718.6,640.2 L719.6,640.3 L720.6,640.3 L721.6,640.4 L722.6,640.4 L723.6,640.5 L724.6,640.5 L725.6,640.6 L726.6,640.6 L727.6,640.7 L728.6,640.7 L729.6,640.8 L730.6,640.8 L731.6,640.9 L732.6,640.9 L733.6,640.9 L733.8,640.9" fill="none" stroke="#008080" stroke-width="2.0" stroke-linejoin="round" stroke-linecap="round"/>
<path d="M318.8,754.7 L320.8,755.5 L322.7,756.2 L324.7,753.2 L326.6,756.1 L328.6,756.9 L330.6,760.9 L332.5,762.5 L334.5,762.9 L336.4,761.3 L338.4,760 L340.4,763.1 L342.3,764.9 L344.3,761.8 L346.2,763.1 L348.2,763.2 L350.2,763.9 L352.1,758.6 L354.1,757.9 L356,759.4 L358,757.7 L360,753.8 L361.9,756.2 L363.9,755.6 L365.8,754.2 L367.8,754.1 L369.8,753.2 L371.7,750.5 L373.7,755.1 L375.6,749.3 L377.6,744.1 L379.6,748.4 L381.5,751.4 L383.5,747.9 L385.4,750.1 L387.4,747.5 L389.4,737.1 L391.3,728.9 L393.3,729.6 L395.2,732.3 L397.2,725.5 L399.2,719.2 L401.1,716.7 L403.1,716.5 L405,714.2 L407,712.8 L409,709 L410.9,702 L412.9,699.6 L414.8,696.9 L416.8,697.1 L418.8,694 L420.7,695 L422.7,701.7 L424.6,700.1 L426.6,703.4 L428.6,710.3 L430.5,710.2 L432.5,711 L434.4,714.5 L436.4,718 L438.4,724.6 L440.3,726.9 L442.3,732.2 L444.2,730.5 L446.2,730.8 L448.2,733.5 L450.1,737.7 L452.1,739.7 L454,741.9 L456,739 L458,741 L459.9,744.2 L461.9,740.2 L463.8,741.1 L465.8,743.3 L467.8,740.2 L469.7,734.8 L471.7,733.3 L473.6,741.5 L475.6,739.4 L477.6,737.1 L479.5,732.7 L481.5,733.8 L483.4,729.3 L485.4,723.4 L487.4,717.9 L489.3,715.4 L491.3,709.3 L493.2,702.4 L495.2,693.7 L497.2,689.9 L499.1,686 L501.1,679.2 L503,678 L505,675.9 L507,669.7 L508.9,664.2 L510.9,661.7 L512.8,661.6 L514.8,657.2 L516.8,660.1 L518.7,664.4 L520.7,669.7 L522.6,673.3 L524.6,677.9 L526.6,689.7 L528.5,693 L530.5,695.3 L532.4,703.4 L534.4,713.2 L536.4,718.9 L538.3,719.9 L540.3,725.4 L542.2,725.5 L544.2,730.6 L546.2,740.1 L548.1,746.3 L550.1,746.1 L552,748.7 L554,753.3 L556,751.4 L557.9,754.5 L559.9,757.1 L561.8,759.1 L563.8,757.8 L565.8,757 L567.7,757.9 L569.7,755.5 L571.6,757.7 L573.6,754.9 L575.6,753.4 L577.5,755.2 L579.5,758 L581.4,760.2 L583.4,760 L585.4,762.6 L587.3,763.5 L589.3,760.4 L591.2,758.5 L593.2,761.7 L595.2,758.9 L597.1,752.4 L599.1,754 L601,756.9 L603,755.4 L605,756.3 L606.9,756.8 L608.9,762.1 L610.8,764 L612.8,765.4 L614.8,767.8 L616.7,764.5 L618.7,765.2 L620.6,768.6 L622.6,763.2 L624.6,764 L626.5,761.1 L628.5,764.7 L630.4,768.9 L632.4,764.3 L634.4,762 L636.3,766.5 L638.3,760.9 L640.2,758.9 L642.2,758.4 L644.2,756.3 L646.1,762.3 L648.1,765.7 L650,764.6 L652,763.1 L654,762.3 L655.9,761 L657.9,753.1 L659.8,757.6 L661.8,758.8 L663.8,754.9 L665.7,759 L667.7,760 L669.6,760.6 L671.6,762.6 L673.6,765.4 L675.5,765.7 L677.5,763.2 L679.4,763.9 L681.4,763.5 L683.4,762.2 L685.3,761.2 L687.3,765 L689.2,768.1 L691.2,770.4 L693.2,772.1 L695.1,770.1 L697.1,764.4 L699,762.4 L701,763.5 L703,765.7 L704.9,765.7 L706.9,768.8 L708.8,770.1 L710.8,766.6 L712.8,767.9 L714.7,765.1 L716.7,761.9 L718.6,762 L720.6,763.4 L722.6,762.4 L724.5,768.6 L726.5,771.5 L728.4,766.3 L730.4,767.6 L732.4,771.4 L734.3,768.5 L736.3,765.7 L738.2,764.7 L740.2,767 L742.2,765.7 L744.1,761.6" fill="none" stroke="#000" stroke-width="2.0" stroke-linejoin="round" stroke-linecap="round"/>
<path d="M318.8,762.3 L319.8,762.3 L320.8,762.3 L321.8,762.3 L322.8,762.3 L323.8,762.3 L324.8,762.4 L325.8,762.4 L326.8,762.4 L327.8,762.4 L328.8,762.4 L329.8,762.4 L330.8,762.4 L331.8,762.4 L332.8,762.4 L333.8,762.4 L334.8,762.4 L335.8,762.4 L336.8,762.5 L337.8,762.5 L338.8,762.5 L339.8,762.5 L340.8,762.5 L341.8,762.5 L342.8,762.5 L343.8,762.5 L344.8,762.5 L345.8,762.5 L346.8,762.5 L347.8,762.5 L348.8,762.6 L349.8,762.6 L350.8,762.6 L351.8,762.6 L352.8,762.6 L353.8,762.6 L354.8,762.6 L355.8,762.6 L356.8,762.6 L357.8,762.6 L358.8,762.6 L359.8,762.7 L360.8,762.7 L361.8,762.7 L362.8,762.7 L363.8,762.7 L364.8,762.7 L365.8,762.7 L366.8,762.7 L367.8,762.7 L368.8,762.7 L369.8,762.7 L370.8,762.8 L371.8,762.8 L372.8,762.8 L373.8,762.8 L374.8,762.8 L375.8,762.8 L376.8,762.8 L377.8,762.8 L378.8,762.8 L379.8,762.8 L380.8,762.8 L381.8,762.9 L382.8,762.9 L383.8,762.9 L384.8,762.9 L385.8,762.9 L386.8,762.9 L387.8,762.9 L388.8,762.9 L389.8,762.9 L390.8,763 L391.8,763 L392.8,763 L393.8,763 L394.8,763 L395.8,763 L396.8,763 L397.8,763 L398.8,763.1 L399.8,763.1 L400.8,763.1 L401.8,763.1 L402.8,763.1 L403.8,763.1 L404.8,763.1 L405.8,763.2 L406.8,763.2 L407.8,763.2 L408.8,763.2 L409.8,763.2 L410.8,763.2 L411.8,763.3 L412.8,763.3 L413.8,763.3 L414.8,763.3 L415.8,763.3 L416.8,763.3 L417.8,763.4 L418.8,763.4 L419.8,763.4 L420.8,763.4 L421.8,763.4 L422.8,763.5 L423.8,763.5 L424.8,763.5 L425.8,763.5 L426.8,763.5 L427.8,763.5 L428.8,763.6 L429.8,763.6 L430.8,763.6 L431.8,763.6 L432.8,763.6 L433.8,763.6 L434.8,763.7 L435.8,763.7 L436.8,763.7 L437.8,763.7 L438.8,763.7 L439.8,763.7 L440.8,763.8 L441.8,763.8 L442.8,763.8 L443.8,763.8 L444.8,763.8 L445.8,763.8 L446.8,763.8 L447.8,763.8 L448.8,763.9 L449.8,763.9 L450.8,763.9 L451.8,763.9 L452.8,763.9 L453.8,763.9 L454.8,763.9 L455.8,763.9 L456.8,764 L457.8,764 L458.8,764 L459.8,764 L460.8,764 L461.8,764 L462.8,764 L463.8,764 L464.8,764 L465.8,764 L466.8,764.1 L467.8,764.1 L468.8,764.1 L469.8,764.1 L470.8,764.1 L471.8,764.1 L472.8,764.1 L473.8,764.1 L474.8,764.1 L475.8,764.2 L476.8,764.2 L477.8,764.2 L478.8,764.2 L479.8,764.2 L480.8,764.2 L481.8,764.2 L482.8,764.2 L483.8,764.3 L484.8,764.3 L485.8,764.3 L486.8,764.3 L487.8,764.3 L488.8,764.3 L489.8,764.3 L490.8,764.4 L491.8,764.4 L492.8,764.4 L493.8,764.4 L494.8,764.4 L495.8,764.4 L496.8,764.5 L497.8,764.5 L498.8,764.5 L499.8,764.5 L500.8,764.5 L501.8,764.6 L502.8,764.6 L503.8,764.6 L504.8,764.6 L505.8,764.6 L506.8,764.7 L507.8,764.7 L508.8,764.7 L509.8,764.7 L510.8,764.8 L511.8,764.8 L512.8,764.8 L513.8,764.8 L514.8,764.8 L515.8,764.9 L516.8,764.9 L517.8,764.9 L518.8,764.9 L519.8,765 L520.8,765 L521.8,765 L522.8,765 L523.8,765.1 L524.8,765.1 L525.8,765.1 L526.8,765.1 L527.8,765.1 L528.8,765.2 L529.8,765.2 L530.8,765.2 L531.8,765.2 L532.8,765.2 L533.8,765.2 L534.8,765.3 L535.8,765.3 L536.8,765.3 L537.8,765.3 L538.8,765.3 L539.8,765.3 L540.8,765.4 L541.8,765.4 L542.8,765.4 L543.8,765.4 L544.8,765.4 L545.8,765.4 L546.8,765.4 L547.8,765.4 L548.8,765.5 L549.8,765.5 L550.8,765.5 L551.8,765.5 L552.8,765.5 L553.8,765.5 L554.8,765.5 L555.8,765.5 L556.8,765.5 L557.8,765.6 L558.8,765.6 L559.8,765.6 L560.8,765.6 L561.8,765.6 L562.8,765.6 L563.8,765.6 L564.8,765.6 L565.8,765.6 L566.8,765.6 L567.8,765.7 L568.8,765.7 L569.8,765.7 L570.8,765.7 L571.8,765.7 L572.8,765.7 L573.8,765.7 L574.8,765.7 L575.8,765.7 L576.8,765.7 L577.8,765.7 L578.8,765.8 L579.8,765.8 L580.8,765.8 L581.8,765.8 L582.8,765.8 L583.8,765.8 L584.8,765.8 L585.8,765.8 L586.8,765.8 L587.8,765.8 L588.8,765.8 L589.8,765.9 L590.8,765.9 L591.8,765.9 L592.8,765.9 L593.8,765.9 L594.8,765.9 L595.8,765.9 L596.8,765.9 L597.8,765.9 L598.8,765.9 L599.8,765.9 L600.8,766 L601.8,766 L602.8,766 L603.8,766 L604.8,766 L605.8,766 L606.8,766 L607.8,766 L608.8,766 L609.8,766 L610.8,766 L611.8,766.1 L612.8,766.1 L613.8,766.1 L614.8,766.1 L615.8,766.1 L616.8,766.1 L617.8,766.1 L618.8,766.1 L619.8,766.1 L620.8,766.1 L621.8,766.1 L622.8,766.1 L623.8,766.2 L624.8,766.2 L625.8,766.2 L626.8,766.2 L627.8,766.2 L628.8,766.2 L629.8,766.2 L630.8,766.2 L631.8,766.2 L632.8,766.2 L633.8,766.2 L634.8,766.3 L635.8,766.3 L636.8,766.3 L637.8,766.3 L638.8,766.3 L639.8,766.3 L640.8,766.3 L641.8,766.3 L642.8,766.3 L643.8,766.3 L644.8,766.3 L645.8,766.4 L646.8,766.4 L647.8,766.4 L648.8,766.4 L649.8,766.4 L650.8,766.4 L651.8,766.4 L652.8,766.4 L653.8,766.4 L654.8,766.4 L655.8,766.4 L656.8,766.5 L657.8,766.5 L658.8,766.5 L659.8,766.5 L660.8,766.5 L661.8,766.5 L662.8,766.5 L663.8,766.5 L664.8,766.5 L665.8,766.5 L666.8,766.5 L667.8,766.5 L668.8,766.6 L669.8,766.6 L670.8,766.6 L671.8,766.6 L672.8,766.6 L673.8,766.6 L674.8,766.6 L675.8,766.6 L676.8,766.6 L677.8,766.6 L678.8,766.6 L679.8,766.7 L680.8,766.7 L681.8,766.7 L682.8,766.7 L683.8,766.7 L684.8,766.7 L685.8,766.7 L686.8,766.7 L687.8,766.7 L688.8,766.7 L689.8,766.7 L690.8,766.7 L691.8,766.8 L692.8,766.8 L693.8,766.8 L694.8,766.8 L695.8,766.8 L696.8,766.8 L697.8,766.8 L698.8,766.8 L699.8,766.8 L700.8,766.8 L701.8,766.8 L702.8,766.9 L703.8,766.9 L704.8,766.9 L705.8,766.9 L706.8,766.9 L707.8,766.9 L708.8,766.9 L709.8,766.9 L710.8,766.9 L711.8,766.9 L712.8,766.9 L713.8,766.9 L714.8,767 L715.8,767 L716.8,767 L717.8,767 L718.8,767 L719.8,767 L720.8,767 L721.8,767 L722.8,767 L723.8,767 L724.8,767 L725.8,767 L726.8,767.1 L727.8,767.1 L728.8,767.1 L729.8,767.1 L730.8,767.1 L731.8,767.1 L732.8,767.1 L733.8,767.1 L734.8,767.1 L735.8,767.1 L736.8,767.1 L737.8,767.1 L738.8,767.2 L739.8,767.2 L740.8,767.2 L741.8,767.2 L742.8,767.2 L743.8,767.2 L744.7,767.2" fill="none" stroke="#0000FF" stroke-width="1.6" stroke-linejoin="round" stroke-linecap="round"/>
<path d="M318.8,760.1 L319.8,760.1 L320.8,760.1 L321.8,760 L322.8,760 L323.8,760 L324.8,760 L325.8,759.9 L326.8,759.9 L327.8,759.8 L328.8,759.8 L329.8,759.8 L330.8,759.7 L331.8,759.7 L332.8,759.6 L333.8,759.6 L334.8,759.6 L335.8,759.5 L336.8,759.5 L337.8,759.4 L338.8,759.4 L339.8,759.3 L340.8,759.2 L341.8,759.2 L342.8,759.1 L343.8,759.1 L344.8,759 L345.8,758.9 L346.8,758.8 L347.8,758.8 L348.8,758.7 L349.8,758.6 L350.8,758.5 L351.8,758.4 L352.8,758.3 L353.8,758.2 L354.8,758.1 L355.8,758 L356.8,757.8 L357.8,757.7 L358.8,757.6 L359.8,757.4 L360.8,757.2 L361.8,757.1 L362.8,756.9 L363.8,756.7 L364.8,756.5 L365.8,756.2 L366.8,756 L367.8,755.7 L368.8,755.4 L369.8,755.1 L370.8,754.7 L371.8,754.4 L372.8,754 L373.8,753.5 L374.8,753 L375.8,752.5 L376.8,752 L377.8,751.4 L378.8,750.8 L379.8,750.1 L380.8,749.4 L381.8,748.6 L382.8,747.8 L383.8,746.9 L384.8,745.9 L385.8,744.9 L386.8,743.9 L387.8,742.7 L388.8,741.6 L389.8,740.3 L390.8,739 L391.8,737.6 L392.8,736.2 L393.8,734.7 L394.8,733.1 L395.8,731.5 L396.8,729.8 L397.8,728.1 L398.8,726.3 L399.8,724.5 L400.8,722.6 L401.8,720.7 L402.8,718.8 L403.8,716.9 L404.8,715 L405.8,713.1 L406.8,711.2 L407.8,709.4 L408.8,707.6 L409.8,705.9 L410.8,704.2 L411.8,702.7 L412.8,701.3 L413.8,700 L414.8,698.9 L415.8,698 L416.8,697.2 L417.8,696.6 L418.8,696.3 L419.8,696.1 L420.8,696.2 L421.8,696.5 L422.8,697 L423.8,697.7 L424.8,698.5 L425.8,699.6 L426.8,700.8 L427.8,702.1 L428.8,703.6 L429.8,705.1 L430.8,706.8 L431.8,708.5 L432.8,710.2 L433.8,712 L434.8,713.8 L435.8,715.6 L436.8,717.4 L437.8,719.2 L438.8,721 L439.8,722.7 L440.8,724.3 L441.8,725.9 L442.8,727.4 L443.8,728.9 L444.8,730.3 L445.8,731.6 L446.8,732.7 L447.8,733.8 L448.8,734.8 L449.8,735.7 L450.8,736.5 L451.8,737.2 L452.8,737.8 L453.8,738.3 L454.8,738.7 L455.8,739.1 L456.8,739.4 L457.8,739.6 L458.8,739.8 L459.8,739.9 L460.8,740.1 L461.8,740.2 L462.8,740.2 L463.8,740.3 L464.8,740.4 L465.8,740.4 L466.8,740.5 L467.8,740.5 L468.8,740.5 L469.8,740.4 L470.8,740.3 L471.8,740.2 L472.8,739.9 L473.8,739.6 L474.8,739.2 L475.8,738.7 L476.8,738 L477.8,737.2 L478.8,736.3 L479.8,735.3 L480.8,734.1 L481.8,732.8 L482.8,731.3 L483.8,729.7 L484.8,728 L485.8,726.1 L486.8,724.1 L487.8,722 L488.8,719.7 L489.8,717.4 L490.8,714.9 L491.8,712.3 L492.8,709.6 L493.8,706.8 L494.8,704 L495.8,701.1 L496.8,698.1 L497.8,695.1 L498.8,692.1 L499.8,689.1 L500.8,686.1 L501.8,683.2 L502.8,680.3 L503.8,677.5 L504.8,674.9 L505.8,672.4 L506.8,670.1 L507.8,668 L508.8,666.2 L509.8,664.7 L510.8,663.5 L511.8,662.6 L512.8,662.1 L513.8,661.9 L514.8,662.1 L515.8,662.7 L516.8,663.6 L517.8,664.9 L518.8,666.4 L519.8,668.3 L520.8,670.4 L521.8,672.8 L522.8,675.4 L523.8,678.1 L524.8,680.9 L525.8,683.9 L526.8,687 L527.8,690.1 L528.8,693.2 L529.8,696.3 L530.8,699.4 L531.8,702.5 L532.8,705.6 L533.8,708.6 L534.8,711.5 L535.8,714.3 L536.8,717.1 L537.8,719.7 L538.8,722.3 L539.8,724.7 L540.8,727.1 L541.8,729.3 L542.8,731.4 L543.8,733.5 L544.8,735.4 L545.8,737.2 L546.8,738.9 L547.8,740.5 L548.8,742 L549.8,743.4 L550.8,744.7 L551.8,745.9 L552.8,747 L553.8,748.1 L554.8,749.1 L555.8,750 L556.8,750.8 L557.8,751.6 L558.8,752.3 L559.8,752.9 L560.8,753.5 L561.8,754.1 L562.8,754.6 L563.8,755.1 L564.8,755.5 L565.8,755.9 L566.8,756.3 L567.8,756.6 L568.8,756.9 L569.8,757.2 L570.8,757.5 L571.8,757.7 L572.8,757.9 L573.8,758.2 L574.8,758.4 L575.8,758.5 L576.8,758.7 L577.8,758.9 L578.8,759 L579.8,759.1 L580.8,759.3 L581.8,759.4 L582.8,759.5 L583.8,759.6 L584.8,759.7 L585.8,759.8 L586.8,759.9 L587.8,760 L588.8,760 L589.8,760.1 L590.8,760.2 L591.8,760.2 L592.8,760.3 L593.8,760.3 L594.8,760.4 L595.8,760.4 L596.8,760.5 L597.8,760.5 L598.8,760.5 L599.8,760.6 L600.8,760.6 L601.8,760.6 L602.8,760.6 L603.8,760.7 L604.8,760.7 L605.8,760.7 L606.8,760.7 L607.8,760.7 L608.8,760.7 L609.8,760.7 L610.8,760.7 L611.8,760.8 L612.8,760.8 L613.8,760.8 L614.8,760.8 L615.8,760.8 L616.8,760.8 L617.8,760.8 L618.8,760.7 L619.8,760.7 L620.8,760.7 L621.8,760.7 L622.8,760.7 L623.8,760.7 L624.8,760.7 L625.8,760.7 L626.8,760.7 L627.8,760.7 L628.8,760.7 L629.8,760.7 L630.8,760.7 L631.8,760.7 L632.8,760.7 L633.8,760.7 L634.8,760.7 L635.8,760.7 L636.8,760.7 L637.8,760.7 L638.8,760.7 L639.8,760.7 L640.8,760.7 L641.8,760.7 L642.8,760.7 L643.8,760.7 L644.8,760.7 L645.8,760.8 L646.8,760.8 L647.8,760.8 L648.8,760.8 L649.8,760.8 L650.8,760.9 L651.8,760.9 L652.8,760.9 L653.8,761 L654.8,761 L655.8,761 L656.8,761.1 L657.8,761.1 L658.8,761.2 L659.8,761.2 L660.8,761.3 L661.8,761.3 L662.8,761.4 L663.8,761.4 L664.8,761.5 L665.8,761.5 L666.8,761.6 L667.8,761.7 L668.8,761.7 L669.8,761.8 L670.8,761.8 L671.8,761.9 L672.8,762 L673.8,762 L674.8,762.1 L675.8,762.2 L676.8,762.3 L677.8,762.3 L678.8,762.4 L679.8,762.5 L680.8,762.5 L681.8,762.6 L682.8,762.7 L683.8,762.8 L684.8,762.8 L685.8,762.9 L686.8,763 L687.8,763.1 L688.8,763.1 L689.8,763.2 L690.8,763.3 L691.8,763.4 L692.8,763.4 L693.8,763.5 L694.8,763.6 L695.8,763.6 L696.8,763.7 L697.8,763.8 L698.8,763.9 L699.8,763.9 L700.8,764 L701.8,764.1 L702.8,764.1 L703.8,764.2 L704.8,764.3 L705.8,764.3 L706.8,764.4 L707.8,764.5 L708.8,764.5 L709.8,764.6 L710.8,764.6 L711.8,764.7 L712.8,764.8 L713.8,764.8 L714.8,764.9 L715.8,764.9 L716.8,765 L717.8,765 L718.8,765.1 L719.8,765.1 L720.8,765.2 L721.8,765.2 L722.8,765.3 L723.8,765.3 L724.8,765.4 L725.8,765.4 L726.8,765.5 L727.8,765.5 L728.8,765.6 L729.8,765.6 L730.8,765.6 L731.8,765.7 L732.8,765.7 L733.8,765.8 L734.8,765.8 L735.8,765.8 L736.8,765.9 L737.8,765.9 L738.8,765.9 L739.8,766 L740.8,766 L741.8,766 L742.8,766.1 L743.8,766.1 L744.7,766.1" fill="none" stroke="#FF0000" stroke-width="2.0" stroke-linejoin="round" stroke-linecap="round"/>
<path d="M318.8,760.8 L319.8,760.7 L320.8,760.7 L321.8,760.7 L322.8,760.7 L323.8,760.7 L324.8,760.6 L325.8,760.6 L326.8,760.6 L327.8,760.5 L328.8,760.5 L329.8,760.5 L330.8,760.5 L331.8,760.4 L332.8,760.4 L333.8,760.3 L334.8,760.3 L335.8,760.3 L336.8,760.2 L337.8,760.2 L338.8,760.1 L339.8,760.1 L340.8,760 L341.8,760 L342.8,759.9 L343.8,759.9 L344.8,759.8 L345.8,759.8 L346.8,759.7 L347.8,759.6 L348.8,759.6 L349.8,759.5 L350.8,759.4 L351.8,759.3 L352.8,759.2 L353.8,759.1 L354.8,759 L355.8,758.9 L356.8,758.8 L357.8,758.7 L358.8,758.6 L359.8,758.4 L360.8,758.3 L361.8,758.1 L362.8,757.9 L363.8,757.7 L364.8,757.5 L365.8,757.3 L366.8,757.1 L367.8,756.8 L368.8,756.5 L369.8,756.2 L370.8,755.9 L371.8,755.5 L372.8,755.1 L373.8,754.7 L374.8,754.3 L375.8,753.8 L376.8,753.2 L377.8,752.7 L378.8,752.1 L379.8,751.4 L380.8,750.7 L381.8,749.9 L382.8,749.1 L383.8,748.3 L384.8,747.3 L385.8,746.4 L386.8,745.3 L387.8,744.2 L388.8,743 L389.8,741.8 L390.8,740.5 L391.8,739.2 L392.8,737.8 L393.8,736.3 L394.8,734.7 L395.8,733.1 L396.8,731.5 L397.8,729.8 L398.8,728 L399.8,726.3 L400.8,724.4 L401.8,722.6 L402.8,720.7 L403.8,718.8 L404.8,717 L405.8,715.1 L406.8,713.2 L407.8,711.4 L408.8,709.7 L409.8,708 L410.8,706.4 L411.8,704.9 L412.8,703.5 L413.8,702.3 L414.8,701.2 L415.8,700.3 L416.8,699.6 L417.8,699.1 L418.8,698.8 L419.8,698.7 L420.8,698.8 L421.8,699.2 L422.8,699.7 L423.8,700.4 L424.8,701.4 L425.8,702.5 L426.8,703.7 L427.8,705.1 L428.8,706.7 L429.8,708.3 L430.8,710 L431.8,711.8 L432.8,713.6 L433.8,715.5 L434.8,717.4 L435.8,719.3 L436.8,721.2 L437.8,723.1 L438.8,725 L439.8,726.9 L440.8,728.7 L441.8,730.4 L442.8,732.2 L443.8,733.9 L444.8,735.5 L445.8,737 L446.8,738.6 L447.8,740 L448.8,741.4 L449.8,742.7 L450.8,743.9 L451.8,745.1 L452.8,746.3 L453.8,747.3 L454.8,748.3 L455.8,749.3 L456.8,750.2 L457.8,751 L458.8,751.8 L459.8,752.5 L460.8,753.2 L461.8,753.8 L462.8,754.4 L463.8,755 L464.8,755.5 L465.8,756 L466.8,756.4 L467.8,756.8 L468.8,757.2 L469.8,757.6 L470.8,757.9 L471.8,758.2 L472.8,758.5 L473.8,758.7 L474.8,759 L475.8,759.2 L476.8,759.4 L477.8,759.6 L478.8,759.8 L479.8,760 L480.8,760.1 L481.8,760.3 L482.8,760.4 L483.8,760.6 L484.8,760.7 L485.8,760.8 L486.8,760.9 L487.8,761 L488.8,761.2 L489.8,761.3 L490.8,761.4 L491.8,761.5 L492.8,761.5 L493.8,761.6 L494.8,761.7 L495.8,761.8 L496.8,761.9 L497.8,762 L498.8,762.1 L499.8,762.1 L500.8,762.2 L501.8,762.3 L502.8,762.3 L503.8,762.4 L504.8,762.5 L505.8,762.6 L506.8,762.6 L507.8,762.7 L508.8,762.8 L509.8,762.8 L510.8,762.9 L511.8,762.9 L512.8,763 L513.8,763.1 L514.8,763.1 L515.8,763.2 L516.8,763.2 L517.8,763.3 L518.8,763.3 L519.8,763.4 L520.8,763.5 L521.8,763.5 L522.8,763.6 L523.8,763.6 L524.8,763.6 L525.8,763.7 L526.8,763.7 L527.8,763.8 L528.8,763.8 L529.8,763.9 L530.8,763.9 L531.8,764 L532.8,764 L533.8,764 L534.8,764.1 L535.8,764.1 L536.8,764.1 L537.8,764.2 L538.8,764.2 L539.8,764.2 L540.8,764.3 L541.8,764.3 L542.8,764.3 L543.8,764.4 L544.8,764.4 L545.8,764.4 L546.8,764.4 L547.8,764.5 L548.8,764.5 L549.8,764.5 L550.8,764.6 L551.8,764.6 L552.8,764.6 L553.8,764.6 L554.8,764.6 L555.8,764.7 L556.8,764.7 L557.8,764.7 L558.8,764.7 L559.8,764.8 L560.8,764.8 L561.8,764.8 L562.8,764.8 L563.8,764.8 L564.8,764.9 L565.8,764.9 L566.8,764.9 L567.8,764.9 L568.8,764.9 L569.8,765 L570.8,765 L571.8,765 L572.8,765 L573.8,765 L574.8,765 L575.8,765.1 L576.8,765.1 L577.8,765.1 L578.8,765.1 L579.8,765.1 L580.8,765.2 L581.8,765.2 L582.8,765.2 L583.8,765.2 L584.8,765.2 L585.8,765.2 L586.8,765.2 L587.8,765.3 L588.8,765.3 L589.8,765.3 L590.8,765.3 L591.8,765.3 L592.8,765.3 L593.8,765.4 L594.8,765.4 L595.8,765.4 L596.8,765.4 L597.8,765.4 L598.8,765.4 L599.8,765.4 L600.8,765.5 L601.8,765.5 L602.8,765.5 L603.8,765.5 L604.8,765.5 L605.8,765.5 L606.8,765.5 L607.8,765.6 L608.8,765.6 L609.8,765.6 L610.8,765.6 L611.8,765.6 L612.8,765.6 L613.8,765.6 L614.8,765.7 L615.8,765.7 L616.8,765.7 L617.8,765.7 L618.8,765.7 L619.8,765.7 L620.8,765.7 L621.8,765.7 L622.8,765.8 L623.8,765.8 L624.8,765.8 L625.8,765.8 L626.8,765.8 L627.8,765.8 L628.8,765.8 L629.8,765.8 L630.8,765.9 L631.8,765.9 L632.8,765.9 L633.8,765.9 L634.8,765.9 L635.8,765.9 L636.8,765.9 L637.8,765.9 L638.8,766 L639.8,766 L640.8,766 L641.8,766 L642.8,766 L643.8,766 L644.8,766 L645.8,766 L646.8,766 L647.8,766.1 L648.8,766.1 L649.8,766.1 L650.8,766.1 L651.8,766.1 L652.8,766.1 L653.8,766.1 L654.8,766.1 L655.8,766.1 L656.8,766.2 L657.8,766.2 L658.8,766.2 L659.8,766.2 L660.8,766.2 L661.8,766.2 L662.8,766.2 L663.8,766.2 L664.8,766.3 L665.8,766.3 L666.8,766.3 L667.8,766.3 L668.8,766.3 L669.8,766.3 L670.8,766.3 L671.8,766.3 L672.8,766.3 L673.8,766.3 L674.8,766.4 L675.8,766.4 L676.8,766.4 L677.8,766.4 L678.8,766.4 L679.8,766.4 L680.8,766.4 L681.8,766.4 L682.8,766.4 L683.8,766.5 L684.8,766.5 L685.8,766.5 L686.8,766.5 L687.8,766.5 L688.8,766.5 L689.8,766.5 L690.8,766.5 L691.8,766.5 L692.8,766.5 L693.8,766.6 L694.8,766.6 L695.8,766.6 L696.8,766.6 L697.8,766.6 L698.8,766.6 L699.8,766.6 L700.8,766.6 L701.8,766.6 L702.8,766.6 L703.8,766.7 L704.8,766.7 L705.8,766.7 L706.8,766.7 L707.8,766.7 L708.8,766.7 L709.8,766.7 L710.8,766.7 L711.8,766.7 L712.8,766.7 L713.8,766.8 L714.8,766.8 L715.8,766.8 L716.8,766.8 L717.8,766.8 L718.8,766.8 L719.8,766.8 L720.8,766.8 L721.8,766.8 L722.8,766.8 L723.8,766.9 L724.8,766.9 L725.8,766.9 L726.8,766.9 L727.8,766.9 L728.8,766.9 L729.8,766.9 L730.8,766.9 L731.8,766.9 L732.8,766.9 L733.8,766.9 L734.8,767 L735.8,767 L736.8,767 L737.8,767 L738.8,767 L739.8,767 L740.8,767 L741.8,767 L742.8,767 L743.8,767 L744.7,767" fill="none" stroke="#808000" stroke-width="2.0" stroke-linejoin="round" stroke-linecap="round"/>
<path d="M318.8,761.7 L319.8,761.7 L320.8,761.7 L321.8,761.7 L322.8,761.7 L323.8,761.7 L324.8,761.7 L325.8,761.7 L326.8,761.7 L327.8,761.7 L328.8,761.7 L329.8,761.7 L330.8,761.7 L331.8,761.7 L332.8,761.7 L333.8,761.7 L334.8,761.7 L335.8,761.7 L336.8,761.7 L337.8,761.7 L338.8,761.7 L339.8,761.7 L340.8,761.7 L341.8,761.7 L342.8,761.7 L343.8,761.7 L344.8,761.7 L345.8,761.7 L346.8,761.7 L347.8,761.7 L348.8,761.7 L349.8,761.7 L350.8,761.7 L351.8,761.7 L352.8,761.7 L353.8,761.7 L354.8,761.7 L355.8,761.7 L356.8,761.7 L357.8,761.7 L358.8,761.7 L359.8,761.7 L360.8,761.7 L361.8,761.7 L362.8,761.7 L363.8,761.7 L364.8,761.7 L365.8,761.7 L366.8,761.7 L367.8,761.6 L368.8,761.6 L369.8,761.6 L370.8,761.6 L371.8,761.6 L372.8,761.6 L373.8,761.6 L374.8,761.6 L375.8,761.6 L376.8,761.6 L377.8,761.6 L378.8,761.6 L379.8,761.6 L380.8,761.6 L381.8,761.5 L382.8,761.5 L383.8,761.5 L384.8,761.5 L385.8,761.5 L386.8,761.5 L387.8,761.5 L388.8,761.5 L389.8,761.5 L390.8,761.5 L391.8,761.4 L392.8,761.4 L393.8,761.4 L394.8,761.4 L395.8,761.4 L396.8,761.4 L397.8,761.4 L398.8,761.3 L399.8,761.3 L400.8,761.3 L401.8,761.3 L402.8,761.3 L403.8,761.3 L404.8,761.2 L405.8,761.2 L406.8,761.2 L407.8,761.2 L408.8,761.2 L409.8,761.1 L410.8,761.1 L411.8,761.1 L412.8,761.1 L413.8,761.1 L414.8,761 L415.8,761 L416.8,761 L417.8,760.9 L418.8,760.9 L419.8,760.9 L420.8,760.8 L421.8,760.8 L422.8,760.8 L423.8,760.7 L424.8,760.7 L425.8,760.7 L426.8,760.6 L427.8,760.6 L428.8,760.5 L429.8,760.5 L430.8,760.4 L431.8,760.4 L432.8,760.3 L433.8,760.2 L434.8,760.2 L435.8,760.1 L436.8,760 L437.8,759.9 L438.8,759.9 L439.8,759.8 L440.8,759.7 L441.8,759.6 L442.8,759.5 L443.8,759.4 L444.8,759.3 L445.8,759.2 L446.8,759 L447.8,758.9 L448.8,758.8 L449.8,758.6 L450.8,758.5 L451.8,758.3 L452.8,758.1 L453.8,757.9 L454.8,757.7 L455.8,757.5 L456.8,757.3 L457.8,757 L458.8,756.7 L459.8,756.4 L460.8,756.1 L461.8,755.7 L462.8,755.4 L463.8,754.9 L464.8,754.5 L465.8,754 L466.8,753.5 L467.8,752.9 L468.8,752.3 L469.8,751.6 L470.8,750.8 L471.8,750 L472.8,749.2 L473.8,748.2 L474.8,747.2 L475.8,746.1 L476.8,744.9 L477.8,743.7 L478.8,742.3 L479.8,740.9 L480.8,739.3 L481.8,737.7 L482.8,735.9 L483.8,734.1 L484.8,732.1 L485.8,730 L486.8,727.8 L487.8,725.5 L488.8,723.1 L489.8,720.7 L490.8,718.1 L491.8,715.4 L492.8,712.6 L493.8,709.7 L494.8,706.8 L495.8,703.8 L496.8,700.8 L497.8,697.7 L498.8,694.7 L499.8,691.6 L500.8,688.6 L501.8,685.6 L502.8,682.6 L503.8,679.8 L504.8,677.1 L505.8,674.6 L506.8,672.3 L507.8,670.2 L508.8,668.3 L509.8,666.7 L510.8,665.5 L511.8,664.6 L512.8,664 L513.8,663.8 L514.8,664 L515.8,664.5 L516.8,665.4 L517.8,666.7 L518.8,668.2 L519.8,670 L520.8,672.1 L521.8,674.5 L522.8,677 L523.8,679.7 L524.8,682.6 L525.8,685.5 L526.8,688.5 L527.8,691.6 L528.8,694.7 L529.8,697.8 L530.8,700.9 L531.8,704 L532.8,707 L533.8,710 L534.8,712.9 L535.8,715.7 L536.8,718.5 L537.8,721.1 L538.8,723.7 L539.8,726.1 L540.8,728.4 L541.8,730.7 L542.8,732.8 L543.8,734.8 L544.8,736.7 L545.8,738.5 L546.8,740.2 L547.8,741.8 L548.8,743.3 L549.8,744.7 L550.8,746 L551.8,747.2 L552.8,748.3 L553.8,749.4 L554.8,750.4 L555.8,751.3 L556.8,752.1 L557.8,752.9 L558.8,753.6 L559.8,754.3 L560.8,754.9 L561.8,755.4 L562.8,756 L563.8,756.4 L564.8,756.9 L565.8,757.3 L566.8,757.7 L567.8,758 L568.8,758.4 L569.8,758.7 L570.8,758.9 L571.8,759.2 L572.8,759.4 L573.8,759.7 L574.8,759.9 L575.8,760.1 L576.8,760.3 L577.8,760.5 L578.8,760.6 L579.8,760.8 L580.8,761 L581.8,761.1 L582.8,761.2 L583.8,761.4 L584.8,761.5 L585.8,761.6 L586.8,761.7 L587.8,761.9 L588.8,762 L589.8,762.1 L590.8,762.2 L591.8,762.3 L592.8,762.4 L593.8,762.5 L594.8,762.5 L595.8,762.6 L596.8,762.7 L597.8,762.8 L598.8,762.9 L599.8,763 L600.8,763 L601.8,763.1 L602.8,763.2 L603.8,763.2 L604.8,763.3 L605.8,763.4 L606.8,763.4 L607.8,763.5 L608.8,763.5 L609.8,763.6 L610.8,763.7 L611.8,763.7 L612.8,763.8 L613.8,763.8 L614.8,763.9 L615.8,763.9 L616.8,764 L617.8,764 L618.8,764.1 L619.8,764.1 L620.8,764.2 L621.8,764.2 L622.8,764.2 L623.8,764.3 L624.8,764.3 L625.8,764.4 L626.8,764.4 L627.8,764.4 L628.8,764.5 L629.8,764.5 L630.8,764.6 L631.8,764.6 L632.8,764.6 L633.8,764.7 L634.8,764.7 L635.8,764.7 L636.8,764.8 L637.8,764.8 L638.8,764.8 L639.8,764.9 L640.8,764.9 L641.8,764.9 L642.8,765 L643.8,765 L644.8,765 L645.8,765 L646.8,765.1 L647.8,765.1 L648.8,765.1 L649.8,765.1 L650.8,765.2 L651.8,765.2 L652.8,765.2 L653.8,765.3 L654.8,765.3 L655.8,765.3 L656.8,765.3 L657.8,765.4 L658.8,765.4 L659.8,765.4 L660.8,765.4 L661.8,765.4 L662.8,765.5 L663.8,765.5 L664.8,765.5 L665.8,765.5 L666.8,765.6 L667.8,765.6 L668.8,765.6 L669.8,765.6 L670.8,765.6 L671.8,765.7 L672.8,765.7 L673.8,765.7 L674.8,765.7 L675.8,765.7 L676.8,765.8 L677.8,765.8 L678.8,765.8 L679.8,765.8 L680.8,765.8 L681.8,765.9 L682.8,765.9 L683.8,765.9 L684.8,765.9 L685.8,765.9 L686.8,765.9 L687.8,766 L688.8,766 L689.8,766 L690.8,766 L691.8,766 L692.8,766 L693.8,766.1 L694.8,766.1 L695.8,766.1 L696.8,766.1 L697.8,766.1 L698.8,766.1 L699.8,766.2 L700.8,766.2 L701.8,766.2 L702.8,766.2 L703.8,766.2 L704.8,766.2 L705.8,766.2 L706.8,766.3 L707.8,766.3 L708.8,766.3 L709.8,766.3 L710.8,766.3 L711.8,766.3 L712.8,766.3 L713.8,766.4 L714.8,766.4 L715.8,766.4 L716.8,766.4 L717.8,766.4 L718.8,766.4 L719.8,766.4 L720.8,766.5 L721.8,766.5 L722.8,766.5 L723.8,766.5 L724.8,766.5 L725.8,766.5 L726.8,766.5 L727.8,766.6 L728.8,766.6 L729.8,766.6 L730.8,766.6 L731.8,766.6 L732.8,766.6 L733.8,766.6 L734.8,766.6 L735.8,766.7 L736.8,766.7 L737.8,766.7 L738.8,766.7 L739.8,766.7 L740.8,766.7 L741.8,766.7 L742.8,766.7 L743.8,766.8 L744.7,766.8" fill="none" stroke="#FF00FF" stroke-width="2.0" stroke-linejoin="round" stroke-linecap="round"/>
<path d="M318.8,762.3 L319.8,762.3 L320.8,762.3 L321.8,762.3 L322.8,762.3 L323.8,762.3 L324.8,762.3 L325.8,762.3 L326.8,762.3 L327.8,762.3 L328.8,762.4 L329.8,762.4 L330.8,762.4 L331.8,762.4 L332.8,762.4 L333.8,762.4 L334.8,762.4 L335.8,762.4 L336.8,762.4 L337.8,762.4 L338.8,762.4 L339.8,762.4 L340.8,762.5 L341.8,762.5 L342.8,762.5 L343.8,762.5 L344.8,762.5 L345.8,762.5 L346.8,762.5 L347.8,762.5 L348.8,762.5 L349.8,762.5 L350.8,762.5 L351.8,762.5 L352.8,762.6 L353.8,762.6 L354.8,762.6 L355.8,762.6 L356.8,762.6 L357.8,762.6 L358.8,762.6 L359.8,762.6 L360.8,762.6 L361.8,762.6 L362.8,762.6 L363.8,762.7 L364.8,762.7 L365.8,762.7 L366.8,762.7 L367.8,762.7 L368.8,762.7 L369.8,762.7 L370.8,762.7 L371.8,762.7 L372.8,762.7 L373.8,762.7 L374.8,762.8 L375.8,762.8 L376.8,762.8 L377.8,762.8 L378.8,762.8 L379.8,762.8 L380.8,762.8 L381.8,762.8 L382.8,762.8 L383.8,762.8 L384.8,762.8 L385.8,762.9 L386.8,762.9 L387.8,762.9 L388.8,762.9 L389.8,762.9 L390.8,762.9 L391.8,762.9 L392.8,762.9 L393.8,762.9 L394.8,763 L395.8,763 L396.8,763 L397.8,763 L398.8,763 L399.8,763 L400.8,763 L401.8,763.1 L402.8,763.1 L403.8,763.1 L404.8,763.1 L405.8,763.1 L406.8,763.1 L407.8,763.1 L408.8,763.2 L409.8,763.2 L410.8,763.2 L411.8,763.2 L412.8,763.2 L413.8,763.2 L414.8,763.3 L415.8,763.3 L416.8,763.3 L417.8,763.3 L418.8,763.3 L419.8,763.3 L420.8,763.4 L421.8,763.4 L422.8,763.4 L423.8,763.4 L424.8,763.4 L425.8,763.5 L426.8,763.5 L427.8,763.5 L428.8,763.5 L429.8,763.5 L430.8,763.5 L431.8,763.6 L432.8,763.6 L433.8,763.6 L434.8,763.6 L435.8,763.6 L436.8,763.6 L437.8,763.6 L438.8,763.7 L439.8,763.7 L440.8,763.7 L441.8,763.7 L442.8,763.7 L443.8,763.7 L444.8,763.7 L445.8,763.8 L446.8,763.8 L447.8,763.8 L448.8,763.8 L449.8,763.8 L450.8,763.8 L451.8,763.8 L452.8,763.8 L453.8,763.8 L454.8,763.9 L455.8,763.9 L456.8,763.9 L457.8,763.9 L458.8,763.9 L459.8,763.9 L460.8,763.9 L461.8,763.9 L462.8,763.9 L463.8,764 L464.8,764 L465.8,764 L466.8,764 L467.8,764 L468.8,764 L469.8,764 L470.8,764 L471.8,764 L472.8,764 L473.8,764.1 L474.8,764.1 L475.8,764.1 L476.8,764.1 L477.8,764.1 L478.8,764.1 L479.8,764.1 L480.8,764.1 L481.8,764.1 L482.8,764.2 L483.8,764.2 L484.8,764.2 L485.8,764.2 L486.8,764.2 L487.8,764.2 L488.8,764.2 L489.8,764.2 L490.8,764.3 L491.8,764.3 L492.8,764.3 L493.8,764.3 L494.8,764.3 L495.8,764.3 L496.8,764.3 L497.8,764.4 L498.8,764.4 L499.8,764.4 L500.8,764.4 L501.8,764.4 L502.8,764.5 L503.8,764.5 L504.8,764.5 L505.8,764.5 L506.8,764.5 L507.8,764.5 L508.8,764.6 L509.8,764.6 L510.8,764.6 L511.8,764.6 L512.8,764.7 L513.8,764.7 L514.8,764.7 L515.8,764.7 L516.8,764.7 L517.8,764.8 L518.8,764.8 L519.8,764.8 L520.8,764.8 L521.8,764.8 L522.8,764.9 L523.8,764.9 L524.8,764.9 L525.8,764.9 L526.8,764.9 L527.8,764.9 L528.8,765 L529.8,765 L530.8,765 L531.8,765 L532.8,765 L533.8,765 L534.8,765 L535.8,765 L536.8,765 L537.8,765.1 L538.8,765.1 L539.8,765.1 L540.8,765.1 L541.8,765.1 L542.8,765.1 L543.8,765.1 L544.8,765.1 L545.8,765.1 L546.8,765.1 L547.8,765.1 L548.8,765.1 L549.8,765.1 L550.8,765.1 L551.8,765.1 L552.8,765.1 L553.8,765.1 L554.8,765.1 L555.8,765.1 L556.8,765.1 L557.8,765.1 L558.8,765.1 L559.8,765.1 L560.8,765 L561.8,765 L562.8,765 L563.8,765 L564.8,765 L565.8,765 L566.8,765 L567.8,765 L568.8,765 L569.8,764.9 L570.8,764.9 L571.8,764.9 L572.8,764.9 L573.8,764.9 L574.8,764.8 L575.8,764.8 L576.8,764.8 L577.8,764.8 L578.8,764.8 L579.8,764.7 L580.8,764.7 L581.8,764.7 L582.8,764.7 L583.8,764.6 L584.8,764.6 L585.8,764.6 L586.8,764.5 L587.8,764.5 L588.8,764.5 L589.8,764.4 L590.8,764.4 L591.8,764.4 L592.8,764.3 L593.8,764.3 L594.8,764.3 L595.8,764.2 L596.8,764.2 L597.8,764.1 L598.8,764.1 L599.8,764.1 L600.8,764 L601.8,764 L602.8,763.9 L603.8,763.9 L604.8,763.8 L605.8,763.8 L606.8,763.8 L607.8,763.7 L608.8,763.7 L609.8,763.6 L610.8,763.6 L611.8,763.5 L612.8,763.5 L613.8,763.4 L614.8,763.4 L615.8,763.3 L616.8,763.3 L617.8,763.3 L618.8,763.2 L619.8,763.2 L620.8,763.1 L621.8,763.1 L622.8,763 L623.8,763 L624.8,762.9 L625.8,762.9 L626.8,762.9 L627.8,762.8 L628.8,762.8 L629.8,762.7 L630.8,762.7 L631.8,762.7 L632.8,762.6 L633.8,762.6 L634.8,762.6 L635.8,762.6 L636.8,762.5 L637.8,762.5 L638.8,762.5 L639.8,762.5 L640.8,762.4 L641.8,762.4 L642.8,762.4 L643.8,762.4 L644.8,762.4 L645.8,762.4 L646.8,762.4 L647.8,762.4 L648.8,762.4 L649.8,762.4 L650.8,762.4 L651.8,762.4 L652.8,762.4 L653.8,762.4 L654.8,762.5 L655.8,762.5 L656.8,762.5 L657.8,762.5 L658.8,762.5 L659.8,762.6 L660.8,762.6 L661.8,762.6 L662.8,762.7 L663.8,762.7 L664.8,762.8 L665.8,762.8 L666.8,762.8 L667.8,762.9 L668.8,762.9 L669.8,763 L670.8,763 L671.8,763.1 L672.8,763.1 L673.8,763.2 L674.8,763.3 L675.8,763.3 L676.8,763.4 L677.8,763.4 L678.8,763.5 L679.8,763.6 L680.8,763.6 L681.8,763.7 L682.8,763.7 L683.8,763.8 L684.8,763.9 L685.8,763.9 L686.8,764 L687.8,764.1 L688.8,764.1 L689.8,764.2 L690.8,764.2 L691.8,764.3 L692.8,764.4 L693.8,764.4 L694.8,764.5 L695.8,764.6 L696.8,764.6 L697.8,764.7 L698.8,764.7 L699.8,764.8 L700.8,764.9 L701.8,764.9 L702.8,765 L703.8,765 L704.8,765.1 L705.8,765.2 L706.8,765.2 L707.8,765.3 L708.8,765.3 L709.8,765.4 L710.8,765.4 L711.8,765.5 L712.8,765.5 L713.8,765.6 L714.8,765.6 L715.8,765.7 L716.8,765.7 L717.8,765.8 L718.8,765.8 L719.8,765.9 L720.8,765.9 L721.8,766 L722.8,766 L723.8,766 L724.8,766.1 L725.8,766.1 L726.8,766.2 L727.8,766.2 L728.8,766.2 L729.8,766.3 L730.8,766.3 L731.8,766.3 L732.8,766.4 L733.8,766.4 L734.8,766.4 L735.8,766.5 L736.8,766.5 L737.8,766.5 L738.8,766.6 L739.8,766.6 L740.8,766.6 L741.8,766.6 L742.8,766.7 L743.8,766.7 L744.7,766.7" fill="none" stroke="#008080" stroke-width="2.0" stroke-linejoin="round" stroke-linecap="round"/>
<path d="M279,892.8 L281,890 L282.9,893.4 L284.9,893.3 L286.8,888.7 L288.8,889.2 L290.8,889.8 L292.7,889.3 L294.7,888.5 L296.6,889.4 L298.6,897.5 L300.6,899.4 L302.5,904.4 L304.5,902.5 L306.4,899.8 L308.4,899 L310.4,902.1 L312.3,900.1 L314.3,902 L316.2,898.3 L318.2,896.3 L320.2,894.6 L322.1,900.7 L324.1,896.8 L326,894.8 L328,896 L330,893.3 L331.9,893.9 L333.9,890.5 L335.8,891.3 L337.8,887.4 L339.8,885 L341.7,887 L343.7,887.6 L345.6,892 L347.6,892.3 L349.6,892.3 L351.5,890.8 L353.5,889.2 L355.4,890.3 L357.4,891.7 L359.4,888.2 L361.3,884.7 L363.3,883.6 L365.2,884.7 L367.2,886.2 L369.2,890.7 L371.1,885.2 L373.1,883.4 L375,885.1 L377,885.7 L379,881.6 L380.9,877.3 L382.9,875.4 L384.8,875.3 L386.8,875 L388.8,869 L390.7,866.3 L392.7,862.6 L394.6,860.5 L396.6,855.1 L398.6,848.1 L400.5,849.5 L402.5,841.2 L404.4,833.2 L406.4,828.5 L408.4,826.8 L410.3,825.5 L412.3,823.9 L414.2,820.8 L416.2,818.3 L418.2,812.9 L420.1,812.9 L422.1,813.7 L424,816.8 L426,817.2 L428,814.2 L429.9,818.2 L431.9,824.2 L433.8,827.5 L435.8,827.9 L437.8,835.1 L439.7,839.9 L441.7,844 L443.6,851.3 L445.6,849.5 L447.6,852.9 L449.5,857.8 L451.5,859.3 L453.4,860.5 L455.4,865.6 L457.4,868.1 L459.3,868.3 L461.3,868.7 L463.2,866.3 L465.2,866.2 L467.2,872.4 L469.1,870 L471.1,874.2 L473,870.2 L475,867.6 L477,865.8 L478.9,864.9 L480.9,861 L482.8,861.5 L484.8,855.3 L486.8,847.6 L488.7,840 L490.7,835.2 L492.6,830.7 L494.6,828.9 L496.6,819.9 L498.5,808.4 L500.5,804.3 L502.4,792.4 L504.4,789.8 L506.4,779.3 L508.3,777.4 L510.3,776.8 L512.2,772.5 L514.2,770.3 L516.2,774.1 L518.1,770.9 L520.1,775.6 L522,786.7 L524,790.3 L526,799.1 L527.9,808.4 L529.9,815 L531.8,823.5 L533.8,831.5 L535.8,839.9 L537.7,849.2 L539.7,855 L541.6,859.3 L543.6,864.6 L545.6,866.3 L547.5,869.3 L549.5,874.1 L551.4,882.4 L553.4,887.1 L555.4,883.9 L557.3,880 L559.3,884.2 L561.2,888.7 L563.2,889.3 L565.2,889.2 L567.1,890.9 L569.1,889.7 L571,885.9 L573,889.1 L575,889.5 L576.9,893.2 L578.9,897.9 L580.8,899.9 L582.8,896.8 L584.8,893.1 L586.7,893.3 L588.7,894.6 L590.6,892.4 L592.6,895.1 L594.6,899.2 L596.5,900.7 L598.5,898.9 L600.4,900.1 L602.4,901.4 L604.4,897 L606.3,892 L608.3,895.6 L610.2,896.8 L612.2,895 L614.2,893.6 L616.1,890.9 L618.1,894.9 L620,893.5 L622,890.7 L624,892.2 L625.9,892.4 L627.9,889.5 L629.8,884.9 L631.8,887 L633.8,896.4 L635.7,891.4 L637.7,890.1 L639.6,890.5 L641.6,888.8 L643.6,890.2 L645.5,887.2 L647.5,887.4 L649.4,883.6 L651.4,888.3 L653.4,889.8 L655.3,888.9 L657.3,888.9 L659.2,890.2 L661.2,893 L663.2,893.4 L665.1,891.1 L667.1,893.8 L669,891.3 L671,892.8 L673,893.6 L674.9,895.1 L676.9,894.7 L678.8,896 L680.8,895.1 L682.8,896.2 L684.7,902.2 L686.7,903.9 L688.6,904.5 L690.6,903.9 L692.6,900 L694.5,901.4 L696.5,898.5 L698.4,899.9 L700.4,899.5 L702.4,900 L704.3,900.4 L706.3,898 L708.2,896.7 L710.2,901.7 L712.2,904.2 L714.1,904 L716.1,902.5 L718,897.1 L720,899.9 L722,899.9 L723.9,897 L725.9,901 L727.8,901.2 L729.8,897.5 L731.8,898.1 L733.7,900.8 L735.7,902.8 L737.6,902.1 L739.6,897.6 L741.6,897 L743.5,899.2 L745.5,900.8 L747.4,900.3" fill="none" stroke="#000" stroke-width="2.0" stroke-linejoin="round" stroke-linecap="round"/>
<path d="M298,896.7 L299,896.7 L300,896.7 L301,896.7 L302,896.7 L303,896.7 L304,896.8 L305,896.8 L306,896.8 L307,896.8 L308,896.8 L309,896.8 L310,896.8 L311,896.8 L312,896.8 L313,896.8 L314,896.8 L315,896.9 L316,896.9 L317,896.9 L318,896.9 L319,896.9 L320,896.9 L321,896.9 L322,896.9 L323,896.9 L324,896.9 L325,896.9 L326,896.9 L327,897 L328,897 L329,897 L330,897 L331,897 L332,897 L333,897 L334,897 L335,897 L336,897 L337,897 L338,897.1 L339,897.1 L340,897.1 L341,897.1 L342,897.1 L343,897.1 L344,897.1 L345,897.1 L346,897.1 L347,897.1 L348,897.1 L349,897.2 L350,897.2 L351,897.2 L352,897.2 L353,897.2 L354,897.2 L355,897.2 L356,897.2 L357,897.2 L358,897.2 L359,897.3 L360,897.3 L361,897.3 L362,897.3 L363,897.3 L364,897.3 L365,897.3 L366,897.3 L367,897.3 L368,897.3 L369,897.3 L370,897.4 L371,897.4 L372,897.4 L373,897.4 L374,897.4 L375,897.4 L376,897.4 L377,897.4 L378,897.4 L379,897.4 L380,897.5 L381,897.5 L382,897.5 L383,897.5 L384,897.5 L385,897.5 L386,897.5 L387,897.5 L388,897.6 L389,897.6 L390,897.6 L391,897.6 L392,897.6 L393,897.6 L394,897.6 L395,897.6 L396,897.7 L397,897.7 L398,897.7 L399,897.7 L400,897.7 L401,897.7 L402,897.7 L403,897.8 L404,897.8 L405,897.8 L406,897.8 L407,897.8 L408,897.8 L409,897.9 L410,897.9 L411,897.9 L412,897.9 L413,897.9 L414,897.9 L415,898 L416,898 L417,898 L418,898 L419,898 L420,898.1 L421,898.1 L422,898.1 L423,898.1 L424,898.1 L425,898.2 L426,898.2 L427,898.2 L428,898.2 L429,898.2 L430,898.3 L431,898.3 L432,898.3 L433,898.3 L434,898.3 L435,898.4 L436,898.4 L437,898.4 L438,898.4 L439,898.4 L440,898.4 L441,898.5 L442,898.5 L443,898.5 L444,898.5 L445,898.5 L446,898.5 L447,898.6 L448,898.6 L449,898.6 L450,898.6 L451,898.6 L452,898.6 L453,898.6 L454,898.7 L455,898.7 L456,898.7 L457,898.7 L458,898.7 L459,898.7 L460,898.7 L461,898.7 L462,898.8 L463,898.8 L464,898.8 L465,898.8 L466,898.8 L467,898.8 L468,898.8 L469,898.8 L470,898.9 L471,898.9 L472,898.9 L473,898.9 L474,898.9 L475,898.9 L476,898.9 L477,898.9 L478,899 L479,899 L480,899 L481,899 L482,899 L483,899 L484,899 L485,899 L486,899.1 L487,899.1 L488,899.1 L489,899.1 L490,899.1 L491,899.1 L492,899.2 L493,899.2 L494,899.2 L495,899.2 L496,899.2 L497,899.2 L498,899.3 L499,899.3 L500,899.3 L501,899.3 L502,899.4 L503,899.4 L504,899.4 L505,899.4 L506,899.4 L507,899.5 L508,899.5 L509,899.5 L510,899.5 L511,899.6 L512,899.6 L513,899.6 L514,899.6 L515,899.7 L516,899.7 L517,899.7 L518,899.7 L519,899.8 L520,899.8 L521,899.8 L522,899.8 L523,899.9 L524,899.9 L525,899.9 L526,899.9 L527,900 L528,900 L529,900 L530,900 L531,900 L532,900.1 L533,900.1 L534,900.1 L535,900.1 L536,900.1 L537,900.2 L538,900.2 L539,900.2 L540,900.2 L541,900.2 L542,900.2 L543,900.2 L544,900.3 L545,900.3 L546,900.3 L547,900.3 L548,900.3 L549,900.3 L550,900.3 L551,900.3 L552,900.4 L553,900.4 L554,900.4 L555,900.4 L556,900.4 L557,900.4 L558,900.4 L559,900.4 L560,900.4 L561,900.5 L562,900.5 L563,900.5 L564,900.5 L565,900.5 L566,900.5 L567,900.5 L568,900.5 L569,900.5 L570,900.6 L571,900.6 L572,900.6 L573,900.6 L574,900.6 L575,900.6 L576,900.6 L577,900.6 L578,900.6 L579,900.6 L580,900.6 L581,900.7 L582,900.7 L583,900.7 L584,900.7 L585,900.7 L586,900.7 L587,900.7 L588,900.7 L589,900.7 L590,900.7 L591,900.8 L592,900.8 L593,900.8 L594,900.8 L595,900.8 L596,900.8 L597,900.8 L598,900.8 L599,900.8 L600,900.8 L601,900.8 L602,900.9 L603,900.9 L604,900.9 L605,900.9 L606,900.9 L607,900.9 L608,900.9 L609,900.9 L610,900.9 L611,900.9 L612,900.9 L613,901 L614,901 L615,901 L616,901 L617,901 L618,901 L619,901 L620,901 L621,901 L622,901 L623,901 L624,901.1 L625,901.1 L626,901.1 L627,901.1 L628,901.1 L629,901.1 L630,901.1 L631,901.1 L632,901.1 L633,901.1 L634,901.2 L635,901.2 L636,901.2 L637,901.2 L638,901.2 L639,901.2 L640,901.2 L641,901.2 L642,901.2 L643,901.2 L644,901.3 L645,901.3 L646,901.3 L647,901.3 L648,901.3 L649,901.3 L650,901.3 L651,901.3 L652,901.3 L653,901.3 L654,901.4 L655,901.4 L656,901.4 L657,901.4 L658,901.4 L659,901.4 L660,901.4 L661,901.4 L662,901.4 L663,901.4 L664,901.5 L665,901.5 L666,901.5 L667,901.5 L668,901.5 L669,901.5 L670,901.5 L671,901.5 L672,901.5 L673,901.5 L674,901.5 L675,901.6 L676,901.6 L677,901.6 L678,901.6 L679,901.6 L680,901.6 L681,901.6 L682,901.6 L683,901.6 L684,901.6 L685,901.6 L686,901.7 L687,901.7 L688,901.7 L689,901.7 L690,901.7 L691,901.7 L692,901.7 L693,901.7 L694,901.7 L695,901.7 L696,901.7 L697,901.8 L698,901.8 L699,901.8 L700,901.8 L701,901.8 L702,901.8 L703,901.8 L704,901.8 L705,901.8 L706,901.8 L707,901.8 L708,901.9 L709,901.9 L710,901.9 L711,901.9 L712,901.9 L713,901.9 L714,901.9 L715,901.9 L716,901.9 L717,901.9 L718,901.9 L719,901.9 L720,902 L721,902 L722,902 L723,902 L724,902 L725,902 L726,902 L727,902 L728,902 L729,902 L730,902 L731,902.1 L732,902.1 L733,902.1 L734,902.1 L735,902.1 L736,902.1 L737,902.1 L738,902.1 L739,902.1 L740,902.1 L741,902.1 L742,902.1 L743,902.2 L744,902.2 L745,902.2 L746,902.2 L747,902.2 L747.8,902.2" fill="none" stroke="#0000FF" stroke-width="1.6" stroke-linejoin="round" stroke-linecap="round"/>
<path d="M298,894.6 L299,894.6 L300,894.6 L301,894.5 L302,894.5 L303,894.5 L304,894.5 L305,894.4 L306,894.4 L307,894.4 L308,894.4 L309,894.3 L310,894.3 L311,894.3 L312,894.3 L313,894.2 L314,894.2 L315,894.2 L316,894.1 L317,894.1 L318,894.1 L319,894 L320,894 L321,893.9 L322,893.9 L323,893.9 L324,893.8 L325,893.8 L326,893.7 L327,893.7 L328,893.6 L329,893.6 L330,893.5 L331,893.5 L332,893.4 L333,893.3 L334,893.3 L335,893.2 L336,893.2 L337,893.1 L338,893 L339,893 L340,892.9 L341,892.8 L342,892.7 L343,892.6 L344,892.5 L345,892.5 L346,892.4 L347,892.3 L348,892.2 L349,892 L350,891.9 L351,891.8 L352,891.7 L353,891.5 L354,891.4 L355,891.2 L356,891.1 L357,890.9 L358,890.7 L359,890.5 L360,890.3 L361,890.1 L362,889.9 L363,889.6 L364,889.4 L365,889.1 L366,888.8 L367,888.4 L368,888.1 L369,887.7 L370,887.3 L371,886.8 L372,886.3 L373,885.8 L374,885.3 L375,884.7 L376,884 L377,883.3 L378,882.6 L379,881.8 L380,881 L381,880 L382,879.1 L383,878 L384,876.9 L385,875.8 L386,874.5 L387,873.2 L388,871.8 L389,870.4 L390,868.8 L391,867.2 L392,865.5 L393,863.8 L394,861.9 L395,860 L396,858 L397,856 L398,853.9 L399,851.7 L400,849.5 L401,847.2 L402,844.9 L403,842.5 L404,840.1 L405,837.7 L406,835.3 L407,832.9 L408,830.6 L409,828.2 L410,826 L411,823.8 L412,821.7 L413,819.7 L414,817.9 L415,816.2 L416,814.7 L417,813.4 L418,812.3 L419,811.4 L420,810.8 L421,810.4 L422,810.3 L423,810.5 L424,810.9 L425,811.5 L426,812.4 L427,813.5 L428,814.8 L429,816.2 L430,817.9 L431,819.7 L432,821.6 L433,823.6 L434,825.7 L435,827.9 L436,830.1 L437,832.4 L438,834.6 L439,836.9 L440,839.1 L441,841.3 L442,843.4 L443,845.5 L444,847.5 L445,849.5 L446,851.3 L447,853.1 L448,854.7 L449,856.3 L450,857.7 L451,859.1 L452,860.3 L453,861.4 L454,862.4 L455,863.3 L456,864 L457,864.7 L458,865.3 L459,865.8 L460,866.3 L461,866.7 L462,867 L463,867.3 L464,867.6 L465,867.8 L466,868 L467,868.1 L468,868.2 L469,868.2 L470,868.1 L471,868 L472,867.8 L473,867.5 L474,867.1 L475,866.6 L476,865.9 L477,865.1 L478,864.1 L479,863 L480,861.7 L481,860.3 L482,858.7 L483,856.9 L484,854.9 L485,852.7 L486,850.4 L487,848 L488,845.3 L489,842.5 L490,839.6 L491,836.5 L492,833.3 L493,830 L494,826.6 L495,823.1 L496,819.5 L497,815.8 L498,812.1 L499,808.4 L500,804.7 L501,801 L502,797.4 L503,793.9 L504,790.5 L505,787.3 L506,784.3 L507,781.5 L508,779 L509,776.8 L510,775 L511,773.6 L512,772.6 L513,772.1 L514,772 L515,772.3 L516,773.1 L517,774.4 L518,776 L519,778 L520,780.4 L521,783.1 L522,786.1 L523,789.3 L524,792.7 L525,796.3 L526,800 L527,803.8 L528,807.7 L529,811.5 L530,815.4 L531,819.3 L532,823.1 L533,826.9 L534,830.6 L535,834.2 L536,837.7 L537,841 L538,844.3 L539,847.5 L540,850.5 L541,853.4 L542,856.1 L543,858.8 L544,861.2 L545,863.6 L546,865.8 L547,867.9 L548,869.9 L549,871.7 L550,873.4 L551,875 L552,876.5 L553,877.9 L554,879.2 L555,880.4 L556,881.6 L557,882.6 L558,883.5 L559,884.4 L560,885.2 L561,886 L562,886.7 L563,887.3 L564,887.9 L565,888.5 L566,889 L567,889.5 L568,889.9 L569,890.3 L570,890.7 L571,891 L572,891.4 L573,891.7 L574,892 L575,892.2 L576,892.5 L577,892.7 L578,892.9 L579,893.2 L580,893.4 L581,893.5 L582,893.7 L583,893.9 L584,894.1 L585,894.2 L586,894.4 L587,894.5 L588,894.6 L589,894.8 L590,894.9 L591,895 L592,895.1 L593,895.2 L594,895.3 L595,895.4 L596,895.5 L597,895.5 L598,895.6 L599,895.7 L600,895.7 L601,895.8 L602,895.8 L603,895.8 L604,895.9 L605,895.9 L606,895.9 L607,895.9 L608,895.9 L609,895.9 L610,895.9 L611,895.8 L612,895.8 L613,895.7 L614,895.7 L615,895.6 L616,895.5 L617,895.4 L618,895.3 L619,895.2 L620,895.1 L621,895 L622,894.8 L623,894.7 L624,894.5 L625,894.3 L626,894.2 L627,894 L628,893.8 L629,893.6 L630,893.4 L631,893.2 L632,893 L633,892.8 L634,892.6 L635,892.3 L636,892.1 L637,891.9 L638,891.7 L639,891.5 L640,891.3 L641,891.2 L642,891 L643,890.9 L644,890.7 L645,890.6 L646,890.5 L647,890.4 L648,890.4 L649,890.4 L650,890.4 L651,890.4 L652,890.4 L653,890.5 L654,890.6 L655,890.7 L656,890.8 L657,891 L658,891.2 L659,891.4 L660,891.6 L661,891.8 L662,892.1 L663,892.3 L664,892.6 L665,892.9 L666,893.2 L667,893.4 L668,893.7 L669,894 L670,894.3 L671,894.6 L672,894.9 L673,895.1 L674,895.4 L675,895.7 L676,896 L677,896.2 L678,896.5 L679,896.7 L680,896.9 L681,897.2 L682,897.4 L683,897.6 L684,897.8 L685,898 L686,898.1 L687,898.3 L688,898.5 L689,898.6 L690,898.8 L691,898.9 L692,899 L693,899.2 L694,899.3 L695,899.4 L696,899.5 L697,899.6 L698,899.7 L699,899.8 L700,899.8 L701,899.9 L702,900 L703,900 L704,900.1 L705,900.2 L706,900.2 L707,900.3 L708,900.3 L709,900.3 L710,900.4 L711,900.4 L712,900.5 L713,900.5 L714,900.5 L715,900.6 L716,900.6 L717,900.6 L718,900.7 L719,900.7 L720,900.7 L721,900.7 L722,900.8 L723,900.8 L724,900.8 L725,900.8 L726,900.9 L727,900.9 L728,900.9 L729,900.9 L730,901 L731,901 L732,901 L733,901 L734,901 L735,901.1 L736,901.1 L737,901.1 L738,901.1 L739,901.1 L740,901.2 L741,901.2 L742,901.2 L743,901.2 L744,901.2 L745,901.3 L746,901.3 L747,901.3 L747.8,901.3" fill="none" stroke="#FF0000" stroke-width="2.0" stroke-linejoin="round" stroke-linecap="round"/>
<path d="M298,895.2 L299,895.2 L300,895.2 L301,895.2 L302,895.2 L303,895.2 L304,895.1 L305,895.1 L306,895.1 L307,895.1 L308,895.1 L309,895 L310,895 L311,895 L312,895 L313,894.9 L314,894.9 L315,894.9 L316,894.9 L317,894.8 L318,894.8 L319,894.8 L320,894.8 L321,894.7 L322,894.7 L323,894.7 L324,894.6 L325,894.6 L326,894.5 L327,894.5 L328,894.5 L329,894.4 L330,894.4 L331,894.3 L332,894.3 L333,894.2 L334,894.2 L335,894.1 L336,894.1 L337,894 L338,894 L339,893.9 L340,893.8 L341,893.8 L342,893.7 L343,893.6 L344,893.6 L345,893.5 L346,893.4 L347,893.3 L348,893.2 L349,893.1 L350,893 L351,892.9 L352,892.8 L353,892.7 L354,892.5 L355,892.4 L356,892.2 L357,892.1 L358,891.9 L359,891.7 L360,891.6 L361,891.4 L362,891.1 L363,890.9 L364,890.6 L365,890.4 L366,890.1 L367,889.8 L368,889.4 L369,889.1 L370,888.7 L371,888.2 L372,887.8 L373,887.3 L374,886.7 L375,886.2 L376,885.5 L377,884.9 L378,884.1 L379,883.4 L380,882.6 L381,881.7 L382,880.7 L383,879.7 L384,878.6 L385,877.5 L386,876.3 L387,875 L388,873.6 L389,872.2 L390,870.7 L391,869.1 L392,867.5 L393,865.7 L394,863.9 L395,862 L396,860.1 L397,858.1 L398,856 L399,853.8 L400,851.6 L401,849.4 L402,847.1 L403,844.8 L404,842.5 L405,840.1 L406,837.7 L407,835.4 L408,833.1 L409,830.8 L410,828.6 L411,826.5 L412,824.4 L413,822.5 L414,820.7 L415,819.1 L416,817.6 L417,816.4 L418,815.3 L419,814.5 L420,814 L421,813.7 L422,813.6 L423,813.8 L424,814.3 L425,815 L426,815.9 L427,817.1 L428,818.5 L429,820.1 L430,821.8 L431,823.7 L432,825.7 L433,827.8 L434,830 L435,832.3 L436,834.6 L437,837 L438,839.4 L439,841.8 L440,844.2 L441,846.5 L442,848.9 L443,851.2 L444,853.4 L445,855.6 L446,857.8 L447,859.9 L448,861.9 L449,863.8 L450,865.7 L451,867.5 L452,869.2 L453,870.9 L454,872.5 L455,874 L456,875.4 L457,876.7 L458,878 L459,879.2 L460,880.4 L461,881.4 L462,882.4 L463,883.4 L464,884.2 L465,885.1 L466,885.8 L467,886.6 L468,887.2 L469,887.9 L470,888.4 L471,889 L472,889.5 L473,890 L474,890.4 L475,890.8 L476,891.2 L477,891.5 L478,891.9 L479,892.2 L480,892.4 L481,892.7 L482,893 L483,893.2 L484,893.4 L485,893.6 L486,893.8 L487,894 L488,894.2 L489,894.4 L490,894.5 L491,894.7 L492,894.8 L493,894.9 L494,895.1 L495,895.2 L496,895.3 L497,895.5 L498,895.6 L499,895.7 L500,895.8 L501,895.9 L502,896 L503,896.1 L504,896.2 L505,896.3 L506,896.4 L507,896.5 L508,896.6 L509,896.6 L510,896.7 L511,896.8 L512,896.9 L513,897 L514,897.1 L515,897.1 L516,897.2 L517,897.3 L518,897.4 L519,897.4 L520,897.5 L521,897.6 L522,897.6 L523,897.7 L524,897.8 L525,897.8 L526,897.9 L527,897.9 L528,898 L529,898.1 L530,898.1 L531,898.2 L532,898.2 L533,898.3 L534,898.3 L535,898.4 L536,898.4 L537,898.5 L538,898.5 L539,898.5 L540,898.6 L541,898.6 L542,898.7 L543,898.7 L544,898.7 L545,898.8 L546,898.8 L547,898.9 L548,898.9 L549,898.9 L550,899 L551,899 L552,899 L553,899.1 L554,899.1 L555,899.1 L556,899.1 L557,899.2 L558,899.2 L559,899.2 L560,899.3 L561,899.3 L562,899.3 L563,899.3 L564,899.4 L565,899.4 L566,899.4 L567,899.4 L568,899.5 L569,899.5 L570,899.5 L571,899.5 L572,899.6 L573,899.6 L574,899.6 L575,899.6 L576,899.6 L577,899.7 L578,899.7 L579,899.7 L580,899.7 L581,899.8 L582,899.8 L583,899.8 L584,899.8 L585,899.8 L586,899.9 L587,899.9 L588,899.9 L589,899.9 L590,899.9 L591,900 L592,900 L593,900 L594,900 L595,900 L596,900 L597,900.1 L598,900.1 L599,900.1 L600,900.1 L601,900.1 L602,900.1 L603,900.2 L604,900.2 L605,900.2 L606,900.2 L607,900.2 L608,900.2 L609,900.3 L610,900.3 L611,900.3 L612,900.3 L613,900.3 L614,900.3 L615,900.4 L616,900.4 L617,900.4 L618,900.4 L619,900.4 L620,900.4 L621,900.4 L622,900.5 L623,900.5 L624,900.5 L625,900.5 L626,900.5 L627,900.5 L628,900.6 L629,900.6 L630,900.6 L631,900.6 L632,900.6 L633,900.6 L634,900.6 L635,900.7 L636,900.7 L637,900.7 L638,900.7 L639,900.7 L640,900.7 L641,900.7 L642,900.8 L643,900.8 L644,900.8 L645,900.8 L646,900.8 L647,900.8 L648,900.8 L649,900.9 L650,900.9 L651,900.9 L652,900.9 L653,900.9 L654,900.9 L655,900.9 L656,901 L657,901 L658,901 L659,901 L660,901 L661,901 L662,901 L663,901 L664,901.1 L665,901.1 L666,901.1 L667,901.1 L668,901.1 L669,901.1 L670,901.1 L671,901.1 L672,901.2 L673,901.2 L674,901.2 L675,901.2 L676,901.2 L677,901.2 L678,901.2 L679,901.2 L680,901.3 L681,901.3 L682,901.3 L683,901.3 L684,901.3 L685,901.3 L686,901.3 L687,901.3 L688,901.3 L689,901.4 L690,901.4 L691,901.4 L692,901.4 L693,901.4 L694,901.4 L695,901.4 L696,901.4 L697,901.4 L698,901.5 L699,901.5 L700,901.5 L701,901.5 L702,901.5 L703,901.5 L704,901.5 L705,901.5 L706,901.5 L707,901.6 L708,901.6 L709,901.6 L710,901.6 L711,901.6 L712,901.6 L713,901.6 L714,901.6 L715,901.6 L716,901.7 L717,901.7 L718,901.7 L719,901.7 L720,901.7 L721,901.7 L722,901.7 L723,901.7 L724,901.7 L725,901.7 L726,901.8 L727,901.8 L728,901.8 L729,901.8 L730,901.8 L731,901.8 L732,901.8 L733,901.8 L734,901.8 L735,901.9 L736,901.9 L737,901.9 L738,901.9 L739,901.9 L740,901.9 L741,901.9 L742,901.9 L743,901.9 L744,901.9 L745,902 L746,902 L747,902 L747.8,902" fill="none" stroke="#808000" stroke-width="2.0" stroke-linejoin="round" stroke-linecap="round"/>
<path d="M298,896.1 L299,896.1 L300,896.1 L301,896.1 L302,896.1 L303,896.1 L304,896.1 L305,896.1 L306,896.1 L307,896.1 L308,896.1 L309,896.1 L310,896.1 L311,896.1 L312,896.1 L313,896.1 L314,896.1 L315,896.1 L316,896.1 L317,896.1 L318,896.1 L319,896.1 L320,896.1 L321,896.1 L322,896.1 L323,896.1 L324,896.1 L325,896.1 L326,896.1 L327,896.1 L328,896.1 L329,896.1 L330,896.1 L331,896.1 L332,896.1 L333,896.1 L334,896.1 L335,896.1 L336,896.1 L337,896.1 L338,896.1 L339,896.1 L340,896.1 L341,896.1 L342,896.1 L343,896.1 L344,896.1 L345,896.1 L346,896.1 L347,896.1 L348,896.1 L349,896.1 L350,896.1 L351,896.1 L352,896.1 L353,896.1 L354,896.1 L355,896.1 L356,896.1 L357,896.1 L358,896.1 L359,896.1 L360,896.1 L361,896.1 L362,896 L363,896 L364,896 L365,896 L366,896 L367,896 L368,896 L369,896 L370,896 L371,896 L372,896 L373,896 L374,895.9 L375,895.9 L376,895.9 L377,895.9 L378,895.9 L379,895.9 L380,895.9 L381,895.9 L382,895.9 L383,895.8 L384,895.8 L385,895.8 L386,895.8 L387,895.8 L388,895.8 L389,895.8 L390,895.7 L391,895.7 L392,895.7 L393,895.7 L394,895.7 L395,895.6 L396,895.6 L397,895.6 L398,895.6 L399,895.6 L400,895.5 L401,895.5 L402,895.5 L403,895.5 L404,895.5 L405,895.4 L406,895.4 L407,895.4 L408,895.4 L409,895.3 L410,895.3 L411,895.3 L412,895.2 L413,895.2 L414,895.2 L415,895.1 L416,895.1 L417,895.1 L418,895 L419,895 L420,894.9 L421,894.9 L422,894.8 L423,894.8 L424,894.7 L425,894.7 L426,894.6 L427,894.6 L428,894.5 L429,894.5 L430,894.4 L431,894.3 L432,894.3 L433,894.2 L434,894.1 L435,894 L436,893.9 L437,893.8 L438,893.7 L439,893.6 L440,893.5 L441,893.4 L442,893.3 L443,893.2 L444,893 L445,892.9 L446,892.8 L447,892.6 L448,892.4 L449,892.3 L450,892.1 L451,891.9 L452,891.7 L453,891.4 L454,891.2 L455,890.9 L456,890.6 L457,890.3 L458,890 L459,889.7 L460,889.3 L461,888.9 L462,888.4 L463,887.9 L464,887.4 L465,886.9 L466,886.2 L467,885.6 L468,884.8 L469,884 L470,883.2 L471,882.2 L472,881.2 L473,880.1 L474,879 L475,877.7 L476,876.3 L477,874.8 L478,873.2 L479,871.5 L480,869.7 L481,867.8 L482,865.7 L483,863.5 L484,861.2 L485,858.7 L486,856.1 L487,853.4 L488,850.5 L489,847.5 L490,844.4 L491,841.2 L492,837.8 L493,834.4 L494,830.8 L495,827.2 L496,823.5 L497,819.7 L498,815.9 L499,812.1 L500,808.3 L501,804.5 L502,800.8 L503,797.2 L504,793.8 L505,790.5 L506,787.4 L507,784.6 L508,782 L509,779.8 L510,777.9 L511,776.5 L512,775.4 L513,774.8 L514,774.6 L515,774.9 L516,775.7 L517,776.9 L518,778.5 L519,780.5 L520,782.8 L521,785.5 L522,788.4 L523,791.6 L524,795 L525,798.5 L526,802.2 L527,805.9 L528,809.7 L529,813.6 L530,817.4 L531,821.3 L532,825.1 L533,828.8 L534,832.4 L535,836 L536,839.5 L537,842.8 L538,846.1 L539,849.2 L540,852.2 L541,855.1 L542,857.8 L543,860.4 L544,862.9 L545,865.2 L546,867.4 L547,869.5 L548,871.4 L549,873.2 L550,875 L551,876.5 L552,878 L553,879.4 L554,880.7 L555,881.9 L556,883 L557,884 L558,884.9 L559,885.8 L560,886.6 L561,887.3 L562,888 L563,888.7 L564,889.2 L565,889.8 L566,890.3 L567,890.7 L568,891.2 L569,891.6 L570,891.9 L571,892.3 L572,892.6 L573,892.9 L574,893.2 L575,893.4 L576,893.7 L577,893.9 L578,894.1 L579,894.3 L580,894.5 L581,894.7 L582,894.9 L583,895.1 L584,895.2 L585,895.4 L586,895.5 L587,895.7 L588,895.8 L589,896 L590,896.1 L591,896.2 L592,896.3 L593,896.4 L594,896.6 L595,896.7 L596,896.8 L597,896.9 L598,897 L599,897.1 L600,897.1 L601,897.2 L602,897.3 L603,897.4 L604,897.5 L605,897.6 L606,897.6 L607,897.7 L608,897.8 L609,897.9 L610,897.9 L611,898 L612,898.1 L613,898.1 L614,898.2 L615,898.3 L616,898.3 L617,898.4 L618,898.4 L619,898.5 L620,898.5 L621,898.6 L622,898.6 L623,898.7 L624,898.8 L625,898.8 L626,898.8 L627,898.9 L628,898.9 L629,899 L630,899 L631,899.1 L632,899.1 L633,899.2 L634,899.2 L635,899.2 L636,899.3 L637,899.3 L638,899.4 L639,899.4 L640,899.4 L641,899.5 L642,899.5 L643,899.5 L644,899.6 L645,899.6 L646,899.7 L647,899.7 L648,899.7 L649,899.8 L650,899.8 L651,899.8 L652,899.8 L653,899.9 L654,899.9 L655,899.9 L656,900 L657,900 L658,900 L659,900.1 L660,900.1 L661,900.1 L662,900.1 L663,900.2 L664,900.2 L665,900.2 L666,900.2 L667,900.3 L668,900.3 L669,900.3 L670,900.3 L671,900.4 L672,900.4 L673,900.4 L674,900.4 L675,900.5 L676,900.5 L677,900.5 L678,900.5 L679,900.5 L680,900.6 L681,900.6 L682,900.6 L683,900.6 L684,900.7 L685,900.7 L686,900.7 L687,900.7 L688,900.7 L689,900.8 L690,900.8 L691,900.8 L692,900.8 L693,900.8 L694,900.8 L695,900.9 L696,900.9 L697,900.9 L698,900.9 L699,900.9 L700,901 L701,901 L702,901 L703,901 L704,901 L705,901 L706,901.1 L707,901.1 L708,901.1 L709,901.1 L710,901.1 L711,901.1 L712,901.2 L713,901.2 L714,901.2 L715,901.2 L716,901.2 L717,901.2 L718,901.3 L719,901.3 L720,901.3 L721,901.3 L722,901.3 L723,901.3 L724,901.3 L725,901.4 L726,901.4 L727,901.4 L728,901.4 L729,901.4 L730,901.4 L731,901.4 L732,901.5 L733,901.5 L734,901.5 L735,901.5 L736,901.5 L737,901.5 L738,901.5 L739,901.6 L740,901.6 L741,901.6 L742,901.6 L743,901.6 L744,901.6 L745,901.6 L746,901.6 L747,901.7 L747.8,901.7" fill="none" stroke="#FF00FF" stroke-width="2.0" stroke-linejoin="round" stroke-linecap="round"/>
<path d="M298,896.7 L299,896.7 L300,896.7 L301,896.7 L302,896.7 L303,896.7 L304,896.7 L305,896.7 L306,896.8 L307,896.8 L308,896.8 L309,896.8 L310,896.8 L311,896.8 L312,896.8 L313,896.8 L314,896.8 L315,896.8 L316,896.8 L317,896.9 L318,896.9 L319,896.9 L320,896.9 L321,896.9 L322,896.9 L323,896.9 L324,896.9 L325,896.9 L326,896.9 L327,896.9 L328,897 L329,897 L330,897 L331,897 L332,897 L333,897 L334,897 L335,897 L336,897 L337,897 L338,897 L339,897.1 L340,897.1 L341,897.1 L342,897.1 L343,897.1 L344,897.1 L345,897.1 L346,897.1 L347,897.1 L348,897.1 L349,897.1 L350,897.2 L351,897.2 L352,897.2 L353,897.2 L354,897.2 L355,897.2 L356,897.2 L357,897.2 L358,897.2 L359,897.2 L360,897.2 L361,897.3 L362,897.3 L363,897.3 L364,897.3 L365,897.3 L366,897.3 L367,897.3 L368,897.3 L369,897.3 L370,897.3 L371,897.3 L372,897.4 L373,897.4 L374,897.4 L375,897.4 L376,897.4 L377,897.4 L378,897.4 L379,897.4 L380,897.4 L381,897.5 L382,897.5 L383,897.5 L384,897.5 L385,897.5 L386,897.5 L387,897.5 L388,897.5 L389,897.5 L390,897.6 L391,897.6 L392,897.6 L393,897.6 L394,897.6 L395,897.6 L396,897.6 L397,897.6 L398,897.7 L399,897.7 L400,897.7 L401,897.7 L402,897.7 L403,897.7 L404,897.7 L405,897.8 L406,897.8 L407,897.8 L408,897.8 L409,897.8 L410,897.8 L411,897.9 L412,897.9 L413,897.9 L414,897.9 L415,897.9 L416,898 L417,898 L418,898 L419,898 L420,898 L421,898.1 L422,898.1 L423,898.1 L424,898.1 L425,898.1 L426,898.2 L427,898.2 L428,898.2 L429,898.2 L430,898.2 L431,898.3 L432,898.3 L433,898.3 L434,898.3 L435,898.3 L436,898.3 L437,898.4 L438,898.4 L439,898.4 L440,898.4 L441,898.4 L442,898.4 L443,898.5 L444,898.5 L445,898.5 L446,898.5 L447,898.5 L448,898.5 L449,898.6 L450,898.6 L451,898.6 L452,898.6 L453,898.6 L454,898.6 L455,898.6 L456,898.6 L457,898.7 L458,898.7 L459,898.7 L460,898.7 L461,898.7 L462,898.7 L463,898.7 L464,898.7 L465,898.8 L466,898.8 L467,898.8 L468,898.8 L469,898.8 L470,898.8 L471,898.8 L472,898.8 L473,898.8 L474,898.9 L475,898.9 L476,898.9 L477,898.9 L478,898.9 L479,898.9 L480,898.9 L481,898.9 L482,899 L483,899 L484,899 L485,899 L486,899 L487,899 L488,899 L489,899.1 L490,899.1 L491,899.1 L492,899.1 L493,899.1 L494,899.1 L495,899.2 L496,899.2 L497,899.2 L498,899.2 L499,899.2 L500,899.2 L501,899.3 L502,899.3 L503,899.3 L504,899.3 L505,899.4 L506,899.4 L507,899.4 L508,899.4 L509,899.4 L510,899.5 L511,899.5 L512,899.5 L513,899.5 L514,899.6 L515,899.6 L516,899.6 L517,899.6 L518,899.7 L519,899.7 L520,899.7 L521,899.7 L522,899.8 L523,899.8 L524,899.8 L525,899.8 L526,899.8 L527,899.9 L528,899.9 L529,899.9 L530,899.9 L531,899.9 L532,900 L533,900 L534,900 L535,900 L536,900 L537,900 L538,900.1 L539,900.1 L540,900.1 L541,900.1 L542,900.1 L543,900.1 L544,900.1 L545,900.1 L546,900.2 L547,900.2 L548,900.2 L549,900.2 L550,900.2 L551,900.2 L552,900.2 L553,900.2 L554,900.2 L555,900.2 L556,900.2 L557,900.3 L558,900.3 L559,900.3 L560,900.3 L561,900.3 L562,900.3 L563,900.3 L564,900.3 L565,900.3 L566,900.3 L567,900.3 L568,900.3 L569,900.3 L570,900.3 L571,900.3 L572,900.3 L573,900.4 L574,900.4 L575,900.4 L576,900.4 L577,900.4 L578,900.4 L579,900.4 L580,900.4 L581,900.4 L582,900.4 L583,900.4 L584,900.4 L585,900.4 L586,900.4 L587,900.4 L588,900.4 L589,900.3 L590,900.3 L591,900.3 L592,900.3 L593,900.3 L594,900.3 L595,900.3 L596,900.2 L597,900.2 L598,900.2 L599,900.2 L600,900.1 L601,900.1 L602,900 L603,900 L604,899.9 L605,899.9 L606,899.8 L607,899.8 L608,899.7 L609,899.6 L610,899.5 L611,899.4 L612,899.3 L613,899.2 L614,899.1 L615,898.9 L616,898.8 L617,898.7 L618,898.5 L619,898.3 L620,898.2 L621,898 L622,897.8 L623,897.6 L624,897.4 L625,897.2 L626,897 L627,896.7 L628,896.5 L629,896.3 L630,896 L631,895.8 L632,895.5 L633,895.3 L634,895 L635,894.8 L636,894.5 L637,894.3 L638,894.1 L639,893.8 L640,893.6 L641,893.4 L642,893.2 L643,893 L644,892.9 L645,892.7 L646,892.6 L647,892.5 L648,892.4 L649,892.4 L650,892.3 L651,892.3 L652,892.3 L653,892.4 L654,892.5 L655,892.6 L656,892.7 L657,892.8 L658,893 L659,893.1 L660,893.3 L661,893.6 L662,893.8 L663,894 L664,894.3 L665,894.5 L666,894.8 L667,895 L668,895.3 L669,895.6 L670,895.8 L671,896.1 L672,896.4 L673,896.6 L674,896.9 L675,897.1 L676,897.4 L677,897.6 L678,897.9 L679,898.1 L680,898.3 L681,898.5 L682,898.7 L683,898.9 L684,899.1 L685,899.3 L686,899.4 L687,899.6 L688,899.8 L689,899.9 L690,900 L691,900.1 L692,900.3 L693,900.4 L694,900.5 L695,900.6 L696,900.7 L697,900.7 L698,900.8 L699,900.9 L700,901 L701,901 L702,901.1 L703,901.1 L704,901.2 L705,901.2 L706,901.3 L707,901.3 L708,901.4 L709,901.4 L710,901.4 L711,901.4 L712,901.5 L713,901.5 L714,901.5 L715,901.6 L716,901.6 L717,901.6 L718,901.6 L719,901.6 L720,901.7 L721,901.7 L722,901.7 L723,901.7 L724,901.7 L725,901.7 L726,901.8 L727,901.8 L728,901.8 L729,901.8 L730,901.8 L731,901.8 L732,901.9 L733,901.9 L734,901.9 L735,901.9 L736,901.9 L737,901.9 L738,901.9 L739,901.9 L740,902 L741,902 L742,902 L743,902 L744,902 L745,902 L746,902 L747,902 L747.8,902" fill="none" stroke="#008080" stroke-width="2.0" stroke-linejoin="round" stroke-linecap="round"/>
<line x1="418.4" y1="547" x2="418.4" y2="917" stroke="#222" stroke-width="1.1" stroke-dasharray="1.2,1.3"/>
<line x1="514.8" y1="515" x2="514.8" y2="920.3" stroke="#222" stroke-width="1.1" stroke-dasharray="1.2,1.3"/>
<line x1="653" y1="596" x2="653" y2="922.3" stroke="#222" stroke-width="1.1" stroke-dasharray="1.2,1.3"/>
<rect x="278.7" y="509.6" width="470.7" height="421.4" fill="none" stroke="#333" stroke-width="1.3"/>
<line x1="278" y1="931" x2="749.7" y2="931" stroke="#111" stroke-width="1.8"/>
<line x1="278.7" y1="931" x2="278.7" y2="936.5" stroke="#111" stroke-width="1.5"/>
<line x1="357.1" y1="931" x2="357.1" y2="936.5" stroke="#111" stroke-width="1.5"/>
<line x1="435.5" y1="931" x2="435.5" y2="936.5" stroke="#111" stroke-width="1.5"/>
<line x1="513.9" y1="931" x2="513.9" y2="936.5" stroke="#111" stroke-width="1.5"/>
<line x1="592.3" y1="931" x2="592.3" y2="936.5" stroke="#111" stroke-width="1.5"/>
<line x1="670.7" y1="931" x2="670.7" y2="936.5" stroke="#111" stroke-width="1.5"/>
<line x1="749.1" y1="931" x2="749.1" y2="936.5" stroke="#111" stroke-width="1.5"/>
<line x1="317.9" y1="931" x2="317.9" y2="934.5" stroke="#111" stroke-width="1.5"/>
<line x1="396.3" y1="931" x2="396.3" y2="934.5" stroke="#111" stroke-width="1.5"/>
<line x1="474.7" y1="931" x2="474.7" y2="934.5" stroke="#111" stroke-width="1.5"/>
<line x1="553.1" y1="931" x2="553.1" y2="934.5" stroke="#111" stroke-width="1.5"/>
<line x1="631.5" y1="931" x2="631.5" y2="934.5" stroke="#111" stroke-width="1.5"/>
<line x1="709.9" y1="931" x2="709.9" y2="934.5" stroke="#111" stroke-width="1.5"/>
<text x="278.7" y="950.4" font-family='"Liberation Sans", sans-serif' font-size="14.6" fill="#000" text-anchor="middle" >188</text>
<text x="357.1" y="950.4" font-family='"Liberation Sans", sans-serif' font-size="14.6" fill="#000" text-anchor="middle" >186</text>
<text x="435.5" y="950.4" font-family='"Liberation Sans", sans-serif' font-size="14.6" fill="#000" text-anchor="middle" >184</text>
<text x="513.9" y="950.4" font-family='"Liberation Sans", sans-serif' font-size="14.6" fill="#000" text-anchor="middle" >182</text>
<text x="592.3" y="950.4" font-family='"Liberation Sans", sans-serif' font-size="14.6" fill="#000" text-anchor="middle" >180</text>
<text x="670.7" y="950.4" font-family='"Liberation Sans", sans-serif' font-size="14.6" fill="#000" text-anchor="middle" >178</text>
<text x="749.1" y="950.4" font-family='"Liberation Sans", sans-serif' font-size="14.6" fill="#000" text-anchor="middle" >176</text>
<text x="513.5" y="968.6" font-family='"Liberation Serif", serif' font-size="17.2" fill="#000" text-anchor="middle" >Binding energy (eV)</text>
<text x="280.7" y="530.5" font-family='"Liberation Serif", serif' font-size="21.3" fill="#000" text-anchor="start" >(c) Zr 3d</text>
<text x="279.8" y="618" font-family='"Liberation Serif", serif' font-size="17.3" fill="#000" text-anchor="start" >Ti<tspan font-size="10.5" dy="4">70</tspan><tspan dy="-4">Zr</tspan><tspan font-size="10.5" dy="4">10</tspan><tspan dy="-4">Co</tspan><tspan font-size="10.5" dy="4">20</tspan></text>
<text x="283.7" y="745" font-family='"Liberation Serif", serif' font-size="17.3" fill="#000" text-anchor="start" >Ti<tspan font-size="10.5" dy="4">60</tspan><tspan dy="-4">Zr</tspan><tspan font-size="10.5" dy="4">10</tspan><tspan dy="-4">Co</tspan><tspan font-size="10.5" dy="4">30</tspan></text>
<text x="283.7" y="875" font-family='"Liberation Serif", serif' font-size="17.3" fill="#000" text-anchor="start" >Ti<tspan font-size="10.5" dy="4">50</tspan><tspan dy="-4">Zr</tspan><tspan font-size="10.5" dy="4">10</tspan><tspan dy="-4">Co</tspan><tspan font-size="10.5" dy="4">40</tspan></text>
<text x="366.5" y="526.8" font-family='"Liberation Serif", serif' font-size="16.5" fill="#000" text-anchor="start" >ZrO<tspan font-size="8.5" dy="6.5">2</tspan></text>
<text x="451.5" y="526.9" font-family='"Liberation Serif", serif' font-size="16.5" fill="#000" text-anchor="start" >ZrO<tspan font-size="8.5" dy="6.5">2</tspan></text>
<text x="350.4" y="557.3" font-family='"Liberation Serif", serif' font-size="16.5" fill="#000" text-anchor="start" >3d<tspan font-size="9.5" dy="7">3/2</tspan><tspan dy="-7">184.4</tspan></text>
<text x="435.4" y="557.3" font-family='"Liberation Serif", serif' font-size="16.5" fill="#000" text-anchor="start" >3d<tspan font-size="9.5" dy="7">5/2</tspan><tspan dy="-7">182.0</tspan></text>
<text x="647.3" y="557.8" font-family='"Liberation Serif", serif' font-size="16.5" fill="#000" text-anchor="start" >Zr</text>
<text x="622.5" y="583.4" font-family='"Liberation Serif", serif' font-size="16.5" fill="#000" text-anchor="start" >3d<tspan font-size="9.5" dy="7">5/2</tspan><tspan dy="-7">178.7</tspan></text>
</svg>
</body></html>
